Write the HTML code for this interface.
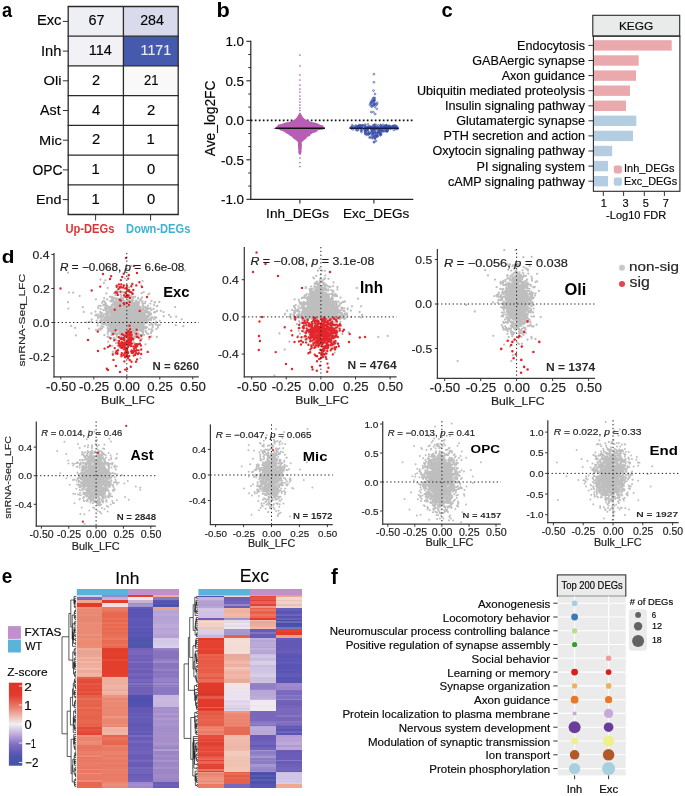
<!DOCTYPE html><html><head><meta charset="utf-8"><style>html,body{margin:0;padding:0;background:#fff;}svg{display:block;font-family:"Liberation Sans",sans-serif;will-change:transform;}text{stroke-width:0.18px;}</style></head><body><svg width="685" height="796" viewBox="0 0 685 796"><text x="2.0" y="17.2" font-size="20.55" font-weight="bold" textLength="10.1" lengthAdjust="spacingAndGlyphs">a</text>
<rect x="68.2" y="6.5" width="55.2" height="29.7" fill="#eeeef5"/>
<rect x="123.4" y="6.5" width="54.8" height="29.7" fill="#d9daec"/>
<rect x="68.2" y="36.2" width="55.2" height="29.7" fill="#f1f1f6"/>
<rect x="123.4" y="36.2" width="54.8" height="29.7" fill="#4559ad"/>
<rect x="68.2" y="65.9" width="55.2" height="29.7" fill="#ffffff"/>
<rect x="123.4" y="65.9" width="54.8" height="29.7" fill="#f9f9f9"/>
<rect x="68.2" y="95.6" width="55.2" height="29.7" fill="#ffffff"/>
<rect x="123.4" y="95.6" width="54.8" height="29.7" fill="#ffffff"/>
<rect x="68.2" y="125.3" width="55.2" height="29.7" fill="#ffffff"/>
<rect x="123.4" y="125.3" width="54.8" height="29.7" fill="#ffffff"/>
<rect x="68.2" y="155.1" width="55.2" height="29.7" fill="#ffffff"/>
<rect x="123.4" y="155.1" width="54.8" height="29.7" fill="#ffffff"/>
<rect x="68.2" y="184.8" width="55.2" height="29.7" fill="#ffffff"/>
<rect x="123.4" y="184.8" width="54.8" height="29.7" fill="#ffffff"/>
<text x="36.9" y="25.4" font-size="14.57" stroke="#1a1a1a" textLength="24.6" lengthAdjust="spacingAndGlyphs">Exc</text>
<line x1="62.8" y1="21.4" x2="68.2" y2="21.4" stroke="#333" stroke-width="1"/>
<text x="40.9" y="55.5" font-size="15.03" stroke="#1a1a1a" textLength="20.5" lengthAdjust="spacingAndGlyphs">Inh</text>
<line x1="62.8" y1="51.1" x2="68.2" y2="51.1" stroke="#333" stroke-width="1"/>
<text x="43.5" y="85.0" font-size="13.2" stroke="#1a1a1a" textLength="17.9" lengthAdjust="spacingAndGlyphs">Oli</text>
<line x1="62.8" y1="80.8" x2="68.2" y2="80.8" stroke="#333" stroke-width="1"/>
<text x="40.1" y="115.3" font-size="14.71" stroke="#1a1a1a" textLength="20.5" lengthAdjust="spacingAndGlyphs">Ast</text>
<line x1="62.8" y1="110.5" x2="68.2" y2="110.5" stroke="#333" stroke-width="1"/>
<text x="39.0" y="144.7" font-size="13.33" stroke="#1a1a1a" textLength="22.7" lengthAdjust="spacingAndGlyphs">Mic</text>
<line x1="62.8" y1="140.2" x2="68.2" y2="140.2" stroke="#333" stroke-width="1"/>
<text x="32.4" y="174.9" font-size="15.07" stroke="#1a1a1a" textLength="30.1" lengthAdjust="spacingAndGlyphs">OPC</text>
<line x1="62.8" y1="169.9" x2="68.2" y2="169.9" stroke="#333" stroke-width="1"/>
<text x="36.0" y="204.3" font-size="13.47" stroke="#1a1a1a" textLength="25.5" lengthAdjust="spacingAndGlyphs">End</text>
<line x1="62.8" y1="199.6" x2="68.2" y2="199.6" stroke="#333" stroke-width="1"/>
<text x="88.4" y="24.9" font-size="14.37" stroke="#1a1a1a" textLength="16.1" lengthAdjust="spacingAndGlyphs">67</text>
<text x="140.2" y="24.9" font-size="14.37" stroke="#1a1a1a" textLength="23.8" lengthAdjust="spacingAndGlyphs">284</text>
<text x="88.8" y="55.0" font-size="15.36" stroke="#1a1a1a" textLength="23.1" lengthAdjust="spacingAndGlyphs">114</text>
<text x="140.6" y="55.0" font-size="15.36" fill="#e9e9f3" stroke="#e9e9f3" textLength="30.5" lengthAdjust="spacingAndGlyphs">1171</text>
<text x="92.0" y="84.7" font-size="14.29" stroke="#1a1a1a" textLength="8.1" lengthAdjust="spacingAndGlyphs">2</text>
<text x="143.9" y="84.7" font-size="14.29" stroke="#1a1a1a" textLength="14.5" lengthAdjust="spacingAndGlyphs">21</text>
<text x="96.0" y="114.7" font-size="14.8" text-anchor="middle" stroke="#1a1a1a">4</text>
<text x="151.0" y="114.7" font-size="14.8" text-anchor="middle" stroke="#1a1a1a">2</text>
<text x="96.0" y="144.4" font-size="14.8" text-anchor="middle" stroke="#1a1a1a">2</text>
<text x="150.6" y="144.4" font-size="14.8" text-anchor="middle" stroke="#1a1a1a">1</text>
<text x="95.6" y="174.2" font-size="14.8" text-anchor="middle" stroke="#1a1a1a">1</text>
<text x="151.0" y="174.2" font-size="14.8" text-anchor="middle" stroke="#1a1a1a">0</text>
<text x="95.6" y="203.9" font-size="14.8" text-anchor="middle" stroke="#1a1a1a">1</text>
<text x="151.0" y="203.9" font-size="14.8" text-anchor="middle" stroke="#1a1a1a">0</text>
<line x1="67.6" y1="6.5" x2="178.8" y2="6.5" stroke="#2a2a2a" stroke-width="1.3"/>
<line x1="67.6" y1="36.2" x2="178.8" y2="36.2" stroke="#2a2a2a" stroke-width="1.3"/>
<line x1="67.6" y1="65.9" x2="178.8" y2="65.9" stroke="#2a2a2a" stroke-width="1.3"/>
<line x1="67.6" y1="95.6" x2="178.8" y2="95.6" stroke="#2a2a2a" stroke-width="1.3"/>
<line x1="67.6" y1="125.3" x2="178.8" y2="125.3" stroke="#2a2a2a" stroke-width="1.3"/>
<line x1="67.6" y1="155.1" x2="178.8" y2="155.1" stroke="#2a2a2a" stroke-width="1.3"/>
<line x1="67.6" y1="184.8" x2="178.8" y2="184.8" stroke="#2a2a2a" stroke-width="1.3"/>
<line x1="67.6" y1="214.5" x2="178.8" y2="214.5" stroke="#2a2a2a" stroke-width="1.3"/>
<line x1="68.2" y1="6.5" x2="68.2" y2="214.5" stroke="#2a2a2a" stroke-width="1.3"/>
<line x1="123.4" y1="6.5" x2="123.4" y2="214.5" stroke="#2a2a2a" stroke-width="1.3"/>
<line x1="178.2" y1="6.5" x2="178.2" y2="214.5" stroke="#2a2a2a" stroke-width="1.3"/>
<line x1="95.6" y1="214.5" x2="95.6" y2="220.5" stroke="#333" stroke-width="1"/>
<line x1="150.6" y1="214.5" x2="150.6" y2="220.5" stroke="#333" stroke-width="1"/>
<text x="65.4" y="233.3" font-size="12.79" font-weight="bold" fill="#dd3434" textLength="49.0" lengthAdjust="spacingAndGlyphs">Up-DEGs</text>
<text x="126.1" y="233.3" font-size="12.79" font-weight="bold" fill="#3fb1d2" textLength="64.3" lengthAdjust="spacingAndGlyphs">Down-DEGs</text>
<text x="216.4" y="17.2" font-size="20.27" font-weight="bold" textLength="13.3" lengthAdjust="spacingAndGlyphs">b</text>
<line x1="250.8" y1="40.7" x2="250.8" y2="199.9" stroke="#222" stroke-width="1.2"/>
<line x1="250.2" y1="199.3" x2="413.3" y2="199.3" stroke="#222" stroke-width="1.2"/>
<line x1="246.4" y1="41.3" x2="250.8" y2="41.3" stroke="#222" stroke-width="1.1"/>
<text x="244.0" y="46.1" font-size="13.4" text-anchor="end" stroke="#1a1a1a">1.0</text>
<line x1="246.4" y1="80.8" x2="250.8" y2="80.8" stroke="#222" stroke-width="1.1"/>
<text x="244.0" y="85.6" font-size="13.4" text-anchor="end" stroke="#1a1a1a">0.5</text>
<line x1="246.4" y1="120.3" x2="250.8" y2="120.3" stroke="#222" stroke-width="1.1"/>
<text x="244.0" y="125.1" font-size="13.4" text-anchor="end" stroke="#1a1a1a">0.0</text>
<line x1="246.4" y1="159.8" x2="250.8" y2="159.8" stroke="#222" stroke-width="1.1"/>
<text x="244.0" y="164.6" font-size="13.4" text-anchor="end" stroke="#1a1a1a">-0.5</text>
<line x1="246.4" y1="199.3" x2="250.8" y2="199.3" stroke="#222" stroke-width="1.1"/>
<text x="244.0" y="204.1" font-size="13.4" text-anchor="end" stroke="#1a1a1a">-1.0</text>
<line x1="248.3" y1="54.5" x2="250.8" y2="54.5" stroke="#222" stroke-width="1"/>
<line x1="248.3" y1="67.6" x2="250.8" y2="67.6" stroke="#222" stroke-width="1"/>
<line x1="248.3" y1="94.0" x2="250.8" y2="94.0" stroke="#222" stroke-width="1"/>
<line x1="248.3" y1="107.1" x2="250.8" y2="107.1" stroke="#222" stroke-width="1"/>
<line x1="248.3" y1="133.5" x2="250.8" y2="133.5" stroke="#222" stroke-width="1"/>
<line x1="248.3" y1="146.6" x2="250.8" y2="146.6" stroke="#222" stroke-width="1"/>
<line x1="248.3" y1="173.0" x2="250.8" y2="173.0" stroke="#222" stroke-width="1"/>
<line x1="248.3" y1="186.1" x2="250.8" y2="186.1" stroke="#222" stroke-width="1"/>
<line x1="299.9" y1="199.3" x2="299.9" y2="203.6" stroke="#222" stroke-width="1.1"/>
<line x1="373.9" y1="199.3" x2="373.9" y2="203.6" stroke="#222" stroke-width="1.1"/>
<text x="266.1" y="218.2" font-size="12.79" stroke="#1a1a1a" textLength="62.9" lengthAdjust="spacingAndGlyphs">Inh_DEGs</text>
<text x="343.0" y="218.2" font-size="12.79" stroke="#1a1a1a" textLength="66.4" lengthAdjust="spacingAndGlyphs">Exc_DEGs</text>
<text x="214.9" y="156.3" font-size="14.01" stroke="#1a1a1a" textLength="75.8" lengthAdjust="spacingAndGlyphs" transform="rotate(-90 214.9 156.3)">Ave_log2FC</text>
<line x1="250.8" y1="120.3" x2="413.3" y2="120.3" stroke="#111" stroke-width="1.7" stroke-dasharray="1.7 2.3"/>
<polygon points="300.5,112.8 300.8,113.5 301.1,114.2 301.6,114.9 301.8,115.6 302.4,116.3 302.6,117.0 303.5,117.7 304.2,118.4 304.9,119.1 306.2,119.8 307.9,120.5 309.6,121.2 311.2,121.9 314.6,122.6 317.1,123.3 318.9,124.0 319.9,124.7 323.2,125.4 323.0,126.1 324.0,126.8 324.5,127.5 322.5,128.2 323.3,128.9 323.6,129.6 317.6,130.3 317.7,131.0 316.5,131.7 315.1,132.4 312.7,133.1 312.0,133.8 310.5,134.5 310.3,135.2 310.1,135.9 308.2,136.6 306.7,137.3 306.7,138.0 306.1,138.7 304.8,139.4 304.5,140.1 303.3,140.8 302.5,141.5 301.6,142.2 301.7,142.9 301.8,143.6 301.9,144.3 301.9,145.0 301.9,145.7 301.9,146.4 301.6,147.1 301.7,147.8 301.9,148.5 301.5,149.2 301.5,149.9 301.4,150.6 301.6,151.3 301.6,152.0 301.3,152.7 301.1,153.4 301.0,154.1 300.6,154.8 299.2,154.8 298.7,154.1 298.6,153.4 298.4,152.7 298.3,152.0 298.2,151.3 298.4,150.6 298.4,149.9 298.3,149.2 298.1,148.5 298.1,147.8 298.1,147.1 298.1,146.4 298.0,145.7 298.0,145.0 298.0,144.3 297.9,143.6 298.1,142.9 298.1,142.2 297.2,141.5 296.6,140.8 295.7,140.1 294.9,139.4 293.5,138.7 293.2,138.0 291.8,137.3 291.9,136.6 289.8,135.9 289.8,135.2 288.4,134.5 287.3,133.8 285.4,133.1 285.3,132.4 284.2,131.7 282.6,131.0 279.9,130.3 279.6,129.6 275.5,128.9 272.9,128.2 277.2,127.5 275.8,126.8 277.5,126.1 277.8,125.4 277.5,124.7 281.1,124.0 283.8,123.3 285.3,122.6 289.9,121.9 290.0,121.2 292.7,120.5 294.2,119.8 295.1,119.1 295.8,118.4 296.5,117.7 297.0,117.0 297.4,116.3 298.0,115.6 298.3,114.9 298.7,114.2 299.0,113.5 299.3,112.8" fill="#b95db4"/>
<path d="M299.9 55.0h0M299.9 66.0h0M299.9 75.0h0M299.9 80.0h0M299.9 85.0h0M299.9 89.0h0M299.9 92.0h0M299.9 96.0h0M299.9 99.0h0M299.9 102.0h0M299.9 105.0h0M299.9 108.0h0M299.9 110.5h0M299.9 158.0h0M299.9 162.5h0M299.9 166.5h0" stroke="#b95db4" stroke-width="1.70" stroke-linecap="round" fill="none"/>
<line x1="275.3" y1="128.3" x2="325.0" y2="128.3" stroke="#111" stroke-width="1.5"/>
<path d="M375.4 124.7a0.9 0.9 0 1 0 -1.8 0a0.9 0.9 0 1 0 1.8 0M361.7 127.8a0.9 0.9 0 1 0 -1.8 0a0.9 0.9 0 1 0 1.8 0M368.2 128.4a0.9 0.9 0 1 0 -1.8 0a0.9 0.9 0 1 0 1.8 0M367.4 128.3a0.9 0.9 0 1 0 -1.8 0a0.9 0.9 0 1 0 1.8 0M378.3 128.3a0.9 0.9 0 1 0 -1.8 0a0.9 0.9 0 1 0 1.8 0M363.8 125.3a0.9 0.9 0 1 0 -1.8 0a0.9 0.9 0 1 0 1.8 0M372.1 129.2a0.9 0.9 0 1 0 -1.8 0a0.9 0.9 0 1 0 1.8 0M375.5 126.9a0.9 0.9 0 1 0 -1.8 0a0.9 0.9 0 1 0 1.8 0M393.8 126.0a0.9 0.9 0 1 0 -1.8 0a0.9 0.9 0 1 0 1.8 0M378.7 126.6a0.9 0.9 0 1 0 -1.8 0a0.9 0.9 0 1 0 1.8 0M393.0 126.3a0.9 0.9 0 1 0 -1.8 0a0.9 0.9 0 1 0 1.8 0M395.1 125.6a0.9 0.9 0 1 0 -1.8 0a0.9 0.9 0 1 0 1.8 0M371.4 127.1a0.9 0.9 0 1 0 -1.8 0a0.9 0.9 0 1 0 1.8 0M396.4 127.3a0.9 0.9 0 1 0 -1.8 0a0.9 0.9 0 1 0 1.8 0M389.5 126.9a0.9 0.9 0 1 0 -1.8 0a0.9 0.9 0 1 0 1.8 0M385.2 127.3a0.9 0.9 0 1 0 -1.8 0a0.9 0.9 0 1 0 1.8 0M366.8 126.9a0.9 0.9 0 1 0 -1.8 0a0.9 0.9 0 1 0 1.8 0M360.5 126.3a0.9 0.9 0 1 0 -1.8 0a0.9 0.9 0 1 0 1.8 0M361.0 126.4a0.9 0.9 0 1 0 -1.8 0a0.9 0.9 0 1 0 1.8 0M391.1 127.7a0.9 0.9 0 1 0 -1.8 0a0.9 0.9 0 1 0 1.8 0M373.8 125.4a0.9 0.9 0 1 0 -1.8 0a0.9 0.9 0 1 0 1.8 0M382.4 126.5a0.9 0.9 0 1 0 -1.8 0a0.9 0.9 0 1 0 1.8 0M396.9 128.3a0.9 0.9 0 1 0 -1.8 0a0.9 0.9 0 1 0 1.8 0M380.9 127.4a0.9 0.9 0 1 0 -1.8 0a0.9 0.9 0 1 0 1.8 0M359.6 127.9a0.9 0.9 0 1 0 -1.8 0a0.9 0.9 0 1 0 1.8 0M370.6 127.1a0.9 0.9 0 1 0 -1.8 0a0.9 0.9 0 1 0 1.8 0M389.9 125.7a0.9 0.9 0 1 0 -1.8 0a0.9 0.9 0 1 0 1.8 0M356.2 126.6a0.9 0.9 0 1 0 -1.8 0a0.9 0.9 0 1 0 1.8 0M389.3 127.3a0.9 0.9 0 1 0 -1.8 0a0.9 0.9 0 1 0 1.8 0M375.9 126.6a0.9 0.9 0 1 0 -1.8 0a0.9 0.9 0 1 0 1.8 0M353.0 126.9a0.9 0.9 0 1 0 -1.8 0a0.9 0.9 0 1 0 1.8 0M351.8 127.3a0.9 0.9 0 1 0 -1.8 0a0.9 0.9 0 1 0 1.8 0M362.7 128.2a0.9 0.9 0 1 0 -1.8 0a0.9 0.9 0 1 0 1.8 0M378.0 126.6a0.9 0.9 0 1 0 -1.8 0a0.9 0.9 0 1 0 1.8 0M379.1 128.5a0.9 0.9 0 1 0 -1.8 0a0.9 0.9 0 1 0 1.8 0M383.3 127.1a0.9 0.9 0 1 0 -1.8 0a0.9 0.9 0 1 0 1.8 0M365.7 128.3a0.9 0.9 0 1 0 -1.8 0a0.9 0.9 0 1 0 1.8 0M376.6 128.5a0.9 0.9 0 1 0 -1.8 0a0.9 0.9 0 1 0 1.8 0M382.4 129.3a0.9 0.9 0 1 0 -1.8 0a0.9 0.9 0 1 0 1.8 0M360.0 128.4a0.9 0.9 0 1 0 -1.8 0a0.9 0.9 0 1 0 1.8 0M352.7 128.4a0.9 0.9 0 1 0 -1.8 0a0.9 0.9 0 1 0 1.8 0M396.9 129.2a0.9 0.9 0 1 0 -1.8 0a0.9 0.9 0 1 0 1.8 0M353.2 125.1a0.9 0.9 0 1 0 -1.8 0a0.9 0.9 0 1 0 1.8 0M366.1 126.0a0.9 0.9 0 1 0 -1.8 0a0.9 0.9 0 1 0 1.8 0M380.9 128.4a0.9 0.9 0 1 0 -1.8 0a0.9 0.9 0 1 0 1.8 0M365.9 124.6a0.9 0.9 0 1 0 -1.8 0a0.9 0.9 0 1 0 1.8 0M389.1 127.4a0.9 0.9 0 1 0 -1.8 0a0.9 0.9 0 1 0 1.8 0M387.6 127.4a0.9 0.9 0 1 0 -1.8 0a0.9 0.9 0 1 0 1.8 0M360.3 125.3a0.9 0.9 0 1 0 -1.8 0a0.9 0.9 0 1 0 1.8 0M381.5 126.0a0.9 0.9 0 1 0 -1.8 0a0.9 0.9 0 1 0 1.8 0M355.4 128.0a0.9 0.9 0 1 0 -1.8 0a0.9 0.9 0 1 0 1.8 0M381.1 127.8a0.9 0.9 0 1 0 -1.8 0a0.9 0.9 0 1 0 1.8 0M389.4 126.4a0.9 0.9 0 1 0 -1.8 0a0.9 0.9 0 1 0 1.8 0M385.5 126.1a0.9 0.9 0 1 0 -1.8 0a0.9 0.9 0 1 0 1.8 0M393.7 126.3a0.9 0.9 0 1 0 -1.8 0a0.9 0.9 0 1 0 1.8 0M352.1 127.7a0.9 0.9 0 1 0 -1.8 0a0.9 0.9 0 1 0 1.8 0M361.1 125.5a0.9 0.9 0 1 0 -1.8 0a0.9 0.9 0 1 0 1.8 0M396.2 127.2a0.9 0.9 0 1 0 -1.8 0a0.9 0.9 0 1 0 1.8 0M362.9 125.4a0.9 0.9 0 1 0 -1.8 0a0.9 0.9 0 1 0 1.8 0M382.3 128.3a0.9 0.9 0 1 0 -1.8 0a0.9 0.9 0 1 0 1.8 0M369.1 127.4a0.9 0.9 0 1 0 -1.8 0a0.9 0.9 0 1 0 1.8 0M382.6 128.8a0.9 0.9 0 1 0 -1.8 0a0.9 0.9 0 1 0 1.8 0M368.9 124.4a0.9 0.9 0 1 0 -1.8 0a0.9 0.9 0 1 0 1.8 0M376.7 124.7a0.9 0.9 0 1 0 -1.8 0a0.9 0.9 0 1 0 1.8 0M362.7 126.4a0.9 0.9 0 1 0 -1.8 0a0.9 0.9 0 1 0 1.8 0M372.8 129.0a0.9 0.9 0 1 0 -1.8 0a0.9 0.9 0 1 0 1.8 0M386.9 125.8a0.9 0.9 0 1 0 -1.8 0a0.9 0.9 0 1 0 1.8 0M365.2 128.8a0.9 0.9 0 1 0 -1.8 0a0.9 0.9 0 1 0 1.8 0M387.4 127.4a0.9 0.9 0 1 0 -1.8 0a0.9 0.9 0 1 0 1.8 0M357.2 127.3a0.9 0.9 0 1 0 -1.8 0a0.9 0.9 0 1 0 1.8 0M354.7 128.0a0.9 0.9 0 1 0 -1.8 0a0.9 0.9 0 1 0 1.8 0M363.7 125.9a0.9 0.9 0 1 0 -1.8 0a0.9 0.9 0 1 0 1.8 0M390.8 126.4a0.9 0.9 0 1 0 -1.8 0a0.9 0.9 0 1 0 1.8 0M359.8 125.6a0.9 0.9 0 1 0 -1.8 0a0.9 0.9 0 1 0 1.8 0M393.2 127.3a0.9 0.9 0 1 0 -1.8 0a0.9 0.9 0 1 0 1.8 0M384.9 129.5a0.9 0.9 0 1 0 -1.8 0a0.9 0.9 0 1 0 1.8 0M385.7 126.7a0.9 0.9 0 1 0 -1.8 0a0.9 0.9 0 1 0 1.8 0M390.4 127.8a0.9 0.9 0 1 0 -1.8 0a0.9 0.9 0 1 0 1.8 0M368.6 127.6a0.9 0.9 0 1 0 -1.8 0a0.9 0.9 0 1 0 1.8 0M375.7 127.4a0.9 0.9 0 1 0 -1.8 0a0.9 0.9 0 1 0 1.8 0M360.0 126.9a0.9 0.9 0 1 0 -1.8 0a0.9 0.9 0 1 0 1.8 0M376.5 128.8a0.9 0.9 0 1 0 -1.8 0a0.9 0.9 0 1 0 1.8 0M393.8 127.3a0.9 0.9 0 1 0 -1.8 0a0.9 0.9 0 1 0 1.8 0M359.6 126.6a0.9 0.9 0 1 0 -1.8 0a0.9 0.9 0 1 0 1.8 0M381.7 124.9a0.9 0.9 0 1 0 -1.8 0a0.9 0.9 0 1 0 1.8 0M398.6 128.6a0.9 0.9 0 1 0 -1.8 0a0.9 0.9 0 1 0 1.8 0M391.3 128.2a0.9 0.9 0 1 0 -1.8 0a0.9 0.9 0 1 0 1.8 0M369.8 127.6a0.9 0.9 0 1 0 -1.8 0a0.9 0.9 0 1 0 1.8 0M359.7 127.0a0.9 0.9 0 1 0 -1.8 0a0.9 0.9 0 1 0 1.8 0M387.2 129.3a0.9 0.9 0 1 0 -1.8 0a0.9 0.9 0 1 0 1.8 0M372.2 127.2a0.9 0.9 0 1 0 -1.8 0a0.9 0.9 0 1 0 1.8 0M370.9 126.5a0.9 0.9 0 1 0 -1.8 0a0.9 0.9 0 1 0 1.8 0M391.3 128.0a0.9 0.9 0 1 0 -1.8 0a0.9 0.9 0 1 0 1.8 0M369.4 126.8a0.9 0.9 0 1 0 -1.8 0a0.9 0.9 0 1 0 1.8 0M385.4 127.2a0.9 0.9 0 1 0 -1.8 0a0.9 0.9 0 1 0 1.8 0M390.7 126.8a0.9 0.9 0 1 0 -1.8 0a0.9 0.9 0 1 0 1.8 0M369.4 127.0a0.9 0.9 0 1 0 -1.8 0a0.9 0.9 0 1 0 1.8 0M387.3 125.2a0.9 0.9 0 1 0 -1.8 0a0.9 0.9 0 1 0 1.8 0M357.9 126.2a0.9 0.9 0 1 0 -1.8 0a0.9 0.9 0 1 0 1.8 0M390.4 126.3a0.9 0.9 0 1 0 -1.8 0a0.9 0.9 0 1 0 1.8 0M356.7 125.5a0.9 0.9 0 1 0 -1.8 0a0.9 0.9 0 1 0 1.8 0M398.2 126.9a0.9 0.9 0 1 0 -1.8 0a0.9 0.9 0 1 0 1.8 0M378.4 127.5a0.9 0.9 0 1 0 -1.8 0a0.9 0.9 0 1 0 1.8 0M386.8 126.0a0.9 0.9 0 1 0 -1.8 0a0.9 0.9 0 1 0 1.8 0M394.7 129.9a0.9 0.9 0 1 0 -1.8 0a0.9 0.9 0 1 0 1.8 0M387.7 127.0a0.9 0.9 0 1 0 -1.8 0a0.9 0.9 0 1 0 1.8 0M373.5 127.7a0.9 0.9 0 1 0 -1.8 0a0.9 0.9 0 1 0 1.8 0M365.9 125.9a0.9 0.9 0 1 0 -1.8 0a0.9 0.9 0 1 0 1.8 0M385.3 126.1a0.9 0.9 0 1 0 -1.8 0a0.9 0.9 0 1 0 1.8 0M353.5 129.3a0.9 0.9 0 1 0 -1.8 0a0.9 0.9 0 1 0 1.8 0M393.5 128.0a0.9 0.9 0 1 0 -1.8 0a0.9 0.9 0 1 0 1.8 0M362.6 127.0a0.9 0.9 0 1 0 -1.8 0a0.9 0.9 0 1 0 1.8 0M361.7 125.5a0.9 0.9 0 1 0 -1.8 0a0.9 0.9 0 1 0 1.8 0M375.0 129.2a0.9 0.9 0 1 0 -1.8 0a0.9 0.9 0 1 0 1.8 0M359.3 126.1a0.9 0.9 0 1 0 -1.8 0a0.9 0.9 0 1 0 1.8 0M374.0 126.6a0.9 0.9 0 1 0 -1.8 0a0.9 0.9 0 1 0 1.8 0M383.0 127.0a0.9 0.9 0 1 0 -1.8 0a0.9 0.9 0 1 0 1.8 0M376.1 127.7a0.9 0.9 0 1 0 -1.8 0a0.9 0.9 0 1 0 1.8 0M375.6 127.2a0.9 0.9 0 1 0 -1.8 0a0.9 0.9 0 1 0 1.8 0M376.5 127.2a0.9 0.9 0 1 0 -1.8 0a0.9 0.9 0 1 0 1.8 0M388.8 129.7a0.9 0.9 0 1 0 -1.8 0a0.9 0.9 0 1 0 1.8 0M359.4 127.4a0.9 0.9 0 1 0 -1.8 0a0.9 0.9 0 1 0 1.8 0M356.2 127.8a0.9 0.9 0 1 0 -1.8 0a0.9 0.9 0 1 0 1.8 0M396.0 125.5a0.9 0.9 0 1 0 -1.8 0a0.9 0.9 0 1 0 1.8 0M397.4 128.2a0.9 0.9 0 1 0 -1.8 0a0.9 0.9 0 1 0 1.8 0M375.1 125.1a0.9 0.9 0 1 0 -1.8 0a0.9 0.9 0 1 0 1.8 0M394.7 126.4a0.9 0.9 0 1 0 -1.8 0a0.9 0.9 0 1 0 1.8 0M365.9 130.2a0.9 0.9 0 1 0 -1.8 0a0.9 0.9 0 1 0 1.8 0M354.0 126.3a0.9 0.9 0 1 0 -1.8 0a0.9 0.9 0 1 0 1.8 0M373.1 127.2a0.9 0.9 0 1 0 -1.8 0a0.9 0.9 0 1 0 1.8 0M387.3 125.8a0.9 0.9 0 1 0 -1.8 0a0.9 0.9 0 1 0 1.8 0M387.3 125.8a0.9 0.9 0 1 0 -1.8 0a0.9 0.9 0 1 0 1.8 0M391.6 128.7a0.9 0.9 0 1 0 -1.8 0a0.9 0.9 0 1 0 1.8 0M386.1 126.7a0.9 0.9 0 1 0 -1.8 0a0.9 0.9 0 1 0 1.8 0M358.8 127.1a0.9 0.9 0 1 0 -1.8 0a0.9 0.9 0 1 0 1.8 0M358.8 126.9a0.9 0.9 0 1 0 -1.8 0a0.9 0.9 0 1 0 1.8 0M379.4 125.4a0.9 0.9 0 1 0 -1.8 0a0.9 0.9 0 1 0 1.8 0M395.8 127.1a0.9 0.9 0 1 0 -1.8 0a0.9 0.9 0 1 0 1.8 0M375.5 128.6a0.9 0.9 0 1 0 -1.8 0a0.9 0.9 0 1 0 1.8 0M397.1 126.3a0.9 0.9 0 1 0 -1.8 0a0.9 0.9 0 1 0 1.8 0M389.4 127.8a0.9 0.9 0 1 0 -1.8 0a0.9 0.9 0 1 0 1.8 0M389.3 128.6a0.9 0.9 0 1 0 -1.8 0a0.9 0.9 0 1 0 1.8 0M381.7 125.7a0.9 0.9 0 1 0 -1.8 0a0.9 0.9 0 1 0 1.8 0M371.6 128.3a0.9 0.9 0 1 0 -1.8 0a0.9 0.9 0 1 0 1.8 0M384.0 124.8a0.9 0.9 0 1 0 -1.8 0a0.9 0.9 0 1 0 1.8 0M366.9 128.1a0.9 0.9 0 1 0 -1.8 0a0.9 0.9 0 1 0 1.8 0M360.8 126.8a0.9 0.9 0 1 0 -1.8 0a0.9 0.9 0 1 0 1.8 0M387.7 125.8a0.9 0.9 0 1 0 -1.8 0a0.9 0.9 0 1 0 1.8 0M385.7 127.1a0.9 0.9 0 1 0 -1.8 0a0.9 0.9 0 1 0 1.8 0M396.8 126.5a0.9 0.9 0 1 0 -1.8 0a0.9 0.9 0 1 0 1.8 0M382.5 130.2a0.9 0.9 0 1 0 -1.8 0a0.9 0.9 0 1 0 1.8 0M381.6 131.2a0.9 0.9 0 1 0 -1.8 0a0.9 0.9 0 1 0 1.8 0M375.7 135.1a0.9 0.9 0 1 0 -1.8 0a0.9 0.9 0 1 0 1.8 0M387.9 131.0a0.9 0.9 0 1 0 -1.8 0a0.9 0.9 0 1 0 1.8 0M373.5 131.8a0.9 0.9 0 1 0 -1.8 0a0.9 0.9 0 1 0 1.8 0M376.7 129.7a0.9 0.9 0 1 0 -1.8 0a0.9 0.9 0 1 0 1.8 0M376.7 133.2a0.9 0.9 0 1 0 -1.8 0a0.9 0.9 0 1 0 1.8 0M369.5 134.1a0.9 0.9 0 1 0 -1.8 0a0.9 0.9 0 1 0 1.8 0M363.2 129.7a0.9 0.9 0 1 0 -1.8 0a0.9 0.9 0 1 0 1.8 0M377.7 136.4a0.9 0.9 0 1 0 -1.8 0a0.9 0.9 0 1 0 1.8 0M376.1 132.4a0.9 0.9 0 1 0 -1.8 0a0.9 0.9 0 1 0 1.8 0M374.1 133.3a0.9 0.9 0 1 0 -1.8 0a0.9 0.9 0 1 0 1.8 0M378.5 136.2a0.9 0.9 0 1 0 -1.8 0a0.9 0.9 0 1 0 1.8 0M378.9 131.2a0.9 0.9 0 1 0 -1.8 0a0.9 0.9 0 1 0 1.8 0M376.1 132.9a0.9 0.9 0 1 0 -1.8 0a0.9 0.9 0 1 0 1.8 0M383.4 130.2a0.9 0.9 0 1 0 -1.8 0a0.9 0.9 0 1 0 1.8 0M373.5 129.7a0.9 0.9 0 1 0 -1.8 0a0.9 0.9 0 1 0 1.8 0M374.9 130.0a0.9 0.9 0 1 0 -1.8 0a0.9 0.9 0 1 0 1.8 0M380.8 133.8a0.9 0.9 0 1 0 -1.8 0a0.9 0.9 0 1 0 1.8 0M388.2 129.7a0.9 0.9 0 1 0 -1.8 0a0.9 0.9 0 1 0 1.8 0M373.6 132.4a0.9 0.9 0 1 0 -1.8 0a0.9 0.9 0 1 0 1.8 0M370.6 137.6a0.9 0.9 0 1 0 -1.8 0a0.9 0.9 0 1 0 1.8 0M388.3 129.9a0.9 0.9 0 1 0 -1.8 0a0.9 0.9 0 1 0 1.8 0M375.5 136.4a0.9 0.9 0 1 0 -1.8 0a0.9 0.9 0 1 0 1.8 0M378.7 132.8a0.9 0.9 0 1 0 -1.8 0a0.9 0.9 0 1 0 1.8 0M372.5 131.2a0.9 0.9 0 1 0 -1.8 0a0.9 0.9 0 1 0 1.8 0M370.2 132.7a0.9 0.9 0 1 0 -1.8 0a0.9 0.9 0 1 0 1.8 0M373.3 132.9a0.9 0.9 0 1 0 -1.8 0a0.9 0.9 0 1 0 1.8 0M373.8 133.9a0.9 0.9 0 1 0 -1.8 0a0.9 0.9 0 1 0 1.8 0M375.5 137.8a0.9 0.9 0 1 0 -1.8 0a0.9 0.9 0 1 0 1.8 0M386.8 130.9a0.9 0.9 0 1 0 -1.8 0a0.9 0.9 0 1 0 1.8 0M365.7 129.6a0.9 0.9 0 1 0 -1.8 0a0.9 0.9 0 1 0 1.8 0M374.6 129.7a0.9 0.9 0 1 0 -1.8 0a0.9 0.9 0 1 0 1.8 0M367.5 134.2a0.9 0.9 0 1 0 -1.8 0a0.9 0.9 0 1 0 1.8 0M369.5 134.1a0.9 0.9 0 1 0 -1.8 0a0.9 0.9 0 1 0 1.8 0M381.9 132.9a0.9 0.9 0 1 0 -1.8 0a0.9 0.9 0 1 0 1.8 0M374.3 133.8a0.9 0.9 0 1 0 -1.8 0a0.9 0.9 0 1 0 1.8 0M373.5 131.1a0.9 0.9 0 1 0 -1.8 0a0.9 0.9 0 1 0 1.8 0M375.0 142.2a0.9 0.9 0 1 0 -1.8 0a0.9 0.9 0 1 0 1.8 0M371.8 134.3a0.9 0.9 0 1 0 -1.8 0a0.9 0.9 0 1 0 1.8 0M379.3 134.4a0.9 0.9 0 1 0 -1.8 0a0.9 0.9 0 1 0 1.8 0M377.5 136.3a0.9 0.9 0 1 0 -1.8 0a0.9 0.9 0 1 0 1.8 0M374.1 135.7a0.9 0.9 0 1 0 -1.8 0a0.9 0.9 0 1 0 1.8 0M380.1 131.3a0.9 0.9 0 1 0 -1.8 0a0.9 0.9 0 1 0 1.8 0M376.0 138.0a0.9 0.9 0 1 0 -1.8 0a0.9 0.9 0 1 0 1.8 0M380.1 129.6a0.9 0.9 0 1 0 -1.8 0a0.9 0.9 0 1 0 1.8 0M373.9 129.9a0.9 0.9 0 1 0 -1.8 0a0.9 0.9 0 1 0 1.8 0M379.8 129.8a0.9 0.9 0 1 0 -1.8 0a0.9 0.9 0 1 0 1.8 0M381.2 135.3a0.9 0.9 0 1 0 -1.8 0a0.9 0.9 0 1 0 1.8 0M367.9 130.1a0.9 0.9 0 1 0 -1.8 0a0.9 0.9 0 1 0 1.8 0M358.4 129.8a0.9 0.9 0 1 0 -1.8 0a0.9 0.9 0 1 0 1.8 0M380.7 132.8a0.9 0.9 0 1 0 -1.8 0a0.9 0.9 0 1 0 1.8 0M369.6 134.2a0.9 0.9 0 1 0 -1.8 0a0.9 0.9 0 1 0 1.8 0M368.2 130.0a0.9 0.9 0 1 0 -1.8 0a0.9 0.9 0 1 0 1.8 0M374.4 130.3a0.9 0.9 0 1 0 -1.8 0a0.9 0.9 0 1 0 1.8 0M377.7 133.8a0.9 0.9 0 1 0 -1.8 0a0.9 0.9 0 1 0 1.8 0M381.6 132.0a0.9 0.9 0 1 0 -1.8 0a0.9 0.9 0 1 0 1.8 0M368.6 129.5a0.9 0.9 0 1 0 -1.8 0a0.9 0.9 0 1 0 1.8 0M372.4 129.8a0.9 0.9 0 1 0 -1.8 0a0.9 0.9 0 1 0 1.8 0M366.1 132.3a0.9 0.9 0 1 0 -1.8 0a0.9 0.9 0 1 0 1.8 0M375.8 138.8a0.9 0.9 0 1 0 -1.8 0a0.9 0.9 0 1 0 1.8 0M362.0 130.2a0.9 0.9 0 1 0 -1.8 0a0.9 0.9 0 1 0 1.8 0M368.7 131.4a0.9 0.9 0 1 0 -1.8 0a0.9 0.9 0 1 0 1.8 0M366.3 133.9a0.9 0.9 0 1 0 -1.8 0a0.9 0.9 0 1 0 1.8 0M366.3 132.0a0.9 0.9 0 1 0 -1.8 0a0.9 0.9 0 1 0 1.8 0M367.6 134.9a0.9 0.9 0 1 0 -1.8 0a0.9 0.9 0 1 0 1.8 0M366.6 130.1a0.9 0.9 0 1 0 -1.8 0a0.9 0.9 0 1 0 1.8 0M366.0 131.5a0.9 0.9 0 1 0 -1.8 0a0.9 0.9 0 1 0 1.8 0M373.8 137.0a0.9 0.9 0 1 0 -1.8 0a0.9 0.9 0 1 0 1.8 0M385.2 130.6a0.9 0.9 0 1 0 -1.8 0a0.9 0.9 0 1 0 1.8 0M387.2 131.2a0.9 0.9 0 1 0 -1.8 0a0.9 0.9 0 1 0 1.8 0M380.2 130.7a0.9 0.9 0 1 0 -1.8 0a0.9 0.9 0 1 0 1.8 0M379.4 131.4a0.9 0.9 0 1 0 -1.8 0a0.9 0.9 0 1 0 1.8 0M378.0 136.3a0.9 0.9 0 1 0 -1.8 0a0.9 0.9 0 1 0 1.8 0M381.8 134.8a0.9 0.9 0 1 0 -1.8 0a0.9 0.9 0 1 0 1.8 0M362.1 130.6a0.9 0.9 0 1 0 -1.8 0a0.9 0.9 0 1 0 1.8 0M366.2 133.7a0.9 0.9 0 1 0 -1.8 0a0.9 0.9 0 1 0 1.8 0M376.9 140.9a0.9 0.9 0 1 0 -1.8 0a0.9 0.9 0 1 0 1.8 0M376.1 136.2a0.9 0.9 0 1 0 -1.8 0a0.9 0.9 0 1 0 1.8 0M379.0 132.4a0.9 0.9 0 1 0 -1.8 0a0.9 0.9 0 1 0 1.8 0M388.2 131.2a0.9 0.9 0 1 0 -1.8 0a0.9 0.9 0 1 0 1.8 0M373.2 137.4a0.9 0.9 0 1 0 -1.8 0a0.9 0.9 0 1 0 1.8 0M357.1 130.0a0.9 0.9 0 1 0 -1.8 0a0.9 0.9 0 1 0 1.8 0M377.6 135.2a0.9 0.9 0 1 0 -1.8 0a0.9 0.9 0 1 0 1.8 0M384.7 131.4a0.9 0.9 0 1 0 -1.8 0a0.9 0.9 0 1 0 1.8 0M368.8 130.0a0.9 0.9 0 1 0 -1.8 0a0.9 0.9 0 1 0 1.8 0M367.0 133.0a0.9 0.9 0 1 0 -1.8 0a0.9 0.9 0 1 0 1.8 0M370.5 132.8a0.9 0.9 0 1 0 -1.8 0a0.9 0.9 0 1 0 1.8 0M381.9 134.3a0.9 0.9 0 1 0 -1.8 0a0.9 0.9 0 1 0 1.8 0M387.2 130.9a0.9 0.9 0 1 0 -1.8 0a0.9 0.9 0 1 0 1.8 0M381.0 134.0a0.9 0.9 0 1 0 -1.8 0a0.9 0.9 0 1 0 1.8 0M362.4 132.1a0.9 0.9 0 1 0 -1.8 0a0.9 0.9 0 1 0 1.8 0M366.9 130.9a0.9 0.9 0 1 0 -1.8 0a0.9 0.9 0 1 0 1.8 0M383.7 131.1a0.9 0.9 0 1 0 -1.8 0a0.9 0.9 0 1 0 1.8 0M369.1 133.4a0.9 0.9 0 1 0 -1.8 0a0.9 0.9 0 1 0 1.8 0M388.2 131.0a0.9 0.9 0 1 0 -1.8 0a0.9 0.9 0 1 0 1.8 0M380.7 131.2a0.9 0.9 0 1 0 -1.8 0a0.9 0.9 0 1 0 1.8 0M387.2 129.6a0.9 0.9 0 1 0 -1.8 0a0.9 0.9 0 1 0 1.8 0M374.9 141.9a0.9 0.9 0 1 0 -1.8 0a0.9 0.9 0 1 0 1.8 0M376.1 131.9a0.9 0.9 0 1 0 -1.8 0a0.9 0.9 0 1 0 1.8 0M370.7 137.2a0.9 0.9 0 1 0 -1.8 0a0.9 0.9 0 1 0 1.8 0M383.0 130.9a0.9 0.9 0 1 0 -1.8 0a0.9 0.9 0 1 0 1.8 0M370.9 133.0a0.9 0.9 0 1 0 -1.8 0a0.9 0.9 0 1 0 1.8 0M373.0 129.7a0.9 0.9 0 1 0 -1.8 0a0.9 0.9 0 1 0 1.8 0M373.1 138.3a0.9 0.9 0 1 0 -1.8 0a0.9 0.9 0 1 0 1.8 0M380.0 129.7a0.9 0.9 0 1 0 -1.8 0a0.9 0.9 0 1 0 1.8 0M373.2 135.5a0.9 0.9 0 1 0 -1.8 0a0.9 0.9 0 1 0 1.8 0M377.2 136.1a0.9 0.9 0 1 0 -1.8 0a0.9 0.9 0 1 0 1.8 0M358.5 130.3a0.9 0.9 0 1 0 -1.8 0a0.9 0.9 0 1 0 1.8 0M379.3 133.0a0.9 0.9 0 1 0 -1.8 0a0.9 0.9 0 1 0 1.8 0M375.7 98.0a0.9 0.9 0 1 0 -1.8 0a0.9 0.9 0 1 0 1.8 0M374.5 105.3a0.9 0.9 0 1 0 -1.8 0a0.9 0.9 0 1 0 1.8 0M374.6 97.9a0.9 0.9 0 1 0 -1.8 0a0.9 0.9 0 1 0 1.8 0M372.7 106.0a0.9 0.9 0 1 0 -1.8 0a0.9 0.9 0 1 0 1.8 0M372.9 102.1a0.9 0.9 0 1 0 -1.8 0a0.9 0.9 0 1 0 1.8 0M372.3 103.0a0.9 0.9 0 1 0 -1.8 0a0.9 0.9 0 1 0 1.8 0M374.6 100.4a0.9 0.9 0 1 0 -1.8 0a0.9 0.9 0 1 0 1.8 0M377.1 104.8a0.9 0.9 0 1 0 -1.8 0a0.9 0.9 0 1 0 1.8 0M372.5 106.7a0.9 0.9 0 1 0 -1.8 0a0.9 0.9 0 1 0 1.8 0M374.8 100.3a0.9 0.9 0 1 0 -1.8 0a0.9 0.9 0 1 0 1.8 0M372.1 102.6a0.9 0.9 0 1 0 -1.8 0a0.9 0.9 0 1 0 1.8 0M374.6 104.9a0.9 0.9 0 1 0 -1.8 0a0.9 0.9 0 1 0 1.8 0M372.1 101.5a0.9 0.9 0 1 0 -1.8 0a0.9 0.9 0 1 0 1.8 0M377.6 108.8a0.9 0.9 0 1 0 -1.8 0a0.9 0.9 0 1 0 1.8 0M372.2 112.0a0.9 0.9 0 1 0 -1.8 0a0.9 0.9 0 1 0 1.8 0M373.5 104.9a0.9 0.9 0 1 0 -1.8 0a0.9 0.9 0 1 0 1.8 0M371.4 103.5a0.9 0.9 0 1 0 -1.8 0a0.9 0.9 0 1 0 1.8 0M377.6 104.5a0.9 0.9 0 1 0 -1.8 0a0.9 0.9 0 1 0 1.8 0M374.5 100.7a0.9 0.9 0 1 0 -1.8 0a0.9 0.9 0 1 0 1.8 0M374.0 98.3a0.9 0.9 0 1 0 -1.8 0a0.9 0.9 0 1 0 1.8 0M374.2 101.0a0.9 0.9 0 1 0 -1.8 0a0.9 0.9 0 1 0 1.8 0M370.8 104.9a0.9 0.9 0 1 0 -1.8 0a0.9 0.9 0 1 0 1.8 0M378.1 102.7a0.9 0.9 0 1 0 -1.8 0a0.9 0.9 0 1 0 1.8 0M375.6 100.4a0.9 0.9 0 1 0 -1.8 0a0.9 0.9 0 1 0 1.8 0M375.2 99.9a0.9 0.9 0 1 0 -1.8 0a0.9 0.9 0 1 0 1.8 0M375.6 103.9a0.9 0.9 0 1 0 -1.8 0a0.9 0.9 0 1 0 1.8 0M375.2 102.6a0.9 0.9 0 1 0 -1.8 0a0.9 0.9 0 1 0 1.8 0M375.6 106.8a0.9 0.9 0 1 0 -1.8 0a0.9 0.9 0 1 0 1.8 0M373.1 99.9a0.9 0.9 0 1 0 -1.8 0a0.9 0.9 0 1 0 1.8 0M376.1 114.1a0.9 0.9 0 1 0 -1.8 0a0.9 0.9 0 1 0 1.8 0M375.2 103.6a0.9 0.9 0 1 0 -1.8 0a0.9 0.9 0 1 0 1.8 0M374.3 112.2a0.9 0.9 0 1 0 -1.8 0a0.9 0.9 0 1 0 1.8 0M374.8 74.2a0.9 0.9 0 1 0 -1.8 0a0.9 0.9 0 1 0 1.8 0M374.8 82.3a0.9 0.9 0 1 0 -1.8 0a0.9 0.9 0 1 0 1.8 0M374.4 90.6a0.9 0.9 0 1 0 -1.8 0a0.9 0.9 0 1 0 1.8 0M375.9 94.0a0.9 0.9 0 1 0 -1.8 0a0.9 0.9 0 1 0 1.8 0" stroke="#3b50a8" stroke-width="0.7" fill="none"/>
<line x1="349.5" y1="128.2" x2="398.8" y2="128.2" stroke="#141a4a" stroke-width="1.5"/>
<text x="441.5" y="17.2" font-size="20.55" font-weight="bold" textLength="11.2" lengthAdjust="spacingAndGlyphs">c</text>
<rect x="592.8" y="15.3" width="86.9" height="20.8" fill="#e9eaea" stroke="#2a2a2a" stroke-width="1.1"/>
<text x="618.9" y="29.5" font-size="11.19" stroke="#1a1a1a" textLength="34.4" lengthAdjust="spacingAndGlyphs">KEGG</text>
<rect x="594.0" y="40.2" width="77.7" height="10.4" fill="#eaa9ad"/>
<line x1="588.4" y1="45.4" x2="593.4" y2="45.4" stroke="#333" stroke-width="1"/>
<text x="585.0" y="49.8" font-size="12.6" text-anchor="end" stroke="#1a1a1a">Endocytosis</text>
<rect x="594.0" y="55.3" width="44.7" height="10.4" fill="#eaa9ad"/>
<line x1="588.4" y1="60.5" x2="593.4" y2="60.5" stroke="#333" stroke-width="1"/>
<text x="585.0" y="64.9" font-size="12.6" text-anchor="end" stroke="#1a1a1a">GABAergic synapse</text>
<rect x="594.0" y="70.4" width="42.0" height="10.4" fill="#eaa9ad"/>
<line x1="588.4" y1="75.6" x2="593.4" y2="75.6" stroke="#333" stroke-width="1"/>
<text x="585.0" y="80.0" font-size="12.6" text-anchor="end" stroke="#1a1a1a">Axon guidance</text>
<rect x="594.0" y="85.5" width="36.0" height="10.4" fill="#eaa9ad"/>
<line x1="588.4" y1="90.7" x2="593.4" y2="90.7" stroke="#333" stroke-width="1"/>
<text x="585.0" y="95.1" font-size="12.6" text-anchor="end" stroke="#1a1a1a">Ubiquitin mediated proteolysis</text>
<rect x="594.0" y="100.6" width="32.0" height="10.4" fill="#eaa9ad"/>
<line x1="588.4" y1="105.8" x2="593.4" y2="105.8" stroke="#333" stroke-width="1"/>
<text x="585.0" y="110.2" font-size="12.6" text-anchor="end" stroke="#1a1a1a">Insulin signaling pathway</text>
<rect x="594.0" y="115.6" width="42.3" height="10.4" fill="#b4cde1"/>
<line x1="588.4" y1="120.8" x2="593.4" y2="120.8" stroke="#333" stroke-width="1"/>
<text x="585.0" y="125.2" font-size="12.6" text-anchor="end" stroke="#1a1a1a">Glutamatergic synapse</text>
<rect x="594.0" y="130.7" width="39.0" height="10.4" fill="#b4cde1"/>
<line x1="588.4" y1="135.9" x2="593.4" y2="135.9" stroke="#333" stroke-width="1"/>
<text x="585.0" y="140.3" font-size="12.6" text-anchor="end" stroke="#1a1a1a">PTH secretion and action</text>
<rect x="594.0" y="145.8" width="18.2" height="10.4" fill="#b4cde1"/>
<line x1="588.4" y1="151.0" x2="593.4" y2="151.0" stroke="#333" stroke-width="1"/>
<text x="585.0" y="155.4" font-size="12.6" text-anchor="end" stroke="#1a1a1a">Oxytocin signaling pathway</text>
<rect x="594.0" y="160.9" width="14.0" height="10.4" fill="#b4cde1"/>
<line x1="588.4" y1="166.1" x2="593.4" y2="166.1" stroke="#333" stroke-width="1"/>
<text x="585.0" y="170.5" font-size="12.6" text-anchor="end" stroke="#1a1a1a">PI signaling system</text>
<rect x="594.0" y="176.0" width="14.0" height="10.4" fill="#b4cde1"/>
<line x1="588.4" y1="181.2" x2="593.4" y2="181.2" stroke="#333" stroke-width="1"/>
<text x="585.0" y="185.6" font-size="12.6" text-anchor="end" stroke="#1a1a1a">cAMP signaling pathway</text>
<rect x="593.4" y="36.1" width="86.5" height="155.2" fill="none" stroke="#2a2a2a" stroke-width="1.1"/>
<line x1="603.3" y1="191.3" x2="603.3" y2="196.0" stroke="#333" stroke-width="1"/>
<text x="603.8" y="207.4" font-size="11.0" text-anchor="middle" stroke="#1a1a1a">1</text>
<line x1="623.6" y1="191.3" x2="623.6" y2="196.0" stroke="#333" stroke-width="1"/>
<text x="625.6" y="207.4" font-size="11.0" text-anchor="middle" stroke="#1a1a1a">3</text>
<line x1="644.3" y1="191.3" x2="644.3" y2="196.0" stroke="#333" stroke-width="1"/>
<text x="645.9" y="207.4" font-size="11.0" text-anchor="middle" stroke="#1a1a1a">5</text>
<line x1="664.4" y1="191.3" x2="664.4" y2="196.0" stroke="#333" stroke-width="1"/>
<text x="665.9" y="207.4" font-size="11.0" text-anchor="middle" stroke="#1a1a1a">7</text>
<text x="606.1" y="219.2" font-size="10.76" stroke="#1a1a1a" textLength="60.1" lengthAdjust="spacingAndGlyphs">-Log10 FDR</text>
<rect x="613.8" y="165.5" width="8.1" height="7.9" rx="1.8" fill="#eaa9ad"/>
<rect x="613.8" y="177.6" width="8.1" height="8.2" rx="1.8" fill="#b4cde1"/>
<text x="624.0" y="172.3" font-size="10.32" stroke="#1a1a1a" textLength="50.6" lengthAdjust="spacingAndGlyphs">Inh_DEGs</text>
<text x="624.1" y="184.7" font-size="10.17" stroke="#1a1a1a" textLength="53.1" lengthAdjust="spacingAndGlyphs">Exc_DEGs</text>
<text x="1.7" y="263.1" font-size="18.23" font-weight="bold" textLength="12.7" lengthAdjust="spacingAndGlyphs">d</text>
<path d="M73.2 292.7h0M83.7 311.9h0M133.2 297.2h0M136.4 319.4h0M149.3 293.6h0M101.8 312.8h0M126.1 328.4h0M147.0 309.6h0M123.8 331.5h0M127.6 316.5h0M126.2 303.4h0M145.4 344.4h0M131.7 318.7h0M122.0 298.7h0M144.9 316.4h0M118.5 303.3h0M118.3 310.0h0M129.3 319.6h0M149.1 313.1h0M120.7 326.8h0M89.1 321.9h0M102.0 328.5h0M112.0 316.6h0M125.4 318.2h0M113.3 318.1h0M112.6 313.5h0M143.2 317.9h0M126.8 297.0h0M147.7 308.5h0M91.4 313.4h0M156.1 324.7h0M123.0 323.3h0M129.5 321.5h0M96.7 315.2h0M146.7 320.8h0M136.2 325.5h0M117.3 321.1h0M117.8 316.5h0M140.9 316.3h0M159.8 324.8h0M102.5 324.0h0M112.7 311.6h0M185.0 270.6h0M130.6 322.1h0M125.5 316.4h0M136.9 309.8h0M89.0 328.6h0M175.1 307.1h0M120.4 315.7h0M181.7 319.3h0M133.9 342.3h0M126.9 324.4h0M183.3 326.2h0M101.7 317.9h0M104.4 335.2h0M99.8 322.4h0M112.8 333.2h0M157.1 310.8h0M75.9 335.4h0M127.4 314.6h0M157.9 327.5h0M132.9 304.0h0M129.4 323.5h0M121.1 321.7h0M121.2 319.4h0M103.3 305.2h0M116.6 327.4h0M175.7 325.1h0M121.7 312.0h0M117.7 322.6h0M139.2 322.0h0M125.0 326.1h0M125.5 334.0h0M115.6 318.9h0M101.2 319.5h0M137.0 320.9h0M136.4 319.4h0M131.1 323.0h0M140.5 358.2h0M121.2 297.1h0M127.2 305.6h0M116.5 329.5h0M133.4 321.7h0M79.6 296.0h0M121.6 315.1h0M130.3 323.6h0M125.0 307.5h0M105.4 280.3h0M130.5 315.6h0M110.4 317.2h0M134.8 316.4h0M142.3 319.6h0M123.7 306.1h0M123.2 333.5h0M68.4 308.6h0M156.3 329.1h0M103.9 282.9h0M134.2 313.5h0M145.9 320.2h0M102.7 320.6h0M113.3 351.6h0M148.4 294.4h0M142.5 281.1h0M133.6 307.0h0M153.9 319.3h0M136.8 310.8h0M112.0 345.8h0M151.4 336.5h0M124.6 310.5h0M176.2 316.6h0M126.4 322.8h0M169.4 291.1h0M115.7 339.4h0M110.7 324.8h0M154.6 302.5h0M129.1 328.1h0M125.4 315.4h0M129.6 321.1h0M124.5 314.8h0M102.2 321.2h0M127.2 304.2h0M141.1 339.5h0M122.0 320.9h0M131.4 265.8h0M103.3 323.2h0M125.8 314.6h0M128.4 334.9h0M69.1 292.6h0M143.9 318.7h0M117.0 321.0h0M118.9 329.9h0M140.4 314.5h0M124.8 278.4h0M108.2 315.9h0M144.5 315.2h0M149.2 339.1h0M156.8 336.9h0M116.7 330.0h0M109.4 328.7h0M113.6 303.0h0M126.7 308.8h0M140.7 321.3h0M125.9 320.4h0M137.9 344.0h0M122.0 330.7h0M111.8 326.0h0M107.2 314.0h0M122.8 322.4h0M102.3 316.1h0M125.7 308.4h0M138.1 324.9h0M123.2 319.5h0M143.1 330.2h0M82.8 307.2h0M115.9 310.0h0M123.3 328.0h0M111.6 333.7h0M138.4 302.1h0M124.6 306.7h0M126.0 327.9h0M129.4 270.4h0M132.6 336.6h0M151.4 323.6h0M123.4 329.6h0M119.8 311.9h0M127.3 301.5h0M142.1 301.4h0M163.5 312.1h0M121.8 312.9h0M129.9 324.5h0M129.1 287.4h0M128.7 274.7h0M128.9 311.7h0M153.6 309.0h0M155.4 311.9h0M138.6 318.1h0M141.2 285.4h0M97.6 322.9h0M111.2 319.6h0M154.9 302.2h0M100.5 279.5h0M135.5 324.1h0M91.6 322.0h0M125.6 328.9h0M142.7 314.8h0M97.7 325.3h0M95.4 311.7h0M108.2 336.5h0M122.6 317.0h0M121.1 324.0h0M128.4 332.3h0M141.0 320.0h0M128.4 318.5h0M124.9 319.7h0M124.6 318.4h0M131.6 293.2h0M131.1 324.2h0M142.5 315.7h0M127.8 315.6h0M132.8 330.7h0M133.5 314.5h0M128.7 356.8h0M120.3 324.4h0M136.1 327.2h0M146.1 316.0h0M131.5 327.6h0M100.5 329.8h0M143.5 325.2h0M98.6 305.8h0M145.7 310.9h0M114.9 314.0h0M101.2 314.7h0M142.9 334.4h0M126.8 310.6h0M68.0 272.6h0M112.8 351.9h0M115.9 328.9h0M144.2 326.8h0M142.1 297.3h0M137.7 302.8h0M86.4 322.3h0M109.0 337.0h0M113.4 299.3h0M136.7 334.0h0M135.9 322.3h0M121.9 311.9h0M115.3 319.4h0M109.4 307.8h0M145.2 317.4h0M118.4 317.2h0M108.2 317.9h0M119.2 323.7h0M133.7 303.6h0M135.9 329.7h0M128.8 316.9h0M134.4 303.6h0M127.4 327.0h0M114.1 326.4h0M122.3 298.8h0M125.4 308.8h0M129.7 307.0h0M137.0 310.9h0M130.1 312.2h0M123.3 328.2h0M128.7 313.9h0M114.0 327.9h0M133.8 314.6h0M128.9 308.2h0M116.4 310.1h0M130.0 320.2h0M119.0 324.1h0M134.3 319.1h0M136.9 314.9h0M125.4 321.8h0M126.2 324.6h0M114.0 330.3h0M118.7 316.0h0M112.7 322.9h0M139.2 327.1h0M134.8 303.5h0M118.7 313.3h0M117.2 327.6h0M128.3 317.3h0M131.4 308.9h0M117.4 309.6h0M131.5 320.6h0M132.3 327.2h0M112.9 312.5h0M128.0 305.4h0M121.2 326.6h0M137.5 327.2h0M126.9 315.6h0M137.3 314.1h0M129.9 329.4h0M122.8 312.0h0M126.4 322.9h0M131.3 318.9h0M132.1 303.1h0M117.9 319.0h0M117.2 305.4h0M114.4 309.2h0M124.7 308.3h0M128.8 332.8h0M125.0 329.0h0M129.4 307.4h0M123.9 308.7h0M134.2 307.1h0M139.7 322.7h0M106.3 324.6h0M142.0 310.4h0M136.4 301.3h0M129.0 302.5h0M131.3 301.4h0M100.2 321.1h0M149.4 312.1h0M134.8 318.5h0M123.3 323.0h0M142.9 306.4h0M132.1 320.6h0M112.3 332.0h0M146.0 308.9h0M143.9 318.0h0M124.9 331.0h0M128.8 320.4h0M141.7 329.1h0M135.4 304.9h0M110.8 327.6h0M117.2 318.8h0M115.8 315.8h0M113.7 332.2h0M116.3 316.4h0M124.6 328.4h0M112.3 317.2h0M124.4 322.3h0M131.2 313.3h0M128.9 314.1h0M131.2 316.6h0M119.9 317.3h0M130.1 337.9h0M121.6 320.3h0M141.1 298.8h0M109.1 306.8h0M125.4 339.5h0M130.4 328.4h0M124.3 295.3h0M103.4 326.7h0M128.3 305.8h0M137.7 303.6h0M137.8 330.6h0M118.9 307.5h0M134.9 307.6h0M135.1 306.7h0M134.6 318.3h0M122.2 309.4h0M128.9 300.5h0M123.7 313.9h0M133.3 306.2h0M143.6 314.7h0M115.1 330.0h0M143.1 315.8h0M117.6 317.6h0M119.6 314.7h0M142.1 321.0h0M128.0 320.6h0M125.9 325.1h0M135.3 314.2h0M127.6 339.2h0M130.7 315.8h0M147.0 317.6h0M115.5 323.6h0M117.5 313.0h0M129.8 316.4h0M118.9 312.5h0M120.6 328.0h0M119.3 312.4h0M146.9 312.5h0M141.4 329.3h0M125.0 304.7h0M131.0 323.6h0M136.2 318.1h0M138.5 330.0h0M116.0 330.4h0M128.2 312.4h0M123.3 334.4h0M136.3 301.4h0M127.3 316.2h0M124.7 312.9h0M111.9 325.3h0M117.1 314.2h0M120.5 310.9h0M133.9 321.0h0M119.8 309.0h0M121.8 326.2h0M127.8 319.6h0M123.2 315.2h0M128.7 300.9h0M142.6 310.4h0M120.8 329.5h0M128.7 317.9h0M120.7 303.4h0M128.3 328.3h0M117.5 329.8h0M115.2 310.9h0M131.6 317.5h0M133.4 310.8h0M116.2 300.7h0M114.5 307.8h0M112.2 320.3h0M119.9 299.6h0M151.3 310.0h0M113.9 328.7h0M138.2 307.1h0M111.8 308.5h0M137.8 314.7h0M118.4 317.2h0M138.5 305.0h0M122.7 305.0h0M148.2 333.9h0M136.0 316.3h0M133.1 298.6h0M129.3 305.5h0M113.3 311.2h0M123.0 322.7h0M133.5 319.9h0M117.1 323.6h0M125.3 328.1h0M117.3 292.6h0M121.7 336.9h0M131.2 315.8h0M135.3 322.0h0M131.1 312.9h0M127.3 319.3h0M120.1 307.4h0M127.9 326.2h0M133.0 321.9h0M131.5 340.8h0M129.1 326.9h0M146.1 318.0h0M129.1 326.9h0M143.4 320.3h0M130.1 318.3h0M114.4 327.6h0M124.0 302.0h0M125.1 302.0h0M116.5 317.7h0M117.3 327.2h0M111.9 319.9h0M132.1 330.7h0M135.8 319.7h0M127.4 317.0h0M138.0 311.7h0M131.8 316.7h0M129.0 315.2h0M148.0 311.7h0M129.1 320.1h0M132.7 321.7h0M130.9 326.4h0M111.6 317.7h0M114.3 319.7h0M114.8 309.0h0M126.0 330.2h0M132.4 320.3h0M140.7 309.1h0M105.7 313.8h0M123.9 328.7h0M148.0 305.7h0M151.4 331.7h0M135.0 320.9h0M150.9 318.3h0M121.9 318.9h0M112.9 321.9h0M125.5 320.6h0M130.2 308.1h0M139.8 308.5h0M135.5 303.3h0M130.4 310.2h0M127.1 311.8h0M104.8 307.6h0M127.3 323.3h0M112.0 298.5h0M117.9 315.7h0M120.3 310.4h0M135.2 326.3h0M134.1 309.2h0M127.4 315.9h0M112.4 325.6h0M127.5 313.3h0M140.8 324.5h0M135.2 328.4h0M133.8 306.2h0M122.8 326.7h0M119.0 318.0h0M130.6 330.6h0M139.6 325.7h0M124.8 325.9h0M131.9 316.2h0M140.2 322.1h0M119.1 329.0h0M124.1 323.0h0M111.4 317.4h0M117.2 308.9h0M107.5 336.9h0M125.1 319.7h0M137.7 316.5h0M131.7 305.4h0M128.6 313.9h0M131.6 319.2h0M112.7 300.9h0M116.4 324.2h0M130.8 321.2h0M106.4 293.4h0M120.3 314.6h0M120.5 320.7h0M124.8 306.9h0M117.8 318.8h0M127.3 316.9h0M149.2 315.2h0M127.7 308.6h0M122.9 322.2h0M132.2 316.1h0M130.5 318.0h0M107.7 288.0h0M149.6 325.0h0M125.9 301.9h0M113.7 329.7h0M98.6 314.6h0M135.2 318.8h0M134.0 316.3h0M150.4 308.2h0M112.9 320.0h0M140.8 317.0h0M137.0 312.7h0M114.6 330.1h0M142.2 331.3h0M122.1 307.1h0M114.8 315.5h0M132.3 322.1h0M112.2 319.3h0M126.7 318.3h0M126.3 315.7h0M132.4 318.6h0M128.8 311.3h0M130.5 316.4h0M105.3 321.9h0M123.9 325.8h0M124.9 316.6h0M128.6 317.4h0M122.0 301.4h0M144.9 303.3h0M123.1 323.4h0M130.3 322.6h0M134.2 328.9h0M129.5 343.7h0M116.4 319.5h0M122.9 312.6h0M129.4 330.6h0M119.4 311.1h0M133.7 322.4h0M146.1 326.8h0M128.8 314.5h0M128.7 315.9h0M112.8 317.6h0M124.7 315.4h0M122.2 332.7h0M133.5 325.9h0M120.4 308.3h0M123.7 319.7h0M123.0 315.8h0M136.1 320.2h0M116.7 313.6h0M119.9 319.1h0M114.8 315.9h0M133.4 317.8h0M117.4 312.0h0M127.7 321.8h0M134.9 316.2h0M113.3 330.3h0M129.5 321.2h0M129.6 308.2h0M123.3 319.8h0M136.8 318.0h0M95.3 315.3h0M130.0 329.1h0M133.6 339.9h0M140.7 329.6h0M135.9 305.1h0M135.0 322.9h0M121.2 322.8h0M130.7 313.3h0M125.3 315.1h0M128.8 313.7h0M131.9 300.2h0M123.7 302.3h0M121.7 322.2h0M126.7 316.5h0M127.2 331.6h0M115.4 325.5h0M111.4 313.3h0M128.1 309.8h0M128.6 324.1h0M114.6 316.8h0M122.7 300.0h0M124.6 310.3h0M139.9 309.6h0M143.5 312.7h0M145.9 322.4h0M131.0 324.8h0M135.5 330.1h0M143.8 314.4h0M114.0 293.5h0M122.6 324.3h0M130.3 318.5h0M123.0 311.7h0M123.7 321.0h0M108.9 324.1h0M111.9 316.1h0M120.2 314.2h0M116.0 307.1h0M124.2 307.7h0M151.1 313.7h0M119.9 312.5h0M115.7 295.3h0M123.9 320.2h0M111.4 317.5h0M114.3 317.1h0M130.0 321.8h0M130.8 311.1h0M135.2 313.4h0M129.9 323.8h0M123.4 305.9h0M132.6 307.4h0M117.5 307.5h0M134.8 316.0h0M103.9 324.0h0M147.1 333.6h0M120.7 318.1h0M131.5 325.5h0M126.8 307.6h0M133.9 322.9h0M113.1 314.1h0M129.1 317.4h0M131.6 324.6h0M131.8 316.4h0M112.9 322.9h0M140.4 335.2h0M126.0 317.1h0M140.8 330.3h0M129.8 323.8h0M118.8 322.6h0M118.1 316.1h0M125.1 313.2h0M105.2 309.9h0M129.7 316.8h0M122.4 321.2h0M133.2 325.0h0M118.3 317.6h0M123.0 309.5h0M111.4 316.5h0M117.6 336.7h0M125.3 315.3h0M122.4 334.2h0M116.9 315.9h0M118.6 316.2h0M126.0 327.2h0M112.2 317.2h0M142.5 312.8h0M124.6 309.4h0M100.1 316.4h0M138.1 313.1h0M107.9 319.7h0M127.1 326.4h0M135.4 314.9h0M130.3 301.2h0M137.5 319.0h0M137.2 326.9h0M123.5 316.0h0M117.6 298.7h0M125.0 318.7h0M115.5 323.8h0M127.3 321.4h0M118.6 301.5h0M134.1 322.8h0M125.2 313.6h0M123.6 316.1h0M121.2 299.2h0M134.2 303.9h0M123.0 314.6h0M128.9 302.8h0M138.4 323.3h0M134.0 328.8h0M118.4 289.2h0M129.7 329.2h0M138.0 312.6h0M125.5 320.0h0M108.3 311.4h0M120.1 331.7h0M119.9 331.6h0M126.6 302.4h0M148.6 308.7h0M132.7 332.9h0M121.1 306.4h0M136.9 318.1h0M114.2 307.8h0M122.6 326.2h0M123.6 323.4h0M143.0 328.9h0M140.9 328.6h0M110.4 328.5h0M129.8 316.4h0M115.7 303.2h0M115.4 317.3h0M114.7 310.2h0M120.3 323.5h0M123.5 316.2h0M139.8 314.6h0M132.5 308.0h0M129.8 318.6h0M128.3 313.3h0M116.2 314.8h0M121.8 326.8h0M135.6 306.7h0M132.8 313.2h0M131.1 313.2h0M111.8 326.6h0M131.0 306.5h0M107.6 312.7h0M114.7 314.2h0M132.7 330.7h0M122.9 329.9h0M138.1 313.6h0M109.8 325.2h0M132.6 338.7h0M140.8 324.6h0M143.4 308.1h0M128.5 315.1h0M144.0 322.6h0M96.0 329.9h0M117.5 324.6h0M121.8 319.8h0M133.0 319.3h0M117.1 330.2h0M130.6 317.5h0M133.7 312.8h0M145.5 319.7h0M130.3 320.8h0M117.5 307.1h0M128.9 320.8h0M140.1 321.7h0M115.8 322.4h0M135.0 326.7h0M130.0 306.7h0M138.3 311.1h0M132.4 303.5h0M134.3 310.6h0M137.5 333.5h0M138.4 307.2h0M117.2 309.8h0M133.3 320.8h0M128.3 320.4h0M132.5 323.5h0M143.6 317.1h0M128.7 300.9h0M113.4 311.4h0M114.8 319.6h0M137.0 313.7h0M121.7 313.0h0M127.9 312.7h0M130.8 320.3h0M130.0 324.4h0M126.9 318.8h0M144.1 317.1h0M134.5 318.0h0M121.9 313.4h0M118.3 317.6h0M120.5 313.7h0M138.7 316.3h0M137.9 319.9h0M135.1 312.0h0M128.0 341.2h0M134.7 326.5h0M128.8 325.2h0M114.8 309.8h0M130.7 324.8h0M122.3 315.8h0M122.8 315.7h0M114.4 304.5h0M125.6 301.8h0M116.6 311.5h0M115.8 319.5h0M121.9 316.6h0M116.2 310.7h0M131.4 320.6h0M121.6 320.6h0M128.1 318.7h0M142.2 313.7h0M130.4 321.0h0M123.9 306.8h0M133.1 319.6h0M126.7 317.4h0M126.4 309.1h0M129.1 300.9h0M125.8 303.7h0M122.6 323.5h0M123.5 312.8h0M131.2 314.6h0M121.9 313.5h0M141.1 323.0h0M130.8 306.3h0M132.2 305.4h0M130.7 307.0h0M145.5 301.8h0M138.1 324.2h0M108.2 314.8h0M140.3 327.2h0M109.3 312.3h0M114.2 307.7h0M119.5 333.5h0M127.2 314.9h0M122.5 322.9h0M132.8 308.7h0M140.5 307.2h0M123.1 321.0h0M143.0 313.8h0M128.7 328.6h0M132.1 327.1h0M136.2 319.3h0M132.2 325.2h0M125.6 331.3h0M106.0 308.6h0M140.3 320.8h0M119.4 320.3h0M136.7 311.9h0M133.5 315.8h0M124.7 316.3h0M137.0 306.8h0M122.2 322.9h0M113.7 302.7h0M131.6 316.9h0M124.4 318.2h0M116.1 343.1h0M116.0 313.0h0M111.7 313.2h0M141.1 317.1h0M131.8 312.6h0M144.0 318.4h0M113.4 323.9h0M122.2 322.4h0M127.3 319.3h0M127.2 308.8h0M110.8 325.7h0M124.5 319.5h0M121.2 298.7h0M113.1 329.5h0M118.0 313.5h0M111.2 312.2h0M122.1 314.9h0M125.1 311.2h0M120.1 316.8h0M129.1 315.6h0M143.3 318.7h0M127.4 311.0h0M136.1 307.7h0M109.6 308.1h0M132.0 306.6h0M138.7 316.7h0M110.6 314.8h0M143.6 309.1h0M112.7 321.5h0M138.9 326.0h0M122.5 318.5h0M129.0 327.4h0M147.3 315.9h0M138.8 313.8h0M131.7 308.5h0M118.1 320.6h0M116.8 324.8h0M120.3 317.6h0M124.9 313.9h0M127.1 326.6h0M156.8 306.2h0M128.8 315.3h0M116.7 319.4h0M117.0 316.2h0M138.2 298.7h0M128.3 320.9h0M116.2 321.6h0M129.3 313.7h0M137.9 305.1h0M132.2 314.8h0M115.2 315.3h0M122.3 324.2h0M110.8 315.1h0M121.2 331.0h0M114.6 326.4h0M108.2 319.9h0M124.4 320.2h0M118.7 299.3h0M110.3 328.6h0M127.8 309.0h0M134.7 310.1h0M118.3 305.8h0M137.4 334.4h0M116.0 319.3h0M135.4 335.8h0M101.6 318.0h0M132.1 303.4h0M129.7 318.4h0M132.8 311.4h0M129.7 311.2h0M131.6 318.1h0M121.8 303.9h0M142.0 326.6h0M134.3 310.7h0M122.0 331.7h0M133.0 309.0h0M126.0 317.9h0M123.6 308.2h0M138.1 322.0h0M123.6 302.5h0M119.8 316.7h0M134.3 313.4h0M136.7 318.0h0M118.2 291.6h0M113.9 303.3h0M124.2 319.8h0M139.6 316.7h0M114.1 338.0h0M128.8 314.4h0M123.1 304.7h0M132.1 320.2h0M141.7 326.8h0M134.5 328.2h0M123.0 312.9h0M125.3 305.7h0M124.4 314.0h0M132.5 316.8h0M106.8 317.2h0M140.1 300.4h0M118.3 317.1h0M112.7 312.1h0M126.5 305.1h0M128.9 320.7h0M113.3 317.3h0M136.8 315.5h0M130.4 322.9h0M123.7 325.9h0M129.9 308.2h0M131.3 324.9h0M134.1 311.4h0M130.7 329.5h0M128.4 327.8h0M139.2 316.9h0M132.8 314.6h0M136.9 316.4h0M120.7 317.0h0M125.5 320.7h0M130.9 306.8h0M119.7 320.5h0M131.1 318.1h0M152.6 327.4h0M125.6 323.9h0M139.7 320.7h0M108.9 318.3h0M126.9 336.6h0M108.1 331.4h0M124.9 325.9h0M123.6 319.1h0M137.8 318.3h0M137.1 316.8h0M122.5 315.6h0M121.5 316.5h0M140.2 307.1h0M110.0 317.4h0M143.5 327.0h0M139.9 328.9h0M119.4 318.7h0M100.1 312.2h0M132.8 303.7h0M106.1 306.0h0M128.9 328.2h0M152.6 330.6h0M111.6 296.9h0M128.3 327.3h0M110.7 313.1h0M122.4 318.2h0M125.1 322.6h0M137.6 318.6h0M134.5 335.9h0M116.8 308.6h0M132.2 334.7h0M128.8 327.9h0M124.1 326.4h0M120.9 324.2h0M131.2 321.7h0M141.0 327.8h0M121.3 326.2h0M110.4 327.2h0M154.9 323.1h0M132.5 319.0h0M135.8 314.4h0M134.3 316.0h0M123.4 319.7h0M127.1 302.9h0M148.5 319.9h0M110.8 328.3h0M127.5 320.5h0M134.8 310.6h0M98.3 317.7h0M130.2 327.7h0M120.2 316.2h0M131.7 315.8h0M125.3 320.9h0M117.8 332.9h0M118.5 318.9h0M124.5 312.2h0M133.1 327.7h0M142.3 323.8h0M123.2 326.4h0M113.3 319.0h0M132.9 323.7h0M116.2 305.1h0M144.3 313.9h0M111.1 307.3h0M127.7 329.1h0M127.5 329.2h0M129.8 322.6h0M137.3 315.0h0M130.4 314.9h0M121.1 324.2h0M119.2 319.0h0M119.5 317.5h0M122.1 328.1h0M128.1 318.9h0M143.7 292.1h0M116.0 293.4h0M127.0 322.0h0M133.5 320.4h0M118.3 333.7h0M130.0 315.6h0M115.7 321.7h0M122.0 313.8h0M128.9 319.8h0M118.6 329.1h0M116.8 307.7h0M129.9 318.9h0M127.5 314.0h0M127.2 312.7h0M110.2 324.3h0M116.6 315.6h0M134.0 317.9h0M154.1 305.1h0M119.2 318.5h0M140.2 315.4h0M112.4 327.9h0M117.4 315.8h0M135.5 311.6h0M122.1 322.0h0M124.6 320.2h0M117.1 316.5h0M115.7 303.6h0M144.1 321.7h0M135.7 308.8h0M126.3 315.7h0M112.3 322.5h0M119.3 315.7h0M111.4 326.5h0M134.1 321.1h0M117.4 312.7h0M138.8 315.0h0M129.2 318.8h0M115.4 331.3h0M106.7 319.6h0M125.7 303.0h0M129.9 322.2h0M127.1 310.1h0M131.0 327.6h0M128.8 333.1h0M135.1 324.5h0M140.4 311.6h0M121.3 322.2h0M131.7 331.1h0M138.0 319.1h0M128.8 315.1h0M122.9 313.5h0M135.6 313.4h0M123.1 319.1h0M121.5 315.6h0M104.9 321.0h0M123.7 319.4h0M130.5 301.1h0M150.9 319.3h0M128.8 302.0h0M133.4 321.9h0M123.8 320.6h0M140.4 315.5h0M118.7 330.6h0M130.5 317.2h0M150.9 320.2h0M126.2 321.2h0M124.0 320.7h0M129.5 312.9h0M125.3 321.6h0M131.7 324.0h0M135.7 321.0h0M133.0 315.3h0M125.2 328.0h0M108.0 321.9h0M159.3 301.9h0M142.6 302.7h0M131.2 333.0h0M142.3 310.1h0M114.3 305.2h0M134.4 314.6h0M127.2 320.4h0M131.2 322.8h0M128.3 303.5h0M141.6 293.2h0M139.3 312.5h0M125.0 313.2h0M123.2 317.7h0M124.1 308.0h0M135.4 312.6h0M140.3 316.5h0M119.8 321.8h0M135.8 309.5h0M124.0 330.7h0M116.9 310.2h0M128.5 306.9h0M102.2 302.8h0M130.6 323.7h0M132.8 321.3h0M114.5 323.9h0M138.4 311.6h0M136.3 314.5h0M128.8 321.2h0M112.0 331.0h0M118.3 316.9h0M122.0 322.0h0M131.2 318.0h0M141.0 320.4h0M122.9 291.9h0M124.1 315.3h0M118.2 310.1h0M132.8 327.3h0M145.9 328.2h0M119.8 320.2h0M113.3 324.4h0M130.5 312.4h0M125.9 315.6h0M120.5 329.8h0M158.0 325.3h0M137.5 319.3h0M123.4 337.6h0M123.3 321.4h0M125.7 323.2h0M126.4 323.2h0M114.3 317.0h0M140.6 308.6h0M120.3 330.2h0M131.0 327.5h0M104.5 319.2h0M114.2 305.3h0M131.0 328.5h0M111.9 307.9h0M121.1 316.7h0M113.6 338.2h0M132.8 314.6h0M121.7 338.8h0M149.3 313.4h0M130.3 329.2h0M115.0 312.5h0M140.4 311.5h0M122.5 305.6h0M119.2 323.9h0M118.5 305.9h0M120.4 333.7h0M128.5 312.6h0M128.2 321.7h0M127.9 301.3h0M129.7 315.7h0M135.1 305.4h0M137.2 313.1h0M109.4 329.6h0M121.4 321.0h0M124.9 327.5h0M137.7 327.6h0M133.7 302.9h0M109.6 319.3h0M116.9 321.7h0M128.2 304.7h0M116.1 307.2h0M117.5 315.6h0M133.4 329.6h0M116.7 312.4h0M142.2 325.6h0M128.8 296.2h0M116.3 318.9h0M120.5 335.6h0M127.4 320.0h0M115.4 308.0h0M119.7 311.8h0M124.1 320.9h0M128.9 326.6h0M112.8 319.4h0M128.9 331.9h0M124.3 320.4h0M118.2 321.3h0M130.5 311.8h0M122.0 317.2h0M132.3 307.0h0M135.4 314.4h0M145.7 330.8h0M122.4 311.8h0M151.3 323.2h0M132.2 313.6h0M125.2 324.8h0M132.7 309.9h0M139.0 320.3h0M116.9 326.5h0M124.7 324.6h0M120.9 320.8h0M110.1 320.9h0M111.1 319.0h0M100.9 316.9h0M133.8 321.9h0M138.6 307.7h0M142.3 332.1h0M114.4 310.3h0M120.7 317.3h0M128.4 295.1h0M132.5 315.2h0M116.2 326.1h0M123.0 327.8h0M131.8 314.6h0M138.3 324.8h0M121.4 302.8h0M120.9 323.1h0M124.1 333.5h0M129.1 319.2h0M130.5 309.4h0M125.2 311.5h0M102.8 301.3h0M133.9 313.4h0M125.2 304.0h0M120.5 324.6h0M127.4 312.7h0M141.9 316.9h0M122.9 327.8h0M109.0 322.5h0M115.2 310.3h0M119.5 318.6h0M127.5 320.2h0M128.5 330.2h0M143.5 323.9h0M134.1 314.0h0M115.4 322.8h0M126.8 325.2h0M108.1 341.8h0M113.6 317.8h0M136.4 304.9h0M120.9 299.1h0M112.1 299.9h0M127.5 320.1h0M123.3 328.9h0M140.5 317.4h0M124.3 315.0h0M121.9 329.3h0M128.9 314.5h0M124.2 322.4h0M122.5 320.3h0M126.1 329.8h0M138.2 304.7h0M124.9 324.0h0M122.0 324.9h0M129.9 322.9h0M125.9 320.3h0M131.8 304.2h0M117.3 308.3h0M143.5 320.3h0M130.3 319.1h0M121.3 310.8h0M135.1 314.1h0M142.4 319.3h0M127.5 315.6h0M125.8 317.8h0M141.9 338.7h0M114.9 319.9h0M133.7 309.4h0M120.2 313.4h0M102.4 323.4h0M126.1 316.7h0M127.4 319.8h0M149.8 319.2h0M135.0 312.9h0M130.1 314.7h0M125.1 309.4h0M118.4 321.7h0M134.1 321.8h0M119.9 320.5h0M101.2 326.1h0M126.3 320.1h0M138.3 313.8h0M136.3 313.7h0M132.1 314.0h0M129.7 330.8h0M120.2 312.2h0M123.4 320.4h0M154.3 312.5h0M106.3 311.8h0M110.9 312.7h0M126.9 309.1h0M119.9 300.9h0M128.6 311.0h0M137.7 327.3h0M118.1 314.4h0M127.4 324.6h0M110.1 317.2h0M145.5 317.0h0M129.1 317.8h0M114.9 326.4h0M129.6 319.3h0M134.2 325.0h0M107.9 322.2h0M121.1 319.3h0M119.8 310.1h0M136.5 317.8h0M124.1 315.3h0M127.8 317.8h0M103.3 310.1h0M124.7 324.7h0M140.7 309.6h0M146.5 318.9h0M132.0 313.3h0M121.1 331.1h0M125.0 317.2h0M138.8 333.7h0M112.2 316.5h0M127.2 334.6h0M152.0 317.8h0M131.1 326.1h0M138.9 315.4h0M136.0 312.0h0M100.6 305.9h0M129.6 325.4h0M104.9 302.1h0M127.2 288.0h0M133.2 327.8h0M97.7 325.4h0M125.7 331.3h0M130.5 316.4h0M128.9 327.1h0M129.7 319.0h0M113.3 323.0h0M128.1 335.3h0M127.7 317.9h0M121.6 325.3h0M125.9 312.4h0M144.0 334.9h0M123.4 309.6h0M139.3 311.3h0M156.3 317.6h0M137.6 307.1h0M127.6 328.7h0M132.4 314.0h0M152.6 325.5h0M125.7 313.4h0M125.3 331.1h0M120.3 319.2h0M119.8 330.2h0M126.4 326.7h0M133.7 313.6h0M135.1 327.4h0M116.5 325.3h0M163.8 316.2h0M134.5 306.8h0M132.7 313.6h0M135.8 318.4h0M116.2 328.9h0M125.9 309.7h0M128.7 310.1h0M132.0 318.3h0M124.3 325.0h0M115.2 327.7h0M107.8 333.5h0M129.9 316.5h0M120.6 323.9h0M126.4 317.3h0M138.5 315.0h0M125.7 322.8h0M138.9 317.5h0M129.7 319.3h0M135.6 332.5h0M118.6 317.7h0M127.6 324.3h0M143.2 318.8h0M130.2 329.2h0M115.5 311.9h0M123.5 318.8h0M130.4 314.2h0M145.8 312.5h0M126.0 328.8h0M135.9 318.7h0M131.8 326.3h0M127.9 324.8h0M118.7 319.5h0M111.3 310.7h0M116.4 330.2h0M123.2 321.5h0M118.5 316.9h0M125.1 310.9h0M136.6 303.5h0M134.2 343.0h0M119.5 318.9h0M111.9 318.4h0M110.1 324.3h0M122.7 301.6h0M114.4 303.9h0M124.6 326.2h0M123.4 307.6h0M118.9 319.3h0M102.5 323.6h0M131.4 295.6h0M139.2 303.1h0M124.9 328.8h0M110.4 301.0h0M115.6 308.0h0M125.6 313.1h0M121.9 313.5h0M125.0 310.0h0M130.2 317.8h0M116.5 334.6h0M113.9 324.6h0M119.3 321.2h0M132.3 325.8h0M141.5 310.2h0M156.2 321.7h0M118.8 305.5h0M151.0 333.2h0M127.0 325.1h0M140.6 319.0h0M122.9 317.8h0M135.8 318.4h0M114.7 325.1h0M109.6 311.3h0M139.9 320.4h0M129.7 319.2h0M137.8 317.7h0M107.3 320.4h0M95.9 299.3h0M143.4 327.7h0M122.5 317.5h0M128.1 327.4h0M119.3 310.0h0M120.8 319.4h0M129.9 314.5h0M135.0 308.7h0M126.4 311.8h0M116.9 329.4h0M123.9 308.9h0M127.6 308.9h0M133.3 326.0h0M137.7 308.4h0M125.7 335.1h0M125.0 329.8h0M142.8 305.5h0M139.6 325.1h0M136.2 333.7h0M132.0 318.9h0M133.5 315.0h0M132.3 299.7h0M144.9 313.3h0M132.8 321.0h0M128.3 319.2h0M127.9 303.1h0M121.7 329.2h0M116.8 308.5h0M148.9 329.3h0M143.2 318.0h0M130.0 325.2h0M133.0 317.3h0M112.3 311.4h0M111.8 332.6h0M123.1 316.4h0M130.0 318.2h0M132.5 312.3h0M111.5 334.1h0M119.8 313.6h0M118.9 312.9h0M127.2 324.8h0M116.2 320.5h0M120.1 328.9h0M114.4 318.8h0M134.1 305.4h0M128.0 319.1h0M118.7 315.8h0M136.9 320.0h0M122.6 315.9h0M131.3 329.3h0M134.8 324.4h0M142.6 303.6h0M112.2 297.0h0M135.1 296.8h0M126.2 324.5h0M112.6 311.6h0M124.0 324.3h0M111.3 320.5h0M133.6 318.9h0M128.2 328.9h0M128.8 317.4h0M123.2 323.5h0M123.7 323.5h0M127.6 327.8h0M118.6 318.2h0M130.1 321.3h0M137.9 321.1h0M135.6 335.3h0M135.0 308.0h0M112.2 323.6h0M122.8 320.2h0M124.8 329.3h0M138.6 307.4h0M129.3 314.8h0M113.4 323.4h0M125.1 321.5h0M151.4 329.5h0M137.6 313.8h0M114.7 328.8h0M123.5 317.9h0M122.8 318.4h0M150.6 314.7h0M123.7 319.3h0M129.4 306.7h0M108.7 312.2h0M124.3 310.4h0M116.4 308.9h0M122.4 316.3h0M110.0 312.4h0M129.9 316.2h0M112.7 314.1h0M126.1 324.2h0M110.0 323.4h0M121.6 319.1h0M133.0 309.4h0M118.1 316.2h0M133.4 312.3h0M112.1 310.9h0M130.0 327.6h0M121.1 314.2h0M124.3 315.9h0M116.6 313.2h0M128.2 318.0h0M126.3 308.1h0M120.6 310.7h0M136.5 330.1h0M129.5 331.4h0M123.1 314.5h0M113.2 319.2h0M121.6 318.0h0M130.9 315.0h0M114.9 316.8h0M125.4 317.4h0M132.8 315.3h0M123.5 332.7h0M136.8 316.4h0M116.9 313.3h0M130.0 324.8h0M150.1 315.1h0M127.8 314.1h0M127.1 313.9h0M115.8 326.5h0M127.6 328.9h0M121.4 319.8h0M132.9 300.7h0M113.4 324.2h0M127.5 301.2h0M119.2 308.2h0M121.8 331.3h0M120.9 335.6h0M124.1 311.1h0M142.1 326.0h0M140.3 334.9h0M137.2 328.5h0M109.7 310.4h0M131.1 319.6h0M133.9 313.5h0M137.8 335.8h0M132.6 325.3h0M131.9 326.1h0M129.1 313.4h0M128.9 318.9h0M111.9 320.0h0M127.2 319.8h0M121.6 322.2h0M133.2 311.6h0M130.2 324.9h0M134.3 309.7h0M116.8 318.1h0M116.5 340.1h0M118.8 310.7h0M133.1 313.5h0M103.5 316.3h0M116.8 312.9h0M110.5 309.4h0M124.8 316.7h0M115.3 310.9h0M117.8 318.4h0M124.7 306.0h0M132.4 310.9h0M129.9 308.9h0M128.9 316.0h0M126.5 321.5h0M130.3 318.5h0M127.5 305.7h0M125.2 297.5h0M103.8 314.2h0M123.7 330.3h0M132.5 326.8h0M122.9 320.9h0M137.5 321.7h0M129.5 318.0h0M117.0 309.2h0M112.0 320.8h0M123.4 311.2h0M129.7 312.1h0M136.5 334.2h0M130.7 311.1h0M111.5 335.1h0M130.7 306.8h0M136.9 302.5h0M121.9 315.2h0M122.7 307.2h0M150.0 313.8h0M130.1 317.6h0M110.5 312.4h0M128.4 325.6h0M122.9 320.6h0M123.0 322.6h0M101.8 322.7h0M120.2 312.2h0M98.2 307.9h0M132.4 338.0h0M119.4 311.5h0M131.2 320.0h0M120.6 315.9h0M122.6 322.9h0M134.3 333.1h0M135.5 323.4h0M128.0 325.8h0M116.7 336.7h0M129.2 330.1h0M118.6 326.7h0M130.5 315.8h0M119.8 309.6h0M144.4 328.4h0M127.6 319.2h0M119.3 301.0h0M108.7 312.0h0M125.0 307.0h0M134.4 322.1h0M128.1 301.7h0M124.4 317.2h0M113.9 297.9h0M145.6 323.1h0M122.7 331.8h0M137.6 321.5h0M128.7 324.5h0M141.1 318.1h0M124.2 322.7h0M98.3 318.3h0M122.4 317.3h0M124.7 320.5h0M127.5 318.1h0M125.2 321.6h0M121.4 326.3h0M109.7 319.3h0M131.0 306.1h0M122.2 329.4h0M125.2 309.6h0M96.7 320.6h0M127.5 323.0h0M147.0 317.5h0M127.8 311.3h0M125.9 317.2h0M134.0 322.5h0M118.9 313.2h0M140.3 308.9h0M134.0 332.1h0M133.0 319.8h0M140.1 320.7h0M126.4 315.7h0M138.0 323.8h0M141.9 314.5h0M123.4 313.6h0M129.3 311.3h0M135.8 320.5h0M116.7 290.8h0M108.2 330.4h0M125.9 318.8h0M122.2 321.0h0M107.3 299.5h0M110.1 318.1h0M133.5 321.7h0M125.2 305.9h0M134.4 314.9h0M126.3 316.8h0M121.8 311.0h0M120.5 305.8h0M128.9 315.9h0M136.6 301.2h0M138.2 316.8h0M124.8 310.2h0M118.3 304.0h0M135.4 315.5h0M133.6 324.9h0M121.5 315.3h0M123.0 326.7h0M127.8 319.0h0M133.7 316.8h0M146.9 309.1h0M139.0 330.1h0M115.1 325.2h0M129.3 325.3h0M114.5 319.7h0M116.7 314.5h0M140.7 316.3h0M104.0 304.9h0M115.1 326.6h0M119.5 303.5h0M137.7 319.8h0M129.9 310.3h0M140.8 316.4h0M106.8 307.3h0M118.1 316.1h0M134.1 311.0h0M120.5 337.3h0M127.3 312.7h0M126.8 306.2h0M131.9 326.2h0M120.7 326.5h0M123.6 320.1h0M119.1 310.3h0M111.5 319.5h0M123.7 315.2h0M115.2 307.0h0M120.2 321.7h0M129.5 311.4h0M129.4 333.3h0M127.6 335.7h0M130.8 329.5h0M121.2 328.1h0M114.7 319.7h0M123.2 299.5h0M112.8 327.7h0M131.4 329.1h0M128.4 291.4h0M129.0 312.4h0M121.4 313.4h0M118.8 308.8h0M138.9 321.5h0M119.9 313.7h0M136.2 320.9h0M128.4 306.4h0M122.1 307.2h0M107.3 325.5h0M123.2 313.7h0M116.8 324.2h0M147.4 322.7h0M135.7 306.2h0M128.2 319.4h0M141.3 317.5h0M117.0 316.8h0M122.1 330.4h0M133.1 320.5h0M128.2 325.0h0M121.5 309.1h0M107.6 328.1h0M131.5 323.2h0M126.8 332.4h0M116.6 328.2h0M117.9 313.3h0M114.2 318.2h0M123.4 321.2h0M120.5 304.8h0M132.0 328.9h0M133.7 316.8h0M130.3 302.0h0M122.9 327.8h0M130.9 309.6h0M134.8 316.1h0M133.6 304.6h0M121.0 320.2h0M129.3 322.3h0M126.2 315.5h0M131.0 325.1h0M111.1 314.4h0M124.2 318.7h0M136.4 305.4h0M131.6 301.7h0M118.7 312.6h0M123.6 311.8h0M121.1 314.2h0M123.6 300.7h0M112.3 313.4h0M131.5 326.3h0M154.7 318.3h0M118.4 318.9h0M133.1 318.6h0M115.7 316.4h0M125.9 304.7h0M114.3 328.1h0M104.1 318.8h0M123.7 329.7h0M132.4 309.6h0M138.8 312.3h0M146.1 332.1h0M125.5 324.3h0M128.1 309.3h0M136.9 321.2h0M134.8 326.9h0M140.4 326.6h0M125.5 318.2h0M130.5 316.3h0M124.1 334.1h0M131.3 334.4h0M118.8 317.1h0M122.1 314.0h0M123.6 316.4h0M122.1 333.5h0M133.2 310.8h0M121.1 324.1h0M131.9 312.0h0M135.6 304.7h0M121.8 332.9h0M100.7 315.7h0M136.3 316.2h0M118.7 309.6h0M105.9 305.7h0M127.1 312.4h0M126.4 316.2h0M129.3 302.7h0M123.4 314.5h0M123.4 309.6h0M104.8 323.1h0M134.5 338.6h0M133.7 332.1h0M132.4 314.1h0M131.4 307.1h0M128.9 316.5h0M116.0 328.4h0M137.6 321.6h0M134.6 332.2h0M125.2 305.5h0M117.1 323.7h0M128.8 304.3h0M139.6 319.4h0M142.5 327.6h0M122.2 318.4h0M119.3 310.1h0M123.6 322.0h0M140.2 309.6h0M133.6 318.0h0M124.4 327.7h0M123.1 330.0h0M123.4 309.4h0M134.3 304.7h0M115.0 316.0h0M126.8 315.3h0M107.2 305.8h0M131.9 322.6h0M116.8 320.1h0M128.8 326.9h0M119.5 330.8h0M123.8 330.7h0M136.0 308.8h0M123.7 320.4h0M136.9 305.4h0M121.9 323.4h0M131.6 308.4h0M117.9 321.7h0M116.7 319.9h0M136.0 317.9h0M100.2 328.3h0M138.3 330.5h0M135.4 302.7h0M140.9 320.9h0M136.2 316.4h0M124.4 315.7h0M142.7 320.3h0M124.8 306.3h0M131.5 317.9h0M128.4 326.7h0M134.1 317.8h0M129.0 318.6h0M134.0 324.0h0M128.3 310.1h0M135.3 325.9h0M116.2 321.3h0M123.0 298.2h0M126.4 326.3h0M119.5 311.4h0M137.0 307.9h0M117.4 314.9h0M133.0 323.4h0M121.5 314.9h0M127.6 314.2h0M118.1 307.9h0M133.8 315.7h0M155.3 323.3h0M119.2 317.7h0M130.1 321.3h0M131.2 321.8h0M125.3 323.5h0M148.5 313.7h0M122.9 324.1h0M139.1 325.0h0M138.8 317.3h0M124.4 323.6h0M133.4 332.7h0M142.2 301.3h0M134.5 311.7h0M105.7 321.2h0M125.0 314.5h0M113.9 308.5h0M124.5 304.2h0M125.6 318.6h0M125.1 320.3h0M125.9 307.2h0M116.3 318.8h0M136.2 318.9h0M121.6 319.1h0M108.5 308.6h0M122.8 317.0h0M123.3 315.1h0M114.7 312.4h0M129.0 301.0h0M114.5 314.4h0M141.3 323.6h0M142.1 329.5h0M122.0 316.9h0M114.8 328.0h0M133.8 322.8h0M133.1 321.6h0M128.6 320.0h0M138.6 310.4h0M116.1 317.5h0M138.1 319.7h0M124.5 325.0h0M127.6 300.5h0M116.5 298.8h0M124.3 313.5h0M130.9 336.5h0M120.6 317.6h0M122.7 292.3h0M119.0 311.1h0M129.3 310.0h0M113.7 322.8h0M125.9 309.5h0M119.0 314.9h0M134.7 330.3h0M113.5 328.0h0M127.1 320.8h0M136.2 308.9h0M135.1 305.9h0M121.9 309.9h0M143.4 332.3h0M134.1 322.2h0M121.3 333.2h0M140.5 325.7h0M125.5 314.5h0M125.8 329.5h0M117.3 318.7h0M142.9 325.6h0M144.0 321.4h0M131.0 330.1h0M133.3 320.8h0M121.7 304.5h0M141.6 314.1h0M119.5 325.6h0M118.1 305.8h0M121.2 317.3h0M129.6 322.5h0M136.5 316.9h0M130.6 316.9h0M120.6 321.5h0M130.5 334.4h0M132.9 311.7h0M132.9 315.7h0M142.6 302.8h0M120.4 312.1h0M128.2 316.8h0M111.3 301.4h0M128.8 331.0h0M141.4 314.4h0M131.6 310.3h0M112.7 328.9h0M133.7 315.0h0M123.3 326.1h0M130.2 315.0h0M129.8 317.9h0M123.0 311.6h0M136.2 313.8h0M115.4 334.0h0M139.4 322.7h0M126.4 319.7h0M112.8 317.8h0M129.8 316.2h0M131.3 311.2h0M128.8 304.1h0M126.7 312.5h0M113.9 314.4h0M127.1 312.6h0M136.0 311.7h0M136.1 324.3h0M121.0 330.5h0M113.5 322.5h0M127.5 324.6h0M111.5 307.3h0M118.7 317.9h0M127.6 317.9h0M124.2 311.5h0M113.3 313.9h0M131.9 326.6h0M121.7 327.1h0M113.4 324.5h0M116.0 319.8h0M117.3 309.1h0M121.3 330.1h0M120.1 323.1h0M128.1 320.3h0M129.7 323.1h0M114.9 318.0h0M130.0 312.5h0M130.1 308.6h0M133.7 311.4h0M123.9 324.6h0M137.2 312.6h0M120.4 326.3h0M98.5 329.4h0M139.3 308.2h0M138.3 320.8h0M131.1 297.2h0M121.8 315.9h0M122.6 314.2h0M123.8 292.4h0M124.6 311.5h0M125.7 313.2h0M126.5 320.1h0M143.9 310.3h0M143.1 315.4h0M117.8 304.8h0M135.0 304.2h0M135.5 320.6h0M121.0 311.7h0M131.3 318.9h0M133.8 317.5h0M121.5 322.3h0M114.8 325.0h0M127.1 307.7h0M116.6 314.6h0M108.7 329.8h0M136.0 307.9h0M125.4 332.5h0M130.5 308.5h0M105.3 303.0h0M138.2 320.3h0M113.6 323.8h0M122.9 311.6h0M121.4 313.4h0M143.0 309.1h0M122.5 329.3h0M141.4 308.8h0M146.9 327.3h0M111.8 333.6h0M111.9 323.6h0M115.1 301.7h0M134.9 321.3h0M125.7 319.2h0M125.5 315.2h0M115.9 322.7h0M126.7 315.3h0M120.9 315.0h0M111.5 314.8h0M116.8 329.0h0M117.1 313.5h0M126.7 324.6h0M131.1 317.7h0M147.9 317.4h0M129.7 341.9h0M117.7 326.1h0M130.9 305.8h0M120.3 325.0h0M112.1 315.9h0M135.8 315.4h0M129.2 311.5h0M120.3 312.0h0M123.0 323.1h0M127.3 335.1h0M132.0 320.0h0M148.8 316.5h0M118.5 318.9h0M115.7 322.1h0M140.0 323.2h0M122.4 316.2h0M131.3 328.0h0M122.5 313.8h0M137.3 319.5h0M129.9 321.8h0M118.8 316.2h0M137.1 316.1h0M124.6 320.2h0M130.4 340.2h0M118.5 318.8h0M146.6 317.9h0M130.3 304.6h0M136.2 325.3h0M134.7 315.9h0M130.2 317.0h0M135.0 317.4h0M134.4 305.6h0M123.3 292.1h0M125.1 324.5h0M124.0 338.6h0M116.7 314.5h0M117.4 313.1h0M121.9 304.4h0M116.8 335.7h0M124.0 325.7h0M113.9 316.5h0M131.9 316.0h0M121.5 315.9h0M126.8 325.0h0M138.5 305.7h0M106.1 315.8h0M126.6 323.9h0M137.1 311.6h0M147.0 319.8h0M109.0 326.1h0M129.3 320.1h0M110.7 314.8h0M128.1 316.1h0M133.4 328.8h0M141.7 328.7h0M125.1 332.9h0M129.1 325.2h0M124.1 305.1h0M104.0 319.2h0M119.8 317.5h0M135.4 303.9h0M109.0 319.9h0M130.2 315.1h0M121.3 303.3h0M125.7 310.9h0M130.8 326.0h0M121.0 321.2h0M128.4 323.8h0M141.8 323.4h0M133.6 324.6h0M122.3 317.5h0M130.0 328.6h0M139.4 337.9h0M115.7 317.2h0M109.4 312.7h0M110.2 328.0h0M134.0 307.9h0M129.9 324.1h0M143.8 325.0h0M127.8 316.7h0M132.8 320.3h0M121.8 306.6h0M137.0 311.1h0M123.8 324.7h0M126.0 327.7h0M115.4 324.3h0M113.3 304.1h0M116.2 318.6h0M119.8 305.2h0M138.5 308.9h0M125.4 319.8h0M121.8 320.8h0M132.7 316.6h0M136.9 312.2h0M116.0 319.3h0M116.9 320.9h0M125.5 313.3h0M132.3 322.3h0M97.1 314.7h0M127.9 321.9h0M121.1 307.2h0M127.8 323.6h0M106.0 304.1h0M120.7 294.3h0M120.6 324.9h0M115.9 318.7h0M117.7 321.3h0M133.0 329.2h0M127.2 326.9h0M130.5 313.2h0M141.2 312.1h0M128.2 339.4h0M135.1 310.1h0M129.4 312.5h0M125.0 304.0h0M128.7 303.6h0M130.2 320.8h0M134.9 337.5h0M110.0 306.8h0M116.5 312.4h0M135.3 314.5h0M120.6 307.3h0M120.2 313.5h0M125.4 304.6h0M125.7 322.6h0M129.9 306.3h0M134.7 324.7h0M129.5 306.5h0M111.8 317.8h0M116.2 305.5h0M135.4 325.7h0M132.9 329.2h0M135.5 307.1h0M137.9 318.6h0M130.9 331.6h0M130.9 331.6h0M127.0 314.1h0M119.4 316.3h0M109.7 316.9h0M125.3 312.7h0M104.2 298.2h0M133.5 308.9h0M140.2 311.1h0M130.1 304.5h0M120.1 315.5h0M132.3 332.6h0M136.1 304.4h0M126.6 316.0h0M120.1 322.8h0M142.3 313.4h0M137.7 330.1h0M115.9 333.5h0M143.4 320.2h0M143.6 319.8h0M138.0 323.4h0M117.9 319.9h0M124.8 313.1h0M115.0 310.5h0M114.2 327.7h0M106.9 318.2h0M120.4 306.3h0M133.8 310.3h0M138.6 315.9h0M129.8 316.3h0M133.0 326.0h0M122.0 317.4h0M144.1 312.3h0M144.6 314.0h0M120.9 302.3h0M118.0 301.8h0M120.8 323.7h0M125.9 312.1h0M116.2 311.3h0M111.9 306.1h0M146.0 319.7h0M117.3 323.5h0M141.5 311.8h0M125.4 306.2h0M110.5 329.9h0M160.8 310.8h0M110.2 330.3h0M137.1 321.8h0M141.2 314.5h0M129.3 324.6h0M123.4 321.8h0M124.1 321.6h0M128.1 299.7h0M127.4 304.6h0M118.0 302.5h0M134.6 314.5h0M122.6 328.7h0M133.6 315.5h0M105.7 323.4h0M123.8 314.2h0M133.8 311.8h0M125.6 325.5h0M132.2 311.9h0M141.0 327.8h0M145.4 317.0h0M128.6 327.0h0M130.9 318.7h0M125.5 314.8h0M120.0 311.7h0M130.6 314.8h0M112.4 318.0h0M143.1 329.7h0M106.4 309.9h0M134.3 318.2h0M127.2 316.4h0M127.1 308.4h0M138.3 308.2h0M125.1 331.3h0M137.4 317.5h0M126.5 312.2h0M121.6 315.4h0M139.9 313.7h0M132.2 321.4h0M130.6 315.1h0M133.9 319.0h0M127.6 313.4h0M105.2 324.2h0M134.2 313.1h0M124.9 320.2h0M117.0 324.0h0M133.8 325.3h0M135.9 300.7h0M131.9 313.8h0M137.8 327.2h0M134.9 317.0h0M154.6 317.3h0M116.4 326.4h0M112.4 335.0h0M136.9 329.7h0M137.2 321.4h0M113.8 312.5h0M132.5 316.1h0M130.6 311.8h0M119.1 320.5h0M134.3 317.9h0M117.2 303.0h0M147.0 307.7h0M118.2 311.3h0M135.7 311.1h0M132.3 320.4h0M115.5 319.2h0M114.7 316.3h0M134.1 315.6h0M117.7 314.0h0M124.9 320.7h0M104.0 301.2h0M131.5 316.6h0M126.7 319.5h0M124.9 313.5h0M127.6 323.4h0M129.9 317.7h0M116.2 319.6h0M115.0 311.5h0M127.9 318.5h0M137.3 325.3h0M131.3 314.6h0M126.3 315.3h0M143.6 321.5h0M120.0 309.9h0M138.7 309.7h0M130.1 319.1h0M137.0 309.7h0M131.1 319.3h0M134.4 329.6h0M127.5 315.5h0M135.2 305.0h0M128.4 308.8h0M114.6 303.5h0M110.2 324.9h0M135.2 318.5h0M136.8 317.8h0M121.7 308.0h0M134.2 324.8h0M139.1 310.5h0M123.8 305.6h0M137.9 323.9h0M131.7 317.5h0M125.2 314.4h0M137.4 312.0h0M135.4 320.2h0M116.7 304.8h0M119.0 317.3h0M113.9 323.2h0M137.9 322.5h0M110.0 296.8h0M135.3 330.9h0M122.7 322.3h0M124.0 312.0h0M136.5 312.8h0M135.1 333.0h0M125.5 334.4h0M113.7 325.9h0M126.8 340.6h0M127.1 310.6h0M142.8 304.0h0M131.1 310.9h0M140.4 316.8h0M135.2 317.3h0M115.7 298.4h0M144.4 319.8h0M115.2 314.9h0M136.5 304.3h0M149.2 315.4h0M123.0 329.2h0M128.7 308.7h0M135.8 321.7h0M137.8 309.4h0M115.4 323.2h0M122.3 298.3h0M120.8 323.2h0M119.4 329.0h0M121.5 316.7h0M110.4 310.4h0M124.7 322.7h0M128.4 327.1h0M104.8 317.7h0M125.1 308.1h0M126.1 310.8h0M130.8 314.4h0M131.5 309.3h0M139.2 321.1h0M144.3 316.3h0M121.5 318.7h0M121.8 308.1h0M126.7 316.9h0M120.0 314.0h0M116.8 318.8h0M113.1 332.8h0M126.8 326.0h0M114.5 320.6h0M125.2 326.4h0M135.2 302.7h0M138.0 304.0h0M139.9 317.0h0M114.5 323.9h0M126.9 308.6h0M119.1 321.8h0M112.8 309.7h0M145.1 310.6h0M130.2 321.5h0M136.1 325.4h0M101.2 313.1h0M138.4 310.4h0M144.8 319.8h0M114.3 322.6h0M146.1 311.5h0M132.1 309.5h0M120.6 318.6h0M131.7 320.7h0M128.7 339.3h0M115.6 300.7h0M132.2 319.2h0M112.1 333.2h0M119.5 304.8h0M130.8 323.4h0M150.3 303.6h0M113.7 315.1h0M122.1 316.9h0M119.4 303.4h0M122.0 324.0h0M134.5 311.6h0M132.0 321.3h0M121.6 314.4h0M127.0 342.9h0M128.2 309.5h0M125.0 312.5h0M138.1 297.9h0M115.5 325.1h0M130.8 317.8h0M133.9 305.5h0M130.3 307.2h0M113.6 322.1h0M118.5 314.3h0M132.9 308.1h0M132.8 338.0h0M124.6 326.3h0M134.4 306.1h0M112.8 317.7h0M105.1 318.0h0M129.3 321.9h0M131.2 329.8h0M123.3 329.9h0M132.0 322.5h0M125.1 326.4h0M119.1 324.3h0M138.0 311.6h0M117.1 310.8h0M126.3 321.0h0M135.6 335.0h0M143.2 320.2h0M122.8 306.7h0M135.1 322.4h0M123.9 316.2h0M125.5 294.2h0M126.2 320.7h0M125.5 308.0h0M127.2 322.1h0M145.0 327.4h0M132.7 317.2h0M113.2 313.4h0M112.9 316.8h0M137.5 327.3h0M135.9 317.9h0M136.8 315.2h0M106.9 319.0h0M127.1 301.8h0M121.4 295.4h0M121.9 328.7h0M120.2 329.7h0M129.0 311.0h0M108.7 324.6h0M133.5 304.2h0M122.5 327.8h0M119.2 321.3h0M107.0 309.3h0M134.1 306.9h0M112.1 305.0h0M122.9 303.3h0M125.6 322.8h0M142.2 314.1h0M143.1 322.8h0M124.5 322.4h0M142.1 331.3h0M134.4 316.9h0M135.2 319.7h0M128.4 320.1h0M145.1 306.8h0M125.9 307.7h0M135.5 327.8h0M140.4 314.5h0M127.3 324.7h0M128.6 320.4h0M128.8 320.2h0M125.6 321.8h0M112.0 313.9h0M113.3 317.0h0M119.4 322.6h0M139.5 306.5h0M118.9 320.8h0M141.4 324.8h0M131.3 317.2h0M122.3 321.3h0M131.9 319.2h0M120.9 303.2h0M118.2 314.3h0M115.0 320.7h0M112.4 315.0h0M130.3 325.2h0M129.2 328.7h0M120.8 310.7h0M137.8 309.7h0M125.2 302.0h0M138.1 324.3h0M119.2 301.9h0M129.3 320.2h0M138.5 334.6h0M129.1 315.7h0M124.4 315.0h0M112.9 309.6h0M125.8 302.8h0M113.5 328.8h0M119.9 325.0h0M137.8 317.8h0M135.1 316.1h0M117.9 316.7h0M127.4 318.8h0M127.5 314.1h0M137.5 315.9h0M122.6 326.2h0M116.7 317.7h0M141.6 318.4h0M141.1 315.5h0M121.7 316.3h0M121.2 314.6h0M122.4 325.1h0M130.9 315.9h0M119.4 346.9h0M124.9 330.5h0M115.1 311.2h0M139.2 307.9h0M116.2 317.3h0M119.6 315.2h0M128.4 325.7h0M128.7 320.5h0M140.2 330.7h0M123.4 301.1h0M116.8 327.5h0M122.1 311.5h0M122.4 332.3h0M127.5 314.5h0M119.9 308.0h0M155.3 317.5h0M128.5 315.0h0M137.7 308.8h0M107.7 312.7h0M130.3 338.4h0M126.2 310.1h0M124.7 310.8h0M119.1 318.7h0M129.9 312.0h0M138.0 317.2h0M128.1 313.3h0M130.7 321.6h0M133.6 310.6h0M133.3 312.8h0M128.0 324.7h0M142.2 313.9h0M115.9 319.2h0M139.3 315.0h0M151.5 300.9h0M142.2 328.6h0M138.2 310.5h0M140.7 328.6h0M139.6 316.0h0M124.6 329.8h0M130.6 314.7h0M118.7 320.4h0M113.4 323.2h0M128.7 304.0h0M131.6 328.9h0M129.6 306.0h0M121.0 325.6h0M114.0 314.6h0M138.6 315.4h0M121.2 325.3h0M143.3 321.6h0M126.2 316.5h0M122.0 314.4h0M135.6 313.7h0M75.2 327.9h0M97.9 316.8h0M100.6 309.1h0M142.2 314.5h0M146.1 308.1h0M71.1 326.0h0M110.1 331.0h0M113.6 324.7h0M152.8 324.9h0M91.7 319.5h0M159.8 320.8h0M147.9 320.8h0M132.1 315.1h0M168.9 314.9h0M67.9 302.2h0M170.7 316.9h0M138.5 307.3h0M111.3 320.8h0M157.3 306.0h0M140.0 315.6h0M126.8 325.5h0M152.1 317.1h0" stroke="#bebebe" stroke-width="2.30" stroke-linecap="round" fill="none"/>
<path d="M125.2 369.6h0M121.4 354.7h0M130.3 343.7h0M117.5 353.8h0M113.3 334.0h0M129.3 355.9h0M141.3 335.8h0M104.6 348.6h0M127.1 369.1h0M123.6 338.6h0M122.8 342.9h0M121.3 346.3h0M120.2 344.5h0M126.5 354.9h0M136.8 336.7h0M122.8 345.6h0M130.1 329.1h0M133.8 355.6h0M106.8 368.8h0M136.7 329.8h0M130.8 366.8h0M118.5 345.4h0M97.8 331.5h0M125.1 356.6h0M128.0 352.9h0M137.2 345.8h0M124.2 349.4h0M127.0 349.3h0M121.6 338.2h0M117.2 352.6h0M138.8 353.1h0M130.8 345.6h0M126.3 348.5h0M126.7 336.4h0M135.6 350.9h0M132.0 343.6h0M125.2 344.8h0M129.6 335.2h0M124.6 336.0h0M136.4 333.8h0M118.9 337.3h0M129.2 337.0h0M141.2 349.5h0M109.9 345.7h0M130.6 334.4h0M127.3 344.6h0M123.1 343.2h0M130.5 340.0h0M127.4 334.9h0M132.6 339.1h0M137.1 359.4h0M140.5 340.4h0M131.1 341.9h0M131.4 337.6h0M120.2 343.5h0M121.8 353.1h0M133.3 346.4h0M126.8 342.6h0M135.2 344.4h0M128.0 358.0h0M129.0 341.9h0M126.2 353.5h0M124.2 340.3h0M136.2 352.7h0M138.5 337.5h0M131.2 339.7h0M131.1 332.0h0M126.4 352.1h0M129.5 325.8h0M135.5 346.7h0M125.9 343.9h0M125.5 352.7h0M127.7 331.9h0M121.5 356.3h0M136.5 350.0h0M122.0 348.1h0M135.8 344.8h0M133.5 352.6h0M135.9 347.5h0M131.6 334.8h0M125.9 350.4h0M140.9 345.5h0M136.3 344.2h0M120.8 347.4h0M131.6 337.4h0M121.6 344.5h0M124.3 347.9h0M117.9 350.3h0M123.5 346.8h0M116.4 351.2h0M129.7 360.0h0M115.6 330.3h0M133.6 350.9h0M114.7 348.1h0M135.2 354.8h0M129.1 332.5h0M113.5 359.9h0M131.2 351.6h0M125.7 342.4h0M126.6 337.1h0M126.0 335.8h0M125.0 352.5h0M128.3 339.1h0M141.2 354.0h0M128.5 331.0h0M137.9 354.1h0M123.7 355.0h0M121.9 342.2h0M124.7 345.6h0M127.1 355.0h0M125.5 347.5h0M128.5 346.0h0M121.9 343.9h0M138.6 350.4h0M119.3 341.1h0M120.6 338.7h0M123.3 334.9h0M131.7 351.0h0M129.3 340.6h0M129.4 338.4h0M136.0 361.8h0M108.0 347.1h0M128.5 345.7h0M126.1 332.8h0M127.6 341.1h0M127.0 343.8h0M124.4 361.4h0M118.8 341.2h0M118.5 342.9h0M139.8 343.8h0M121.9 334.1h0M132.2 338.8h0M132.9 338.9h0M124.1 343.7h0M115.8 353.2h0M119.5 345.2h0M131.5 361.8h0M131.7 350.4h0M124.3 343.0h0M128.0 352.1h0M120.6 347.2h0M149.6 336.9h0M114.3 340.2h0M127.1 356.7h0M131.8 352.8h0M122.8 343.9h0M130.4 337.8h0M130.3 342.1h0M129.9 333.7h0M112.8 354.5h0M128.6 343.5h0M147.7 351.9h0M131.7 339.4h0M131.1 346.1h0M126.5 355.1h0M134.1 348.7h0M122.3 339.3h0M136.8 346.2h0M124.3 346.9h0M128.7 341.3h0M127.2 350.2h0M131.1 338.1h0M123.0 346.8h0M120.7 345.5h0M127.6 334.8h0M110.5 338.2h0M128.4 344.4h0M137.8 344.5h0M127.9 347.2h0M125.1 357.3h0M124.0 337.9h0M124.5 353.4h0M124.1 338.6h0M132.7 353.1h0M120.9 280.1h0M128.2 278.6h0M111.1 276.2h0M100.2 286.6h0M122.2 277.0h0M139.7 310.9h0M136.3 285.4h0M128.8 275.3h0M118.9 284.4h0M128.9 305.0h0M129.9 291.9h0M114.7 309.7h0M124.1 295.5h0M91.7 290.5h0M139.4 282.3h0M123.7 273.8h0M130.0 298.0h0M120.8 286.9h0M120.8 300.4h0M132.3 284.0h0M117.1 292.7h0M132.7 293.8h0M128.6 295.4h0M128.3 290.8h0M127.7 296.9h0M124.2 304.3h0M118.5 288.9h0M119.8 299.8h0M131.3 286.2h0M125.3 288.4h0M116.7 285.8h0M126.8 296.0h0M120.5 291.8h0M129.7 302.1h0M126.9 285.7h0M115.4 292.3h0M123.0 287.5h0M120.7 287.6h0M125.8 296.8h0M120.0 305.7h0M133.3 290.0h0M126.7 303.1h0M119.4 287.3h0M121.3 284.4h0M129.1 290.3h0M125.5 292.5h0M123.7 303.1h0M123.9 285.5h0M116.7 286.8h0M126.0 293.2h0M126.6 288.8h0M127.5 295.3h0M117.8 294.9h0M127.4 289.9h0M131.5 292.4h0M60.5 288.5h0M126.0 258.0h0M103.0 274.0h0M110.0 279.0h0M134.0 266.0h0M137.0 273.0h0M142.0 287.0h0M147.0 297.0h0M88.0 340.0h0M98.0 351.0h0M116.0 366.0h0M108.0 370.0h0M120.0 372.0h0" stroke="#e3262b" stroke-width="2.40" stroke-linecap="round" fill="none"/>
<line x1="54.0" y1="322.5" x2="198.8" y2="322.5" stroke="#1a1a1a" stroke-width="1.0" stroke-dasharray="1.3 2.5"/>
<line x1="126.8" y1="252.9" x2="126.8" y2="376.8" stroke="#1a1a1a" stroke-width="1.0" stroke-dasharray="1.3 2.5"/>
<line x1="54.0" y1="252.9" x2="54.0" y2="377.4" stroke="#3a3a3a" stroke-width="1.25"/>
<line x1="53.4" y1="376.8" x2="198.8" y2="376.8" stroke="#3a3a3a" stroke-width="1.25"/>
<line x1="51.4" y1="254.5" x2="54.0" y2="254.5" stroke="#333" stroke-width="1"/>
<text x="32.6" y="258.9" font-size="11.75" fill="#1e1e1e" stroke="#1e1e1e" textLength="16.9" lengthAdjust="spacingAndGlyphs">0.4</text>
<line x1="51.4" y1="288.5" x2="54.0" y2="288.5" stroke="#333" stroke-width="1"/>
<text x="32.9" y="292.9" font-size="11.75" fill="#1e1e1e" stroke="#1e1e1e" textLength="16.9" lengthAdjust="spacingAndGlyphs">0.2</text>
<line x1="51.4" y1="322.5" x2="54.0" y2="322.5" stroke="#333" stroke-width="1"/>
<text x="32.7" y="326.9" font-size="11.75" fill="#1e1e1e" stroke="#1e1e1e" textLength="16.9" lengthAdjust="spacingAndGlyphs">0.0</text>
<line x1="51.4" y1="356.5" x2="54.0" y2="356.5" stroke="#333" stroke-width="1"/>
<text x="29.1" y="360.9" font-size="11.75" fill="#1e1e1e" stroke="#1e1e1e" textLength="20.7" lengthAdjust="spacingAndGlyphs">-0.2</text>
<line x1="60.8" y1="376.8" x2="60.8" y2="379.4" stroke="#333" stroke-width="1"/>
<text x="46.0" y="391.1" font-size="12.89" fill="#1e1e1e" stroke="#1e1e1e" textLength="30.0" lengthAdjust="spacingAndGlyphs">-0.50</text>
<line x1="93.8" y1="376.8" x2="93.8" y2="379.4" stroke="#333" stroke-width="1"/>
<text x="79.1" y="391.1" font-size="12.89" fill="#1e1e1e" stroke="#1e1e1e" textLength="30.0" lengthAdjust="spacingAndGlyphs">-0.25</text>
<line x1="126.8" y1="376.8" x2="126.8" y2="379.4" stroke="#333" stroke-width="1"/>
<text x="114.2" y="391.1" font-size="12.89" fill="#1e1e1e" stroke="#1e1e1e" textLength="25.7" lengthAdjust="spacingAndGlyphs">0.00</text>
<line x1="159.8" y1="376.8" x2="159.8" y2="379.4" stroke="#333" stroke-width="1"/>
<text x="147.2" y="391.1" font-size="12.89" fill="#1e1e1e" stroke="#1e1e1e" textLength="25.7" lengthAdjust="spacingAndGlyphs">0.25</text>
<line x1="192.8" y1="376.8" x2="192.8" y2="379.4" stroke="#333" stroke-width="1"/>
<text x="180.2" y="391.1" font-size="12.89" fill="#1e1e1e" stroke="#1e1e1e" textLength="25.7" lengthAdjust="spacingAndGlyphs">0.50</text>
<text x="101.1" y="403.8" font-size="11.32" fill="#1e1e1e" stroke="#1e1e1e" textLength="53.7" lengthAdjust="spacingAndGlyphs">Bulk_LFC</text>
<text x="60.1" y="270.5" font-size="10.32" fill="#1e1e1e" stroke="#1e1e1e" textLength="124.1" lengthAdjust="spacingAndGlyphs"><tspan font-style="italic">R</tspan> = −0.068, <tspan font-style="italic">p</tspan> = 6.6e-08</text>
<text x="163.2" y="297.3" font-size="14.97" font-weight="bold" textLength="26.4" lengthAdjust="spacingAndGlyphs">Exc</text>
<text x="152.5" y="369.6" font-size="10.76" font-weight="bold" fill="#2a2a2a" textLength="46.5" lengthAdjust="spacingAndGlyphs">N = 6260</text>
<text x="24.9" y="366.4" font-size="9.89" fill="#262626" stroke="#262626" textLength="92.5" lengthAdjust="spacingAndGlyphs" transform="rotate(-90 24.9 366.4)">snRNA-Seq_LFC</text>
<path d="M305.4 318.5h0M320.6 315.9h0M328.0 296.6h0M324.9 304.8h0M312.0 311.7h0M317.9 270.7h0M316.6 295.5h0M329.5 303.3h0M307.7 313.0h0M318.7 293.0h0M328.5 298.5h0M310.1 309.8h0M318.8 301.2h0M325.2 308.1h0M306.9 315.5h0M318.0 301.8h0M315.0 300.1h0M313.5 310.7h0M314.0 313.2h0M310.5 313.4h0M337.9 306.8h0M308.6 305.8h0M318.6 302.1h0M309.5 299.4h0M315.0 316.5h0M309.0 307.3h0M320.1 290.5h0M302.4 313.2h0M329.6 302.9h0M304.8 315.6h0M320.0 311.1h0M335.2 296.0h0M310.4 308.7h0M327.2 305.9h0M325.1 301.6h0M316.3 311.6h0M318.8 287.9h0M324.6 315.8h0M328.8 314.6h0M304.7 295.5h0M334.3 315.7h0M317.0 297.6h0M322.4 308.7h0M313.5 316.7h0M331.0 303.6h0M322.4 294.6h0M333.3 316.7h0M319.6 268.3h0M340.9 318.0h0M299.5 302.1h0M332.9 303.6h0M328.4 298.4h0M315.0 301.8h0M312.4 302.5h0M319.1 295.7h0M312.0 299.9h0M316.7 309.6h0M309.4 316.4h0M319.2 310.2h0M326.0 316.3h0M322.8 307.0h0M327.6 311.9h0M322.8 319.0h0M322.7 305.4h0M314.9 303.8h0M316.7 298.7h0M334.8 302.4h0M316.4 315.3h0M316.6 311.9h0M330.1 305.5h0M326.1 290.1h0M329.4 307.4h0M339.3 311.5h0M297.7 311.6h0M320.7 274.3h0M320.5 317.3h0M323.8 314.3h0M341.2 307.6h0M326.8 308.5h0M318.9 298.5h0M315.7 305.6h0M313.6 304.0h0M329.4 302.4h0M329.7 305.3h0M322.2 305.3h0M300.8 308.3h0M317.6 309.5h0M325.5 296.5h0M324.3 314.6h0M313.1 314.7h0M318.6 298.8h0M316.6 302.8h0M328.7 313.1h0M323.3 312.8h0M330.5 314.6h0M316.3 301.4h0M310.2 312.1h0M315.6 314.2h0M328.4 289.5h0M326.2 298.1h0M301.3 315.1h0M312.8 315.4h0M325.9 314.6h0M334.8 308.8h0M311.4 317.2h0M335.4 293.8h0M320.9 306.5h0M329.9 315.0h0M301.8 298.1h0M303.1 317.8h0M342.3 314.3h0M326.8 309.5h0M344.9 301.5h0M324.3 312.7h0M313.3 316.3h0M318.2 303.3h0M315.4 304.4h0M321.0 313.6h0M310.5 317.7h0M340.5 310.3h0M334.3 314.0h0M323.3 311.1h0M300.7 308.2h0M328.2 309.2h0M328.5 301.1h0M316.3 309.0h0M321.8 299.9h0M321.6 308.2h0M323.1 305.9h0M324.8 318.7h0M321.5 314.5h0M311.8 306.3h0M320.9 278.7h0M308.2 318.1h0M328.8 297.0h0M319.1 294.2h0M323.2 313.8h0M333.6 306.0h0M318.4 303.3h0M318.7 287.0h0M326.2 306.1h0M323.5 283.9h0M312.1 311.6h0M338.2 315.8h0M312.6 298.9h0M315.9 318.6h0M315.7 306.2h0M319.7 318.9h0M335.3 316.5h0M306.8 298.4h0M318.0 295.3h0M326.0 318.1h0M321.3 315.1h0M316.0 290.9h0M306.8 313.3h0M315.5 310.7h0M310.7 312.4h0M317.7 292.5h0M328.8 313.7h0M317.7 308.9h0M315.1 310.2h0M305.7 288.2h0M311.8 310.9h0M301.8 318.8h0M310.6 316.9h0M333.8 311.4h0M307.5 298.9h0M336.5 302.4h0M295.9 318.2h0M326.7 294.2h0M319.3 293.1h0M328.7 297.4h0M314.9 297.3h0M313.7 308.4h0M309.9 311.6h0M332.3 317.6h0M331.6 303.2h0M302.1 312.4h0M322.4 317.0h0M315.6 315.5h0M309.1 312.9h0M336.7 307.4h0M320.6 317.7h0M325.5 310.0h0M322.1 311.0h0M336.9 314.0h0M329.1 300.0h0M324.4 305.2h0M306.6 303.8h0M311.9 302.5h0M315.3 299.4h0M310.7 307.5h0M319.6 317.7h0M312.8 311.3h0M319.5 299.7h0M326.9 306.7h0M315.7 303.0h0M313.5 314.9h0M321.5 296.7h0M322.9 312.6h0M315.3 307.0h0M313.8 300.8h0M320.9 308.1h0M316.6 308.1h0M315.3 308.6h0M319.9 308.4h0M317.2 316.3h0M331.0 318.9h0M303.3 308.0h0M339.9 313.5h0M309.7 303.8h0M331.6 312.9h0M336.7 306.2h0M294.2 306.9h0M312.2 311.0h0M305.0 304.2h0M317.3 298.8h0M329.9 303.1h0M332.2 309.7h0M311.3 312.2h0M323.1 290.7h0M327.8 312.9h0M334.8 306.9h0M316.0 298.4h0M317.8 315.5h0M326.9 299.2h0M320.6 310.2h0M315.4 310.8h0M315.0 304.9h0M318.7 302.1h0M324.0 315.4h0M336.7 309.2h0M308.1 298.2h0M334.5 315.1h0M319.4 303.7h0M317.2 315.1h0M319.1 292.2h0M307.3 314.2h0M319.3 305.0h0M317.3 315.0h0M351.1 317.1h0M327.1 309.6h0M307.3 307.7h0M317.4 286.6h0M323.2 316.2h0M325.4 297.2h0M332.0 310.7h0M321.2 315.4h0M314.2 308.2h0M327.3 318.1h0M314.0 307.8h0M324.1 300.6h0M316.9 299.2h0M316.1 312.9h0M330.8 313.5h0M324.6 305.3h0M325.1 296.9h0M307.1 307.9h0M336.3 317.9h0M334.0 306.4h0M321.6 314.1h0M326.1 307.5h0M312.3 316.8h0M327.0 313.9h0M327.9 305.0h0M324.3 283.1h0M330.8 306.1h0M311.0 307.2h0M315.7 307.1h0M315.6 317.8h0M302.0 317.3h0M331.8 304.4h0M335.2 316.6h0M331.8 304.8h0M312.5 295.5h0M320.0 305.4h0M318.9 306.2h0M329.8 286.6h0M326.6 317.7h0M324.3 314.0h0M313.1 303.5h0M329.9 299.2h0M316.9 312.3h0M306.9 310.4h0M302.6 316.3h0M324.6 315.4h0M331.4 310.3h0M323.1 306.3h0M315.0 309.0h0M303.5 305.9h0M329.4 317.9h0M323.5 297.0h0M322.2 316.0h0M329.5 307.6h0M328.0 309.3h0M294.1 313.2h0M320.8 288.0h0M335.1 314.5h0M315.0 311.8h0M324.2 315.5h0M294.5 316.2h0M310.2 316.5h0M321.0 303.4h0M314.2 286.4h0M304.8 314.2h0M318.0 294.9h0M323.1 305.0h0M333.7 314.6h0M314.6 311.5h0M317.9 304.7h0M317.1 313.6h0M314.4 315.5h0M309.5 306.9h0M337.0 307.1h0M332.2 302.7h0M319.2 317.1h0M317.1 306.6h0M321.6 301.7h0M313.4 306.9h0M321.9 291.4h0M313.4 308.8h0M327.3 308.7h0M329.0 294.4h0M330.1 310.2h0M320.1 309.3h0M331.0 317.6h0M325.6 306.2h0M328.9 314.4h0M320.6 306.5h0M317.0 308.0h0M330.6 302.7h0M319.1 305.1h0M309.8 318.0h0M309.4 313.2h0M311.1 310.5h0M305.9 297.6h0M326.5 310.3h0M304.1 309.2h0M307.0 316.3h0M321.4 302.6h0M321.7 318.7h0M320.2 307.8h0M324.1 310.9h0M331.4 311.1h0M328.1 295.1h0M328.0 317.3h0M313.5 302.8h0M315.2 305.6h0M312.8 306.7h0M305.8 309.2h0M304.6 308.4h0M318.9 306.0h0M332.4 305.4h0M323.7 312.3h0M315.5 317.3h0M321.3 286.2h0M310.9 308.2h0M320.0 310.0h0M310.8 309.0h0M328.7 299.9h0M328.2 311.1h0M305.5 314.6h0M329.9 299.6h0M324.3 309.7h0M341.2 303.0h0M324.9 301.3h0M315.5 315.6h0M313.0 318.0h0M321.9 309.6h0M309.7 315.5h0M316.8 317.3h0M310.8 313.1h0M319.5 308.8h0M316.0 290.2h0M337.4 289.4h0M344.3 319.0h0M311.1 301.4h0M331.2 311.4h0M330.3 313.4h0M335.9 311.5h0M309.8 316.6h0M321.0 310.2h0M320.9 306.7h0M317.9 317.0h0M316.9 318.5h0M322.0 303.2h0M308.2 306.4h0M316.0 317.5h0M333.4 291.0h0M327.5 300.4h0M331.7 306.7h0M294.7 313.5h0M320.2 308.5h0M319.7 308.1h0M325.0 298.6h0M347.0 315.0h0M299.5 311.4h0M326.7 316.0h0M316.2 309.2h0M312.1 317.9h0M328.4 314.1h0M328.8 312.6h0M322.4 316.7h0M333.8 315.5h0M312.9 316.0h0M334.2 315.9h0M310.3 313.8h0M311.4 308.9h0M322.4 297.6h0M328.3 304.9h0M333.0 315.1h0M324.8 318.3h0M320.2 289.7h0M313.0 313.5h0M307.2 315.4h0M293.3 315.4h0M313.1 315.9h0M321.8 293.0h0M292.1 310.0h0M308.6 312.5h0M327.9 299.4h0M322.3 317.3h0M319.8 317.6h0M326.1 309.5h0M312.4 316.6h0M317.5 295.0h0M342.2 308.0h0M318.8 317.4h0M312.7 298.8h0M318.2 298.3h0M311.9 301.5h0M322.2 306.3h0M302.6 313.5h0M322.0 298.1h0M331.4 318.3h0M333.8 305.2h0M326.3 305.6h0M315.2 308.5h0M326.7 318.1h0M335.6 313.0h0M333.7 305.0h0M332.9 298.2h0M313.7 313.3h0M337.2 316.3h0M325.5 310.5h0M330.3 301.8h0M328.8 300.1h0M327.0 312.7h0M320.1 300.3h0M320.6 287.7h0M313.4 316.0h0M332.3 312.6h0M321.7 315.1h0M322.9 289.2h0M325.1 304.0h0M332.1 309.3h0M329.6 316.9h0M317.0 312.9h0M315.3 308.8h0M319.8 280.9h0M313.2 299.0h0M317.3 309.6h0M318.4 297.0h0M326.6 285.4h0M324.6 313.5h0M303.7 318.9h0M332.7 313.2h0M317.1 306.9h0M319.8 308.2h0M322.4 299.6h0M315.4 294.6h0M320.4 306.6h0M321.8 309.1h0M323.0 314.9h0M319.6 303.1h0M323.2 293.6h0M330.8 307.0h0M320.3 304.6h0M305.6 312.3h0M318.2 293.1h0M334.6 314.1h0M311.7 309.0h0M313.8 306.3h0M304.9 316.5h0M308.3 307.9h0M319.8 285.6h0M302.1 317.7h0M300.3 314.8h0M314.7 306.6h0M325.9 315.4h0M332.2 305.3h0M326.6 302.4h0M309.5 309.9h0M323.5 308.0h0M319.9 311.3h0M328.4 305.2h0M307.8 310.1h0M317.7 290.6h0M306.6 314.3h0M336.3 303.3h0M327.3 307.6h0M326.8 317.3h0M319.6 316.4h0M326.6 305.0h0M325.5 313.0h0M320.2 310.2h0M325.0 310.0h0M324.7 296.2h0M322.3 301.4h0M306.6 308.5h0M327.4 303.3h0M298.9 314.2h0M315.3 304.7h0M322.6 301.8h0M321.0 309.8h0M346.2 315.1h0M322.8 305.2h0M324.4 317.4h0M314.4 311.7h0M313.8 311.3h0M319.7 310.7h0M327.5 303.9h0M325.3 275.4h0M321.4 318.0h0M315.3 297.4h0M303.8 303.6h0M327.1 301.6h0M311.1 307.0h0M310.1 313.3h0M313.0 307.7h0M313.3 313.3h0M318.5 311.3h0M318.8 291.6h0M312.9 292.0h0M321.3 311.5h0M331.2 314.7h0M326.4 317.8h0M313.7 311.4h0M309.1 294.9h0M314.0 302.4h0M307.7 309.8h0M323.2 312.3h0M316.8 287.2h0M329.9 310.1h0M314.0 315.2h0M305.7 317.6h0M322.0 303.7h0M327.9 318.3h0M326.4 317.0h0M326.7 316.9h0M315.8 283.4h0M315.0 317.5h0M324.9 312.1h0M321.7 306.7h0M319.1 316.2h0M334.9 314.6h0M317.9 310.2h0M341.7 315.5h0M331.2 309.9h0M305.4 309.2h0M323.7 308.8h0M313.0 315.5h0M311.7 307.4h0M315.4 303.3h0M322.3 282.2h0M321.5 314.9h0M315.2 305.7h0M291.1 318.7h0M316.0 316.4h0M328.5 310.3h0M306.7 316.2h0M329.1 314.3h0M315.7 305.8h0M318.0 305.1h0M302.3 303.4h0M324.8 314.0h0M312.0 309.8h0M306.7 318.0h0M323.6 296.7h0M318.2 291.6h0M326.2 284.9h0M325.9 309.6h0M313.8 315.5h0M319.2 289.8h0M326.6 309.8h0M334.6 317.7h0M312.5 309.3h0M336.5 312.7h0M322.7 305.5h0M324.2 317.8h0M324.8 304.5h0M322.8 311.6h0M323.9 318.7h0M330.0 312.2h0M312.6 313.7h0M317.1 312.5h0M329.2 313.3h0M320.2 311.9h0M321.0 317.9h0M322.5 289.0h0M321.5 302.3h0M344.5 311.1h0M310.0 309.8h0M315.8 308.0h0M318.2 313.6h0M316.7 309.3h0M320.1 286.9h0M338.3 309.3h0M329.9 317.7h0M334.4 308.7h0M322.3 285.6h0M321.4 314.4h0M312.2 295.7h0M313.2 299.6h0M323.3 307.4h0M329.9 308.9h0M312.6 297.4h0M329.4 317.3h0M332.7 314.4h0M317.7 317.8h0M311.0 286.6h0M310.6 306.8h0M327.6 313.9h0M332.2 317.9h0M326.6 310.1h0M304.5 317.7h0M319.6 290.0h0M328.5 294.5h0M328.7 311.5h0M318.7 305.2h0M322.8 299.1h0M359.5 312.0h0M319.7 308.6h0M309.8 307.1h0M336.2 301.5h0M310.6 309.2h0M320.0 295.5h0M331.9 303.9h0M328.0 290.8h0M309.9 304.1h0M306.4 318.2h0M315.1 310.4h0M315.1 283.0h0M298.8 314.0h0M313.5 298.6h0M328.5 305.5h0M313.5 296.9h0M322.6 307.0h0M324.4 299.5h0M312.8 318.7h0M306.9 302.6h0M324.8 311.8h0M316.3 314.5h0M327.7 309.8h0M300.8 316.3h0M325.6 318.0h0M315.7 309.8h0M326.5 309.9h0M320.0 312.7h0M337.7 318.0h0M337.0 296.2h0M318.6 300.7h0M321.6 306.7h0M343.6 310.9h0M314.9 301.3h0M321.7 315.9h0M326.1 308.9h0M315.6 315.1h0M327.2 308.6h0M333.7 317.2h0M309.5 306.1h0M320.7 287.4h0M310.5 308.8h0M334.0 308.1h0M341.0 315.6h0M304.3 307.4h0M335.7 312.4h0M312.4 292.2h0M314.3 317.3h0M314.8 293.6h0M311.2 293.4h0M323.5 306.1h0M322.0 311.2h0M333.0 294.8h0M320.0 289.3h0M318.1 305.7h0M303.5 297.3h0M318.5 309.4h0M336.8 311.8h0M314.4 298.3h0M320.3 301.1h0M329.1 305.5h0M301.8 305.3h0M325.0 287.1h0M304.1 312.9h0M306.4 318.7h0M308.5 306.7h0M325.3 309.8h0M332.6 318.1h0M305.2 312.5h0M308.4 315.3h0M332.1 297.0h0M338.7 301.7h0M334.2 306.8h0M328.4 304.6h0M323.2 305.7h0M313.7 291.7h0M315.2 295.5h0M318.7 294.9h0M312.8 306.9h0M320.0 311.9h0M318.0 300.8h0M312.9 305.2h0M350.9 310.7h0M319.2 316.2h0M312.0 304.2h0M315.0 312.3h0M305.9 315.0h0M321.6 297.3h0M318.9 316.0h0M294.1 318.7h0M313.7 299.6h0M319.2 306.4h0M326.2 316.1h0M320.0 293.4h0M325.3 310.5h0M316.8 282.0h0M317.5 304.3h0M327.0 298.6h0M322.1 314.5h0M317.0 318.6h0M333.1 309.3h0M334.2 306.3h0M323.7 316.8h0M317.2 313.4h0M302.1 318.6h0M313.1 301.3h0M324.2 302.0h0M324.9 313.3h0M331.6 315.3h0M325.7 305.0h0M337.0 314.2h0M307.3 301.3h0M330.0 299.6h0M314.0 317.4h0M319.5 284.2h0M302.4 304.2h0M320.9 302.4h0M320.5 297.9h0M313.8 310.4h0M316.7 309.4h0M322.7 309.6h0M320.8 302.7h0M313.0 316.3h0M331.1 317.5h0M321.1 300.2h0M324.4 285.1h0M319.2 291.1h0M323.4 306.4h0M330.3 315.5h0M337.8 309.9h0M311.8 304.9h0M319.6 303.1h0M324.2 308.2h0M324.3 317.8h0M313.1 313.0h0M317.7 315.8h0M322.7 312.8h0M326.4 295.0h0M330.6 318.7h0M323.3 308.4h0M306.7 310.1h0M334.2 295.3h0M315.8 309.1h0M317.6 308.1h0M317.7 294.1h0M313.9 302.0h0M327.6 308.3h0M324.1 318.8h0M334.8 314.4h0M323.4 318.3h0M322.8 294.9h0M318.4 311.7h0M323.9 301.4h0M331.9 308.0h0M304.8 297.7h0M304.2 304.9h0M321.3 316.6h0M314.7 315.5h0M328.7 303.7h0M325.0 290.1h0M320.1 314.6h0M305.1 311.8h0M325.2 303.8h0M303.8 301.8h0M319.4 314.8h0M319.0 284.9h0M311.9 317.8h0M326.6 312.9h0M317.2 312.7h0M311.7 307.1h0M334.0 311.1h0M325.1 318.9h0M330.1 318.2h0M308.3 296.8h0M315.1 306.5h0M332.5 304.1h0M332.9 309.9h0M315.2 313.2h0M328.9 296.2h0M320.3 310.7h0M312.8 299.1h0M320.6 311.4h0M322.2 302.3h0M309.4 308.7h0M339.4 318.9h0M316.3 289.1h0M313.4 311.1h0M290.3 314.9h0M303.0 309.7h0M317.7 297.1h0M320.9 311.9h0M325.3 299.1h0M322.4 302.7h0M331.6 310.6h0M319.4 310.3h0M314.8 294.7h0M327.7 307.7h0M320.8 298.7h0M300.1 303.8h0M308.2 314.5h0M331.7 304.6h0M327.3 301.7h0M335.4 301.4h0M336.9 311.9h0M306.4 315.0h0M328.4 309.1h0M314.6 313.2h0M319.0 308.8h0M322.3 281.1h0M316.1 311.7h0M337.2 308.8h0M317.8 309.5h0M320.5 291.6h0M313.0 293.8h0M313.2 314.1h0M312.7 315.7h0M309.2 314.4h0M331.4 315.2h0M303.8 306.9h0M326.3 298.6h0M313.7 301.3h0M327.6 310.7h0M314.8 292.2h0M325.6 314.2h0M324.7 314.4h0M334.0 312.1h0M323.0 295.5h0M320.3 312.0h0M293.9 306.1h0M325.9 295.7h0M320.7 312.0h0M317.8 313.6h0M336.4 316.4h0M312.6 310.5h0M318.0 290.2h0M319.4 314.7h0M327.3 309.2h0M310.6 316.2h0M321.7 305.9h0M310.1 290.8h0M326.5 318.4h0M323.4 311.4h0M330.1 318.3h0M318.8 293.4h0M325.7 313.7h0M321.2 315.8h0M321.3 287.9h0M317.2 303.8h0M326.6 311.9h0M316.1 312.9h0M309.6 315.3h0M332.8 295.5h0M338.5 316.6h0M310.9 307.0h0M326.6 304.9h0M304.9 316.3h0M298.2 310.5h0M317.4 318.9h0M310.3 302.7h0M309.1 298.9h0M321.6 307.8h0M307.9 300.3h0M334.5 317.2h0M305.2 316.8h0M316.4 290.2h0M333.6 303.7h0M330.6 317.8h0M325.8 303.8h0M327.3 306.8h0M321.7 304.3h0M330.6 306.8h0M333.4 317.6h0M327.5 295.8h0M324.5 318.8h0M321.6 318.1h0M331.0 307.5h0M329.4 318.1h0M322.7 314.5h0M324.3 305.2h0M324.3 318.0h0M327.2 303.3h0M316.3 307.6h0M318.1 295.8h0M323.2 318.6h0M323.0 298.3h0M317.9 297.2h0M328.2 303.5h0M307.8 302.9h0M324.2 311.3h0M320.9 302.1h0M320.7 305.0h0M313.2 295.4h0M319.4 294.8h0M312.7 288.6h0M328.9 307.1h0M317.0 310.7h0M318.1 315.7h0M314.0 278.3h0M309.6 289.2h0M317.9 298.0h0M318.4 305.2h0M318.8 314.9h0M310.4 316.4h0M319.8 310.0h0M326.1 315.8h0M327.9 311.0h0M324.4 305.7h0M305.8 295.6h0M324.2 312.9h0M323.6 312.6h0M304.0 307.2h0M317.8 310.2h0M322.9 306.3h0M323.0 311.2h0M345.6 318.1h0M320.2 318.6h0M334.8 301.8h0M311.6 305.0h0M328.8 299.8h0M317.9 307.1h0M306.8 309.8h0M332.7 301.7h0M319.0 300.1h0M323.2 310.3h0M315.4 302.5h0M315.9 311.0h0M319.3 295.4h0M320.1 293.0h0M323.6 301.6h0M304.9 318.6h0M320.8 311.2h0M314.4 314.5h0M311.8 304.5h0M329.7 316.6h0M308.6 313.1h0M309.8 305.8h0M317.5 294.0h0M316.4 308.2h0M325.9 292.6h0M320.2 298.9h0M311.2 316.1h0M310.3 292.2h0M324.6 312.6h0M319.7 287.2h0M317.5 295.6h0M308.2 312.6h0M324.8 311.0h0M324.7 318.2h0M319.7 318.9h0M327.0 299.7h0M325.7 315.9h0M319.5 317.6h0M322.3 313.5h0M321.5 282.0h0M342.0 313.1h0M321.5 305.4h0M322.2 300.5h0M311.3 318.5h0M312.7 318.6h0M325.3 303.6h0M332.7 315.0h0M313.3 304.3h0M323.2 307.9h0M314.5 302.5h0M313.8 315.8h0M319.4 315.8h0M319.9 311.7h0M316.2 313.7h0M324.1 313.3h0M323.8 308.7h0M319.9 313.4h0M318.5 300.0h0M337.9 318.0h0M327.0 309.6h0M312.7 306.3h0M342.6 314.8h0M309.9 292.9h0M323.0 310.8h0M328.1 304.7h0M315.4 316.3h0M314.5 317.7h0M313.1 314.7h0M314.6 302.4h0M331.8 313.9h0M310.8 309.6h0M331.9 314.9h0M335.5 313.3h0M333.2 307.6h0M304.7 309.2h0M318.2 311.5h0M312.6 316.3h0M313.1 318.9h0M331.8 317.2h0M328.7 299.3h0M324.3 306.5h0M308.6 316.0h0M316.7 304.5h0M305.9 316.4h0M334.1 312.8h0M330.2 317.5h0M322.2 316.7h0M294.3 312.0h0M325.3 313.9h0M336.7 310.8h0M324.4 305.8h0M347.6 309.4h0M317.6 299.4h0M331.0 311.8h0M326.0 314.2h0M317.1 293.6h0M316.3 304.0h0M322.1 301.0h0M320.5 310.5h0M310.6 313.8h0M335.5 318.4h0M318.3 315.4h0M323.9 311.0h0M312.1 311.3h0M338.6 316.9h0M327.4 295.4h0M307.4 305.7h0M316.8 295.3h0M315.8 298.7h0M321.9 318.4h0M342.4 317.9h0M308.4 314.8h0M327.3 314.6h0M322.1 303.4h0M308.0 310.3h0M327.6 305.8h0M302.8 316.6h0M317.6 308.4h0M316.2 275.9h0M317.5 284.4h0M328.5 278.8h0M311.5 315.1h0M314.5 301.7h0M333.8 315.5h0M334.4 318.2h0M297.7 317.1h0M331.1 314.3h0M331.2 310.3h0M318.2 305.6h0M324.6 318.4h0M330.1 310.4h0M309.8 313.2h0M318.6 312.7h0M311.3 312.6h0M329.2 305.9h0M327.2 304.3h0M316.2 310.9h0M323.6 313.3h0M322.1 292.1h0M331.3 290.2h0M314.7 309.5h0M314.9 318.8h0M328.4 296.1h0M315.2 317.3h0M323.3 309.9h0M315.0 318.8h0M311.0 296.7h0M305.5 308.7h0M336.3 305.5h0M328.5 318.2h0M333.7 310.7h0M329.5 316.7h0M324.3 302.4h0M315.2 290.2h0M326.0 314.6h0M325.9 318.1h0M319.1 286.6h0M315.4 314.5h0M303.3 307.4h0M334.6 311.6h0M334.2 318.1h0M319.3 299.9h0M328.8 317.2h0M326.7 317.9h0M312.8 296.9h0M325.1 317.6h0M324.2 309.5h0M314.1 293.4h0M301.4 315.4h0M330.4 287.0h0M327.1 300.4h0M318.3 305.4h0M298.8 315.8h0M319.0 305.2h0M315.7 290.0h0M304.5 311.5h0M299.1 311.3h0M319.7 311.8h0M316.9 283.4h0M316.6 312.7h0M326.7 297.5h0M310.3 302.3h0M323.2 304.9h0M315.1 311.6h0M310.0 315.5h0M324.2 311.6h0M324.5 298.0h0M321.0 306.1h0M330.1 311.5h0M329.0 305.6h0M330.3 310.2h0M313.7 312.5h0M320.8 312.5h0M316.9 281.7h0M315.1 309.8h0M311.2 304.1h0M313.7 314.5h0M320.2 300.1h0M329.3 317.4h0M319.9 317.3h0M328.1 302.3h0M306.3 315.6h0M325.5 309.7h0M318.2 294.6h0M303.7 317.9h0M318.3 301.8h0M313.4 296.3h0M334.1 313.1h0M322.3 315.0h0M337.5 315.9h0M308.0 300.4h0M326.8 318.8h0M325.2 316.1h0M311.9 309.5h0M321.6 300.3h0M322.8 303.5h0M335.2 317.7h0M336.5 313.5h0M341.3 310.2h0M321.2 307.6h0M310.6 307.9h0M304.8 316.2h0M334.6 317.5h0M315.3 311.2h0M327.9 315.3h0M318.7 296.3h0M325.8 317.3h0M324.2 316.2h0M334.2 315.1h0M321.2 310.3h0M313.0 314.1h0M320.2 314.1h0M316.9 297.8h0M316.3 302.5h0M315.9 309.0h0M331.9 309.0h0M313.2 307.1h0M307.4 314.5h0M327.4 311.1h0M320.8 313.8h0M326.9 307.4h0M313.4 310.7h0M318.1 294.4h0M320.2 310.1h0M306.7 311.3h0M317.2 307.6h0M319.0 295.5h0M323.6 311.4h0M326.7 309.8h0M322.7 314.8h0M331.3 316.5h0M318.8 292.0h0M321.1 307.5h0M322.0 304.5h0M312.6 317.5h0M322.6 314.9h0M325.5 304.1h0M299.6 311.8h0M325.3 315.7h0M321.4 313.1h0M327.1 317.7h0M302.5 311.4h0M320.9 307.9h0M328.8 317.3h0M321.4 305.2h0M337.1 312.9h0M319.2 306.2h0M323.9 290.4h0M320.1 310.9h0M343.4 302.1h0M317.8 314.8h0M335.6 302.6h0M311.9 314.0h0M312.3 314.3h0M318.6 305.4h0M321.1 311.7h0M302.3 307.3h0M322.3 314.4h0M305.4 315.0h0M315.5 299.6h0M315.2 312.5h0M315.6 315.9h0M316.1 295.4h0M311.7 300.3h0M301.4 317.4h0M309.1 303.5h0M319.2 302.1h0M307.7 311.3h0M326.2 317.4h0M311.9 319.0h0M331.5 312.7h0M326.8 285.6h0M329.0 294.3h0M323.0 304.1h0M330.9 308.9h0M307.7 315.3h0M327.5 315.3h0M314.3 310.9h0M324.7 300.7h0M318.8 303.6h0M332.6 308.5h0M339.9 304.2h0M311.5 309.0h0M306.3 315.0h0M327.3 312.0h0M330.0 318.0h0M316.3 308.4h0M329.7 317.2h0M330.5 302.7h0M312.8 317.2h0M320.7 313.2h0M314.0 296.8h0M322.5 293.9h0M310.9 315.6h0M321.4 304.9h0M327.9 317.4h0M309.9 313.9h0M307.2 309.4h0M319.6 309.9h0M314.5 305.6h0M329.5 301.9h0M307.7 306.7h0M314.7 303.5h0M324.1 296.8h0M318.4 310.3h0M289.1 316.8h0M317.7 309.0h0M294.9 307.9h0M320.9 308.5h0M336.6 302.8h0M312.3 306.9h0M325.9 307.5h0M323.8 292.8h0M338.7 313.0h0M333.4 310.6h0M319.5 308.9h0M315.2 310.5h0M336.1 319.0h0M311.0 318.4h0M328.4 299.2h0M334.3 317.4h0M340.1 315.9h0M312.7 317.8h0M322.0 313.0h0M314.7 316.4h0M307.9 311.8h0M336.6 311.5h0M310.2 316.5h0M313.4 309.5h0M311.4 317.5h0M313.9 301.9h0M335.9 315.3h0M334.5 318.6h0M328.9 316.2h0M315.7 287.3h0M309.8 311.3h0M313.1 318.5h0M307.5 317.2h0M323.6 288.1h0M334.6 317.5h0M321.6 316.1h0M308.3 306.4h0M307.8 317.0h0M331.1 298.8h0M332.4 311.1h0M314.6 317.8h0M319.4 283.6h0M314.3 300.3h0M329.2 313.1h0M310.5 294.4h0M317.1 308.6h0M312.0 318.2h0M310.9 308.0h0M323.5 303.7h0M309.7 311.2h0M314.0 301.5h0M321.8 295.1h0M306.7 313.3h0M316.8 310.8h0M313.6 307.4h0M309.7 313.8h0M314.7 304.5h0M324.9 270.8h0M323.2 313.9h0M313.5 296.2h0M320.6 308.0h0M320.5 302.8h0M321.6 310.9h0M324.2 311.2h0M316.2 302.8h0M313.1 315.7h0M325.7 318.8h0M298.8 317.9h0M315.4 308.7h0M313.8 314.1h0M329.9 313.5h0M334.3 310.2h0M313.4 294.9h0M328.3 300.3h0M315.0 308.6h0M323.2 311.0h0M332.4 299.6h0M329.1 309.5h0M337.8 316.2h0M322.7 280.4h0M295.7 309.9h0M303.8 310.5h0M329.0 310.2h0M336.8 295.4h0M328.3 311.0h0M327.4 311.0h0M320.0 310.4h0M325.1 284.4h0M317.2 308.7h0M309.0 314.4h0M322.7 308.0h0M328.3 314.5h0M328.6 301.8h0M324.0 312.9h0M334.0 316.0h0M313.1 308.1h0M305.6 313.9h0M304.6 314.3h0M352.0 306.3h0M327.2 294.6h0M309.3 310.1h0M324.9 296.8h0M320.6 313.3h0M311.3 294.5h0M321.2 287.1h0M321.7 298.6h0M329.0 298.1h0M312.7 313.8h0M333.2 316.7h0M320.5 311.3h0M320.6 313.0h0M318.6 306.4h0M323.4 294.3h0M301.6 315.8h0M319.7 287.4h0M340.5 312.8h0M311.7 308.3h0M302.2 306.8h0M306.2 317.5h0M313.3 277.6h0M320.3 316.7h0M310.6 314.9h0M323.4 318.5h0M338.6 318.5h0M312.1 305.0h0M311.3 308.8h0M331.6 317.4h0M321.5 296.1h0M309.9 309.4h0M331.8 294.1h0M314.9 313.4h0M316.3 292.1h0M325.0 317.3h0M312.1 291.2h0M321.9 270.7h0M317.1 289.5h0M327.1 317.4h0M307.3 317.5h0M333.2 318.9h0M309.3 310.0h0M301.3 302.7h0M323.1 300.5h0M322.4 317.6h0M317.5 300.3h0M328.9 299.2h0M318.7 284.7h0M333.0 301.5h0M319.6 317.9h0M317.6 317.2h0M336.0 317.3h0M337.7 311.6h0M317.0 310.5h0M343.9 315.1h0M330.6 310.0h0M325.4 304.8h0M316.0 313.8h0M313.8 306.2h0M335.7 316.6h0M311.4 313.1h0M295.0 312.3h0M345.8 317.8h0M319.0 283.1h0M336.8 304.2h0M317.1 300.2h0M331.2 294.1h0M321.5 314.2h0M317.9 305.7h0M311.9 298.1h0M323.5 300.8h0M314.5 313.1h0M319.4 307.3h0M303.1 316.4h0M316.3 318.3h0M321.8 305.9h0M314.7 318.0h0M313.5 310.0h0M306.7 308.4h0M322.4 296.9h0M322.9 297.5h0M343.7 316.2h0M314.3 314.4h0M331.5 316.6h0M328.7 313.0h0M321.8 313.5h0M293.9 314.7h0M324.9 300.9h0M321.9 313.0h0M334.4 314.6h0M329.7 318.2h0M332.8 292.4h0M322.9 316.8h0M312.4 302.6h0M285.0 313.9h0M313.6 301.5h0M319.8 305.4h0M321.2 292.1h0M308.6 304.2h0M327.7 308.2h0M298.8 299.9h0M315.9 306.7h0M326.7 313.7h0M314.8 311.3h0M318.0 312.5h0M308.1 318.9h0M316.0 310.9h0M307.9 302.2h0M309.5 303.7h0M307.6 314.1h0M325.7 303.7h0M325.8 292.9h0M324.0 288.7h0M324.2 294.3h0M321.4 316.1h0M331.6 317.5h0M322.3 294.5h0M316.4 298.6h0M315.6 284.1h0M317.0 301.8h0M329.3 307.4h0M321.9 294.8h0M347.0 313.5h0M305.4 314.0h0M319.0 293.4h0M322.5 311.7h0M311.3 317.4h0M320.6 318.0h0M320.0 281.3h0M316.5 302.2h0M297.2 315.1h0M322.0 317.9h0M308.6 317.5h0M323.0 314.3h0M322.9 307.2h0M325.5 298.5h0M318.5 296.2h0M323.8 279.3h0M320.6 303.5h0M332.3 312.6h0M320.5 306.5h0M322.9 316.7h0M321.8 303.1h0M315.6 301.5h0M324.9 316.3h0M328.1 310.6h0M330.2 309.7h0M326.0 293.4h0M327.0 317.5h0M328.2 286.7h0M311.2 305.5h0M309.8 311.9h0M316.0 317.2h0M331.9 316.2h0M312.6 314.9h0M310.1 314.0h0M309.1 306.0h0M335.3 310.5h0M320.5 312.1h0M301.7 313.8h0M330.0 318.3h0M325.7 318.6h0M319.7 303.3h0M319.1 312.1h0M314.9 296.8h0M312.2 314.0h0M334.8 313.1h0M320.0 317.1h0M310.1 311.8h0M308.9 309.4h0M334.1 304.4h0M319.3 305.6h0M314.9 312.0h0M317.0 312.8h0M316.0 315.7h0M317.6 314.8h0M317.3 312.9h0M311.5 295.6h0M326.7 315.1h0M309.5 312.6h0M319.2 301.3h0M325.8 303.5h0M315.6 316.4h0M317.7 314.2h0M309.9 296.9h0M339.7 316.3h0M300.3 317.2h0M319.1 301.3h0M321.5 302.8h0M312.5 306.7h0M322.8 298.1h0M323.6 315.7h0M318.3 310.6h0M311.3 302.9h0M315.7 309.5h0M313.1 310.6h0M321.7 312.0h0M312.2 304.2h0M309.5 316.9h0M333.9 312.2h0M329.3 304.4h0M332.4 303.6h0M326.1 317.3h0M333.3 302.6h0M315.2 317.1h0M313.7 305.2h0M316.4 314.7h0M330.0 307.2h0M314.1 294.8h0M328.0 296.4h0M326.9 313.6h0M316.8 290.1h0M310.9 310.8h0M326.1 288.8h0M319.2 307.5h0M318.2 309.3h0M321.1 302.0h0M323.3 300.5h0M314.6 315.5h0M329.1 313.6h0M324.8 296.8h0M327.9 299.7h0M319.2 312.2h0M313.5 304.4h0M310.3 314.8h0M316.1 316.4h0M334.2 315.8h0M328.6 314.9h0M325.0 295.7h0M336.0 308.6h0M315.6 298.9h0M339.1 305.8h0M319.6 299.4h0M336.4 309.7h0M322.7 287.8h0M316.6 303.8h0M326.2 304.8h0M329.9 314.9h0M336.1 317.3h0M322.1 318.9h0M323.1 303.1h0M317.3 297.3h0M329.8 307.7h0M316.3 309.9h0M315.8 304.8h0M318.8 318.1h0M314.0 304.8h0M331.6 310.1h0M315.8 296.2h0M325.8 304.5h0M328.9 315.4h0M317.6 305.2h0M303.9 317.7h0M325.6 297.3h0M311.3 289.1h0M317.0 298.7h0M303.6 308.8h0M335.1 318.9h0M314.6 286.6h0M330.5 309.3h0M327.9 307.1h0M308.5 305.9h0M314.2 317.2h0M322.4 314.3h0M305.2 302.8h0M310.7 298.7h0M329.6 315.5h0M313.4 311.0h0M327.3 311.2h0M320.5 316.5h0M319.7 308.8h0M331.3 312.8h0M333.2 318.8h0M322.7 313.2h0M318.9 293.7h0M328.5 305.0h0M324.1 314.7h0M334.1 316.0h0M324.2 289.6h0M310.0 312.6h0M319.5 307.8h0M331.3 315.7h0M313.2 308.5h0M329.5 305.2h0M314.2 303.4h0M316.7 315.4h0M312.7 310.2h0M347.7 308.5h0M333.3 303.9h0M313.5 313.9h0M332.5 302.4h0M317.3 315.8h0M319.3 311.3h0M325.0 296.5h0M304.1 307.8h0M312.9 293.6h0M313.1 300.2h0M318.7 317.7h0M320.7 293.1h0M312.5 313.9h0M314.8 283.8h0M326.3 307.3h0M323.8 310.5h0M320.1 278.8h0M328.9 314.7h0M330.6 302.0h0M305.5 318.3h0M314.9 289.6h0M307.3 312.5h0M317.3 295.6h0M313.6 310.4h0M325.9 294.1h0M326.3 297.9h0M310.6 315.0h0M344.2 308.4h0M309.5 315.2h0M326.8 314.4h0M316.4 318.8h0M313.7 302.8h0M319.5 296.3h0M323.7 313.8h0M333.3 315.9h0M325.4 314.9h0M316.5 301.2h0M329.9 310.5h0M317.5 315.4h0M335.4 313.9h0M312.2 309.3h0M318.7 316.9h0M328.8 299.7h0M318.2 315.4h0M335.3 318.6h0M331.3 321.0h0M315.2 308.3h0M274.4 375.7h0M361.0 317.4h0M344.9 313.3h0M322.5 308.8h0M336.6 342.7h0M329.4 333.4h0M315.4 313.1h0M314.6 313.1h0M326.8 311.3h0M306.9 317.7h0M302.3 298.1h0M342.6 308.3h0M361.1 306.3h0M324.9 278.4h0M325.9 342.4h0M330.0 305.9h0M340.1 319.0h0M362.2 315.0h0M342.4 334.0h0M314.5 302.2h0M316.2 308.6h0M327.6 319.2h0M284.8 314.5h0M340.4 321.9h0M334.3 304.5h0M317.8 298.7h0M334.6 352.7h0M305.8 287.1h0M342.1 308.4h0M305.0 310.8h0M320.2 310.1h0M378.3 337.0h0M338.6 326.4h0M325.4 285.6h0M346.5 314.4h0M289.4 341.7h0M348.7 332.3h0M298.7 306.4h0M310.4 300.7h0M387.7 335.9h0M333.5 282.5h0M313.7 299.6h0M305.4 331.8h0M335.8 317.4h0M284.7 349.5h0M298.4 308.8h0M325.6 316.7h0M343.0 301.9h0M315.2 299.7h0M321.0 331.5h0M315.8 311.8h0M333.4 319.0h0M315.7 299.4h0M321.0 310.4h0M333.1 286.1h0M337.4 287.0h0M300.0 333.7h0M305.4 332.6h0M331.4 311.4h0M327.2 349.2h0M356.8 288.0h0M279.4 333.4h0M342.2 315.9h0M308.7 324.7h0M328.8 331.2h0M321.0 357.7h0M303.8 336.9h0M287.2 310.7h0M338.4 312.2h0M331.4 299.7h0M329.2 303.3h0M290.8 314.2h0M320.7 313.1h0M358.0 298.7h0M319.6 311.3h0M321.1 309.5h0M317.4 329.5h0M328.2 327.6h0M335.4 320.7h0M316.9 329.1h0M331.6 318.8h0M297.8 309.8h0M325.0 311.0h0M331.0 342.3h0M321.0 319.5h0M330.2 333.7h0M294.3 310.9h0M336.9 315.5h0M299.2 321.2h0M304.0 325.1h0M331.7 312.1h0M305.9 321.1h0M315.6 313.0h0M312.8 311.0h0M308.2 324.3h0M333.7 307.4h0M304.5 323.5h0M335.5 321.4h0M333.8 323.9h0M320.9 313.4h0M310.8 315.1h0M298.7 330.7h0M306.5 318.6h0M324.3 315.1h0M319.5 308.0h0M314.9 323.5h0M328.3 302.6h0M319.1 298.3h0M318.8 316.6h0M303.5 330.2h0M303.4 328.0h0M299.9 323.0h0M296.7 310.7h0M303.9 318.7h0M309.7 313.5h0M322.2 305.6h0M312.2 318.0h0M307.9 319.4h0M298.0 335.8h0M332.6 300.7h0M309.7 311.8h0M326.0 322.8h0M332.1 327.0h0M305.8 317.0h0M317.3 321.4h0M317.4 297.5h0M313.4 340.3h0M319.5 327.4h0M318.5 312.6h0M319.5 313.2h0M329.6 310.9h0M296.9 324.2h0M325.7 311.3h0M317.5 323.0h0M323.8 305.6h0M335.6 341.0h0M319.5 305.5h0M332.1 329.4h0M308.7 300.4h0M303.2 310.5h0M306.1 310.7h0M313.7 298.7h0M322.7 328.8h0M294.2 312.3h0M312.9 306.9h0M319.0 303.9h0M327.8 310.9h0M305.6 318.4h0M319.0 328.4h0M319.7 310.4h0M340.6 316.3h0M322.1 328.7h0M311.1 313.1h0M308.5 333.5h0M307.3 302.9h0M303.9 332.1h0M330.5 307.0h0M308.7 337.3h0M310.2 314.5h0M309.2 339.1h0M309.2 299.9h0M320.0 317.1h0M314.1 306.9h0M295.7 305.2h0M340.5 297.7h0M333.4 337.4h0M334.2 318.2h0M334.0 327.4h0M302.4 320.6h0M306.8 294.2h0M330.6 307.0h0M322.1 302.0h0M331.1 321.1h0M314.9 305.8h0M310.0 316.5h0M310.8 304.6h0M325.6 318.4h0M330.9 323.6h0M304.2 316.0h0M307.9 301.1h0M320.2 312.0h0M323.6 310.6h0M326.8 313.2h0M321.7 325.5h0M339.8 311.3h0M294.6 299.3h0M333.7 332.7h0M329.3 330.2h0M314.8 309.8h0M334.7 323.1h0M325.9 321.7h0M319.1 298.9h0M333.1 318.2h0M310.7 310.7h0M329.9 309.0h0M305.9 319.5h0" stroke="#bebebe" stroke-width="2.30" stroke-linecap="round" fill="none"/>
<path d="M343.9 329.7h0M330.0 320.3h0M329.5 336.4h0M311.3 345.5h0M322.5 324.0h0M321.1 333.4h0M322.3 342.9h0M330.5 339.7h0M331.6 348.8h0M319.2 359.1h0M333.1 336.0h0M305.9 336.5h0M323.9 317.8h0M330.6 345.3h0M334.4 319.0h0M299.0 341.4h0M338.4 317.9h0M322.9 349.2h0M320.2 339.6h0M328.9 329.0h0M339.7 330.5h0M318.5 331.4h0M258.8 350.0h0M312.4 327.3h0M324.2 328.3h0M321.9 324.9h0M318.7 332.7h0M310.9 335.3h0M292.3 335.3h0M316.3 327.5h0M315.0 323.1h0M327.1 338.7h0M331.9 330.7h0M291.3 330.6h0M297.6 337.1h0M359.8 337.5h0M335.9 334.9h0M336.4 334.6h0M305.8 332.4h0M311.8 322.3h0M327.4 340.1h0M310.2 352.2h0M317.6 335.1h0M335.3 341.1h0M322.8 339.9h0M320.6 341.0h0M284.7 327.2h0M324.3 340.1h0M275.7 352.1h0M308.4 344.7h0M327.3 324.3h0M321.6 329.2h0M349.7 334.0h0M321.2 329.4h0M310.7 326.1h0M317.3 327.8h0M318.8 333.4h0M325.6 353.4h0M311.7 347.8h0M295.3 317.2h0M311.2 325.6h0M332.1 332.9h0M319.7 333.8h0M316.7 334.9h0M321.5 326.7h0M312.5 340.6h0M320.3 333.4h0M322.8 338.3h0M327.1 328.5h0M323.1 329.9h0M325.2 319.0h0M318.3 342.0h0M308.6 325.7h0M322.1 321.3h0M320.7 333.6h0M327.1 332.6h0M322.8 327.6h0M322.4 333.4h0M324.5 337.3h0M327.0 336.9h0M322.6 332.0h0M315.6 336.7h0M331.6 327.5h0M326.1 330.4h0M318.7 323.1h0M317.9 336.5h0M324.8 338.2h0M326.8 331.0h0M326.5 346.4h0M315.7 328.6h0M334.9 325.1h0M317.1 340.2h0M303.6 326.6h0M307.3 322.2h0M324.3 331.5h0M318.7 330.6h0M316.0 330.6h0M324.7 324.7h0M321.4 327.4h0M328.9 341.4h0M326.4 339.9h0M316.1 328.9h0M322.4 329.2h0M326.1 330.3h0M309.0 323.4h0M323.1 351.1h0M321.8 319.1h0M322.9 326.0h0M308.4 353.2h0M342.8 331.3h0M320.3 329.4h0M328.3 338.6h0M330.8 322.9h0M318.2 338.4h0M322.2 319.7h0M320.8 340.0h0M301.0 344.5h0M319.4 344.0h0M329.8 335.0h0M320.1 330.5h0M314.5 333.1h0M324.0 319.5h0M306.2 325.2h0M325.0 331.7h0M321.5 327.8h0M310.1 338.4h0M326.9 322.0h0M317.7 334.6h0M310.5 324.9h0M324.5 332.6h0M329.4 329.2h0M326.5 336.0h0M338.3 325.5h0M320.3 323.8h0M326.5 337.8h0M336.3 330.4h0M328.8 334.0h0M336.8 332.6h0M319.6 339.3h0M320.6 326.7h0M305.0 336.2h0M332.9 333.5h0M330.7 329.3h0M328.4 339.5h0M317.8 321.1h0M319.1 332.6h0M334.9 337.2h0M319.0 323.6h0M315.5 335.7h0M325.1 335.2h0M306.7 328.4h0M320.9 330.4h0M315.4 333.4h0M332.3 321.7h0M332.4 324.3h0M312.5 323.9h0M328.3 336.0h0M331.0 325.8h0M310.4 349.4h0M311.6 332.6h0M334.5 347.5h0M311.4 337.7h0M319.4 329.7h0M317.4 322.2h0M312.9 329.2h0M325.3 320.8h0M334.4 329.1h0M328.5 324.2h0M310.2 341.2h0M325.6 318.9h0M325.2 338.4h0M321.1 329.4h0M319.4 331.5h0M313.4 335.5h0M315.5 317.9h0M323.9 346.6h0M330.8 330.6h0M314.3 327.8h0M333.4 338.3h0M313.2 334.0h0M334.9 332.8h0M322.3 327.6h0M305.8 339.4h0M327.1 338.1h0M332.9 331.6h0M317.5 335.8h0M317.9 327.0h0M313.2 333.0h0M327.9 327.0h0M302.8 318.3h0M312.8 330.4h0M321.0 336.2h0M339.9 324.1h0M330.6 330.7h0M322.8 329.6h0M331.2 339.2h0M335.0 349.4h0M309.4 331.7h0M329.9 340.9h0M326.8 327.1h0M340.6 325.5h0M330.7 329.4h0M319.5 340.1h0M314.4 339.3h0M322.9 324.4h0M321.3 334.8h0M328.1 341.8h0M309.2 326.3h0M314.9 321.1h0M339.6 328.8h0M318.9 329.2h0M313.5 339.9h0M322.9 327.0h0M318.7 335.7h0M324.3 339.4h0M333.1 328.4h0M312.5 328.6h0M322.6 327.5h0M324.3 322.5h0M321.0 335.0h0M313.7 338.4h0M314.1 330.7h0M328.2 324.1h0M322.7 343.7h0M323.9 327.8h0M316.0 334.2h0M325.3 335.3h0M313.7 329.6h0M322.7 336.5h0M315.4 337.8h0M335.3 336.2h0M328.2 328.7h0M312.1 336.0h0M324.6 340.6h0M318.0 323.7h0M311.8 333.8h0M302.9 342.3h0M316.9 331.7h0M318.2 344.3h0M308.6 337.4h0M324.4 341.2h0M328.4 323.2h0M317.6 335.4h0M321.8 328.2h0M324.9 319.9h0M331.8 343.4h0M331.5 337.3h0M336.3 319.9h0M310.9 331.7h0M320.5 328.8h0M325.1 328.9h0M335.3 332.1h0M298.8 328.1h0M313.9 319.6h0M329.1 323.4h0M303.3 328.1h0M337.1 331.8h0M337.8 336.9h0M337.4 337.1h0M307.7 320.0h0M317.5 339.1h0M327.0 336.2h0M302.4 322.9h0M318.3 335.3h0M321.4 323.7h0M306.4 339.1h0M310.7 329.7h0M320.0 334.9h0M313.0 321.2h0M318.1 323.9h0M321.3 318.7h0M316.3 320.7h0M315.2 328.4h0M314.8 320.6h0M311.2 329.6h0M333.8 342.0h0M337.0 327.4h0M322.5 342.7h0M326.2 334.1h0M322.2 339.3h0M316.4 334.9h0M313.9 338.5h0M326.5 332.1h0M309.0 331.2h0M336.1 327.6h0M324.1 317.7h0M311.1 331.6h0M329.1 338.6h0M315.3 347.3h0M295.2 319.5h0M330.6 342.3h0M336.7 324.6h0M307.7 319.6h0M311.7 335.2h0M316.9 328.4h0M326.3 329.9h0M322.2 343.8h0M314.1 332.4h0M313.4 337.7h0M309.7 323.9h0M337.5 336.8h0M318.9 328.7h0M325.3 335.0h0M311.4 332.8h0M312.6 327.4h0M320.4 332.3h0M317.8 330.9h0M316.8 329.1h0M335.1 343.4h0M328.2 347.0h0M318.7 335.0h0M321.1 334.7h0M316.2 331.8h0M318.8 329.7h0M322.6 320.6h0M331.2 332.8h0M322.9 326.2h0M302.4 331.1h0M331.6 344.3h0M318.2 335.8h0M334.6 337.1h0M294.5 342.0h0M303.8 328.0h0M335.3 325.1h0M306.8 330.7h0M334.1 331.3h0M319.0 332.0h0M321.4 342.4h0M318.5 326.4h0M324.7 333.8h0M326.6 324.4h0M324.7 336.2h0M311.0 335.8h0M320.2 343.1h0M335.8 334.2h0M310.1 331.2h0M312.3 324.8h0M331.9 336.0h0M317.6 322.8h0M322.2 342.4h0M325.8 333.3h0M322.7 342.6h0M328.4 333.0h0M301.5 337.3h0M322.4 331.4h0M331.1 325.3h0M323.5 332.8h0M307.5 330.1h0M321.9 340.6h0M325.7 331.6h0M316.9 325.5h0M325.4 345.9h0M327.3 339.8h0M328.3 344.9h0M310.6 335.7h0M313.1 327.9h0M327.3 338.7h0M319.9 340.7h0M320.8 330.9h0M321.2 332.5h0M331.4 340.5h0M317.3 330.4h0M316.6 336.3h0M324.1 335.8h0M311.0 334.2h0M315.5 323.6h0M321.3 329.3h0M325.4 335.7h0M320.7 336.2h0M323.6 331.5h0M313.7 339.8h0M329.2 340.3h0M312.2 324.2h0M322.9 338.9h0M321.3 340.9h0M311.9 336.5h0M303.8 325.6h0M311.5 336.8h0M315.6 332.1h0M328.8 327.2h0M329.3 324.5h0M332.7 324.2h0M310.4 335.3h0M333.4 317.8h0M329.9 341.4h0M324.2 321.0h0M311.9 335.8h0M301.1 340.8h0M336.8 321.5h0M310.5 337.6h0M314.7 337.4h0M316.9 327.9h0M319.8 337.3h0M326.5 331.5h0M333.5 344.3h0M328.2 320.8h0M315.1 330.3h0M325.7 342.6h0M315.5 342.0h0M310.2 334.6h0M317.1 329.9h0M332.2 329.0h0M321.9 345.9h0M323.4 321.0h0M311.3 328.1h0M323.2 334.3h0M305.6 322.9h0M309.4 331.8h0M324.4 330.3h0M325.5 330.5h0M321.7 343.7h0M328.1 327.7h0M318.0 341.2h0M320.7 326.5h0M325.1 321.9h0M323.1 328.1h0M324.2 349.8h0M323.4 323.6h0M305.7 333.2h0M318.6 321.2h0M316.0 331.9h0M310.8 330.7h0M325.3 326.2h0M333.0 324.9h0M310.8 340.7h0M317.1 326.2h0M312.6 335.4h0M315.0 328.0h0M304.5 320.7h0M317.2 320.4h0M316.4 340.5h0M321.8 340.5h0M311.9 336.6h0M316.8 337.9h0M310.6 332.7h0M329.5 333.4h0M323.3 329.5h0M299.2 324.9h0M314.0 339.2h0M321.9 323.7h0M329.2 335.1h0M306.1 342.4h0M324.5 354.5h0M330.5 319.2h0M331.3 333.7h0M317.3 334.5h0M326.8 329.0h0M312.4 336.9h0M324.2 322.3h0M332.7 329.7h0M338.1 343.8h0M319.5 338.4h0M311.5 333.4h0M303.7 322.8h0M320.2 336.9h0M328.7 341.2h0M330.2 328.1h0M319.9 326.7h0M313.4 343.3h0M322.3 326.3h0M327.0 334.1h0M320.3 328.8h0M311.4 331.5h0M321.8 332.0h0M334.4 332.0h0M323.7 342.2h0M320.2 323.5h0M313.7 339.6h0M335.6 335.4h0M299.4 327.9h0M317.9 327.8h0M335.5 335.7h0M327.1 332.4h0M329.0 330.5h0M308.8 331.8h0M314.4 319.3h0M302.8 326.9h0M318.3 346.6h0M315.0 325.9h0M319.9 338.3h0M309.1 329.6h0M332.3 345.1h0M313.7 317.7h0M319.3 329.8h0M330.5 338.9h0M321.1 324.8h0M323.7 324.7h0M312.0 331.3h0M338.8 346.3h0M334.1 318.5h0M326.4 325.5h0M325.1 339.0h0M327.1 326.3h0M311.5 337.5h0M316.8 370.7h0M316.0 345.2h0M328.4 367.7h0M323.4 347.0h0M315.6 346.7h0M321.5 354.9h0M315.8 355.7h0M327.2 371.7h0M320.0 365.6h0M332.3 348.6h0M330.7 350.3h0M319.7 358.9h0M317.7 343.1h0M321.8 352.0h0M327.3 351.0h0M326.8 344.7h0M321.4 343.7h0M326.9 343.1h0M324.5 350.6h0M314.7 354.6h0M323.4 343.2h0M322.9 357.0h0M318.1 342.6h0M325.7 348.0h0M320.4 349.8h0M314.3 347.8h0M328.0 344.4h0M319.2 345.2h0M336.2 347.2h0M317.0 361.3h0M311.5 346.5h0M323.7 349.0h0M324.0 348.6h0M318.0 344.9h0M326.4 358.9h0M321.2 342.8h0M312.6 369.4h0M327.5 363.6h0M314.5 342.7h0M328.1 347.6h0M332.8 354.4h0M321.9 346.2h0M313.5 344.7h0M322.0 354.2h0M319.5 352.9h0M326.5 347.3h0M325.7 356.9h0M321.2 350.0h0M322.6 343.9h0M318.7 344.8h0M323.7 354.2h0M317.2 356.3h0M321.1 357.7h0M327.7 348.1h0M322.7 354.8h0M326.5 353.6h0M316.5 342.7h0M327.0 342.5h0M322.6 352.3h0M326.8 346.0h0M256.5 252.5h0M253.0 272.0h0M265.5 264.0h0M259.0 336.0h0M260.0 341.0h0M259.5 321.5h0M262.0 317.0h0M278.0 276.0h0M302.0 288.0h0M330.0 272.0h0M349.0 342.0h0M365.0 337.0h0M286.0 364.0h0M292.0 369.0h0M312.0 367.0h0" stroke="#e3262b" stroke-width="2.40" stroke-linecap="round" fill="none"/>
<line x1="244.3" y1="316.9" x2="396.6" y2="316.9" stroke="#1a1a1a" stroke-width="1.0" stroke-dasharray="1.3 2.5"/>
<line x1="320.9" y1="247.0" x2="320.9" y2="376.8" stroke="#1a1a1a" stroke-width="1.0" stroke-dasharray="1.3 2.5"/>
<line x1="244.3" y1="247.0" x2="244.3" y2="377.4" stroke="#3a3a3a" stroke-width="1.25"/>
<line x1="243.7" y1="376.8" x2="396.6" y2="376.8" stroke="#3a3a3a" stroke-width="1.25"/>
<line x1="241.7" y1="279.7" x2="244.3" y2="279.7" stroke="#333" stroke-width="1"/>
<text x="221.9" y="284.1" font-size="11.75" fill="#1e1e1e" stroke="#1e1e1e" textLength="16.9" lengthAdjust="spacingAndGlyphs">0.4</text>
<line x1="241.7" y1="316.9" x2="244.3" y2="316.9" stroke="#333" stroke-width="1"/>
<text x="222.0" y="321.2" font-size="11.75" fill="#1e1e1e" stroke="#1e1e1e" textLength="16.9" lengthAdjust="spacingAndGlyphs">0.0</text>
<line x1="241.7" y1="354.1" x2="244.3" y2="354.1" stroke="#333" stroke-width="1"/>
<text x="218.1" y="358.4" font-size="11.75" fill="#1e1e1e" stroke="#1e1e1e" textLength="20.7" lengthAdjust="spacingAndGlyphs">-0.4</text>
<line x1="251.7" y1="376.8" x2="251.7" y2="379.4" stroke="#333" stroke-width="1"/>
<text x="237.1" y="391.1" font-size="12.75" fill="#1e1e1e" stroke="#1e1e1e" textLength="29.6" lengthAdjust="spacingAndGlyphs">-0.50</text>
<line x1="286.3" y1="376.8" x2="286.3" y2="379.4" stroke="#333" stroke-width="1"/>
<text x="271.7" y="391.1" font-size="12.75" fill="#1e1e1e" stroke="#1e1e1e" textLength="29.6" lengthAdjust="spacingAndGlyphs">-0.25</text>
<line x1="320.9" y1="376.8" x2="320.9" y2="379.4" stroke="#333" stroke-width="1"/>
<text x="308.5" y="391.1" font-size="12.75" fill="#1e1e1e" stroke="#1e1e1e" textLength="25.4" lengthAdjust="spacingAndGlyphs">0.00</text>
<line x1="355.5" y1="376.8" x2="355.5" y2="379.4" stroke="#333" stroke-width="1"/>
<text x="343.1" y="391.1" font-size="12.75" fill="#1e1e1e" stroke="#1e1e1e" textLength="25.4" lengthAdjust="spacingAndGlyphs">0.25</text>
<line x1="390.1" y1="376.8" x2="390.1" y2="379.4" stroke="#333" stroke-width="1"/>
<text x="377.7" y="391.1" font-size="12.75" fill="#1e1e1e" stroke="#1e1e1e" textLength="25.4" lengthAdjust="spacingAndGlyphs">0.50</text>
<text x="295.2" y="404.0" font-size="11.32" fill="#1e1e1e" stroke="#1e1e1e" textLength="53.7" lengthAdjust="spacingAndGlyphs">Bulk_LFC</text>
<text x="250.5" y="265.1" font-size="10.32" fill="#1e1e1e" stroke="#1e1e1e" textLength="123.8" lengthAdjust="spacingAndGlyphs"><tspan font-style="italic">R</tspan> = −0.08, <tspan font-style="italic">p</tspan> = 3.1e-08</text>
<text x="360.1" y="292.8" font-size="16.72" font-weight="bold" textLength="22.9" lengthAdjust="spacingAndGlyphs">Inh</text>
<text x="347.4" y="369.4" font-size="10.76" font-weight="bold" fill="#2a2a2a" textLength="49.2" lengthAdjust="spacingAndGlyphs">N = 4764</text>
<path d="M509.7 307.2h0M519.0 333.4h0M522.7 301.1h0M509.9 346.6h0M518.6 288.0h0M512.6 294.4h0M524.9 316.3h0M525.4 320.2h0M535.5 293.3h0M506.4 287.6h0M514.2 280.5h0M512.5 266.2h0M523.3 295.5h0M511.8 334.2h0M521.9 314.4h0M529.8 300.0h0M519.0 344.0h0M518.6 298.3h0M507.9 306.8h0M526.8 301.2h0M524.5 300.2h0M509.2 288.1h0M520.6 285.2h0M539.6 261.4h0M515.5 250.1h0M525.9 315.7h0M523.3 257.2h0M530.5 284.8h0M511.2 315.9h0M518.6 285.5h0M505.1 304.7h0M533.9 316.5h0M518.8 274.8h0M522.1 314.7h0M539.0 290.9h0M519.9 301.2h0M480.7 262.7h0M507.8 295.5h0M513.1 280.6h0M507.7 331.2h0M503.3 280.9h0M537.1 273.8h0M510.1 280.3h0M527.5 286.0h0M521.5 309.9h0M517.9 263.9h0M518.7 292.8h0M526.6 292.1h0M507.7 323.1h0M516.5 325.8h0M511.3 360.9h0M506.0 288.4h0M506.2 284.2h0M523.2 282.0h0M504.9 303.2h0M466.3 304.9h0M516.8 307.3h0M535.5 339.0h0M485.2 270.2h0M514.3 272.9h0M494.4 296.2h0M518.2 288.4h0M457.6 361.1h0M516.8 294.3h0M519.5 285.2h0M515.1 272.8h0M493.3 335.8h0M509.2 286.5h0M529.7 308.3h0M513.4 305.3h0M508.4 305.3h0M502.1 307.5h0M504.3 250.2h0M524.5 309.7h0M523.9 298.8h0M510.5 295.5h0M509.8 278.8h0M527.1 293.9h0M508.5 291.9h0M509.9 264.4h0M576.1 290.7h0M531.1 309.6h0M509.9 315.5h0M515.0 306.9h0M511.8 303.7h0M519.8 292.4h0M487.9 275.4h0M523.4 289.5h0M497.7 302.7h0M474.8 311.5h0M523.2 299.0h0M519.9 315.9h0M518.0 282.6h0M521.9 306.2h0M521.2 318.3h0M525.9 286.0h0M497.1 296.4h0M522.8 321.4h0M519.1 331.3h0M510.4 283.7h0M525.3 305.9h0M517.7 288.9h0M512.8 355.2h0M510.6 280.0h0M524.4 301.2h0M510.3 309.8h0M518.4 285.9h0M517.9 305.1h0M514.8 291.3h0M505.8 307.0h0M506.8 290.5h0M525.2 322.7h0M515.1 314.1h0M518.0 308.7h0M507.7 305.9h0M518.7 307.5h0M519.7 303.7h0M520.8 291.2h0M519.5 289.4h0M517.8 295.8h0M512.0 293.8h0M513.0 313.2h0M512.0 307.3h0M520.7 333.0h0M523.9 289.0h0M508.7 303.3h0M520.5 293.0h0M523.8 275.3h0M502.7 291.7h0M521.4 315.0h0M517.7 322.7h0M520.5 300.2h0M527.8 307.1h0M511.5 306.8h0M509.7 317.8h0M515.5 277.3h0M526.2 308.0h0M513.6 304.7h0M522.0 302.0h0M518.9 317.5h0M514.3 302.3h0M529.9 298.3h0M512.4 303.7h0M524.1 291.4h0M515.6 293.9h0M529.6 319.9h0M519.7 318.6h0M507.6 291.7h0M519.3 321.1h0M506.8 307.1h0M515.1 298.3h0M518.0 287.0h0M527.3 294.5h0M519.7 286.7h0M512.2 277.5h0M527.5 339.7h0M517.8 307.7h0M531.5 293.5h0M519.2 292.7h0M523.2 308.8h0M525.0 317.1h0M509.9 294.1h0M518.9 311.0h0M516.7 311.5h0M523.0 296.8h0M517.6 296.9h0M509.1 317.5h0M530.4 300.4h0M529.7 325.7h0M513.4 298.3h0M513.7 316.6h0M526.9 296.0h0M506.8 304.0h0M526.5 308.6h0M517.6 279.9h0M521.9 298.5h0M517.8 304.8h0M514.3 289.7h0M518.3 310.8h0M529.6 299.1h0M510.2 329.3h0M525.0 292.4h0M515.7 304.0h0M527.7 303.0h0M527.7 306.5h0M512.4 306.0h0M505.7 294.2h0M521.8 291.6h0M515.2 285.3h0M517.6 279.0h0M515.0 313.6h0M513.7 315.7h0M520.4 311.9h0M512.4 302.0h0M510.3 292.7h0M514.0 310.5h0M528.5 284.1h0M528.0 270.5h0M502.9 327.2h0M526.1 305.7h0M519.1 303.5h0M502.1 312.7h0M514.1 272.9h0M521.0 313.2h0M526.9 317.7h0M515.6 312.6h0M517.3 305.1h0M530.6 298.6h0M500.0 296.6h0M506.7 288.6h0M527.6 309.1h0M512.0 300.6h0M524.5 305.6h0M529.5 288.8h0M519.3 304.6h0M511.2 307.7h0M522.3 319.5h0M503.4 304.9h0M521.8 319.8h0M520.2 303.6h0M512.7 323.3h0M516.8 324.3h0M518.3 307.2h0M511.8 284.3h0M519.5 300.4h0M526.8 283.6h0M508.1 317.6h0M511.0 287.1h0M502.5 289.4h0M521.2 315.1h0M503.9 306.7h0M510.2 291.9h0M521.1 299.2h0M518.8 310.4h0M521.1 306.4h0M522.9 294.6h0M510.5 289.8h0M517.0 290.5h0M518.3 299.5h0M527.5 288.4h0M525.4 311.9h0M533.1 293.3h0M521.0 294.4h0M514.4 306.3h0M523.7 322.8h0M514.7 292.6h0M518.0 318.0h0M521.5 311.9h0M523.9 303.1h0M521.6 331.3h0M521.3 293.9h0M514.7 299.6h0M519.5 311.5h0M506.7 292.3h0M514.6 288.3h0M503.2 285.1h0M524.5 283.9h0M528.3 303.0h0M518.2 328.5h0M530.8 285.8h0M524.3 310.9h0M512.2 297.7h0M510.7 325.7h0M535.6 282.0h0M511.6 300.0h0M510.5 317.4h0M518.9 298.8h0M505.4 279.8h0M517.2 275.0h0M522.9 295.7h0M524.3 306.7h0M521.3 308.0h0M512.5 293.8h0M514.5 304.2h0M522.7 299.3h0M526.6 296.4h0M509.1 291.9h0M512.7 322.4h0M523.1 308.1h0M516.7 306.4h0M508.7 337.0h0M521.3 317.2h0M525.6 301.9h0M516.3 289.3h0M516.7 300.0h0M504.2 305.9h0M508.7 299.6h0M533.2 326.5h0M506.8 305.0h0M519.7 324.5h0M531.3 302.8h0M513.5 307.9h0M520.7 277.0h0M519.3 296.7h0M528.9 311.1h0M519.0 314.1h0M516.1 304.7h0M519.6 277.0h0M523.4 316.6h0M522.4 317.9h0M509.0 305.3h0M515.9 299.1h0M508.7 289.4h0M516.3 287.1h0M514.6 285.8h0M520.3 330.6h0M519.9 300.7h0M507.3 291.9h0M521.5 304.2h0M515.3 275.6h0M509.0 307.1h0M509.8 313.1h0M517.6 287.8h0M529.6 266.0h0M513.8 280.6h0M514.3 309.2h0M526.2 307.4h0M515.3 305.0h0M508.2 299.8h0M522.4 305.8h0M521.7 295.5h0M521.1 299.8h0M510.4 279.6h0M500.4 289.0h0M513.4 303.9h0M511.2 284.8h0M519.3 308.3h0M520.5 307.4h0M512.7 308.0h0M520.4 315.3h0M515.2 287.1h0M524.3 315.4h0M515.7 270.9h0M510.9 315.9h0M512.0 293.9h0M524.4 303.3h0M517.0 291.7h0M519.1 304.3h0M521.5 276.7h0M525.4 328.0h0M520.6 296.8h0M525.5 319.9h0M512.1 301.2h0M518.5 289.5h0M516.2 315.1h0M531.5 276.7h0M521.5 281.7h0M512.9 311.2h0M509.8 307.1h0M513.9 312.1h0M507.5 330.3h0M510.4 292.9h0M508.5 320.5h0M520.0 303.3h0M527.5 285.7h0M510.8 306.2h0M511.5 297.9h0M515.8 298.3h0M519.0 286.6h0M524.5 302.5h0M512.1 294.7h0M519.0 300.5h0M520.7 322.4h0M517.0 279.9h0M519.3 304.1h0M518.1 299.7h0M505.7 298.4h0M518.3 299.8h0M528.0 326.0h0M503.5 329.6h0M508.8 295.8h0M536.6 324.7h0M523.7 287.6h0M517.9 309.5h0M510.7 307.8h0M507.8 322.0h0M516.8 290.5h0M527.0 314.3h0M527.5 283.0h0M512.8 300.8h0M505.6 303.7h0M517.5 299.0h0M516.4 281.0h0M521.2 321.6h0M507.8 285.7h0M517.1 285.7h0M510.9 296.6h0M507.4 278.6h0M523.6 287.3h0M523.0 290.5h0M521.7 295.0h0M506.3 308.6h0M515.8 291.7h0M532.1 326.4h0M508.8 300.2h0M514.0 289.8h0M520.3 312.8h0M524.5 285.2h0M520.8 319.4h0M502.5 296.7h0M511.2 311.7h0M506.6 300.6h0M515.4 290.7h0M516.6 279.3h0M508.6 288.2h0M522.2 321.0h0M515.2 295.6h0M505.5 281.5h0M517.9 316.7h0M513.8 291.4h0M512.6 310.1h0M525.6 301.3h0M514.2 305.0h0M512.8 300.8h0M524.8 308.3h0M506.0 329.5h0M537.1 281.3h0M513.7 310.6h0M525.7 276.0h0M528.6 319.1h0M521.7 300.8h0M503.6 304.3h0M511.4 307.3h0M513.9 284.7h0M531.6 338.4h0M506.4 305.7h0M509.5 312.6h0M510.6 308.8h0M513.1 311.3h0M504.2 308.4h0M518.6 308.0h0M518.3 321.6h0M526.0 293.3h0M517.2 290.6h0M513.4 326.9h0M510.0 314.3h0M528.4 312.2h0M524.9 287.3h0M514.2 290.3h0M527.1 300.6h0M511.6 301.1h0M525.0 283.8h0M522.7 304.1h0M515.8 307.2h0M512.2 287.8h0M506.9 307.0h0M506.6 293.7h0M511.3 315.0h0M498.4 296.5h0M516.9 305.0h0M516.6 314.3h0M516.0 295.5h0M518.5 306.5h0M518.7 307.4h0M524.9 321.7h0M509.4 290.6h0M531.6 296.6h0M502.3 299.8h0M519.8 318.3h0M519.8 310.3h0M518.7 317.4h0M506.0 302.9h0M519.2 304.9h0M525.3 284.8h0M525.9 313.6h0M509.0 299.7h0M516.6 271.7h0M517.1 293.8h0M512.8 274.9h0M519.1 321.0h0M526.3 319.1h0M520.0 314.9h0M507.4 294.8h0M515.7 302.6h0M513.3 300.4h0M523.0 283.7h0M521.0 301.0h0M519.8 304.7h0M519.2 297.4h0M523.9 316.8h0M521.8 290.9h0M515.4 305.1h0M530.6 312.4h0M520.7 318.2h0M508.1 310.4h0M496.7 294.9h0M518.0 281.3h0M500.6 282.0h0M519.8 306.9h0M519.2 299.1h0M523.9 309.0h0M512.8 301.3h0M530.4 294.4h0M508.6 282.7h0M503.0 283.0h0M525.8 310.4h0M520.4 312.7h0M512.1 295.9h0M517.5 321.4h0M513.5 282.6h0M510.5 322.0h0M516.1 284.0h0M518.9 312.0h0M511.3 292.5h0M509.9 278.6h0M513.9 311.4h0M520.9 300.2h0M506.9 303.1h0M523.7 316.4h0M512.8 288.7h0M523.4 303.3h0M526.8 314.3h0M524.7 302.3h0M508.5 307.9h0M515.2 310.6h0M515.7 310.6h0M512.7 303.2h0M524.0 321.8h0M508.3 306.2h0M518.9 305.0h0M517.0 304.6h0M514.1 309.2h0M527.1 279.6h0M527.0 284.1h0M514.4 289.5h0M521.6 298.7h0M520.9 275.0h0M516.8 313.8h0M516.9 287.8h0M517.5 324.5h0M523.7 319.1h0M510.8 301.8h0M513.1 299.6h0M510.4 292.4h0M526.2 285.2h0M521.8 299.8h0M513.0 312.1h0M518.3 320.6h0M531.5 311.4h0M514.5 293.6h0M505.6 303.0h0M512.8 332.3h0M513.2 293.2h0M510.4 300.6h0M513.0 277.4h0M524.7 308.6h0M528.6 311.6h0M517.2 315.4h0M516.8 317.9h0M517.1 305.9h0M504.6 296.4h0M519.5 304.0h0M516.6 318.4h0M525.4 284.7h0M517.6 308.9h0M531.7 306.4h0M514.0 300.9h0M525.6 268.4h0M523.9 318.4h0M515.9 318.0h0M512.0 286.9h0M505.8 299.5h0M519.9 304.1h0M507.5 302.7h0M520.9 308.1h0M527.0 287.3h0M519.5 299.7h0M517.6 294.1h0M517.2 282.9h0M512.8 315.3h0M512.9 297.5h0M519.5 309.4h0M525.5 290.9h0M515.3 284.2h0M520.1 302.9h0M518.3 287.1h0M521.7 285.5h0M508.2 294.4h0M510.7 309.5h0M517.7 291.3h0M523.8 310.8h0M515.1 290.6h0M509.5 305.2h0M516.5 305.5h0M519.3 305.4h0M512.0 306.2h0M516.4 271.1h0M513.2 316.9h0M519.3 295.3h0M513.1 306.7h0M514.0 280.1h0M507.4 333.8h0M514.7 301.9h0M518.0 306.2h0M521.5 302.7h0M514.0 298.6h0M516.3 324.3h0M528.6 311.7h0M528.7 294.5h0M511.3 270.6h0M522.6 307.5h0M508.3 309.0h0M514.7 304.7h0M523.7 310.3h0M516.4 295.9h0M523.7 286.2h0M519.1 314.3h0M526.4 280.7h0M520.4 298.3h0M515.3 314.1h0M518.4 265.5h0M521.7 286.9h0M520.6 293.8h0M511.9 301.8h0M520.5 288.5h0M525.3 293.7h0M519.6 326.0h0M514.2 305.3h0M521.5 313.5h0M523.7 303.7h0M517.4 304.7h0M513.8 277.3h0M519.2 302.3h0M535.1 295.6h0M508.7 293.2h0M513.2 308.8h0M513.6 309.4h0M512.9 294.7h0M518.0 303.1h0M507.3 308.0h0M515.4 328.1h0M515.5 306.1h0M510.3 309.1h0M513.1 304.2h0M522.7 283.3h0M502.5 298.0h0M517.6 309.0h0M525.5 295.6h0M514.4 287.8h0M519.9 316.8h0M516.3 314.1h0M513.2 295.2h0M525.8 318.6h0M517.5 287.7h0M518.4 285.3h0M520.4 296.1h0M510.4 300.3h0M533.7 308.6h0M520.5 285.4h0M521.2 280.0h0M512.7 304.7h0M531.5 291.6h0M520.3 297.7h0M503.8 310.1h0M533.3 312.3h0M511.3 300.2h0M520.4 287.8h0M518.0 293.1h0M516.8 295.8h0M517.2 306.7h0M511.9 323.0h0M509.6 308.7h0M530.4 322.0h0M515.8 308.9h0M510.9 307.4h0M510.3 318.2h0M519.4 293.1h0M522.3 294.2h0M518.6 290.8h0M513.0 314.2h0M530.1 325.3h0M524.5 304.7h0M523.0 300.7h0M516.5 299.0h0M523.5 306.5h0M507.7 306.3h0M525.8 309.7h0M512.8 302.6h0M517.1 314.6h0M521.1 298.4h0M523.3 276.8h0M504.2 312.4h0M503.8 323.0h0M518.9 303.9h0M525.5 329.7h0M517.6 308.3h0M510.5 284.9h0M508.3 320.6h0M514.4 323.7h0M509.2 290.0h0M518.2 316.0h0M510.8 295.1h0M511.9 327.1h0M519.7 308.1h0M512.0 299.6h0M511.5 333.1h0M515.8 273.0h0M508.2 269.8h0M507.4 276.0h0M524.4 297.1h0M507.9 329.2h0M513.3 325.3h0M514.9 301.9h0M521.0 323.7h0M516.7 323.8h0M510.9 332.4h0M519.6 303.7h0M515.6 305.6h0M521.1 305.0h0M507.2 329.0h0M512.5 289.7h0M510.0 311.7h0M511.4 297.8h0M527.8 314.1h0M516.8 287.6h0M516.3 308.7h0M510.0 291.5h0M521.0 297.6h0M526.9 283.1h0M513.1 290.5h0M519.0 292.2h0M523.5 327.7h0M516.7 307.9h0M513.1 317.5h0M511.2 300.0h0M520.1 288.0h0M521.9 299.1h0M519.2 296.9h0M508.4 311.2h0M518.2 304.1h0M514.4 309.4h0M514.0 304.4h0M528.2 296.8h0M520.0 296.2h0M519.1 298.9h0M522.4 293.6h0M514.4 324.2h0M518.2 326.5h0M515.7 287.0h0M516.6 307.5h0M515.5 282.7h0M505.2 326.4h0M511.3 308.5h0M523.5 314.0h0M495.0 279.6h0M507.5 309.5h0M513.2 283.4h0M520.8 311.8h0M516.9 282.3h0M518.9 288.9h0M515.6 304.9h0M518.0 298.1h0M516.0 310.4h0M517.5 266.6h0M511.2 301.4h0M523.9 294.2h0M512.5 307.6h0M509.2 310.2h0M512.3 304.0h0M519.1 307.0h0M524.4 298.4h0M511.5 301.8h0M531.6 316.6h0M510.1 284.5h0M515.5 281.6h0M507.8 317.1h0M524.2 314.9h0M528.3 273.7h0M518.0 292.9h0M524.1 288.0h0M519.9 313.8h0M523.8 324.1h0M527.4 303.7h0M506.3 307.8h0M527.5 318.4h0M503.1 288.9h0M521.4 309.8h0M517.7 303.9h0M511.5 309.2h0M529.4 303.2h0M505.3 292.5h0M520.7 309.8h0M511.8 290.1h0M518.3 306.0h0M518.2 301.9h0M516.9 292.3h0M503.8 284.7h0M514.3 312.7h0M510.8 330.6h0M515.9 290.9h0M522.3 318.9h0M527.4 314.1h0M521.0 297.4h0M518.4 306.5h0M512.2 308.3h0M504.3 292.7h0M513.9 302.8h0M520.2 307.3h0M519.1 281.9h0M532.2 295.2h0M525.6 305.7h0M518.1 298.5h0M516.6 279.7h0M514.5 332.7h0M521.8 293.8h0M514.1 295.2h0M515.7 320.2h0M520.4 294.4h0M501.8 325.2h0M524.8 301.4h0M519.5 296.4h0M512.3 336.2h0M500.6 297.8h0M519.9 309.4h0M517.3 298.5h0M519.3 286.7h0M509.3 310.3h0M511.6 311.8h0M524.9 321.8h0M525.1 287.7h0M517.5 301.9h0M524.4 298.0h0M526.4 304.4h0M526.4 303.9h0M517.9 287.3h0M514.4 324.1h0M527.7 269.4h0M533.6 326.3h0M512.1 312.5h0M523.6 267.1h0M515.9 304.1h0M515.7 282.7h0M516.1 309.7h0M519.9 286.8h0M533.2 287.1h0M512.6 309.3h0M513.4 294.0h0M513.3 300.2h0M533.7 297.8h0M513.1 285.8h0M518.5 310.1h0M511.1 295.5h0M519.6 293.6h0M511.2 311.9h0M525.9 297.0h0M502.8 308.0h0M506.1 327.9h0M518.9 310.8h0M518.9 315.9h0M521.9 307.9h0M518.5 280.4h0M521.6 297.9h0M518.7 315.1h0M511.0 290.9h0M522.6 291.7h0M513.5 295.6h0M521.2 297.6h0M518.2 320.7h0M520.7 308.6h0M516.5 296.1h0M506.4 298.8h0M524.5 327.6h0M512.9 302.0h0M520.4 306.0h0M514.1 268.6h0M513.6 292.2h0M514.5 299.3h0M511.8 304.7h0M512.1 281.7h0M519.3 300.4h0M519.6 315.6h0M506.2 298.0h0M507.9 304.4h0M507.4 264.4h0M525.7 286.1h0M512.8 306.7h0M522.9 303.4h0M514.0 328.4h0M514.6 289.0h0M518.4 292.5h0M518.9 288.6h0M519.6 278.4h0M517.9 311.0h0M518.0 301.0h0M532.5 302.2h0M511.4 302.1h0M526.1 294.8h0M505.0 297.0h0M508.0 297.6h0M505.5 322.4h0M516.3 310.1h0M516.8 312.3h0M514.7 295.1h0M510.2 292.7h0M522.5 315.1h0M512.8 279.4h0M522.8 288.6h0M511.5 297.3h0M523.3 306.3h0M514.7 280.4h0M516.8 317.3h0M517.8 311.0h0M517.4 298.3h0M517.9 301.7h0M533.7 304.9h0M516.5 302.0h0M518.7 305.9h0M522.9 313.3h0M518.8 274.2h0M522.8 305.9h0M527.0 269.1h0M522.5 270.3h0M517.4 297.4h0M523.1 273.1h0M522.2 278.8h0M513.6 292.7h0M520.8 295.5h0M517.6 291.5h0M513.4 290.5h0M519.6 292.5h0M509.8 310.9h0M519.7 323.8h0M516.3 312.6h0M512.5 315.5h0M527.2 322.0h0M504.5 285.1h0M503.0 316.4h0M525.5 296.6h0M510.7 292.8h0M510.4 293.1h0M511.3 312.0h0M531.1 299.7h0M522.6 323.4h0M526.8 298.9h0M520.6 320.5h0M524.9 321.7h0M512.4 302.2h0M523.2 299.3h0M531.4 337.0h0M511.1 293.4h0M516.5 306.6h0M524.9 328.4h0M511.8 300.9h0M522.7 294.3h0M520.8 282.4h0M519.5 300.3h0M520.2 286.7h0M511.4 294.2h0M507.3 275.2h0M508.9 309.5h0M515.3 305.2h0M516.4 326.1h0M513.7 299.9h0M522.7 303.2h0M518.8 309.0h0M510.2 285.1h0M512.4 314.7h0M534.8 286.8h0M519.5 272.5h0M515.8 306.5h0M517.6 283.8h0M514.3 324.5h0M517.9 292.4h0M518.2 290.5h0M513.8 297.6h0M516.5 296.8h0M520.7 282.0h0M508.8 314.5h0M513.7 299.4h0M513.4 294.7h0M508.9 302.8h0M516.5 288.6h0M517.1 316.7h0M503.3 314.9h0M512.5 296.0h0M518.7 312.6h0M517.9 309.4h0M507.6 283.6h0M509.5 296.5h0M509.7 286.0h0M521.9 299.1h0M507.5 319.1h0M525.5 317.9h0M500.6 283.8h0M508.9 303.8h0M520.6 308.5h0M512.1 316.6h0M531.4 303.1h0M524.7 303.3h0M498.8 292.7h0M514.3 309.6h0M522.7 293.4h0M509.6 288.9h0M515.7 297.2h0M517.4 315.6h0M508.9 328.3h0M514.2 319.6h0M517.1 309.9h0M511.8 314.1h0M516.5 281.7h0M514.7 289.2h0M521.2 293.7h0M522.7 311.9h0M521.0 293.9h0M524.7 300.2h0M515.6 316.5h0M513.6 318.9h0M522.7 310.7h0M516.3 293.8h0M519.9 285.6h0M518.9 289.0h0M525.1 303.3h0M524.1 287.6h0M516.8 292.7h0M515.6 285.5h0M523.5 290.1h0M520.1 309.5h0M526.6 310.5h0M505.2 290.8h0M508.3 283.9h0M509.5 311.9h0M521.5 306.0h0M509.3 294.4h0M521.2 305.6h0M508.8 303.6h0M517.4 323.6h0M514.9 264.7h0M519.4 317.6h0M505.7 314.6h0M525.2 305.0h0M513.2 302.9h0M515.0 306.2h0M525.8 305.3h0M513.8 312.5h0M515.1 280.4h0M519.2 329.0h0M514.4 305.4h0M507.3 300.8h0M514.9 305.6h0M517.4 299.9h0M522.9 293.4h0M509.9 317.9h0M521.4 289.5h0M508.7 286.3h0M533.0 312.6h0M519.2 312.6h0M521.3 336.8h0M521.6 309.7h0M515.4 315.7h0M520.0 305.4h0M498.4 299.8h0M511.0 312.5h0M503.2 293.9h0M509.4 302.7h0M518.4 308.4h0M513.1 297.8h0M508.5 305.0h0M512.6 319.1h0M532.1 280.6h0M516.7 284.8h0M508.8 304.7h0M520.5 298.3h0M523.1 302.9h0M513.2 326.4h0M521.2 302.9h0M522.8 314.8h0M516.1 317.5h0M506.1 285.2h0M518.4 284.1h0M528.1 301.7h0M524.1 303.6h0M513.9 299.2h0M523.3 298.4h0M503.3 322.0h0M514.7 298.5h0M515.8 288.5h0M498.6 294.2h0M512.4 304.5h0M518.1 295.9h0M511.5 325.4h0M520.1 301.7h0M507.1 293.5h0M517.1 286.5h0M511.4 287.4h0M515.1 306.2h0M515.6 297.8h0M519.4 313.3h0M496.6 287.2h0M514.7 306.0h0M501.0 295.5h0M525.5 300.9h0M517.7 314.4h0M521.4 291.5h0M518.1 291.0h0M520.3 311.5h0M523.7 307.1h0M498.6 300.3h0M511.0 312.0h0M524.7 306.0h0M513.4 308.2h0M522.7 318.0h0M524.2 298.5h0M518.3 302.4h0M525.4 281.2h0M506.1 317.3h0M524.6 311.5h0M516.0 315.5h0M516.5 292.9h0M521.5 286.2h0M519.3 298.4h0M517.7 327.1h0M507.3 306.5h0M525.3 314.3h0M519.8 289.5h0M526.5 296.2h0M530.8 301.9h0M524.1 314.6h0M513.5 301.0h0M525.0 296.3h0M522.8 298.5h0M521.5 304.5h0M518.8 320.4h0M511.0 288.7h0M504.1 344.6h0M514.0 318.0h0M514.7 295.2h0M511.4 331.1h0M511.4 288.0h0M519.9 310.4h0M519.6 287.9h0M517.6 313.9h0M512.0 324.5h0M513.4 308.6h0M518.4 297.6h0M524.3 282.5h0M516.5 285.2h0M520.1 276.5h0M521.6 293.3h0M523.5 296.6h0M528.1 298.9h0M514.6 293.8h0M514.0 281.6h0M518.1 277.4h0M516.1 294.6h0M514.3 289.9h0M514.7 299.8h0M518.0 321.9h0M514.5 312.0h0M523.0 313.0h0M515.5 329.8h0M506.8 293.7h0M519.1 292.5h0M517.9 310.8h0M516.5 297.4h0M520.3 296.8h0M512.9 277.6h0M521.3 325.4h0M509.8 293.0h0M525.9 284.4h0M509.9 308.5h0M517.1 310.6h0M506.9 312.2h0M512.1 317.5h0M522.5 294.4h0M524.6 298.7h0M509.8 295.8h0M507.3 298.4h0M510.1 318.0h0M509.6 319.1h0M522.1 278.9h0M515.9 298.1h0M512.7 299.1h0M531.0 299.5h0M508.5 289.0h0M513.3 333.3h0M513.4 321.9h0M506.7 295.0h0M514.1 295.5h0M518.7 307.4h0M515.7 282.9h0M518.1 301.1h0M521.4 289.0h0M525.7 306.1h0M508.2 313.0h0M509.8 291.7h0M514.8 305.6h0M532.9 298.4h0M520.5 308.1h0M515.0 280.4h0M517.1 273.2h0M519.4 281.4h0M518.9 316.2h0M511.7 310.0h0M524.9 286.6h0M502.1 292.9h0M518.8 287.3h0M516.8 304.8h0M521.8 318.0h0M519.6 290.0h0M514.8 279.2h0M521.5 330.6h0M507.4 309.1h0M521.9 343.7h0M531.2 296.4h0M524.0 312.8h0M504.7 304.1h0M515.2 325.3h0M515.4 308.8h0M527.4 316.3h0M508.3 301.7h0M519.6 309.4h0M515.3 315.7h0M511.9 296.1h0M527.3 298.2h0M507.3 322.0h0M508.0 292.4h0M518.8 313.4h0M522.5 316.1h0M522.6 310.5h0M517.6 298.1h0M513.3 334.3h0M523.4 306.2h0M525.5 309.9h0M521.4 305.8h0M521.4 305.0h0M508.2 306.1h0M521.6 303.1h0M515.6 305.6h0M516.9 286.9h0M516.8 292.0h0M508.4 308.1h0M519.1 314.4h0M515.3 308.8h0M518.1 310.4h0M511.6 315.3h0M512.3 274.4h0M516.7 281.4h0M523.9 285.0h0M517.7 279.1h0M519.8 322.2h0M514.8 318.9h0M516.0 286.5h0M515.2 290.9h0M521.3 309.8h0M528.9 291.1h0M516.3 293.9h0M511.5 297.5h0M520.9 311.3h0M524.5 297.7h0M516.0 296.2h0M493.1 302.4h0M517.4 294.6h0M518.3 317.3h0M508.4 307.5h0M512.5 299.9h0M515.7 298.5h0M527.5 300.5h0M515.3 286.9h0M528.4 308.6h0M517.3 290.3h0M514.7 325.2h0M511.0 288.3h0M526.8 288.1h0M521.9 329.2h0M508.5 288.2h0M526.0 320.8h0M531.2 305.9h0M518.5 286.2h0M515.3 301.7h0M519.2 290.0h0M515.5 316.2h0M528.3 310.8h0M522.9 323.7h0M503.4 329.2h0M517.0 279.0h0M519.4 312.5h0M513.1 319.3h0M523.5 334.9h0M516.9 302.5h0M513.8 287.6h0M519.9 332.8h0M512.8 290.8h0M518.2 292.6h0M520.7 298.8h0M513.6 294.9h0M517.5 322.4h0M503.4 328.8h0M519.8 322.5h0M523.5 310.7h0M511.2 290.3h0M522.7 310.1h0M531.7 256.8h0M512.8 265.4h0M531.0 292.2h0M506.6 311.3h0M522.2 284.1h0M512.0 299.0h0M527.7 291.0h0M516.5 315.8h0M517.8 296.5h0M517.6 320.4h0M516.9 316.1h0M509.9 297.6h0M512.4 316.3h0M509.1 278.2h0M520.0 317.5h0M531.9 278.8h0M507.9 320.0h0M521.4 295.3h0M518.9 317.8h0M521.2 276.6h0M516.8 304.6h0M524.9 319.4h0M517.9 309.7h0M514.3 289.6h0M518.6 281.8h0M502.3 282.5h0M521.1 303.1h0M516.2 323.6h0M519.5 297.3h0M525.5 301.7h0M505.4 292.9h0M513.0 305.6h0M516.0 309.0h0M516.9 297.9h0M514.5 299.2h0M514.0 281.3h0M511.1 309.4h0M508.9 320.8h0M519.5 299.3h0M505.7 299.1h0M514.5 309.2h0M525.2 316.2h0M522.0 314.7h0M529.4 311.9h0M521.4 294.1h0M517.7 310.2h0M505.1 329.3h0M516.0 311.5h0M501.4 303.7h0M509.0 300.5h0M508.9 286.6h0M505.0 319.6h0M511.7 286.1h0M506.0 299.6h0M528.0 300.4h0M510.5 299.9h0M511.9 298.3h0M511.5 321.7h0M532.3 296.5h0M510.2 304.9h0M517.7 315.8h0M513.1 299.3h0M517.0 299.6h0M519.8 308.8h0M520.1 276.6h0M520.8 304.7h0M503.5 302.9h0M512.1 300.1h0M508.7 313.0h0M521.6 316.1h0M520.5 309.3h0M521.0 319.4h0M517.2 314.3h0M508.7 313.1h0M515.8 324.8h0M520.6 289.8h0M520.1 296.1h0M525.1 302.9h0M516.2 302.1h0M509.2 303.6h0M515.4 303.2h0M524.7 285.4h0M516.4 323.2h0M515.9 296.9h0M518.5 319.0h0M517.6 318.4h0M509.9 321.2h0M514.9 311.1h0M524.4 293.0h0M531.0 305.5h0M514.2 325.6h0M522.4 333.7h0M517.5 284.3h0M519.9 277.2h0M523.0 303.4h0M500.6 300.2h0M510.5 276.0h0M510.5 290.0h0M517.7 288.4h0M525.7 332.9h0M521.0 290.0h0M516.8 302.0h0M510.8 297.9h0M526.0 290.6h0M523.3 298.6h0M509.9 297.8h0M523.1 300.6h0M512.8 298.7h0M509.8 304.6h0M523.4 316.3h0M529.7 311.1h0M501.2 307.3h0M507.2 295.9h0M511.8 308.8h0M516.5 295.1h0M517.4 279.5h0M510.0 310.3h0M529.7 293.4h0M525.8 298.4h0M525.1 284.6h0M518.5 318.0h0M508.5 301.6h0M510.1 297.1h0M519.2 296.9h0M512.1 303.9h0M511.4 296.2h0M511.4 304.4h0M511.0 288.1h0M509.8 284.7h0M519.4 314.7h0M515.6 284.3h0M505.5 294.7h0M513.7 301.4h0M516.0 308.8h0M510.9 328.4h0M509.4 296.6h0M515.4 290.2h0M501.6 316.2h0M540.7 317.1h0M504.0 301.7h0M514.9 318.1h0M517.6 298.6h0M511.2 307.3h0M514.2 305.4h0M519.5 302.0h0M516.4 296.8h0M516.3 282.4h0M501.5 298.3h0M521.4 295.2h0M511.1 302.0h0M509.3 287.0h0M513.6 302.4h0M516.4 318.9h0M514.3 280.4h0M509.3 291.9h0M515.0 283.8h0M520.2 308.1h0M510.9 317.3h0M515.6 287.8h0M512.8 291.3h0M523.6 292.5h0M525.1 306.7h0M516.3 308.3h0M515.2 295.5h0M507.8 314.7h0M534.0 287.4h0M516.9 327.0h0M530.5 324.5h0M516.5 321.1h0M517.6 287.9h0M519.3 308.4h0M527.5 294.3h0M511.0 307.1h0M521.3 325.8h0M519.7 295.3h0M517.3 342.7h0M503.7 301.8h0M529.1 304.5h0M510.8 294.1h0M522.6 288.7h0M518.8 302.8h0M521.6 313.4h0M522.8 305.8h0M522.2 301.3h0M510.8 300.7h0M521.1 315.5h0M530.1 297.4h0M510.1 288.1h0M518.6 274.2h0M507.2 305.5h0M519.1 280.7h0M521.4 303.1h0M522.2 316.8h0M516.1 302.5h0M520.4 287.3h0M520.8 280.6h0M524.8 309.8h0" stroke="#bebebe" stroke-width="2.30" stroke-linecap="round" fill="none"/>
<path d="M527.6 321.4h0M524.1 331.9h0M519.4 336.1h0M518.3 337.3h0M514.7 339.6h0M512.4 341.9h0M507.7 340.8h0M511.2 345.0h0M521.8 346.6h0M539.3 341.9h0M501.2 348.9h0M512.4 351.3h0M515.9 354.3h0M533.4 352.0h0M513.6 358.3h0M521.3 359.9h0M524.1 366.9h0M527.6 369.5h0M521.1 372.8h0" stroke="#e3262b" stroke-width="2.60" stroke-linecap="round" fill="none"/>
<line x1="437.4" y1="304.0" x2="595.0" y2="304.0" stroke="#1a1a1a" stroke-width="1.0" stroke-dasharray="1.3 2.5"/>
<line x1="516.6" y1="249.0" x2="516.6" y2="378.4" stroke="#1a1a1a" stroke-width="1.0" stroke-dasharray="1.3 2.5"/>
<line x1="437.4" y1="249.0" x2="437.4" y2="379.0" stroke="#3a3a3a" stroke-width="1.25"/>
<line x1="436.8" y1="378.4" x2="595.0" y2="378.4" stroke="#3a3a3a" stroke-width="1.25"/>
<line x1="434.8" y1="259.5" x2="437.4" y2="259.5" stroke="#333" stroke-width="1"/>
<text x="415.3" y="263.9" font-size="11.75" fill="#1e1e1e" stroke="#1e1e1e" textLength="16.9" lengthAdjust="spacingAndGlyphs">0.5</text>
<line x1="434.8" y1="304.0" x2="437.4" y2="304.0" stroke="#333" stroke-width="1"/>
<text x="415.2" y="308.4" font-size="11.75" fill="#1e1e1e" stroke="#1e1e1e" textLength="16.9" lengthAdjust="spacingAndGlyphs">0.0</text>
<line x1="434.8" y1="348.5" x2="437.4" y2="348.5" stroke="#333" stroke-width="1"/>
<text x="411.4" y="352.9" font-size="11.75" fill="#1e1e1e" stroke="#1e1e1e" textLength="20.7" lengthAdjust="spacingAndGlyphs">-0.5</text>
<line x1="444.7" y1="378.4" x2="444.7" y2="381.0" stroke="#333" stroke-width="1"/>
<text x="429.8" y="391.9" font-size="13.04" fill="#1e1e1e" stroke="#1e1e1e" textLength="30.4" lengthAdjust="spacingAndGlyphs">-0.50</text>
<line x1="480.7" y1="378.4" x2="480.7" y2="381.0" stroke="#333" stroke-width="1"/>
<text x="465.8" y="391.9" font-size="13.04" fill="#1e1e1e" stroke="#1e1e1e" textLength="30.4" lengthAdjust="spacingAndGlyphs">-0.25</text>
<line x1="516.6" y1="378.4" x2="516.6" y2="381.0" stroke="#333" stroke-width="1"/>
<text x="503.9" y="391.9" font-size="13.04" fill="#1e1e1e" stroke="#1e1e1e" textLength="26.0" lengthAdjust="spacingAndGlyphs">0.00</text>
<line x1="552.6" y1="378.4" x2="552.6" y2="381.0" stroke="#333" stroke-width="1"/>
<text x="539.9" y="391.9" font-size="13.04" fill="#1e1e1e" stroke="#1e1e1e" textLength="26.0" lengthAdjust="spacingAndGlyphs">0.25</text>
<line x1="588.6" y1="378.4" x2="588.6" y2="381.0" stroke="#333" stroke-width="1"/>
<text x="575.9" y="391.9" font-size="13.04" fill="#1e1e1e" stroke="#1e1e1e" textLength="26.0" lengthAdjust="spacingAndGlyphs">0.50</text>
<text x="490.9" y="404.7" font-size="11.32" fill="#1e1e1e" stroke="#1e1e1e" textLength="53.7" lengthAdjust="spacingAndGlyphs">Bulk_LFC</text>
<text x="443.9" y="266.8" font-size="10.76" fill="#1e1e1e" stroke="#1e1e1e" textLength="124.0" lengthAdjust="spacingAndGlyphs"><tspan font-style="italic">R</tspan> = −0.056, <tspan font-style="italic">p</tspan> = 0.038</text>
<text x="564.5" y="295.0" font-size="16.28" font-weight="bold" textLength="21.8" lengthAdjust="spacingAndGlyphs">Oli</text>
<text x="545.9" y="370.8" font-size="10.32" font-weight="bold" fill="#2a2a2a" textLength="49.2" lengthAdjust="spacingAndGlyphs">N = 1374</text>
<circle cx="622.0" cy="267.8" r="3.0" fill="#c8c8c8"/>
<circle cx="622.0" cy="284.0" r="3.0" fill="#e0484c"/>
<text x="629.0" y="270.8" font-size="12.94" fill="#262626" stroke="#262626" textLength="49.9" lengthAdjust="spacingAndGlyphs">non-sig</text>
<text x="629.5" y="287.1" font-size="14.24" fill="#262626" stroke="#262626" textLength="20.3" lengthAdjust="spacingAndGlyphs">sig</text>
<path d="M112.7 463.0h0M90.0 469.3h0M113.3 490.9h0M127.8 481.0h0M82.4 454.5h0M111.1 463.5h0M95.6 471.8h0M81.3 486.2h0M98.8 504.6h0M103.6 477.8h0M124.3 483.4h0M97.8 480.1h0M75.2 494.0h0M110.1 485.9h0M92.0 468.2h0M91.5 479.3h0M73.2 493.8h0M102.2 490.4h0M116.0 458.8h0M100.7 486.7h0M81.4 473.8h0M94.0 473.6h0M88.9 457.5h0M91.6 477.0h0M83.0 466.1h0M94.7 475.7h0M116.0 481.2h0M96.4 492.1h0M87.2 485.9h0M102.7 497.3h0M128.9 499.8h0M92.9 479.9h0M105.7 495.9h0M97.4 469.5h0M102.8 470.2h0M88.3 460.9h0M95.0 480.6h0M106.5 485.7h0M86.2 471.1h0M86.3 500.8h0M94.0 488.6h0M94.5 493.1h0M96.6 471.4h0M100.6 484.1h0M100.7 476.2h0M93.9 475.9h0M88.0 463.7h0M106.2 482.0h0M97.7 486.2h0M101.1 486.3h0M95.0 482.5h0M140.3 487.4h0M125.1 497.1h0M103.3 479.6h0M77.6 478.2h0M110.9 441.6h0M101.9 479.0h0M106.4 499.8h0M96.2 433.3h0M91.8 466.3h0M113.9 502.9h0M92.2 460.0h0M109.3 438.8h0M79.8 490.1h0M98.9 494.2h0M94.7 482.5h0M135.8 486.4h0M92.0 450.5h0M87.6 482.9h0M90.5 491.2h0M116.7 457.9h0M80.4 514.1h0M91.7 453.4h0M101.6 475.0h0M102.2 492.6h0M87.8 486.1h0M79.5 499.4h0M99.2 475.0h0M115.4 479.5h0M83.4 454.8h0M68.0 460.6h0M103.5 465.0h0M92.0 480.6h0M100.0 512.0h0M83.4 471.3h0M90.5 453.0h0M93.1 462.0h0M76.5 463.1h0M98.1 462.4h0M95.0 473.6h0M98.0 469.8h0M93.6 482.1h0M85.4 495.4h0M113.8 482.4h0M103.7 470.5h0M93.9 480.7h0M60.2 473.2h0M102.0 453.4h0M112.7 490.2h0M99.5 492.6h0M101.6 482.9h0M87.6 494.3h0M105.3 463.7h0M97.4 482.9h0M93.7 458.5h0M104.7 477.4h0M93.8 472.0h0M89.4 477.5h0M110.1 474.0h0M89.7 495.3h0M83.7 489.6h0M97.2 463.3h0M86.8 439.2h0M84.5 523.7h0M108.8 491.0h0M64.4 441.8h0M66.2 454.0h0M105.0 494.2h0M104.9 485.4h0M87.9 482.4h0M77.5 472.5h0M95.2 490.1h0M57.2 451.1h0M116.0 469.6h0M66.4 478.2h0M74.5 463.8h0M88.9 493.4h0M89.8 483.8h0M108.8 466.6h0M102.0 508.1h0M83.3 493.9h0M100.1 451.0h0M87.7 451.1h0M116.9 500.3h0M87.7 493.2h0M94.4 459.1h0M89.8 482.9h0M140.3 489.7h0M83.0 486.2h0M85.1 494.2h0M85.5 466.8h0M79.5 476.8h0M99.3 498.2h0M101.1 477.9h0M90.6 473.9h0M112.3 501.0h0M101.6 461.5h0M97.5 486.6h0M87.4 483.6h0M100.0 476.9h0M90.3 493.8h0M91.5 484.3h0M102.3 468.7h0M99.9 494.2h0M100.6 473.8h0M97.9 474.8h0M91.2 477.3h0M93.8 469.7h0M89.6 459.7h0M98.6 469.7h0M103.1 476.6h0M96.9 473.2h0M103.8 459.0h0M95.3 482.0h0M88.6 471.5h0M93.2 507.4h0M106.3 486.9h0M112.9 502.9h0M101.9 478.9h0M85.3 462.9h0M92.9 472.9h0M100.2 464.6h0M102.6 467.9h0M95.4 462.4h0M96.7 453.5h0M94.8 486.4h0M81.9 473.2h0M87.8 471.4h0M89.9 485.2h0M109.5 482.5h0M94.3 431.6h0M87.7 479.7h0M89.5 485.5h0M98.0 477.6h0M95.2 483.6h0M100.8 468.5h0M97.7 457.0h0M99.7 492.8h0M101.4 478.2h0M98.5 485.1h0M94.2 508.1h0M97.7 480.0h0M91.6 486.7h0M95.1 487.8h0M99.6 459.8h0M96.2 487.8h0M102.8 479.3h0M83.6 466.0h0M110.4 485.7h0M104.4 444.8h0M96.0 483.0h0M96.2 487.5h0M104.6 486.2h0M88.0 457.0h0M94.0 456.3h0M95.3 497.5h0M89.5 488.0h0M100.0 471.5h0M95.3 463.9h0M95.3 485.4h0M90.3 476.3h0M93.1 488.6h0M106.1 469.2h0M87.5 482.3h0M94.1 480.2h0M102.6 479.0h0M100.2 458.6h0M93.2 473.9h0M97.5 478.6h0M94.0 458.6h0M98.1 485.0h0M93.2 479.1h0M91.9 465.8h0M91.2 460.5h0M91.0 452.0h0M96.6 492.4h0M100.0 475.0h0M91.9 457.3h0M93.6 492.2h0M99.3 455.1h0M83.0 479.2h0M84.2 456.0h0M102.7 454.4h0M94.1 482.1h0M103.0 458.6h0M94.6 492.2h0M80.9 464.1h0M93.5 472.2h0M91.8 486.9h0M94.1 471.1h0M84.6 483.2h0M101.0 467.4h0M106.7 472.7h0M96.3 475.4h0M96.7 476.6h0M114.7 477.1h0M97.8 502.3h0M114.9 465.5h0M101.3 478.0h0M96.9 474.7h0M94.4 480.5h0M93.6 485.2h0M107.4 471.2h0M90.4 475.9h0M118.7 482.6h0M76.8 467.0h0M85.4 479.0h0M97.7 472.4h0M89.4 465.4h0M108.8 472.5h0M92.0 478.9h0M92.0 487.2h0M90.0 460.6h0M99.3 476.4h0M92.9 461.0h0M88.3 479.3h0M93.9 486.7h0M90.8 453.4h0M95.7 479.8h0M98.1 478.0h0M83.1 482.9h0M76.4 488.7h0M95.6 487.9h0M83.2 477.6h0M82.3 488.7h0M95.4 460.3h0M109.4 472.7h0M86.9 454.9h0M107.2 475.7h0M93.3 480.9h0M93.7 489.4h0M86.6 479.7h0M101.5 461.5h0M96.7 493.3h0M85.5 489.4h0M98.9 478.7h0M98.2 481.1h0M103.2 487.7h0M86.5 473.6h0M83.6 483.7h0M99.5 470.9h0M95.1 487.6h0M100.1 480.5h0M103.1 457.2h0M91.6 496.8h0M91.8 454.4h0M94.7 474.0h0M97.9 464.6h0M98.8 465.2h0M99.9 482.1h0M79.6 463.8h0M99.8 479.9h0M93.0 470.2h0M96.4 494.9h0M101.2 489.5h0M109.3 466.1h0M86.4 473.7h0M100.0 460.5h0M93.1 476.1h0M99.8 462.8h0M117.2 484.2h0M101.9 476.0h0M99.4 501.9h0M90.7 473.7h0M84.7 467.6h0M90.0 477.6h0M97.3 474.4h0M88.5 463.6h0M95.4 472.4h0M86.6 482.7h0M101.1 479.5h0M92.8 474.6h0M90.5 486.6h0M88.2 492.0h0M96.9 445.9h0M111.5 467.4h0M97.7 469.6h0M88.1 487.9h0M99.8 481.6h0M96.5 476.8h0M90.5 468.6h0M90.6 480.0h0M95.6 482.9h0M89.7 487.1h0M98.1 451.0h0M94.8 502.2h0M94.7 472.5h0M90.7 480.8h0M95.9 480.0h0M97.3 463.1h0M92.2 483.4h0M88.2 478.5h0M100.6 471.3h0M100.0 463.7h0M86.6 459.4h0M100.3 471.6h0M98.7 461.3h0M100.9 470.7h0M97.5 476.0h0M93.4 466.7h0M95.3 464.0h0M112.1 496.5h0M114.3 466.6h0M94.5 462.2h0M99.2 482.1h0M102.4 484.2h0M82.8 475.0h0M112.7 473.1h0M100.3 472.7h0M101.7 481.0h0M96.1 485.5h0M92.3 481.9h0M96.1 484.4h0M94.9 451.3h0M93.2 468.2h0M88.0 484.2h0M80.8 477.7h0M98.5 483.1h0M101.9 476.6h0M89.3 491.4h0M96.4 480.3h0M94.9 477.1h0M102.8 480.8h0M94.5 490.8h0M100.4 479.8h0M95.8 488.0h0M86.2 469.0h0M104.5 475.1h0M93.3 494.2h0M103.2 480.0h0M101.0 480.9h0M95.4 488.7h0M102.6 477.3h0M96.6 461.3h0M91.1 464.8h0M103.2 492.0h0M87.7 482.5h0M105.1 484.0h0M86.7 470.6h0M98.9 487.7h0M99.0 482.5h0M96.2 486.5h0M91.9 482.8h0M92.8 482.9h0M78.4 482.1h0M90.4 484.4h0M82.9 480.4h0M88.8 475.7h0M90.8 452.2h0M106.1 479.5h0M91.5 484.8h0M83.3 472.5h0M102.2 468.8h0M95.9 490.9h0M94.0 476.8h0M93.5 480.6h0M98.1 470.8h0M107.1 472.9h0M89.4 472.4h0M101.4 477.9h0M98.8 445.1h0M96.7 476.9h0M84.9 467.3h0M102.0 492.8h0M87.5 456.0h0M94.5 477.8h0M90.4 463.4h0M78.4 478.3h0M91.5 451.8h0M89.1 476.5h0M90.7 495.8h0M93.8 473.6h0M103.4 482.7h0M101.6 476.2h0M88.6 486.8h0M82.7 474.3h0M88.6 473.8h0M94.6 483.4h0M79.0 480.6h0M105.2 497.4h0M92.7 493.8h0M89.6 477.3h0M98.6 464.4h0M93.8 462.1h0M102.1 477.5h0M114.3 473.8h0M95.6 500.7h0M98.5 485.7h0M85.5 485.4h0M87.0 480.1h0M86.4 489.8h0M98.5 455.1h0M87.3 479.0h0M87.9 475.2h0M91.9 461.2h0M94.6 483.9h0M101.7 469.4h0M99.0 466.4h0M97.2 459.2h0M99.6 474.2h0M87.0 495.3h0M108.9 467.9h0M98.4 487.9h0M99.6 477.4h0M92.7 475.2h0M92.6 498.4h0M86.3 474.5h0M98.1 466.2h0M101.2 472.0h0M104.8 458.9h0M114.9 489.8h0M107.4 483.9h0M89.0 469.4h0M87.2 453.1h0M99.0 468.7h0M95.7 493.2h0M85.5 484.3h0M86.2 470.8h0M89.5 476.9h0M87.1 480.2h0M88.5 476.4h0M95.3 476.0h0M105.3 479.1h0M91.8 468.2h0M103.1 465.8h0M90.7 478.2h0M98.2 479.3h0M85.9 465.5h0M82.1 452.1h0M84.6 481.3h0M92.6 452.2h0M93.8 474.7h0M108.4 485.2h0M99.2 500.0h0M100.8 464.9h0M86.7 496.4h0M110.8 496.3h0M108.3 506.8h0M105.6 473.3h0M94.7 475.2h0M93.1 469.4h0M93.3 496.9h0M113.6 487.1h0M87.6 467.2h0M95.3 479.9h0M99.2 481.0h0M109.3 486.4h0M104.9 483.8h0M102.8 472.0h0M94.4 494.9h0M84.5 463.8h0M105.9 487.4h0M91.0 466.1h0M107.2 474.7h0M107.0 485.2h0M99.3 478.5h0M91.6 467.8h0M91.2 499.6h0M104.0 494.7h0M92.3 474.2h0M82.8 473.7h0M94.2 452.9h0M93.3 456.3h0M96.0 490.3h0M94.0 473.1h0M97.1 477.0h0M104.7 466.8h0M99.5 474.8h0M84.2 478.4h0M100.8 494.7h0M84.7 468.4h0M95.9 444.0h0M92.1 481.9h0M109.6 481.5h0M85.8 483.5h0M102.1 452.5h0M98.1 499.8h0M98.8 476.8h0M88.6 467.1h0M110.1 476.4h0M101.8 491.3h0M102.2 478.6h0M98.6 457.7h0M88.4 478.1h0M104.5 508.9h0M93.2 495.7h0M102.5 472.0h0M94.6 462.7h0M103.2 500.5h0M94.0 477.9h0M101.7 487.3h0M89.6 484.7h0M94.4 495.0h0M102.1 463.3h0M97.1 490.6h0M97.9 464.4h0M83.1 468.2h0M91.9 469.3h0M81.4 482.7h0M98.3 466.5h0M101.3 480.6h0M91.8 482.0h0M91.0 481.8h0M84.3 473.6h0M84.5 483.7h0M106.0 500.9h0M93.9 460.1h0M102.0 485.4h0M88.3 488.5h0M97.7 492.1h0M90.4 464.7h0M93.3 474.1h0M99.2 476.8h0M96.6 489.1h0M92.2 467.9h0M103.4 465.9h0M89.6 471.5h0M92.5 494.4h0M82.4 483.8h0M98.4 466.6h0M98.2 485.1h0M104.4 481.0h0M89.5 498.3h0M96.9 487.1h0M97.4 480.3h0M98.1 460.1h0M102.9 490.5h0M101.5 478.8h0M79.7 467.6h0M95.6 468.2h0M98.9 486.1h0M93.7 458.9h0M82.9 467.0h0M101.9 494.5h0M95.6 485.4h0M103.4 488.9h0M90.0 455.2h0M93.1 473.3h0M84.5 485.3h0M102.8 475.4h0M83.2 488.2h0M82.0 474.9h0M102.7 474.0h0M103.5 482.8h0M103.6 498.0h0M102.8 476.4h0M96.8 468.2h0M96.2 464.4h0M94.4 459.1h0M109.3 483.7h0M98.2 483.4h0M86.6 478.5h0M91.5 479.1h0M101.9 472.8h0M89.2 478.9h0M96.5 480.0h0M96.4 492.0h0M97.5 482.3h0M92.0 469.0h0M98.3 475.4h0M82.6 483.0h0M94.6 483.6h0M98.4 476.9h0M87.9 475.9h0M92.5 478.5h0M99.7 479.8h0M87.9 459.2h0M98.8 456.0h0M99.4 481.6h0M88.3 469.3h0M91.3 470.3h0M96.3 459.9h0M98.5 470.1h0M91.6 484.9h0M97.7 456.0h0M91.1 466.6h0M103.1 474.3h0M96.0 482.9h0M105.2 475.8h0M97.4 488.9h0M94.7 495.8h0M101.7 482.4h0M107.8 480.9h0M111.4 477.5h0M99.8 483.6h0M93.5 476.7h0M102.6 458.5h0M97.4 503.0h0M93.6 484.1h0M96.4 495.2h0M116.8 466.4h0M91.5 484.9h0M108.6 453.0h0M93.7 476.3h0M96.4 497.2h0M95.3 487.0h0M86.0 481.2h0M92.6 498.0h0M99.6 468.7h0M95.2 470.3h0M90.5 475.6h0M96.6 462.7h0M84.5 484.9h0M98.0 477.9h0M101.0 471.7h0M94.3 496.5h0M88.7 496.9h0M100.1 485.9h0M94.4 489.6h0M98.3 465.9h0M93.7 472.0h0M99.2 477.1h0M94.9 464.0h0M99.4 473.3h0M91.7 456.4h0M98.5 473.0h0M85.9 482.8h0M90.8 485.8h0M91.0 493.5h0M98.0 458.5h0M97.0 440.0h0M89.1 485.3h0M90.3 479.2h0M101.4 483.5h0M104.6 466.0h0M93.8 480.3h0M99.7 461.8h0M85.3 457.0h0M93.0 482.1h0M92.8 476.0h0M101.2 455.5h0M90.5 456.9h0M102.7 478.4h0M104.2 449.0h0M84.0 467.1h0M96.2 478.9h0M99.3 482.4h0M86.3 465.7h0M89.0 490.9h0M102.6 483.5h0M93.5 479.8h0M96.8 503.7h0M100.7 467.3h0M92.2 452.1h0M103.6 463.5h0M96.6 459.9h0M98.5 481.6h0M94.9 468.4h0M113.2 484.8h0M97.7 475.3h0M95.9 485.9h0M96.3 487.2h0M92.3 483.4h0M95.8 482.8h0M95.8 471.9h0M95.0 477.7h0M96.7 460.4h0M99.6 473.5h0M101.6 482.5h0M90.1 466.3h0M99.1 474.5h0M95.0 474.9h0M102.6 478.9h0M91.2 468.6h0M91.4 482.4h0M83.1 470.2h0M91.3 483.5h0M88.9 474.3h0M93.5 477.3h0M87.0 490.4h0M114.8 467.6h0M102.3 479.0h0M102.1 475.0h0M101.8 491.3h0M104.7 461.8h0M97.7 495.4h0M105.9 473.6h0M90.4 502.4h0M93.4 479.3h0M101.0 476.5h0M89.4 484.5h0M94.9 475.3h0M100.3 483.3h0M105.7 490.3h0M89.9 490.5h0M93.4 500.3h0M86.7 476.1h0M84.7 492.8h0M97.1 475.7h0M88.7 464.9h0M86.6 463.0h0M95.1 472.6h0M106.5 462.9h0M90.8 470.9h0M100.9 475.6h0M89.7 485.1h0M99.6 454.9h0M104.0 482.1h0M95.6 481.5h0M116.7 482.7h0M93.4 471.7h0M89.5 497.8h0M114.1 489.1h0M99.9 498.4h0M90.5 479.0h0M101.0 478.5h0M101.1 462.4h0M80.5 478.3h0M91.3 493.7h0M100.5 458.4h0M99.6 468.0h0M74.5 503.2h0M102.1 470.2h0M93.7 497.7h0M99.6 511.4h0M96.5 463.3h0M94.8 492.0h0M100.4 471.5h0M88.9 481.8h0M103.3 501.4h0M84.3 466.9h0M97.1 476.5h0M92.3 482.1h0M87.9 447.3h0M105.6 469.8h0M89.6 486.1h0M99.5 464.5h0M103.8 473.5h0M98.1 479.1h0M103.0 490.0h0M95.6 476.2h0M109.1 467.0h0M85.7 476.5h0M88.4 472.2h0M101.4 513.5h0M103.1 469.8h0M91.1 462.6h0M98.0 499.5h0M96.5 461.5h0M110.2 483.3h0M94.1 492.7h0M97.0 476.9h0M90.1 460.5h0M92.0 495.2h0M98.3 482.9h0M84.4 514.2h0M92.8 480.3h0M110.1 478.5h0M79.5 487.3h0M85.1 475.8h0M98.2 496.4h0M108.8 497.4h0M92.5 473.4h0M99.9 483.1h0M92.2 475.5h0M86.3 470.7h0M83.1 482.1h0M92.6 500.3h0M98.4 480.0h0M98.1 486.8h0M96.1 460.4h0M90.3 474.4h0M101.3 491.3h0M104.7 482.9h0M99.4 467.0h0M108.7 467.6h0M90.8 480.4h0M96.6 471.6h0M98.4 488.1h0M101.2 457.9h0M96.4 462.6h0M93.3 492.4h0M98.4 452.7h0M91.6 497.1h0M97.1 468.5h0M101.8 482.1h0M98.2 505.1h0M115.4 473.7h0M94.0 482.1h0M87.3 479.6h0M89.2 470.0h0M84.1 497.2h0M84.8 459.7h0M96.1 460.9h0M94.8 469.2h0M91.4 486.7h0M107.9 477.3h0M91.6 479.5h0M94.7 471.5h0M89.4 473.6h0M90.6 475.7h0M92.0 490.8h0M96.6 476.5h0M110.7 504.4h0M95.8 473.7h0M88.3 482.3h0M92.3 487.0h0M104.3 468.5h0M100.6 481.5h0M73.2 465.4h0M96.9 472.0h0M93.4 480.3h0M90.3 489.6h0M97.1 478.2h0M86.3 489.4h0M104.4 474.7h0M98.9 470.9h0M92.2 485.2h0M92.3 477.1h0M99.4 465.2h0M101.7 457.3h0M90.3 492.2h0M103.2 478.0h0M95.6 480.8h0M92.4 479.1h0M103.2 483.1h0M88.9 467.0h0M83.4 492.6h0M103.4 488.0h0M89.9 499.6h0M81.7 490.5h0M102.5 465.6h0M96.7 462.2h0M92.4 467.4h0M100.4 495.0h0M111.2 459.3h0M99.9 473.8h0M98.0 457.6h0M79.9 460.0h0M105.1 460.9h0M101.8 476.9h0M100.9 471.3h0M104.0 478.3h0M95.3 479.9h0M95.0 462.1h0M95.0 482.4h0M96.1 470.0h0M94.3 464.6h0M98.4 471.3h0M98.5 482.0h0M100.1 480.7h0M98.7 465.3h0M103.3 479.7h0M97.4 479.1h0M108.5 469.9h0M107.6 511.5h0M96.3 470.7h0M82.9 482.7h0M96.2 463.3h0M90.2 452.0h0M100.6 458.1h0M93.7 481.8h0M102.2 477.6h0M92.3 481.8h0M90.4 467.0h0M83.7 477.1h0M88.7 482.4h0M103.2 470.8h0M98.2 479.6h0M94.4 495.1h0M95.4 489.0h0M93.2 498.5h0M95.1 470.0h0M94.1 478.5h0M100.2 469.3h0M107.7 478.2h0M102.6 466.7h0M98.3 471.6h0M103.1 472.0h0M91.7 477.9h0M95.7 476.5h0M95.9 487.1h0M103.5 498.0h0M97.5 470.3h0M109.3 477.5h0M102.9 479.3h0M97.2 462.7h0M78.5 474.4h0M95.2 471.0h0M95.9 477.5h0M93.8 481.9h0M94.4 464.2h0M97.5 478.5h0M90.0 456.6h0M96.3 481.8h0M104.6 471.1h0M101.2 489.6h0M91.4 492.2h0M109.5 472.5h0M102.4 471.2h0M99.0 433.7h0M91.0 497.6h0M103.3 489.4h0M121.8 475.1h0M89.2 430.7h0M88.3 459.8h0M108.5 474.7h0M86.3 479.0h0M98.9 478.4h0M106.5 477.5h0M96.9 486.1h0M89.6 481.1h0M93.9 491.5h0M101.5 451.5h0M102.7 481.7h0M96.2 461.3h0M108.9 469.8h0M98.3 468.3h0M101.4 469.9h0M94.0 489.8h0M95.2 474.6h0M106.0 457.4h0M102.7 498.1h0M95.0 491.6h0M88.7 478.0h0M98.2 462.2h0M80.1 492.7h0M78.9 484.6h0M94.5 476.0h0M105.6 477.6h0M96.9 488.0h0M98.1 460.4h0M98.9 502.8h0M88.7 479.6h0M87.5 455.2h0M102.9 476.3h0M96.5 479.1h0M100.4 488.9h0M98.8 479.4h0M77.9 462.2h0M93.5 470.4h0M85.6 478.9h0M97.2 494.8h0M91.3 484.8h0M89.2 476.2h0M81.9 454.5h0M103.0 448.5h0M96.0 470.1h0M91.7 474.4h0M97.2 481.7h0M91.4 475.7h0M89.3 470.3h0M84.8 463.5h0M85.9 472.1h0M105.5 486.8h0M90.1 457.7h0M84.3 463.7h0M110.9 473.6h0M83.0 483.7h0M91.3 500.9h0M103.1 488.9h0M100.1 480.3h0M91.1 478.8h0M110.0 493.8h0M97.1 481.8h0M96.6 462.4h0M94.7 480.2h0M99.2 479.3h0M108.7 486.8h0M90.3 464.3h0M91.4 474.1h0M101.0 504.7h0M91.8 458.6h0M91.8 481.2h0M102.2 474.6h0M107.0 484.7h0M107.7 489.1h0M104.4 490.6h0M91.8 446.5h0M106.7 463.5h0M90.4 489.4h0M109.9 493.9h0M94.1 488.7h0M90.0 473.1h0M107.1 462.8h0M82.3 468.5h0M101.0 466.7h0M93.4 483.9h0M81.7 507.6h0M88.5 498.5h0M85.5 476.7h0M99.8 490.9h0M105.0 481.1h0M81.0 479.5h0M93.2 468.2h0M103.7 459.9h0M110.9 481.6h0M93.4 484.2h0M103.9 472.5h0M100.6 482.5h0M91.4 481.9h0M91.2 483.2h0M92.4 487.0h0M103.3 493.6h0M99.6 465.1h0M92.2 460.5h0M105.4 462.2h0M104.6 486.5h0M91.9 470.0h0M91.6 470.7h0M92.3 456.5h0M107.3 482.0h0M98.6 497.2h0M95.6 472.5h0M86.4 467.0h0M98.8 476.0h0M88.6 469.9h0M83.0 460.2h0M100.2 478.5h0M92.7 475.3h0M102.5 480.5h0M99.1 463.3h0M98.6 462.7h0M97.9 470.6h0M103.0 476.9h0M82.5 473.7h0M97.6 485.6h0M103.0 480.2h0M109.0 459.8h0M93.0 458.1h0M89.7 460.3h0M88.7 488.1h0M93.6 493.4h0M97.4 484.8h0M105.2 469.1h0M93.2 489.1h0M96.6 469.2h0M117.0 454.0h0M95.1 479.2h0M93.0 481.9h0M95.0 479.3h0M96.3 472.3h0M98.2 460.2h0M97.0 462.6h0M103.5 496.3h0M90.5 455.9h0M82.5 470.0h0M92.2 478.9h0M100.9 473.0h0M89.3 510.4h0M95.8 479.1h0M89.9 480.0h0M94.9 483.7h0M94.5 457.7h0M84.8 487.0h0M99.9 475.7h0M99.6 493.9h0M88.2 491.6h0M109.1 492.9h0M92.5 484.6h0M94.2 463.8h0M89.6 470.4h0M92.0 476.2h0M85.0 452.2h0M89.2 488.9h0M95.7 481.5h0M91.1 468.1h0M94.2 479.3h0M98.3 500.8h0M104.7 484.7h0M82.9 472.1h0M93.7 462.9h0M97.1 471.7h0M94.0 478.8h0M89.5 481.7h0M91.2 476.5h0M97.6 505.1h0M85.9 495.4h0M96.3 466.0h0M92.6 467.6h0M102.1 485.3h0M100.5 487.8h0M87.2 454.4h0M99.3 473.8h0M88.8 491.3h0M110.5 493.7h0M92.8 503.3h0M107.6 462.9h0M98.2 476.2h0M86.6 482.2h0M98.3 456.4h0M72.5 463.4h0M90.0 462.4h0M91.6 491.7h0M96.9 464.8h0M83.3 467.2h0M89.1 472.8h0M101.5 457.3h0M96.2 490.3h0M97.6 478.5h0M88.1 469.6h0M108.5 479.0h0M98.3 473.3h0M81.4 477.1h0M96.4 470.1h0M105.8 486.8h0M84.6 474.0h0M87.1 474.4h0M74.5 479.5h0M96.8 464.1h0M107.2 483.3h0M95.7 479.2h0M93.9 469.5h0M92.4 483.9h0M88.1 463.2h0M103.7 468.4h0M96.8 464.0h0M94.7 468.4h0M90.4 475.9h0M97.6 473.8h0M105.7 480.4h0M92.1 478.4h0M98.1 487.0h0M90.8 456.3h0M83.3 453.4h0M103.2 453.2h0M105.0 478.1h0M100.4 456.1h0M91.9 489.0h0M89.3 495.1h0M99.1 475.9h0M104.9 474.9h0M97.2 481.8h0M85.6 480.7h0M103.1 488.6h0M106.5 480.9h0M88.8 498.2h0M82.8 484.2h0M78.6 473.9h0M111.2 457.5h0M108.1 472.8h0M90.0 474.5h0M93.8 483.1h0M100.4 483.9h0M97.6 474.4h0M108.4 490.7h0M94.8 480.2h0M98.7 497.4h0M97.0 479.4h0M100.2 481.9h0M89.8 462.7h0M101.4 482.0h0M97.3 474.5h0M90.1 473.9h0M89.0 466.1h0M92.9 483.9h0M90.6 484.5h0M101.9 478.2h0M91.5 484.2h0M100.1 502.5h0M95.6 488.4h0M104.3 497.4h0M82.8 482.3h0M94.3 471.0h0M77.5 466.6h0M92.5 485.1h0M88.9 482.6h0M85.8 476.1h0M98.6 468.1h0M91.0 478.7h0M108.1 477.3h0M86.4 477.4h0M102.0 496.5h0M98.3 481.4h0M97.7 483.6h0M98.7 473.2h0M101.9 468.9h0M82.1 469.6h0M90.6 481.6h0M88.2 445.2h0M85.6 471.0h0M87.5 464.2h0M101.0 468.9h0M102.4 485.0h0M100.7 475.9h0M91.4 488.6h0M91.7 482.3h0M96.8 469.6h0M78.9 477.5h0M99.5 470.2h0M104.6 473.5h0M90.9 485.7h0M86.6 483.4h0M110.7 484.6h0M93.8 487.0h0M103.8 476.8h0M97.6 485.6h0M103.5 473.0h0M96.6 492.9h0M97.5 475.3h0M110.0 463.7h0M94.3 486.5h0M103.3 466.8h0M96.5 482.7h0M90.6 480.5h0M95.1 467.3h0M85.1 477.9h0M99.2 467.1h0M90.1 464.0h0M81.9 474.8h0M97.0 488.1h0M86.5 484.6h0M96.7 470.7h0M98.6 472.7h0M104.3 473.5h0M100.1 505.3h0M97.2 478.0h0M99.6 473.7h0M95.2 488.2h0M89.3 491.0h0M91.4 463.3h0M108.1 463.0h0M92.2 485.0h0M95.9 493.5h0M96.5 475.3h0M95.7 476.7h0M101.6 474.8h0M102.9 482.2h0M93.7 487.5h0M83.7 482.9h0M92.8 471.2h0M85.0 482.5h0M111.4 480.2h0M97.2 462.4h0M105.8 484.2h0M94.1 491.8h0M97.9 468.5h0M98.7 476.0h0M107.3 472.1h0M99.8 474.1h0M96.8 469.3h0M93.1 461.9h0M94.7 480.9h0M99.4 479.6h0M102.8 466.6h0M93.1 469.1h0M84.3 469.5h0M81.2 473.1h0M99.5 481.2h0M83.3 497.5h0M101.3 466.7h0M84.9 480.5h0M96.7 470.9h0M92.4 478.1h0M98.9 495.8h0M88.4 469.7h0M97.1 475.4h0M73.0 480.0h0M107.5 489.8h0M106.8 480.2h0M100.5 459.9h0M86.0 468.7h0M76.5 480.8h0M91.5 479.2h0M96.5 482.4h0M101.5 470.7h0M89.3 462.8h0M96.6 469.0h0M84.3 472.6h0M97.3 482.3h0M88.2 462.2h0M94.6 477.1h0M90.5 482.3h0M89.8 483.2h0M104.3 460.3h0M99.9 478.1h0M88.4 474.5h0M100.7 488.9h0M92.7 475.2h0M109.0 482.4h0M95.2 482.4h0M101.0 471.9h0M86.4 458.5h0M99.9 466.7h0M84.5 457.2h0M105.7 497.5h0M95.6 490.4h0M100.7 458.4h0M101.0 480.2h0M95.5 476.6h0M85.8 489.4h0M100.2 471.6h0M93.5 460.5h0M103.3 479.4h0M99.1 479.2h0M100.7 491.4h0M106.6 479.8h0M90.5 462.9h0M102.1 481.7h0M111.0 483.7h0M86.0 485.0h0M93.1 486.0h0M88.5 478.6h0M94.4 470.0h0M85.9 482.3h0M88.3 452.3h0M86.5 472.0h0M95.4 472.1h0M97.4 479.9h0M96.5 475.8h0M98.7 495.8h0M98.1 480.2h0M96.4 487.7h0M88.9 468.4h0M97.3 462.1h0M100.8 472.3h0M90.6 466.1h0M82.0 466.8h0M82.1 459.8h0M86.0 476.3h0M91.6 479.8h0M85.5 472.8h0M92.1 478.4h0M91.8 481.3h0M90.4 484.9h0M106.4 487.8h0M95.6 476.8h0M99.4 471.1h0M88.6 471.0h0M92.2 471.6h0M106.8 506.1h0M96.9 459.8h0M96.8 475.5h0M85.8 482.6h0M94.2 464.3h0M89.6 489.5h0M89.4 476.4h0M91.9 465.7h0M91.9 488.5h0M108.7 471.4h0M94.2 475.1h0M96.2 482.6h0M100.7 475.8h0M80.8 495.2h0M99.2 473.8h0M96.8 478.5h0M97.6 452.9h0M105.7 471.0h0M102.7 482.1h0M90.3 477.9h0M102.3 487.4h0M98.7 470.5h0M99.7 493.5h0M99.6 454.2h0M98.4 475.4h0M105.2 468.3h0M85.6 473.4h0M106.9 487.9h0M99.2 505.5h0M89.0 465.2h0M85.1 477.8h0M90.0 459.5h0M100.3 476.0h0M105.4 491.7h0M89.5 479.7h0M92.2 460.9h0M115.0 482.3h0M93.9 495.1h0M93.5 478.0h0M104.5 473.9h0M99.4 480.8h0M86.6 486.3h0M97.4 480.1h0M103.1 462.8h0M88.9 465.3h0M91.5 482.4h0M100.4 475.9h0M95.3 489.9h0M83.2 463.5h0M108.5 463.9h0M92.8 476.4h0M105.8 488.1h0M91.4 459.9h0M101.9 472.8h0M85.5 489.3h0M86.1 464.8h0M101.2 461.4h0M108.4 495.3h0M79.9 474.5h0M102.2 484.7h0M101.5 458.4h0M107.1 470.2h0M92.2 472.2h0M102.6 470.6h0M94.2 460.3h0M85.0 481.9h0M87.2 461.8h0M101.1 474.5h0M96.2 486.2h0M98.1 490.6h0M100.6 468.5h0M94.7 474.4h0M89.2 478.6h0M89.8 479.5h0M95.9 467.9h0M107.8 496.7h0M108.9 495.9h0M107.9 482.8h0M111.7 476.2h0M93.9 478.4h0M90.2 475.8h0M110.6 455.2h0M83.3 478.3h0M107.0 475.8h0M103.9 471.9h0M94.9 480.0h0M80.9 462.6h0M90.5 476.6h0M99.2 473.3h0M101.2 464.8h0M100.6 489.3h0M96.7 465.5h0M103.0 496.0h0M98.6 470.6h0M98.9 492.6h0M90.7 454.3h0M96.4 495.1h0M94.3 477.7h0M89.1 459.5h0M100.4 495.0h0M95.9 467.8h0M87.2 496.0h0M89.2 473.7h0M98.2 487.5h0M94.1 459.9h0M90.9 464.1h0M95.0 466.0h0M97.8 462.9h0M93.7 485.3h0M102.3 453.4h0M98.0 475.5h0M94.5 465.8h0M83.6 477.3h0M104.2 454.2h0M93.2 483.4h0M102.2 455.3h0M96.4 452.8h0M105.8 473.3h0M99.0 476.5h0M84.1 500.9h0M98.4 471.3h0M79.4 494.7h0M86.9 476.6h0M102.8 491.4h0M92.9 477.8h0M100.0 480.0h0M77.4 479.0h0M90.9 483.0h0M85.7 473.9h0M94.3 475.5h0M85.9 467.5h0M97.4 510.7h0M94.0 487.6h0M98.2 492.9h0M79.8 448.1h0M94.3 470.3h0M89.9 471.7h0M99.9 503.6h0M79.9 465.3h0M97.2 459.4h0M92.9 468.0h0M88.8 475.8h0M89.4 479.7h0M107.5 465.3h0M97.8 471.0h0M88.7 483.2h0M98.6 473.1h0M100.0 457.3h0M94.1 477.1h0M79.9 498.8h0M91.8 470.8h0M101.3 487.4h0M97.4 480.9h0M91.4 456.2h0M83.6 473.6h0M105.2 462.6h0M102.0 462.9h0M95.3 493.9h0M91.9 447.9h0M106.9 463.8h0M109.4 495.0h0M108.8 478.4h0M108.4 472.5h0M104.6 473.1h0M99.9 488.5h0M91.9 459.3h0M98.3 479.6h0M96.4 487.2h0M90.3 453.3h0M84.4 469.6h0M83.2 474.7h0M94.9 456.6h0M99.0 466.0h0M80.7 484.5h0M92.6 482.7h0M101.6 458.9h0M96.8 503.1h0M106.0 474.3h0M99.5 486.1h0M101.4 468.0h0M96.5 456.8h0M103.4 472.4h0M96.7 496.4h0M98.1 466.1h0M95.7 485.0h0M88.4 494.5h0M102.1 487.4h0M89.5 464.9h0M105.8 478.1h0M93.5 478.4h0M98.0 493.6h0M95.2 484.4h0M87.2 499.7h0M98.7 477.8h0M92.7 473.7h0M100.4 456.8h0M110.3 476.5h0M108.4 464.5h0M83.1 462.6h0M95.9 482.9h0M98.5 502.7h0M92.6 458.9h0M91.4 463.1h0M95.7 475.3h0M91.4 474.6h0M97.9 465.2h0M103.4 463.4h0M98.7 452.0h0M96.9 482.2h0M103.1 463.4h0M93.2 467.8h0M104.3 471.9h0M94.9 473.3h0M89.8 490.8h0M94.8 470.8h0M103.6 470.9h0M96.0 456.0h0M89.5 491.8h0M98.5 476.2h0M88.0 477.9h0M96.1 479.9h0M94.6 470.7h0M102.9 473.3h0M95.9 440.6h0M96.5 476.5h0M93.1 493.2h0M94.4 490.0h0M100.9 485.0h0M91.5 485.7h0M105.5 486.3h0M108.6 468.3h0M84.7 482.4h0M101.7 474.4h0M98.3 468.7h0M94.6 480.9h0M95.6 495.7h0M101.1 472.4h0M87.7 493.1h0M82.8 467.6h0M97.0 460.6h0M94.5 496.0h0M103.1 473.0h0M98.5 482.4h0M106.8 470.4h0M89.1 478.8h0M97.2 446.5h0M77.3 462.6h0M83.3 467.1h0M97.7 449.5h0M89.6 468.8h0M84.1 487.3h0M95.1 452.0h0M98.2 472.0h0M102.4 472.9h0M101.8 495.1h0M85.8 475.0h0M93.5 469.8h0M96.3 484.5h0M95.6 480.3h0M93.6 479.7h0M97.1 479.4h0M99.9 488.5h0M106.2 480.8h0M91.0 464.2h0M94.8 478.0h0M117.3 474.5h0M82.3 475.0h0M87.4 471.8h0M89.4 477.4h0M104.5 488.9h0M96.1 496.3h0M98.2 483.1h0M68.5 463.5h0M91.4 469.7h0M89.7 467.7h0M88.1 484.7h0M86.2 465.6h0M98.1 500.2h0M103.4 463.5h0M98.4 479.6h0M105.7 455.3h0M98.3 465.6h0M78.0 494.3h0M101.2 480.7h0M87.6 489.9h0M98.5 475.4h0M93.3 470.9h0M101.8 490.8h0M89.0 475.7h0M87.4 477.6h0M89.2 491.1h0M88.6 483.7h0M94.5 468.8h0M87.8 501.2h0M87.1 478.8h0M84.8 468.3h0M78.9 485.4h0M99.5 476.6h0M102.9 494.2h0M86.2 493.0h0M92.0 471.5h0M96.3 482.0h0M90.5 465.2h0M93.2 470.1h0M96.7 468.4h0M101.4 501.1h0M90.8 460.8h0M89.2 469.3h0M104.8 492.6h0M103.4 469.8h0M89.9 462.6h0M92.6 480.4h0M93.3 465.2h0M102.0 499.0h0M94.2 475.4h0M103.7 478.7h0M89.4 468.7h0M103.1 488.7h0M93.1 476.4h0M94.4 483.3h0M104.6 480.8h0M77.1 484.6h0M101.9 470.9h0M86.0 458.6h0M101.3 474.1h0M102.9 495.3h0M87.5 474.3h0M88.1 464.1h0M105.3 464.1h0M95.4 495.0h0M99.4 471.3h0M101.2 483.6h0M112.2 464.4h0M97.2 485.6h0M98.7 475.5h0M102.6 477.5h0M97.6 500.4h0M112.7 485.8h0M100.3 475.5h0M84.8 446.3h0M104.6 490.2h0M99.7 469.8h0M103.0 502.4h0M100.2 460.9h0M83.2 472.9h0M92.1 485.2h0M80.5 487.2h0M93.3 495.4h0M94.7 483.7h0M92.0 460.7h0M108.7 468.7h0M84.9 474.9h0M96.3 470.9h0M91.0 472.1h0M98.7 488.7h0M97.3 479.5h0M101.3 462.8h0M96.8 494.0h0M90.5 492.1h0M96.3 490.0h0M86.9 463.7h0M103.9 470.1h0M89.5 476.7h0M69.7 484.7h0M106.7 474.6h0M78.0 444.0h0M94.6 500.3h0M95.0 477.7h0M101.6 468.1h0M101.7 453.7h0M92.8 470.6h0M92.1 445.3h0M92.2 486.1h0M90.3 496.8h0M93.6 477.4h0M80.5 486.4h0M97.6 492.0h0M88.1 477.5h0M104.9 475.7h0M94.0 457.9h0M106.6 490.5h0M87.0 490.7h0M106.4 488.9h0M95.5 478.3h0M81.2 472.6h0M92.5 459.2h0M101.4 473.3h0M100.7 469.5h0M82.6 477.5h0M92.9 485.3h0M95.1 494.9h0M90.8 501.0h0M98.6 490.6h0M84.8 486.5h0M96.4 493.1h0M90.5 477.9h0M82.8 485.8h0M103.5 488.6h0M94.8 488.1h0M98.5 465.2h0M96.4 476.3h0M101.0 486.1h0M101.0 493.6h0M83.2 498.3h0M109.5 487.0h0M103.4 492.9h0M94.6 476.7h0M100.8 493.5h0M91.9 471.9h0M93.6 495.1h0M94.4 471.6h0M96.5 469.6h0M89.8 485.9h0M100.9 468.3h0M96.8 485.7h0M83.5 453.9h0M98.6 459.1h0M97.9 483.9h0M94.5 469.1h0M102.5 494.7h0M86.3 481.7h0M103.7 484.5h0M90.8 468.8h0M81.9 478.2h0M87.9 483.1h0M99.2 476.1h0M97.3 492.2h0M93.7 501.6h0M100.1 464.6h0M87.2 488.5h0M98.5 453.5h0M97.9 499.8h0M98.0 463.9h0M101.8 489.2h0M89.8 483.4h0M83.7 500.6h0M97.7 454.5h0M91.3 468.9h0M86.3 492.2h0M100.7 481.6h0M102.9 466.6h0M91.3 489.0h0M100.5 480.1h0M93.7 480.2h0M89.8 461.2h0M82.4 483.7h0M105.6 471.9h0M102.6 477.9h0M89.6 488.7h0M92.9 471.9h0M95.3 472.0h0M84.6 467.0h0M88.7 479.5h0M100.5 495.3h0M98.6 459.1h0M86.0 475.5h0M105.6 468.7h0M96.5 469.5h0M98.1 472.1h0M100.6 476.3h0M101.6 467.1h0M99.9 480.0h0M99.1 473.9h0M100.6 482.2h0M95.0 488.2h0M91.2 498.0h0M83.6 479.0h0M101.6 474.8h0M100.1 472.3h0M101.6 488.6h0M85.6 455.9h0M95.7 462.0h0M97.0 484.0h0M83.9 479.3h0M92.7 482.3h0M88.6 481.1h0M94.1 453.2h0M89.1 489.9h0M97.4 482.8h0M99.7 474.0h0M85.6 483.3h0M87.8 454.2h0M96.6 488.4h0M95.2 465.1h0M80.4 482.0h0M104.1 468.6h0M97.6 459.9h0M88.6 482.2h0M97.0 466.5h0M88.5 477.3h0M95.6 472.3h0M94.9 489.8h0M91.7 493.0h0M97.3 483.2h0M84.2 466.9h0M93.8 464.7h0M102.2 488.4h0M102.6 472.4h0M84.7 446.3h0M99.4 467.8h0M81.5 470.3h0M106.6 474.1h0M92.4 485.7h0M95.9 471.3h0M99.4 457.7h0M77.6 463.0h0M106.2 488.0h0M80.6 486.7h0M82.5 477.5h0M99.8 465.2h0M97.3 455.6h0M106.7 501.8h0M101.0 461.9h0M91.7 468.5h0M94.5 481.9h0M92.8 487.4h0" stroke="#bebebe" stroke-width="2.00" stroke-linecap="round" fill="none"/>
<path d="M126.2 425.9h0M98.1 452.8h0M82.9 521.7h0" stroke="#e3262b" stroke-width="2.20" stroke-linecap="round" fill="none"/>
<line x1="36.3" y1="475.7" x2="155.8" y2="475.7" stroke="#1a1a1a" stroke-width="1.0" stroke-dasharray="1.3 2.5"/>
<line x1="96.1" y1="421.4" x2="96.1" y2="526.1" stroke="#1a1a1a" stroke-width="1.0" stroke-dasharray="1.3 2.5"/>
<line x1="36.3" y1="421.4" x2="36.3" y2="526.7" stroke="#3a3a3a" stroke-width="1.25"/>
<line x1="35.7" y1="526.1" x2="155.8" y2="526.1" stroke="#3a3a3a" stroke-width="1.25"/>
<line x1="33.7" y1="447.1" x2="36.3" y2="447.1" stroke="#333" stroke-width="1"/>
<text x="18.2" y="450.6" font-size="9.6" fill="#1e1e1e" stroke="#1e1e1e" textLength="13.9" lengthAdjust="spacingAndGlyphs">0.4</text>
<line x1="33.7" y1="475.7" x2="36.3" y2="475.7" stroke="#333" stroke-width="1"/>
<text x="18.2" y="479.2" font-size="9.6" fill="#1e1e1e" stroke="#1e1e1e" textLength="13.9" lengthAdjust="spacingAndGlyphs">0.0</text>
<line x1="33.7" y1="504.3" x2="36.3" y2="504.3" stroke="#333" stroke-width="1"/>
<text x="15.1" y="507.9" font-size="9.6" fill="#1e1e1e" stroke="#1e1e1e" textLength="17.0" lengthAdjust="spacingAndGlyphs">-0.4</text>
<line x1="41.4" y1="526.1" x2="41.4" y2="528.7" stroke="#333" stroke-width="1"/>
<text x="29.6" y="538.0" font-size="10.32" fill="#1e1e1e" stroke="#1e1e1e" textLength="24.1" lengthAdjust="spacingAndGlyphs">-0.50</text>
<line x1="68.8" y1="526.1" x2="68.8" y2="528.7" stroke="#333" stroke-width="1"/>
<text x="57.0" y="538.0" font-size="10.32" fill="#1e1e1e" stroke="#1e1e1e" textLength="24.1" lengthAdjust="spacingAndGlyphs">-0.25</text>
<line x1="96.1" y1="526.1" x2="96.1" y2="528.7" stroke="#333" stroke-width="1"/>
<text x="86.0" y="538.0" font-size="10.32" fill="#1e1e1e" stroke="#1e1e1e" textLength="20.7" lengthAdjust="spacingAndGlyphs">0.00</text>
<line x1="123.4" y1="526.1" x2="123.4" y2="528.7" stroke="#333" stroke-width="1"/>
<text x="113.4" y="538.0" font-size="10.32" fill="#1e1e1e" stroke="#1e1e1e" textLength="20.7" lengthAdjust="spacingAndGlyphs">0.25</text>
<line x1="150.8" y1="526.1" x2="150.8" y2="528.7" stroke="#333" stroke-width="1"/>
<text x="140.7" y="538.0" font-size="10.32" fill="#1e1e1e" stroke="#1e1e1e" textLength="20.7" lengthAdjust="spacingAndGlyphs">0.50</text>
<text x="71.7" y="550.1" font-size="10.6" fill="#1e1e1e" stroke="#1e1e1e" textLength="48.0" lengthAdjust="spacingAndGlyphs">Bulk_LFC</text>
<text x="41.2" y="436.1" font-size="9.16" fill="#1e1e1e" stroke="#1e1e1e" textLength="81.1" lengthAdjust="spacingAndGlyphs"><tspan font-style="italic">R</tspan> = 0.014, <tspan font-style="italic">p</tspan> = 0.46</text>
<text x="130.4" y="459.8" font-size="14.24" font-weight="bold" textLength="23.0" lengthAdjust="spacingAndGlyphs">Ast</text>
<text x="116.7" y="520.1" font-size="8.72" font-weight="bold" fill="#2a2a2a" textLength="39.4" lengthAdjust="spacingAndGlyphs">N = 2848</text>
<text x="11.4" y="518.8" font-size="9.89" fill="#262626" stroke="#262626" textLength="82.9" lengthAdjust="spacingAndGlyphs" transform="rotate(-90 11.4 518.8)">snRNA-Seq_LFC</text>
<path d="M264.2 457.6h0M278.5 510.8h0M261.4 477.2h0M270.8 508.4h0M248.7 471.8h0M276.1 463.2h0M277.4 476.7h0M292.2 488.1h0M260.4 454.6h0M262.7 506.2h0M289.7 479.8h0M276.0 429.3h0M260.3 487.8h0M259.9 475.6h0M280.5 467.7h0M272.4 477.8h0M267.0 484.2h0M274.2 440.5h0M273.7 474.2h0M279.2 487.3h0M268.4 490.5h0M271.3 467.2h0M284.2 460.5h0M273.0 457.1h0M279.0 453.1h0M261.3 489.4h0M265.2 452.1h0M279.8 444.6h0M265.0 488.6h0M281.3 478.2h0M283.6 466.2h0M276.3 450.1h0M307.0 462.3h0M285.1 443.9h0M273.4 446.3h0M258.8 496.0h0M249.1 493.3h0M269.6 479.4h0M272.1 444.7h0M269.8 496.9h0M283.0 452.2h0M287.6 475.0h0M303.8 480.0h0M265.7 488.7h0M276.6 452.6h0M273.9 439.8h0M282.4 438.0h0M264.0 470.3h0M270.2 463.2h0M269.2 466.6h0M282.2 443.4h0M268.4 511.8h0M272.4 488.3h0M299.9 469.4h0M270.5 504.8h0M274.3 493.6h0M248.8 476.4h0M261.2 450.5h0M271.2 475.4h0M265.3 464.5h0M312.4 487.6h0M278.9 513.5h0M265.9 473.5h0M266.1 449.8h0M269.2 445.3h0M289.6 481.9h0M271.3 506.8h0M272.1 486.2h0M276.6 494.0h0M276.8 482.9h0M293.2 488.4h0M275.3 461.1h0M274.2 457.8h0M261.5 503.2h0M276.5 488.5h0M260.7 443.4h0M269.1 486.6h0M250.1 464.3h0M275.3 496.1h0M260.3 481.1h0M244.1 488.5h0M290.1 516.6h0M276.0 511.0h0M269.4 468.7h0M269.1 490.1h0M278.7 466.7h0M276.4 477.3h0M248.7 444.9h0M261.5 460.1h0M290.8 480.3h0M268.3 470.7h0M267.2 471.9h0M280.6 512.7h0M248.4 450.3h0M275.8 459.4h0M276.9 471.3h0M307.5 429.1h0M241.7 466.5h0M259.5 485.4h0M272.6 467.2h0M251.5 514.8h0M254.1 450.7h0M283.1 482.8h0M269.5 503.1h0M257.6 483.7h0M267.5 486.1h0M263.5 489.0h0M265.5 462.0h0M284.2 468.2h0M286.3 484.5h0M279.7 477.8h0M279.4 470.0h0M280.7 465.3h0M263.8 467.6h0M265.0 467.7h0M270.4 466.6h0M273.3 479.2h0M276.6 490.0h0M273.9 485.2h0M266.3 463.5h0M278.3 475.5h0M267.0 484.5h0M271.1 501.4h0M268.7 468.7h0M268.9 493.9h0M279.7 504.3h0M280.8 473.6h0M250.9 485.9h0M275.8 495.9h0M273.1 505.0h0M277.0 499.2h0M274.5 462.4h0M275.2 492.5h0M259.3 469.3h0M285.2 488.5h0M263.8 440.7h0M272.6 483.9h0M280.3 500.9h0M267.0 472.6h0M268.3 493.0h0M266.8 486.4h0M265.0 470.9h0M275.1 490.4h0M271.8 488.8h0M263.1 471.5h0M275.7 479.6h0M255.5 474.8h0M264.6 477.8h0M271.9 476.2h0M268.4 484.6h0M287.1 485.5h0M271.6 471.9h0M272.8 474.1h0M269.0 460.5h0M274.5 476.6h0M267.5 470.6h0M284.4 461.7h0M272.4 478.7h0M264.0 489.7h0M255.7 470.1h0M273.3 491.8h0M263.8 444.6h0M271.4 458.9h0M253.0 458.7h0M269.0 470.5h0M267.9 445.8h0M266.1 469.6h0M279.0 473.2h0M271.0 482.2h0M269.8 472.6h0M269.9 472.6h0M261.6 485.8h0M269.2 477.8h0M258.8 485.7h0M264.5 455.1h0M282.7 470.5h0M273.2 477.0h0M273.8 484.5h0M272.0 464.7h0M274.8 483.3h0M269.6 503.6h0M265.4 469.6h0M271.4 483.7h0M269.1 474.7h0M268.8 476.7h0M272.2 466.9h0M282.0 473.8h0M272.5 455.3h0M278.5 491.6h0M278.3 482.0h0M275.7 483.0h0M268.9 500.1h0M269.1 458.0h0M268.1 458.9h0M274.7 493.0h0M262.7 452.4h0M281.5 468.5h0M267.1 490.1h0M274.2 465.9h0M269.6 477.4h0M264.8 473.0h0M275.1 472.2h0M272.1 477.7h0M265.4 479.3h0M262.2 481.2h0M269.6 463.1h0M268.6 453.0h0M267.8 479.3h0M275.8 480.9h0M266.8 486.6h0M273.1 488.4h0M257.0 493.1h0M267.4 472.7h0M270.9 462.6h0M276.9 490.4h0M269.6 470.3h0M264.9 470.8h0M272.4 491.8h0M276.8 469.4h0M275.4 463.5h0M273.4 474.2h0M271.1 471.6h0M265.2 467.9h0M272.0 468.8h0M274.0 458.4h0M271.3 493.7h0M273.4 467.8h0M274.0 497.2h0M276.1 488.4h0M283.9 478.0h0M271.4 487.1h0M269.0 483.2h0M269.5 496.8h0M263.3 484.0h0M268.6 484.1h0M279.0 467.2h0M268.9 482.7h0M277.1 459.1h0M271.2 480.1h0M266.2 454.1h0M277.2 493.6h0M270.5 474.2h0M268.9 457.5h0M260.6 475.6h0M277.2 485.0h0M264.1 491.4h0M268.7 502.0h0M267.2 465.2h0M276.1 458.3h0M271.3 479.6h0M276.4 503.3h0M270.4 487.1h0M279.2 467.9h0M270.7 492.4h0M271.3 482.6h0M280.5 463.8h0M263.9 503.5h0M273.9 490.5h0M278.7 487.8h0M275.4 462.3h0M273.0 454.0h0M265.6 508.7h0M265.8 491.5h0M273.7 474.1h0M274.5 494.9h0M265.1 486.9h0M271.1 472.6h0M272.3 494.9h0M275.7 495.5h0M273.6 492.2h0M277.7 468.0h0M268.6 473.5h0M272.0 498.8h0M272.5 481.2h0M279.7 466.3h0M274.7 465.7h0M274.1 469.8h0M257.7 468.5h0M271.1 484.5h0M259.4 452.2h0M274.5 481.0h0M263.1 487.9h0M283.0 485.2h0M270.5 490.8h0M260.7 477.9h0M278.1 489.4h0M273.0 468.4h0M276.7 472.1h0M273.2 453.4h0M271.6 477.4h0M269.9 466.1h0M277.2 494.3h0M275.6 470.7h0M260.8 482.1h0M270.1 463.4h0M272.9 458.2h0M284.1 432.1h0M274.3 497.5h0M275.1 475.3h0M280.2 460.9h0M262.8 471.8h0M266.3 472.1h0M271.1 453.5h0M267.6 487.5h0M284.9 494.2h0M268.2 490.5h0M267.7 449.6h0M276.3 473.1h0M272.0 477.2h0M262.0 481.3h0M278.7 479.6h0M267.9 455.1h0M269.5 469.5h0M270.5 472.0h0M268.0 475.7h0M263.2 453.6h0M267.0 462.0h0M273.0 491.1h0M274.4 470.4h0M268.6 482.4h0M274.1 485.6h0M265.4 484.5h0M284.8 492.1h0M277.1 475.3h0M269.3 479.9h0M266.1 463.0h0M274.3 451.5h0M272.0 490.6h0M265.0 474.6h0M266.3 500.7h0M270.8 487.0h0M266.0 476.8h0M264.1 468.7h0M263.8 459.3h0M274.6 482.9h0M270.3 477.8h0M272.3 481.7h0M260.2 485.6h0M265.9 475.8h0M279.5 461.3h0M283.6 469.8h0M265.1 494.9h0M264.8 481.8h0M261.3 484.8h0M263.0 462.2h0M286.2 457.7h0M272.7 493.7h0M272.3 477.5h0M253.3 471.5h0M281.0 451.5h0M265.4 494.5h0M278.1 467.1h0M270.9 469.9h0M273.2 477.4h0M275.8 476.8h0M272.8 492.2h0M274.2 458.5h0M264.9 469.9h0M281.2 463.6h0M270.9 439.9h0M266.0 480.6h0M279.4 490.7h0M266.4 504.4h0M270.1 491.6h0M268.5 497.0h0M275.5 474.9h0M274.4 458.7h0M274.2 464.5h0M269.6 496.2h0M270.8 465.1h0M263.4 479.2h0M262.8 464.3h0M273.8 473.2h0M274.5 482.7h0M278.9 473.0h0M267.6 492.4h0M281.9 485.3h0M278.1 492.7h0M277.5 487.9h0M276.4 470.8h0M267.8 486.2h0M284.0 491.0h0M271.9 461.1h0M276.1 465.5h0M279.3 461.6h0M277.3 489.5h0M274.3 508.9h0M257.9 491.9h0M272.7 472.4h0M273.2 472.1h0M270.7 462.2h0M265.4 501.7h0M282.3 473.7h0M273.8 454.7h0M280.1 463.1h0M271.5 499.2h0M268.1 487.9h0M266.3 482.6h0M271.5 490.3h0M276.1 478.8h0M270.8 485.3h0M275.8 448.5h0M276.6 454.9h0M275.7 475.0h0M268.5 483.5h0M267.6 473.7h0M271.9 458.9h0M273.1 492.6h0M270.7 478.2h0M274.6 484.5h0M269.3 480.7h0M283.5 470.5h0M269.1 465.1h0M272.8 492.5h0M284.9 466.9h0M266.6 467.3h0M271.3 488.6h0M265.5 479.6h0M271.4 467.4h0M271.4 484.5h0M274.9 476.6h0M272.6 454.3h0M262.0 480.7h0M271.4 485.4h0M275.9 466.3h0M275.3 457.2h0M267.6 472.9h0M275.1 453.5h0M276.9 455.3h0M268.3 474.5h0M290.7 463.3h0M274.5 492.2h0M271.8 460.3h0M270.8 478.2h0M272.2 484.7h0M262.3 445.9h0M279.5 448.2h0M273.3 480.5h0M269.6 469.0h0M268.9 475.9h0M267.2 474.4h0M280.9 474.3h0M279.1 484.6h0M279.6 486.0h0M281.2 488.5h0M268.7 477.1h0M284.0 470.4h0M283.3 469.0h0M273.5 507.6h0M275.7 472.3h0M258.8 486.4h0M272.0 497.8h0M267.3 477.1h0M274.7 489.1h0M257.4 489.3h0M275.8 468.4h0M272.4 461.9h0M262.5 493.7h0M266.6 486.4h0M269.9 484.4h0M269.0 498.2h0M261.0 486.0h0M282.4 463.2h0M262.6 491.3h0M273.6 474.5h0M279.9 480.3h0M277.8 476.4h0M270.1 484.2h0M268.9 498.1h0M272.8 471.4h0M266.6 454.6h0M276.5 471.5h0M271.5 479.3h0M279.0 479.3h0M266.6 467.8h0M271.4 465.8h0M279.8 467.9h0M265.3 473.6h0M274.0 486.4h0M262.5 486.4h0M276.8 475.9h0M273.2 483.9h0M254.6 492.1h0M273.9 472.8h0M273.5 487.4h0M274.7 472.4h0M270.8 467.3h0M279.9 463.4h0M275.6 469.5h0M263.2 472.6h0M271.0 490.1h0M279.7 459.5h0M260.9 482.5h0M268.6 472.4h0M270.3 473.6h0M276.6 471.8h0M273.4 493.1h0M270.3 478.6h0M276.2 461.1h0M273.6 468.4h0M260.5 460.2h0M277.4 469.1h0M273.5 489.2h0M276.8 448.4h0M272.0 478.3h0M276.8 488.3h0M259.6 467.7h0M260.8 488.9h0M281.3 467.6h0M274.4 460.2h0M258.4 500.9h0M269.2 503.0h0M282.6 466.9h0M273.7 466.5h0M276.6 480.1h0M271.3 480.5h0M271.8 500.6h0M267.3 465.8h0M275.0 460.4h0M273.1 479.6h0M274.3 495.2h0M268.1 467.9h0M270.3 492.7h0M272.4 473.1h0M266.7 479.5h0M272.6 482.3h0M276.1 454.2h0M275.5 498.2h0M274.1 466.4h0M278.1 449.0h0M276.4 492.9h0M267.8 471.6h0M275.0 460.4h0M276.0 463.5h0M279.3 442.4h0M270.6 478.1h0M276.6 487.2h0M272.9 462.4h0M275.8 466.2h0M274.0 458.4h0M269.3 487.5h0M281.0 475.1h0M265.9 475.3h0M273.9 504.0h0M270.6 455.3h0M267.6 467.4h0M263.0 499.7h0M271.6 493.7h0M280.4 470.2h0M273.1 483.9h0M272.1 470.0h0M273.3 479.5h0M274.9 456.0h0M275.4 492.3h0M268.7 479.2h0M285.4 492.4h0M258.4 489.9h0M282.3 483.6h0M275.3 476.3h0M273.2 471.6h0M278.3 496.8h0M281.7 492.9h0M269.7 470.4h0M270.5 481.7h0M271.9 482.5h0M264.4 484.6h0M266.5 474.9h0M273.6 488.2h0M270.0 480.0h0M277.7 481.5h0M265.4 491.3h0M255.0 470.0h0M280.5 496.7h0M263.7 481.8h0M260.7 507.7h0M268.3 463.6h0M266.9 480.2h0M263.3 493.7h0M275.6 464.5h0M281.8 469.6h0M265.8 464.2h0M277.8 482.5h0M269.8 475.3h0M267.5 494.2h0M274.3 463.2h0M274.6 486.8h0M275.3 481.9h0M275.2 461.9h0M265.9 469.7h0M273.2 500.2h0M266.7 495.3h0M272.3 461.6h0M281.8 470.4h0M274.0 459.1h0M268.9 475.9h0M270.8 484.4h0M267.2 485.2h0M262.3 484.5h0M274.3 486.0h0M274.2 487.1h0M267.4 467.0h0M268.5 457.5h0M280.4 459.9h0M275.7 453.7h0M261.3 468.0h0M272.7 487.2h0M271.3 456.7h0M270.9 480.8h0M269.3 483.3h0M268.7 464.7h0M274.9 475.6h0M265.7 488.5h0M284.9 464.7h0M255.5 469.5h0M274.8 461.6h0M274.1 481.1h0M280.3 478.4h0M261.4 483.7h0M256.7 465.0h0M272.6 472.5h0M268.1 477.5h0M265.9 478.6h0M273.3 486.4h0M269.4 455.7h0M279.7 474.8h0M262.7 481.2h0M271.1 477.2h0M264.4 464.8h0M264.6 483.1h0M264.4 464.0h0M266.5 479.1h0M266.1 482.8h0M270.6 467.1h0M266.7 470.6h0M266.4 485.8h0M290.3 478.3h0M268.4 504.7h0M277.6 471.0h0M266.5 475.3h0M263.4 456.6h0M278.0 471.5h0M277.4 441.1h0M271.4 501.2h0M278.5 492.7h0M279.1 473.8h0M282.4 472.6h0M276.8 463.3h0M259.6 477.2h0M270.6 479.7h0M269.1 472.3h0M257.2 490.6h0M282.5 472.2h0M259.0 469.1h0M277.8 475.5h0M256.3 477.3h0M265.6 477.6h0M270.2 469.5h0M275.7 471.1h0M262.4 469.8h0M280.6 472.4h0M266.7 435.2h0M265.5 467.9h0M274.3 457.7h0M273.6 490.8h0M264.4 474.9h0M281.9 480.4h0M265.5 471.6h0M286.3 469.8h0M256.1 470.1h0M267.7 467.6h0M273.2 494.8h0M281.6 499.3h0M274.0 469.1h0M267.1 459.6h0M277.7 468.0h0M275.8 481.6h0M279.0 474.6h0M274.5 491.8h0M287.1 481.5h0M275.2 478.5h0M262.8 488.2h0M278.3 463.7h0M278.1 456.6h0M272.2 467.1h0M273.5 460.4h0M287.3 470.2h0M279.5 496.8h0M268.4 474.7h0M277.3 472.1h0M269.5 457.5h0M266.6 465.7h0M274.1 482.8h0M264.8 468.6h0M268.7 477.8h0M268.2 465.0h0M274.6 483.5h0M270.3 466.5h0M270.1 480.7h0M267.7 463.5h0M259.1 479.2h0M277.8 516.1h0M271.9 478.7h0M271.6 466.1h0M252.9 484.2h0M270.8 472.6h0M279.3 506.8h0M265.5 484.1h0M275.6 496.9h0M266.5 470.9h0M267.2 474.0h0M279.7 453.9h0M261.6 505.3h0M268.8 463.1h0M277.3 479.3h0M268.3 476.5h0M274.9 473.6h0M272.2 474.0h0M259.6 486.2h0M279.1 473.1h0M272.4 483.1h0M265.3 477.0h0M264.8 471.4h0M274.3 442.4h0M260.2 456.2h0M264.6 486.6h0M260.7 475.9h0M277.2 482.3h0M281.1 475.8h0M270.1 476.2h0M275.9 467.0h0M274.6 487.5h0M273.2 461.4h0M277.5 503.9h0M281.1 470.2h0M268.1 477.3h0M269.8 485.1h0M281.8 491.4h0M278.0 485.4h0M265.3 464.4h0M274.2 485.0h0M272.8 483.7h0M269.5 468.4h0M275.5 476.1h0M268.3 473.2h0M270.9 485.5h0M268.8 467.4h0M267.9 488.1h0M273.4 495.2h0M259.9 487.2h0M272.6 488.6h0M260.3 486.3h0M265.5 487.4h0M285.8 479.7h0M263.7 483.3h0M265.4 477.5h0M271.4 475.1h0M270.1 506.8h0M274.4 461.5h0M280.7 466.9h0M275.3 483.3h0M271.4 482.6h0M266.4 473.2h0M272.1 476.7h0M280.7 483.4h0M272.1 470.9h0M268.5 476.9h0M277.4 480.2h0M266.5 477.2h0M270.4 480.1h0M269.4 456.2h0M277.6 503.2h0M269.3 483.9h0M265.4 490.3h0M274.8 477.6h0M264.6 470.7h0M266.9 475.4h0M278.7 498.4h0M266.2 491.3h0M251.9 495.5h0M275.1 461.9h0M263.8 446.5h0M276.3 487.9h0M263.9 488.4h0M260.6 486.5h0M272.0 458.9h0M273.1 468.7h0M257.0 486.0h0M268.1 453.9h0M272.8 487.3h0M265.0 477.4h0M281.6 481.5h0M270.6 464.7h0M279.5 480.4h0M274.1 476.7h0M270.7 471.9h0M264.1 480.9h0M275.1 488.2h0M272.6 479.3h0M276.5 468.0h0M262.4 473.0h0M267.6 471.5h0M271.5 467.7h0M269.2 472.3h0M267.2 480.4h0M275.2 492.1h0M273.4 497.2h0M268.2 486.2h0M279.6 500.8h0M269.1 478.4h0M274.8 484.2h0M274.8 474.9h0M269.8 457.9h0M273.0 481.2h0M276.4 450.7h0M283.2 448.2h0M264.2 466.6h0M269.9 494.2h0M268.2 499.5h0M265.3 499.1h0M268.0 462.1h0M261.1 484.4h0M267.8 463.6h0M261.9 475.3h0M270.1 483.7h0M279.2 466.3h0M268.0 467.0h0M267.9 490.1h0M282.8 475.7h0M272.7 454.2h0M259.7 471.2h0M267.9 457.2h0M263.1 467.5h0M277.3 496.3h0M270.8 489.3h0M268.7 482.4h0M274.7 477.0h0M273.8 473.6h0M265.0 462.5h0M270.0 485.0h0M271.2 467.6h0M265.2 476.8h0M270.9 467.5h0M273.2 475.5h0M274.0 464.4h0M274.1 471.0h0M270.4 461.5h0M270.1 487.6h0M258.9 465.3h0M262.2 465.2h0M272.6 478.4h0M269.6 445.3h0M275.9 462.6h0M273.9 495.7h0M275.3 489.0h0M275.3 455.0h0M267.6 461.0h0M267.0 472.6h0M266.0 476.7h0M266.9 488.4h0M267.8 490.9h0M285.3 478.7h0M263.4 463.9h0M272.3 466.1h0M276.3 474.1h0M266.8 470.0h0M280.4 441.2h0M269.0 479.7h0M280.9 477.5h0M263.2 476.5h0M270.9 481.4h0M266.7 484.8h0M267.8 479.5h0M280.7 460.4h0M266.1 464.2h0M285.1 482.8h0M273.3 489.4h0M278.6 477.9h0M261.2 469.9h0M268.8 476.0h0M268.1 470.4h0M256.4 468.3h0M263.5 478.7h0M266.2 472.7h0M272.5 481.6h0M276.0 463.9h0M268.2 479.5h0M273.8 459.9h0M267.4 499.5h0M259.9 443.1h0M262.5 478.4h0M275.5 471.7h0M265.5 449.5h0M270.7 490.1h0M275.0 479.7h0M266.5 488.9h0M277.3 460.4h0M263.2 481.8h0M261.0 482.6h0M270.2 466.2h0M277.4 459.0h0M268.5 471.6h0M265.2 485.4h0M261.6 459.4h0M270.5 457.7h0M273.6 489.7h0M261.1 478.7h0M264.5 467.3h0M268.6 478.2h0M269.4 476.3h0M274.3 466.0h0M267.6 469.5h0M271.7 491.3h0M278.0 515.0h0M281.4 462.8h0M268.2 458.7h0M260.4 458.3h0M269.9 476.3h0M262.8 470.6h0M280.2 453.2h0M271.4 455.4h0M264.5 486.9h0M278.8 471.3h0M277.6 451.3h0M274.7 443.7h0M270.8 482.0h0M270.3 487.6h0M267.9 485.3h0M273.3 478.7h0M259.5 491.2h0M267.7 494.5h0M265.7 473.3h0M272.5 479.0h0M267.7 453.1h0M273.9 469.4h0M280.4 483.7h0M263.3 489.3h0M280.2 490.4h0M268.3 450.8h0M273.3 483.7h0M269.7 462.0h0M271.7 460.7h0M280.7 469.3h0M262.2 481.3h0M269.0 485.0h0M272.3 469.1h0M275.6 469.9h0M266.8 481.7h0M280.0 453.7h0M281.7 469.5h0M279.9 475.1h0M261.8 484.7h0M263.7 476.4h0M271.1 480.6h0M277.0 485.2h0M264.4 476.6h0M257.6 481.9h0M271.5 500.0h0M274.6 482.5h0M268.9 461.5h0M268.8 490.0h0M274.5 496.1h0M273.4 485.9h0M272.0 479.2h0M274.8 464.4h0M276.0 466.3h0M270.2 456.4h0M267.8 478.6h0M279.2 471.1h0M273.1 479.5h0M261.8 474.1h0M268.6 475.2h0M277.3 471.7h0M268.5 456.4h0M269.8 508.0h0M278.7 477.3h0M263.9 467.4h0M267.8 477.1h0M268.0 512.2h0M281.5 472.7h0M274.2 488.4h0M273.1 468.0h0M287.9 484.3h0M278.1 476.9h0M283.0 469.1h0M280.7 479.6h0M268.9 458.2h0M273.6 481.9h0M266.9 492.5h0M266.1 480.6h0M272.3 456.7h0M272.8 468.5h0M270.8 455.0h0M273.3 456.4h0M263.5 480.5h0M266.0 482.0h0M269.3 477.1h0M271.5 488.6h0M278.4 463.6h0M276.4 473.5h0M270.5 457.3h0M275.4 499.2h0M275.4 494.4h0M270.0 477.4h0M260.3 488.5h0M268.5 488.8h0M272.4 465.6h0M278.4 454.0h0M265.6 470.8h0M270.7 493.7h0M262.3 477.2h0M266.8 481.2h0M272.0 484.4h0M277.2 491.4h0M273.0 480.2h0M273.8 494.4h0M265.4 482.8h0M289.0 469.3h0M260.4 482.0h0M284.9 454.8h0M275.7 486.3h0M265.0 466.6h0M264.0 465.2h0M274.0 474.8h0M277.8 479.5h0M280.6 472.9h0M273.3 490.4h0M273.3 488.2h0M272.3 494.4h0M260.8 469.7h0M270.3 489.9h0M270.9 496.2h0M266.9 469.6h0M278.7 471.6h0M260.6 469.8h0M286.8 457.4h0M266.0 485.5h0M265.9 501.7h0M264.1 483.1h0M268.4 466.8h0M265.6 494.5h0M272.1 456.3h0M276.6 459.2h0M272.0 447.2h0M281.0 484.7h0M266.6 467.3h0M283.4 503.4h0M276.2 483.1h0M266.3 478.8h0M275.5 441.7h0M270.7 448.7h0M258.0 466.3h0M277.1 471.4h0M271.2 482.5h0M267.5 465.4h0M271.6 483.5h0M263.0 463.8h0M273.1 488.0h0M271.3 474.7h0M273.8 467.0h0M265.3 493.8h0M277.3 473.0h0M270.3 486.5h0M270.3 470.4h0M276.1 469.2h0M265.3 467.7h0M261.9 474.2h0M269.1 482.7h0M271.2 479.0h0M270.8 471.3h0M270.2 476.7h0M268.2 503.3h0M273.3 473.3h0M274.0 492.5h0M265.3 473.6h0M265.7 479.6h0M267.7 487.8h0M263.3 489.6h0M278.7 475.6h0M269.0 480.4h0M286.9 465.9h0M257.9 464.2h0M277.0 474.5h0M268.2 458.8h0M269.6 479.2h0M259.8 488.0h0M280.4 472.2h0M259.0 510.2h0M273.4 481.7h0M272.5 464.1h0M256.8 466.3h0M278.3 482.0h0M269.8 449.6h0M272.4 459.1h0M268.2 491.0h0M275.6 463.7h0M257.2 475.1h0M266.3 482.6h0M272.3 493.2h0M267.2 459.9h0M274.5 456.9h0M263.0 480.0h0M276.6 472.8h0M264.0 452.1h0M253.8 477.1h0M264.0 450.6h0M267.2 455.5h0M272.5 448.3h0M276.5 468.5h0M268.0 475.9h0M260.3 473.6h0M266.7 463.4h0M273.0 466.0h0M279.5 469.6h0M272.4 474.4h0M274.0 481.3h0M262.1 482.5h0M269.9 487.3h0M266.5 490.3h0M276.0 468.0h0M265.8 485.8h0M273.9 471.1h0M280.1 483.6h0M274.4 474.1h0M265.7 462.7h0M252.1 472.3h0M271.3 446.9h0M271.9 473.3h0M262.9 451.5h0M264.1 498.3h0M277.1 467.1h0M275.9 499.7h0M254.8 493.5h0M261.0 482.3h0M273.6 469.8h0M277.9 473.8h0M270.5 469.5h0M255.1 476.1h0" stroke="#bebebe" stroke-width="2.00" stroke-linecap="round" fill="none"/>
<path d="M273.0 450.2h0" stroke="#e3262b" stroke-width="2.20" stroke-linecap="round" fill="none"/>
<line x1="210.4" y1="475.0" x2="332.8" y2="475.0" stroke="#1a1a1a" stroke-width="1.0" stroke-dasharray="1.3 2.5"/>
<line x1="271.5" y1="424.4" x2="271.5" y2="524.5" stroke="#1a1a1a" stroke-width="1.0" stroke-dasharray="1.3 2.5"/>
<line x1="210.4" y1="424.4" x2="210.4" y2="525.1" stroke="#3a3a3a" stroke-width="1.25"/>
<line x1="209.8" y1="524.5" x2="332.8" y2="524.5" stroke="#3a3a3a" stroke-width="1.25"/>
<line x1="207.8" y1="449.4" x2="210.4" y2="449.4" stroke="#333" stroke-width="1"/>
<text x="192.2" y="452.9" font-size="9.6" fill="#1e1e1e" stroke="#1e1e1e" textLength="13.9" lengthAdjust="spacingAndGlyphs">0.4</text>
<line x1="207.8" y1="475.0" x2="210.4" y2="475.0" stroke="#333" stroke-width="1"/>
<text x="192.2" y="478.6" font-size="9.6" fill="#1e1e1e" stroke="#1e1e1e" textLength="13.9" lengthAdjust="spacingAndGlyphs">0.0</text>
<line x1="207.8" y1="500.6" x2="210.4" y2="500.6" stroke="#333" stroke-width="1"/>
<text x="189.1" y="504.2" font-size="9.6" fill="#1e1e1e" stroke="#1e1e1e" textLength="17.0" lengthAdjust="spacingAndGlyphs">-0.4</text>
<line x1="215.6" y1="524.5" x2="215.6" y2="527.1" stroke="#333" stroke-width="1"/>
<text x="204.7" y="536.9" font-size="9.6" fill="#1e1e1e" stroke="#1e1e1e" textLength="22.3" lengthAdjust="spacingAndGlyphs">-0.50</text>
<line x1="243.6" y1="524.5" x2="243.6" y2="527.1" stroke="#333" stroke-width="1"/>
<text x="232.7" y="536.9" font-size="9.6" fill="#1e1e1e" stroke="#1e1e1e" textLength="22.3" lengthAdjust="spacingAndGlyphs">-0.25</text>
<line x1="271.5" y1="524.5" x2="271.5" y2="527.1" stroke="#333" stroke-width="1"/>
<text x="262.2" y="536.9" font-size="9.6" fill="#1e1e1e" stroke="#1e1e1e" textLength="19.1" lengthAdjust="spacingAndGlyphs">0.00</text>
<line x1="299.4" y1="524.5" x2="299.4" y2="527.1" stroke="#333" stroke-width="1"/>
<text x="290.2" y="536.9" font-size="9.6" fill="#1e1e1e" stroke="#1e1e1e" textLength="19.1" lengthAdjust="spacingAndGlyphs">0.25</text>
<line x1="327.4" y1="524.5" x2="327.4" y2="527.1" stroke="#333" stroke-width="1"/>
<text x="318.1" y="536.9" font-size="9.6" fill="#1e1e1e" stroke="#1e1e1e" textLength="19.1" lengthAdjust="spacingAndGlyphs">0.50</text>
<text x="247.9" y="546.9" font-size="10.46" fill="#1e1e1e" stroke="#1e1e1e" textLength="47.3" lengthAdjust="spacingAndGlyphs">Bulk_LFC</text>
<text x="215.7" y="438.0" font-size="8.87" fill="#1e1e1e" stroke="#1e1e1e" textLength="95.8" lengthAdjust="spacingAndGlyphs"><tspan font-style="italic">R</tspan> = −0.047, <tspan font-style="italic">p</tspan> = 0.065</text>
<text x="302.7" y="460.5" font-size="13.23" font-weight="bold" textLength="24.7" lengthAdjust="spacingAndGlyphs">Mic</text>
<text x="292.9" y="519.4" font-size="8.14" font-weight="bold" fill="#2a2a2a" textLength="39.5" lengthAdjust="spacingAndGlyphs">N = 1572</text>
<path d="M448.6 502.9h0M452.3 497.1h0M414.0 480.2h0M428.8 464.7h0M438.5 470.7h0M426.6 482.0h0M439.5 451.4h0M466.5 486.5h0M440.8 458.5h0M458.6 475.7h0M440.2 485.2h0M448.5 453.7h0M454.4 473.3h0M452.0 480.7h0M450.3 481.1h0M435.9 482.9h0M441.2 489.2h0M454.8 479.2h0M451.6 484.2h0M458.3 488.9h0M451.8 469.9h0M441.4 493.7h0M460.2 484.2h0M453.3 520.5h0M435.9 462.1h0M442.7 488.9h0M440.3 443.7h0M456.2 490.5h0M425.4 484.6h0M434.6 462.7h0M448.9 506.5h0M440.7 499.6h0M449.9 494.0h0M435.7 499.7h0M442.5 477.0h0M455.4 509.1h0M424.4 493.9h0M440.0 471.0h0M441.5 492.0h0M448.0 482.4h0M458.5 474.8h0M445.2 483.0h0M442.0 485.2h0M464.5 490.0h0M417.1 482.6h0M456.3 490.0h0M440.9 504.8h0M445.3 464.0h0M437.1 444.0h0M437.4 461.7h0M444.0 481.7h0M447.3 470.7h0M427.4 493.4h0M458.3 506.5h0M446.6 468.6h0M445.1 445.3h0M436.6 481.9h0M449.1 448.0h0M459.0 443.3h0M440.7 458.6h0M446.8 435.8h0M447.7 502.4h0M451.8 504.0h0M438.8 458.4h0M422.7 486.2h0M430.9 461.0h0M414.0 446.0h0M436.6 486.0h0M438.9 477.3h0M428.4 483.9h0M441.0 472.1h0M461.9 478.1h0M461.0 479.0h0M436.7 512.5h0M480.9 462.2h0M460.5 455.9h0M434.1 438.6h0M435.9 463.8h0M437.2 486.5h0M435.0 492.0h0M422.5 495.5h0M422.1 475.6h0M456.3 462.6h0M435.2 473.6h0M443.4 469.4h0M422.0 477.6h0M429.7 471.4h0M433.5 501.0h0M433.9 482.1h0M428.1 477.5h0M411.0 492.5h0M434.6 496.7h0M429.2 519.8h0M444.5 472.1h0M409.5 509.4h0M445.1 468.6h0M434.7 492.8h0M429.0 481.6h0M448.4 477.0h0M445.7 472.0h0M437.8 460.2h0M448.9 468.1h0M429.6 465.9h0M451.6 423.6h0M449.2 453.2h0M427.0 501.7h0M439.7 447.0h0M470.8 469.9h0M428.0 463.0h0M436.6 481.3h0M438.9 454.8h0M443.4 518.4h0M431.1 463.8h0M404.6 498.9h0M439.9 482.5h0M433.6 474.3h0M437.5 481.9h0M445.3 506.9h0M424.3 482.1h0M427.9 473.3h0M437.7 498.8h0M452.2 464.5h0M448.4 459.8h0M402.6 462.3h0M440.7 473.8h0M432.6 476.8h0M454.3 469.2h0M451.6 465.6h0M438.4 458.6h0M435.1 426.4h0M435.1 497.4h0M472.9 482.9h0M456.1 469.8h0M430.9 489.8h0M421.0 501.0h0M461.8 451.4h0M436.2 499.8h0M444.6 440.0h0M472.7 476.6h0M442.9 481.4h0M451.3 432.3h0M433.2 494.8h0M432.8 500.4h0M424.1 487.4h0M438.6 469.0h0M462.4 512.2h0M434.6 472.5h0M430.0 474.6h0M430.8 449.5h0M461.0 522.3h0M457.9 494.9h0M436.6 475.3h0M444.0 461.1h0M449.3 482.5h0M450.8 518.5h0M446.0 499.1h0M442.4 487.3h0M451.6 507.9h0M438.3 461.1h0M439.5 453.2h0M459.7 475.8h0M466.0 504.5h0M460.8 486.7h0M435.8 470.1h0M423.1 477.9h0M429.9 467.5h0M427.5 468.9h0M438.2 493.6h0M421.4 489.4h0M453.4 464.0h0M430.4 474.8h0M448.6 482.4h0M442.7 483.5h0M443.0 479.4h0M438.5 465.3h0M444.1 496.2h0M434.2 476.6h0M440.1 456.7h0M434.1 455.3h0M417.3 468.7h0M444.2 465.6h0M438.7 446.1h0M437.8 480.3h0M424.9 494.0h0M435.9 461.4h0M439.9 462.1h0M422.7 485.8h0M439.8 466.8h0M439.0 462.1h0M447.3 506.8h0M434.6 504.9h0M439.1 497.5h0M444.4 489.7h0M436.8 484.5h0M437.2 478.1h0M437.7 479.8h0M434.8 493.0h0M434.2 459.5h0M440.4 473.8h0M424.8 501.1h0M426.4 488.7h0M453.0 481.3h0M441.3 466.5h0M438.2 455.8h0M464.3 495.7h0M440.6 493.1h0M437.9 466.5h0M438.1 475.5h0M446.4 474.5h0M425.7 494.1h0M440.2 473.8h0M442.6 458.1h0M444.2 481.3h0M431.5 454.8h0M450.5 477.8h0M433.8 467.9h0M442.6 465.6h0M446.6 463.4h0M450.0 436.1h0M438.4 489.3h0M436.2 483.0h0M437.8 488.4h0M448.5 467.8h0M445.4 477.8h0M447.5 497.4h0M420.8 492.7h0M443.1 482.1h0M437.5 493.8h0M426.9 494.7h0M449.4 478.6h0M446.9 484.6h0M438.8 462.6h0M434.9 501.1h0M451.3 489.9h0M443.8 492.8h0M449.2 464.8h0M428.6 491.4h0M447.1 467.6h0M438.9 493.1h0M458.6 502.8h0M435.9 490.8h0M439.3 497.0h0M450.4 482.1h0M444.4 469.1h0M444.0 459.1h0M435.1 504.7h0M444.1 464.5h0M427.5 509.3h0M444.1 479.4h0M450.9 470.8h0M430.4 479.3h0M428.4 473.8h0M447.1 471.1h0M444.5 478.9h0M444.5 464.1h0M442.4 457.0h0M442.2 471.9h0M438.2 481.1h0M432.6 455.4h0M441.9 496.5h0M441.2 466.6h0M444.7 487.4h0M448.6 474.7h0M441.7 462.5h0M439.2 493.6h0M439.9 494.5h0M433.6 485.5h0M445.1 493.9h0M434.1 460.7h0M444.8 475.7h0M448.7 463.1h0M431.4 481.0h0M446.4 478.0h0M440.6 477.3h0M450.2 467.8h0M443.0 478.6h0M438.1 465.6h0M430.9 486.5h0M445.8 449.7h0M445.7 477.1h0M441.8 504.3h0M436.3 484.4h0M432.4 483.1h0M440.7 486.1h0M443.7 502.8h0M444.3 473.8h0M438.4 469.5h0M438.5 457.5h0M431.4 456.8h0M442.7 452.8h0M443.4 464.6h0M439.5 493.0h0M430.7 499.4h0M440.6 477.8h0M453.1 489.9h0M440.5 477.4h0M435.7 486.5h0M441.3 476.4h0M445.2 483.2h0M446.2 478.4h0M449.4 500.4h0M446.4 484.8h0M440.5 484.0h0M426.2 486.8h0M429.3 485.2h0M452.5 489.4h0M428.9 456.8h0M437.5 481.2h0M434.5 482.7h0M440.7 472.9h0M456.2 478.3h0M440.1 473.2h0M446.2 480.0h0M444.4 476.8h0M432.6 476.2h0M436.4 458.6h0M433.8 473.3h0M446.6 496.0h0M439.6 457.4h0M438.4 492.8h0M439.3 475.9h0M442.4 488.7h0M433.2 454.1h0M435.1 458.7h0M424.3 476.4h0M437.7 475.5h0M439.8 484.9h0M433.6 480.1h0M435.8 493.9h0M449.4 499.0h0M439.9 472.4h0M441.3 495.6h0M438.4 486.6h0M454.2 474.7h0M428.9 473.4h0M445.1 466.9h0M439.9 505.2h0M439.8 481.3h0M439.6 467.3h0M442.2 499.8h0M446.7 495.6h0M439.4 479.6h0M444.8 464.1h0M438.3 465.2h0M445.5 483.4h0M438.2 476.9h0M431.7 465.1h0M439.1 467.1h0M434.1 478.4h0M446.6 480.2h0M446.8 476.8h0M443.4 512.9h0M444.2 484.1h0M442.5 485.1h0M457.9 501.6h0M437.9 484.5h0M433.9 471.7h0M442.3 503.5h0M442.4 484.0h0M433.8 471.6h0M438.3 478.1h0M437.7 478.5h0M450.0 467.3h0M439.1 496.6h0M444.5 493.3h0M440.8 469.3h0M432.2 503.0h0M439.5 484.8h0M431.3 483.9h0M441.0 472.9h0M439.2 511.4h0M452.1 467.4h0M436.1 451.4h0M440.6 476.6h0M429.9 492.4h0M449.7 472.9h0M433.2 479.1h0M445.9 473.7h0M451.4 475.2h0M455.1 473.2h0M437.8 481.9h0M446.8 494.2h0M440.3 499.3h0M439.3 477.6h0M432.5 499.4h0M439.3 482.8h0M436.1 481.1h0M451.0 503.2h0M447.9 475.4h0M447.5 483.1h0M435.2 480.1h0M434.2 475.4h0M433.9 470.1h0M447.0 501.3h0M436.4 472.0h0M432.4 502.7h0M434.5 486.6h0M441.0 473.1h0M447.0 498.9h0M437.7 483.3h0M446.1 468.6h0M426.3 477.8h0M439.6 478.7h0M436.9 485.3h0M436.6 493.1h0M445.6 489.8h0M445.7 477.9h0M455.0 499.7h0M424.6 490.2h0M443.8 473.0h0M445.6 502.3h0M440.0 481.5h0M446.4 511.1h0M435.2 467.1h0M438.6 469.5h0M444.4 493.6h0M434.7 494.8h0M439.3 448.1h0M454.3 494.0h0M443.4 473.7h0M434.2 492.1h0M440.2 477.5h0M435.8 471.4h0M439.9 475.1h0M439.3 484.1h0M452.5 502.6h0M429.0 489.2h0M448.8 472.0h0M429.0 472.3h0M431.8 471.6h0M423.3 467.4h0M435.6 451.5h0M445.0 478.3h0M445.0 471.3h0M442.1 485.7h0M426.5 472.2h0M431.4 465.3h0M442.0 479.2h0M435.5 468.8h0M444.5 503.3h0M443.3 497.7h0M431.3 471.4h0M446.1 476.3h0M439.6 499.1h0M432.8 477.5h0M438.9 470.8h0M451.9 468.7h0M431.4 469.0h0M451.2 475.8h0M447.8 490.6h0M437.6 471.7h0M445.1 460.3h0M434.0 457.0h0M434.8 486.7h0M438.7 487.3h0M434.3 476.1h0M442.9 474.6h0M430.7 479.1h0M432.3 492.3h0M445.6 474.2h0M446.4 492.2h0M437.3 467.3h0M431.7 477.8h0M435.1 494.1h0M435.2 463.0h0M434.2 487.3h0M437.4 446.0h0M425.1 488.0h0M444.7 501.2h0M427.4 507.1h0M443.9 489.7h0M431.0 479.8h0M450.2 486.0h0M441.9 501.8h0M434.7 486.3h0M441.7 496.0h0M446.8 488.5h0M426.0 479.3h0M443.5 484.3h0M415.6 464.3h0M444.1 491.5h0M443.6 467.4h0M445.5 492.4h0M441.8 475.1h0M441.0 493.5h0M428.6 473.2h0M454.0 488.9h0M450.0 506.9h0M451.3 478.1h0M431.7 479.3h0M437.4 456.3h0M443.2 467.3h0M449.5 487.3h0M445.1 474.5h0M430.8 459.9h0M432.3 473.7h0M447.7 449.6h0M439.6 490.5h0M419.8 469.4h0M441.0 464.8h0M439.9 478.2h0M447.6 464.1h0M448.1 473.1h0M432.4 474.1h0M449.1 487.3h0M436.2 453.2h0M438.9 475.4h0M438.9 471.1h0M441.4 487.7h0M437.6 476.2h0M442.4 482.3h0M441.0 490.9h0M438.1 489.4h0M457.8 473.8h0M437.8 485.8h0M446.8 501.3h0M435.2 469.0h0M439.8 499.8h0M432.1 482.3h0M450.3 491.3h0M430.5 473.3h0M451.9 479.5h0M456.2 464.1h0M434.2 435.1h0M443.8 465.9h0M428.3 474.2h0M441.7 462.9h0M448.4 480.5h0M452.5 487.4h0M427.8 474.6h0M446.4 468.3h0M446.2 486.3h0M441.2 491.5h0M430.1 473.4h0M440.9 466.8h0M436.9 475.6h0M440.0 473.6h0M452.0 458.1h0M440.0 472.8h0M448.0 475.5h0M451.4 489.9h0M451.8 495.4h0M440.5 495.1h0M443.4 485.4h0M456.7 471.4h0M446.5 472.9h0M429.5 489.0h0M441.9 488.4h0M440.8 476.8h0M441.8 470.2h0M447.4 478.6h0M450.8 494.4h0M438.0 461.0h0M458.0 486.1h0M450.6 458.6h0M426.3 499.8h0M444.4 477.9h0M439.5 495.6h0M434.8 495.7h0M426.7 474.6h0M434.2 463.2h0M435.8 468.0h0M443.1 486.0h0M443.2 489.3h0M429.9 482.6h0M447.2 471.7h0M441.3 480.1h0M444.5 475.2h0M431.2 465.1h0M431.9 490.3h0M440.0 476.6h0M451.0 480.2h0M423.0 475.1h0M437.2 461.8h0M436.8 479.6h0M454.3 484.8h0M435.0 462.0h0M453.8 480.9h0M443.8 463.9h0M450.8 495.2h0M450.1 476.8h0M448.4 474.5h0M440.4 462.4h0M449.6 448.0h0M436.9 470.2h0M456.9 498.1h0M438.7 460.8h0M444.3 470.5h0M436.2 473.6h0M452.4 480.7h0M434.6 493.6h0M447.9 496.9h0M447.8 507.8h0M433.4 476.2h0M449.9 491.4h0M441.4 489.2h0M445.6 461.8h0M442.6 474.3h0M438.5 500.8h0M437.6 489.6h0M439.7 474.6h0M434.9 458.9h0M438.3 475.6h0M439.6 465.9h0M436.8 465.6h0M439.8 481.9h0M451.6 485.9h0M442.5 473.0h0M456.5 474.5h0M430.3 495.1h0M451.1 474.6h0M455.0 457.6h0M440.5 481.8h0M447.6 462.8h0M444.0 495.9h0M437.4 494.4h0M439.3 498.7h0M431.7 483.8h0M415.2 476.7h0M437.7 491.9h0M425.0 482.0h0M443.6 506.4h0M437.9 474.0h0M445.5 489.2h0M453.6 468.5h0M454.1 461.9h0M442.0 460.5h0M443.5 488.2h0M439.3 471.7h0M435.5 489.5h0M437.2 479.1h0M439.6 494.9h0M436.6 477.4h0M445.6 486.8h0M450.4 499.4h0M443.3 491.6h0M445.0 472.2h0M446.4 493.0h0M439.4 505.7h0M412.4 476.2h0M436.0 466.7h0M435.5 484.2h0M447.8 490.1h0M433.9 478.0h0M442.3 499.1h0M435.2 493.6h0M427.2 476.6h0M420.5 472.3h0M454.9 471.6h0M432.1 490.5h0M452.1 461.8h0M435.2 489.5h0M444.0 489.3h0M450.5 464.9h0M437.1 471.2h0M439.5 500.8h0M437.6 455.7h0M445.8 509.2h0M446.5 473.8h0M437.6 497.3h0M434.7 480.0h0M440.3 481.2h0M430.2 479.7h0M433.7 465.2h0M453.3 488.4h0M438.1 466.2h0M430.7 467.8h0M431.2 495.9h0M437.8 493.5h0M429.7 486.8h0M432.7 483.9h0M452.3 470.8h0M448.0 512.1h0M440.9 472.9h0M437.0 473.9h0M440.6 475.1h0M448.4 493.8h0M417.8 499.3h0M441.8 452.7h0M440.9 499.0h0M437.0 486.7h0M432.0 490.6h0M427.6 465.9h0M433.5 487.1h0M440.9 491.2h0M436.3 467.6h0M457.2 479.2h0M441.9 464.1h0M431.7 484.1h0M444.0 465.9h0M434.3 477.8h0M448.9 475.4h0M453.3 490.5h0M451.8 478.8h0M441.9 470.2h0M440.0 485.9h0M430.4 474.3h0M440.8 476.6h0M426.6 484.8h0M438.7 464.3h0M442.0 471.4h0M435.8 497.2h0M432.0 490.9h0M441.5 486.2h0M441.6 492.8h0M440.5 471.2h0M441.6 479.5h0M439.5 486.1h0M450.4 484.6h0M449.0 467.5h0M440.2 500.0h0M436.2 481.4h0M427.7 492.5h0M443.9 468.5h0M433.9 493.8h0M434.0 490.4h0M450.2 482.8h0M450.1 492.7h0M436.9 478.5h0M443.4 500.3h0M425.1 465.5h0M432.8 472.2h0M451.7 496.4h0M438.5 458.2h0M437.1 489.9h0M441.1 515.4h0M436.0 476.9h0M445.1 491.3h0M443.6 456.7h0M433.4 488.0h0M437.1 519.0h0M449.2 480.2h0M442.3 481.0h0M433.2 473.1h0M424.9 476.4h0M423.1 458.3h0M441.5 481.2h0M430.3 502.6h0M448.7 487.0h0M457.3 474.6h0M430.9 475.1h0M446.3 499.3h0M451.5 451.7h0M432.8 490.8h0M420.3 485.2h0M443.3 493.8h0M441.4 482.3h0M434.5 507.1h0M436.5 480.0h0M441.4 466.6h0M424.4 475.6h0M440.6 482.5h0M427.5 469.1h0M435.7 488.0h0M437.5 493.1h0M436.2 463.7h0M439.4 471.4h0M444.2 473.5h0M438.8 502.5h0M445.1 461.8h0M450.3 490.3h0M439.5 489.3h0M434.2 492.9h0M442.4 474.9h0M440.4 478.8h0M445.1 471.3h0M437.4 478.6h0M452.9 459.3h0M443.7 467.5h0M438.5 480.5h0M440.4 490.5h0M446.7 455.1h0M442.8 458.2h0M430.6 481.2h0M448.5 475.0h0M440.6 488.3h0M435.4 460.0h0M450.3 497.7h0M437.4 488.0h0M435.2 485.8h0M434.4 508.0h0M431.2 483.7h0M444.1 462.4h0M448.7 470.3h0M447.0 483.3h0M431.0 467.6h0M439.0 483.4h0M442.2 484.3h0M455.9 478.4h0M419.4 471.1h0M430.6 479.8h0M427.8 476.1h0M434.6 469.5h0M444.8 484.1h0M442.5 483.0h0M422.6 482.4h0M448.0 493.1h0M433.1 462.4h0M446.6 477.6h0M442.5 479.1h0M449.4 472.0h0M430.8 488.4h0M443.9 473.7h0M447.2 479.4h0M449.5 478.4h0M438.9 464.2h0M446.3 470.7h0M451.1 489.0h0M434.1 494.8h0M444.6 458.4h0M438.9 470.2h0M441.8 494.9h0M450.2 477.5h0M421.6 498.8h0M433.9 493.0h0M436.7 477.9h0M438.2 488.7h0M442.9 465.4h0M439.5 504.6h0M453.7 475.5h0M433.9 480.1h0M457.4 477.9h0M445.9 473.4h0M441.0 469.1h0M444.0 506.8h0M446.8 482.7h0M446.5 481.1h0M434.0 510.1h0M440.5 500.0h0M429.1 492.7h0M438.9 483.3h0M437.3 478.3h0M451.6 477.5h0M439.8 479.5h0M440.1 466.4h0M429.5 476.5h0M450.3 478.1h0M438.4 488.0h0M436.5 491.8h0M442.1 481.8h0M442.1 474.6h0M446.6 449.9h0M429.8 487.4h0M425.3 482.0h0M441.0 454.5h0M435.7 501.2h0M446.3 490.4h0M437.6 487.7h0M436.9 477.6h0M452.8 502.9h0M446.6 472.9h0M434.8 473.9h0M440.2 493.0h0M449.6 492.3h0M440.1 497.1h0M458.9 458.1h0M448.7 482.7h0M445.3 481.7h0M443.9 473.6h0M438.6 481.5h0M452.2 478.3h0M443.6 475.4h0M432.9 483.8h0M439.7 451.5h0M439.0 479.6h0M435.8 478.2h0M435.3 498.6h0M441.6 474.4h0M437.9 486.4h0M416.9 515.6h0M453.3 478.3h0M441.3 477.7h0M441.9 472.5h0M455.1 477.1h0M449.4 492.8h0M439.4 477.7h0M435.1 480.6h0M437.2 478.2h0M442.5 496.9h0M439.8 486.7h0M428.1 489.8h0M452.1 452.4h0M441.5 479.8h0M420.6 514.7h0M437.1 512.5h0M441.0 499.1h0M438.7 489.5h0M442.2 467.6h0M432.7 457.0h0M427.8 484.8h0M429.8 495.8h0M429.1 488.1h0M426.2 473.8h0M438.7 471.7h0M435.1 495.6h0M438.2 501.5h0M431.2 496.7h0M443.4 495.9h0M427.8 465.6h0M449.4 479.8h0M431.6 482.4h0M449.8 488.1h0M440.9 477.4h0M451.2 460.2h0M442.2 485.0h0M453.2 483.8h0M444.3 496.3h0M442.8 496.8h0M448.8 479.2h0M432.7 484.7h0M429.9 461.2h0M449.7 457.4h0M438.3 499.1h0M434.5 468.6h0M447.3 472.2h0M440.7 475.1h0M427.9 501.1h0M437.4 489.1h0M438.2 490.6h0M441.1 477.0h0M438.3 474.6h0M418.7 495.0h0M447.1 466.8h0M444.1 479.3h0M444.9 474.6h0M440.7 459.3h0M436.4 487.3h0M443.6 490.8h0M444.6 498.1h0M449.4 496.2h0M448.2 483.2h0M445.4 480.6h0M436.7 463.0h0M459.9 472.1h0M434.2 477.7h0M438.8 482.0h0M437.8 464.2h0M444.3 510.3h0M434.9 479.3h0M443.9 440.8h0M432.9 477.5h0M440.3 460.6h0M432.5 466.4h0M435.5 465.0h0M445.1 454.4h0M431.4 467.1h0M447.3 485.1h0M435.7 473.2h0M436.7 480.6h0M435.2 505.3h0M457.6 486.4h0M451.9 461.3h0M442.9 470.9h0M458.2 481.3h0M447.6 500.5h0M428.8 492.2h0M445.9 489.3h0M449.7 484.7h0M433.4 476.5h0M426.2 461.4h0M415.3 474.2h0M431.6 442.6h0M430.8 475.1h0M445.0 491.7h0M439.5 473.8h0M451.0 484.4h0M442.8 483.1h0M439.6 467.1h0M444.5 458.6h0M449.9 502.0h0M445.4 499.1h0M432.9 469.3h0M444.3 481.4h0M449.0 462.6h0M445.2 473.8h0M438.7 472.9h0M437.8 485.5h0M448.7 470.5h0M441.7 468.9h0M440.9 472.1h0M451.7 468.1h0M434.6 495.7h0M443.0 474.9h0M431.2 496.9h0M430.8 498.2h0M456.5 495.4h0M435.6 482.2h0M429.5 472.1h0M435.9 472.6h0M443.7 490.7h0M446.2 460.2h0M464.0 471.6h0M445.8 483.7h0M444.7 490.4h0M427.5 470.3h0M444.6 467.4h0M437.5 474.1h0M433.4 485.3h0M432.7 476.0h0M450.3 478.7h0M456.8 460.3h0M450.8 471.1h0M437.8 482.4h0M432.5 489.8h0M433.8 489.1h0M438.1 444.0h0M439.0 475.9h0M443.5 474.7h0M443.4 457.0h0M442.2 477.2h0M447.7 478.5h0M423.9 505.3h0M447.7 469.5h0M443.3 460.7h0M433.8 475.9h0M440.6 444.0h0M437.3 485.4h0M445.3 479.1h0M437.2 477.6h0M436.1 465.7h0M439.3 493.2h0M433.2 495.8h0M452.4 470.1h0M432.9 488.7h0M443.8 496.4h0M437.8 499.1h0M434.4 483.9h0M442.7 478.9h0M427.3 481.8h0M445.7 482.6h0M442.9 504.2h0M438.8 492.1h0M432.8 475.5h0M428.5 497.1h0M435.7 466.0h0M444.6 463.9h0M433.5 477.8h0M440.9 491.7h0M433.7 477.0h0M441.6 471.9h0M436.1 503.8h0M443.3 484.7h0M453.5 486.9h0M449.5 475.1h0M448.8 489.6h0M429.0 492.7h0M453.8 473.8h0M439.8 497.7h0M427.8 481.4h0M432.0 474.9h0M442.0 493.8h0M432.1 478.3h0M429.2 480.9h0M450.5 473.2h0M439.4 489.5h0M451.9 496.2h0M443.7 443.4h0M436.0 489.3h0M436.9 474.3h0M441.6 501.4h0M449.7 481.3h0M430.8 464.7h0M447.1 496.1h0M434.0 475.6h0M425.4 463.4h0M441.2 479.7h0M450.9 478.2h0M428.3 474.3h0M432.6 475.4h0M443.8 472.9h0M443.1 460.9h0M447.1 466.5h0M446.1 483.8h0M429.2 462.9h0M435.9 470.6h0M432.0 471.2h0M429.3 462.4h0M435.2 489.5h0M436.9 495.8h0M440.8 467.9h0M441.8 459.2h0M429.3 456.5h0M449.7 492.5h0M438.0 489.6h0M431.8 478.8h0M448.4 500.4h0M447.3 473.7h0M430.1 461.7h0M425.9 488.7h0M443.6 493.9h0M437.6 507.8h0M450.2 463.4h0M443.4 489.7h0M435.9 471.9h0M427.8 476.9h0M437.7 469.0h0M441.1 459.4h0M453.7 462.4h0M439.5 474.6h0M455.9 492.5h0M449.8 470.4h0M451.8 460.0h0M425.9 487.6h0M447.4 467.4h0M448.5 502.4h0M435.6 470.4h0M443.7 477.6h0M435.8 502.8h0M435.8 482.9h0M442.3 484.7h0M438.7 464.0h0M438.4 471.6h0M439.2 488.3h0M443.1 503.5h0M444.9 497.6h0M444.9 469.3h0M438.5 473.8h0M447.3 463.7h0M441.3 486.9h0M448.0 475.0h0M448.7 496.6h0M433.9 500.9h0M445.7 478.6h0M439.8 498.1h0M445.7 481.5h0M451.5 464.5h0M439.7 482.0h0M442.2 473.5h0M448.0 474.0h0M446.6 491.4h0M429.1 479.5h0M428.3 508.3h0M423.8 484.2h0M430.0 445.6h0M435.3 511.8h0M442.2 492.0h0M436.5 497.9h0M435.4 493.0h0M436.3 468.5h0M437.5 506.1h0M439.1 478.0h0M448.9 482.5h0M425.8 500.5h0M455.3 482.3h0M446.3 463.6h0M440.1 451.5h0M448.5 471.8h0M442.4 473.7h0M430.8 502.7h0M446.5 483.4h0M441.9 472.1h0M432.5 486.0h0M433.4 496.2h0M433.2 467.1h0M431.8 491.3h0M448.4 487.2h0M446.9 483.5h0M433.1 467.2h0M437.4 469.1h0M450.9 470.1h0M444.4 477.5h0M432.3 485.8h0M433.8 492.5h0M436.3 470.5h0M452.3 485.7h0M447.5 479.6h0M441.5 473.9h0M433.2 501.5h0M432.6 470.7h0M447.1 489.5h0M430.1 459.7h0M434.0 477.0h0M446.3 484.0h0M425.0 486.4h0M436.1 483.1h0M435.2 489.2h0M436.7 488.6h0M434.4 493.3h0M424.1 486.7h0M430.1 502.4h0M424.4 476.2h0M443.8 466.0h0M440.3 498.7h0M442.2 475.8h0M441.5 503.4h0M432.9 512.2h0M435.5 477.8h0M442.6 479.4h0M433.6 499.5h0M430.7 478.0h0M438.1 477.7h0M437.8 499.0h0M435.4 476.1h0M439.2 478.5h0M430.2 472.1h0M438.8 488.4h0M456.8 467.8h0M443.0 488.1h0M448.8 488.1h0M443.1 477.2h0M448.4 467.4h0M435.0 456.2h0M433.5 486.4h0M435.5 475.3h0M435.3 481.6h0M439.6 470.7h0M425.2 482.1h0M444.5 478.2h0M424.8 506.0h0M450.9 478.7h0M441.2 477.8h0M440.5 478.1h0M447.5 474.5h0M443.6 463.2h0M440.7 484.2h0M432.3 482.5h0M435.3 481.1h0M443.4 475.4h0M442.7 455.2h0M437.6 468.7h0M424.5 473.4h0M437.6 480.9h0M451.9 476.8h0M431.6 461.3h0M438.8 470.0h0M440.7 489.6h0M435.0 498.3h0M436.1 483.7h0M443.6 489.3h0M456.1 476.2h0M450.0 470.0h0M447.3 495.9h0M443.6 472.6h0M433.8 505.2h0M445.9 472.1h0M441.6 481.1h0M441.5 485.1h0M434.6 499.2h0M441.3 481.1h0M431.4 476.0h0M436.0 479.9h0M436.6 484.9h0M440.0 475.8h0M444.8 488.5h0M461.6 470.3h0M446.9 484.6h0M444.3 453.3h0M423.4 477.8h0M454.4 488.8h0M437.3 480.9h0M444.2 462.9h0M446.5 466.1h0M436.2 481.7h0M435.7 508.2h0M442.1 473.0h0M444.4 490.5h0M433.3 490.6h0M441.4 461.0h0M435.9 489.0h0M430.7 480.9h0M445.6 483.4h0M420.7 496.8h0M436.9 490.5h0M439.8 464.3h0M437.6 456.5h0M436.8 499.6h0M435.3 495.9h0M432.8 477.8h0M445.8 483.4h0M450.9 469.8h0M454.9 464.2h0M436.9 474.8h0M435.9 468.5h0M438.7 486.4h0M425.7 455.2h0M447.4 481.4h0M435.4 497.8h0M449.4 499.8h0M431.8 476.1h0M459.2 488.0h0M442.2 488.9h0M434.8 445.0h0M437.5 477.1h0M448.3 496.9h0M449.4 469.4h0M418.9 484.0h0M444.7 466.0h0M444.7 483.5h0M435.3 479.9h0M440.9 462.7h0M432.4 459.3h0M435.6 490.2h0M437.9 460.1h0M439.4 481.8h0M447.1 491.4h0M438.9 439.1h0M436.2 502.9h0M428.6 481.1h0M434.6 476.3h0M451.2 480.4h0M446.2 488.9h0M433.9 488.2h0M433.6 485.6h0M444.5 481.9h0M435.7 466.4h0M444.4 479.9h0M447.5 501.5h0M433.9 506.4h0M436.6 495.4h0M439.9 490.8h0M433.1 486.3h0M457.9 463.1h0M441.2 476.6h0M438.7 490.2h0M442.1 487.6h0M437.0 478.7h0M461.4 460.1h0M429.8 485.0h0M440.3 463.5h0M438.6 476.1h0M445.6 486.1h0M447.9 476.5h0M435.7 475.7h0M448.1 481.4h0M432.3 480.9h0M439.1 480.5h0M445.0 470.2h0M435.8 478.9h0M439.8 484.9h0M435.7 477.0h0M429.3 486.5h0M436.5 485.0h0M441.4 455.0h0M448.2 475.8h0M440.4 464.5h0M446.0 476.4h0M443.0 486.2h0M439.0 465.0h0M434.3 487.5h0M437.7 468.5h0M440.3 476.1h0M441.1 506.2h0M437.3 502.4h0M448.4 474.5h0M453.6 485.0h0M443.4 469.9h0M446.4 478.5h0M436.9 464.8h0M438.9 490.3h0M449.0 520.3h0M441.2 461.5h0M430.6 495.7h0M444.4 481.9h0M437.6 462.8h0M420.3 471.7h0M434.8 486.8h0M428.3 486.2h0M431.1 460.4h0M428.4 463.6h0M440.0 491.4h0M442.4 483.5h0M446.4 477.2h0M445.1 480.5h0M425.0 477.6h0M431.5 462.4h0M437.2 456.4h0M440.1 477.3h0M422.7 483.8h0M437.8 476.6h0M425.8 472.8h0M434.9 483.6h0M440.0 483.0h0M430.4 503.0h0M448.7 475.8h0M442.2 432.0h0M426.9 480.3h0M427.9 474.7h0M448.6 465.0h0M441.5 476.9h0M434.0 482.7h0M433.8 472.1h0M453.1 474.9h0M449.5 458.5h0M448.5 476.2h0M436.9 477.0h0M438.9 474.9h0M436.0 498.6h0M441.2 447.8h0M434.3 478.6h0M448.2 492.9h0M442.3 474.9h0M448.8 495.4h0M456.6 487.2h0M442.3 461.3h0M443.7 477.9h0M443.6 478.7h0M432.1 472.9h0M431.3 461.8h0M440.0 474.7h0M438.2 493.4h0M442.3 477.2h0M445.7 485.2h0M439.6 479.7h0M441.5 447.9h0M437.9 502.0h0M441.6 497.1h0M440.9 463.3h0M446.0 486.1h0M427.1 474.3h0M436.2 479.6h0M448.1 455.0h0M453.1 487.5h0M438.9 497.2h0M427.3 471.0h0M439.3 473.6h0M438.2 515.3h0M443.5 479.4h0M441.7 477.5h0M441.0 471.6h0M435.2 487.5h0M447.4 464.6h0M441.2 469.9h0M435.6 448.3h0M441.5 489.3h0M445.0 507.6h0M451.3 506.8h0M456.2 476.9h0M448.6 468.8h0M448.8 466.9h0M420.3 497.3h0M434.5 483.1h0M445.7 489.8h0M440.2 500.7h0M429.0 454.8h0M448.5 470.3h0M441.7 489.2h0M439.1 480.5h0M435.7 481.0h0M435.3 466.8h0M451.1 504.9h0M450.9 472.4h0M446.8 485.1h0M435.7 480.1h0M437.2 498.6h0M447.8 477.9h0M432.4 495.8h0M444.0 476.8h0M451.3 489.5h0M441.9 478.3h0M454.4 467.6h0M430.5 472.9h0M447.0 470.7h0M439.2 476.2h0M432.2 487.2h0M431.0 473.5h0M441.2 457.2h0M442.1 487.7h0M440.3 456.8h0M447.1 467.0h0M447.8 474.6h0M440.7 499.6h0M435.1 495.8h0M445.3 483.2h0M446.2 483.7h0M436.0 465.0h0M443.9 468.7h0M445.0 470.3h0M450.3 493.3h0M448.0 469.2h0M438.1 472.7h0M431.9 484.9h0M441.7 452.9h0M455.0 472.7h0M443.4 479.0h0M446.0 474.1h0M437.9 457.6h0M449.5 472.1h0M447.5 472.9h0M436.5 467.7h0M442.0 495.6h0M450.2 483.0h0M436.5 515.1h0M453.9 483.9h0M442.7 459.2h0M438.3 490.0h0M450.7 465.5h0M427.3 477.8h0M437.1 468.5h0M439.3 479.3h0M432.1 495.7h0M439.5 461.4h0M434.8 457.9h0M444.8 482.5h0M435.9 489.5h0M434.9 475.4h0M446.5 469.6h0M427.2 496.8h0M429.3 472.6h0M450.4 500.9h0M436.5 477.4h0M446.0 498.6h0M434.2 503.1h0M447.5 499.9h0M449.2 506.1h0M452.8 478.4h0M452.7 482.9h0M420.5 484.4h0M438.1 483.4h0M443.2 468.7h0M438.4 467.3h0M444.0 476.5h0M443.5 479.5h0M435.8 489.5h0M448.6 481.1h0M443.5 491.2h0M438.5 501.2h0M446.4 495.5h0M437.5 492.4h0M438.0 480.2h0M441.3 481.8h0M445.8 463.2h0M445.6 488.2h0M433.7 497.3h0M436.2 477.0h0M440.6 474.0h0M446.1 473.9h0M435.3 501.1h0M445.3 482.5h0M442.6 472.4h0M439.5 471.8h0M441.2 464.8h0M437.2 494.2h0M429.1 462.4h0M438.0 477.7h0M438.8 495.7h0M442.1 479.4h0M420.4 496.1h0M436.7 492.8h0M446.7 497.5h0M442.5 477.8h0M441.0 500.5h0M438.6 465.6h0M445.8 467.6h0M431.5 472.0h0M442.0 477.5h0M433.7 505.9h0M444.5 468.6h0M431.2 477.1h0M437.0 466.3h0M433.5 477.8h0M452.2 482.0h0M450.3 499.9h0M446.1 493.3h0M448.4 493.9h0M440.1 447.2h0M428.3 494.8h0M420.5 487.6h0M431.3 465.5h0M443.5 497.9h0M445.5 484.2h0M429.8 475.3h0M449.0 472.6h0M445.3 463.6h0M435.5 496.7h0M439.2 454.0h0M433.3 454.0h0M445.0 469.8h0M426.5 494.1h0M435.7 453.3h0M434.9 496.0h0M451.7 450.9h0M439.1 495.8h0M446.8 479.4h0M438.8 491.1h0M451.4 465.8h0M442.0 481.4h0M439.6 485.1h0M450.6 474.2h0M440.2 482.1h0M449.8 473.0h0M422.6 484.5h0M448.9 470.7h0M444.4 497.2h0M453.7 455.1h0M433.8 491.7h0M436.4 495.3h0M435.6 470.9h0M443.5 478.5h0M431.1 489.0h0M453.4 459.6h0M430.9 463.6h0M438.6 483.5h0M442.4 475.0h0M436.4 468.4h0M450.0 450.8h0M441.1 477.4h0M441.3 476.5h0M439.8 484.0h0M441.0 487.9h0M442.2 483.4h0M450.0 485.2h0M431.8 464.9h0M447.5 465.2h0M432.6 504.9h0M438.8 494.8h0M439.4 493.0h0M439.9 469.3h0M437.0 477.5h0M433.6 446.7h0M441.8 491.9h0M450.9 470.6h0M442.1 476.3h0M445.8 477.4h0M436.8 445.2h0M437.9 474.7h0M441.0 487.9h0M440.7 456.1h0M455.0 490.4h0M438.5 509.3h0M442.4 470.9h0M442.2 471.8h0M425.8 488.1h0M440.9 483.5h0M436.1 490.5h0M433.8 483.6h0M438.3 457.5h0M434.2 459.0h0M443.0 491.6h0M442.9 490.4h0M442.7 446.0h0M436.0 469.5h0M419.8 470.3h0M438.9 470.8h0M438.7 472.9h0M457.6 472.5h0M438.5 483.4h0M438.1 494.3h0M447.1 466.4h0M446.7 492.7h0M447.8 464.3h0M442.3 493.5h0M438.7 468.4h0M444.6 455.8h0M430.6 479.7h0M434.9 495.1h0M445.4 480.4h0M448.6 463.7h0M445.9 471.5h0M446.8 472.3h0M440.7 490.5h0M433.5 486.5h0M450.8 470.3h0M440.1 503.5h0M441.5 470.0h0M446.4 486.4h0M442.6 481.7h0M441.9 460.8h0M439.3 485.4h0M440.7 474.0h0M445.1 485.2h0M437.7 501.3h0M443.2 472.8h0M446.5 493.7h0M447.0 481.1h0M419.7 491.1h0M443.0 486.9h0M435.8 468.6h0M447.0 483.1h0M454.8 465.0h0M440.7 482.2h0M432.6 494.9h0M442.6 480.1h0M447.6 490.5h0M433.4 475.9h0M452.4 491.7h0M429.0 436.3h0M451.2 504.3h0M437.5 480.7h0M426.3 491.9h0M422.8 465.7h0M440.1 472.1h0M439.7 513.0h0M438.3 482.1h0M444.7 478.1h0M426.4 482.7h0M442.4 463.2h0M431.2 481.2h0M439.7 490.3h0M453.3 491.2h0M427.3 498.7h0M440.3 483.0h0M456.5 464.7h0M444.9 492.0h0M431.9 472.3h0M436.3 476.5h0M439.0 502.6h0M437.5 468.2h0M439.9 491.1h0M432.1 484.4h0M439.6 507.1h0M441.0 489.9h0M449.9 462.4h0M429.8 468.1h0M446.9 479.2h0M448.1 483.5h0M440.0 494.8h0M449.1 474.0h0M439.4 481.7h0M445.8 464.8h0M440.2 481.6h0M429.2 478.4h0M441.0 513.0h0M437.2 488.1h0M441.5 486.2h0M445.0 463.2h0M436.3 472.7h0M450.4 459.4h0M444.4 476.1h0M439.4 485.1h0M443.1 462.0h0M447.5 479.6h0M438.3 461.5h0M436.3 495.6h0M440.7 479.1h0M436.3 480.7h0M431.7 483.6h0M448.4 461.5h0M452.0 487.0h0M439.9 458.8h0M438.0 481.0h0M440.1 455.0h0M453.7 500.9h0M446.5 491.7h0M444.9 489.2h0M434.6 490.5h0M428.3 491.0h0M446.9 464.0h0M450.2 489.2h0M419.5 477.3h0M429.0 460.7h0M427.6 468.7h0M435.6 494.2h0M434.7 463.2h0M425.2 463.9h0M443.7 484.6h0M445.7 499.6h0M438.6 474.5h0M437.0 482.1h0M434.7 470.1h0M442.0 487.8h0M441.9 484.8h0M439.3 484.3h0M433.1 453.7h0M447.3 479.9h0M447.6 506.6h0M440.8 483.5h0M429.1 474.0h0M442.3 456.1h0M425.9 495.9h0M437.5 483.1h0M423.6 475.8h0M444.0 471.2h0M439.1 466.8h0M437.9 497.2h0M422.0 449.0h0M442.2 502.2h0M444.3 480.2h0M428.3 477.4h0M433.2 453.7h0M432.2 464.3h0M428.7 474.2h0M435.9 474.9h0M442.0 491.0h0M451.2 489.2h0M429.7 498.5h0M441.3 481.5h0M445.3 471.7h0M442.4 464.4h0M443.0 499.9h0M438.6 467.2h0M445.9 490.5h0M439.0 472.2h0M442.9 485.6h0M438.4 497.9h0M445.1 494.0h0M432.3 464.8h0M442.1 475.9h0M445.7 465.3h0M439.5 475.4h0M435.0 495.6h0M434.1 476.3h0M437.4 474.6h0M441.6 486.2h0M423.8 488.1h0M441.7 461.9h0M442.0 458.3h0M446.2 481.7h0M440.7 472.2h0M446.6 480.9h0M446.0 464.2h0M432.1 486.6h0M428.8 458.9h0M444.4 470.6h0M441.4 465.3h0M431.3 472.0h0M447.2 494.1h0M432.7 463.5h0M445.5 475.2h0M433.5 463.9h0M436.3 498.2h0M446.3 472.6h0M431.0 478.8h0M443.3 477.4h0M448.1 497.7h0M434.8 478.2h0M439.2 460.5h0M434.8 462.8h0M433.6 460.1h0M429.3 490.9h0M447.7 493.7h0M446.1 482.3h0M455.6 472.9h0M436.2 482.6h0M440.7 480.1h0M441.2 493.7h0M435.0 470.9h0M444.4 479.8h0M431.8 490.8h0M441.4 474.9h0M442.3 482.1h0M431.4 478.5h0M424.2 462.7h0M452.7 459.2h0M436.3 500.9h0M458.1 482.4h0M436.0 475.8h0M445.7 466.4h0M428.5 446.2h0M436.6 458.7h0M451.8 473.0h0M447.4 477.9h0M437.4 480.4h0M431.2 448.7h0M441.5 485.3h0M449.4 481.4h0M433.1 509.3h0M428.0 467.5h0M448.5 466.4h0M424.6 467.3h0M436.8 458.2h0M442.1 492.6h0M447.9 475.5h0M455.8 481.4h0M435.7 468.1h0M436.0 476.0h0M428.2 462.3h0M440.5 488.5h0M443.6 479.0h0M439.1 495.5h0M448.6 480.1h0M439.7 485.4h0M457.6 472.2h0M442.2 476.5h0M433.6 480.6h0M436.7 484.3h0M433.0 484.2h0M439.1 497.1h0M439.2 472.1h0M435.3 472.8h0M436.8 470.1h0M444.7 468.7h0M443.4 479.0h0M446.7 481.8h0M441.9 466.0h0M444.5 458.2h0M442.3 471.5h0M450.0 464.9h0M445.1 502.4h0M462.0 488.3h0M446.7 492.2h0M432.1 485.0h0M441.9 480.8h0M436.7 469.2h0M438.6 479.9h0M450.9 469.3h0M446.9 482.1h0M449.2 470.4h0M440.1 499.0h0M441.0 499.3h0M445.0 494.8h0M446.5 495.4h0M466.2 457.8h0M423.1 479.0h0M446.2 487.1h0M437.0 480.7h0M438.6 500.0h0M444.6 511.8h0M450.2 485.0h0M442.8 486.5h0M439.0 476.6h0M436.5 492.8h0M428.6 480.4h0M442.4 484.0h0M433.4 467.5h0M451.7 498.0h0M445.7 460.6h0M421.5 473.4h0M454.4 486.7h0M447.1 488.1h0M421.2 448.0h0M447.3 509.9h0M434.6 463.5h0M439.9 451.8h0M430.9 501.9h0M447.0 484.0h0M428.2 489.8h0M434.1 469.8h0M447.4 503.1h0M429.2 493.9h0M450.5 469.2h0M441.9 468.8h0M436.6 483.0h0M429.8 477.9h0M449.7 488.5h0M446.5 496.9h0M434.0 478.9h0M458.9 489.0h0M433.4 484.8h0M441.6 489.4h0M428.6 459.7h0M442.7 489.9h0M440.6 464.8h0M445.3 491.9h0M444.7 475.8h0M447.2 480.2h0M438.4 488.3h0M435.2 489.0h0M430.2 472.6h0M434.3 491.0h0M425.4 470.2h0M438.4 482.1h0M436.1 491.3h0M446.4 496.3h0M439.5 487.2h0M443.7 475.0h0M433.8 487.3h0M425.1 471.9h0M445.8 494.7h0M450.4 478.1h0M436.1 497.0h0M436.7 482.5h0M449.0 490.2h0M436.8 480.1h0M447.9 502.8h0M442.3 476.5h0M435.5 469.3h0M434.6 460.6h0M435.2 482.4h0M451.1 467.9h0M449.0 481.2h0M440.8 480.4h0M445.7 490.3h0M439.7 486.3h0M432.4 467.6h0M437.9 484.6h0M449.5 452.1h0M429.5 493.7h0M447.3 503.0h0M443.5 490.2h0M456.9 505.7h0M443.4 459.7h0M438.3 483.7h0M459.6 471.7h0M435.7 469.9h0M435.9 487.1h0M443.2 488.6h0M444.8 476.2h0M432.1 460.4h0M417.2 473.3h0M426.5 450.0h0M444.3 468.8h0M427.1 481.4h0M447.8 497.7h0M443.1 484.6h0M432.8 485.7h0M444.6 490.4h0M449.8 473.8h0M437.8 470.3h0M439.2 503.7h0M426.0 467.1h0M448.3 481.6h0M445.1 487.7h0M443.4 478.1h0M441.7 472.9h0M448.3 484.4h0M419.9 455.9h0M442.9 494.9h0M431.1 494.1h0M432.3 477.7h0M440.2 477.2h0M440.1 490.9h0M431.8 488.5h0M436.8 475.8h0M433.6 468.7h0M437.3 484.6h0M454.3 460.5h0M439.1 471.3h0M450.1 515.6h0M451.5 483.8h0M424.4 485.7h0M442.7 477.8h0M439.4 477.2h0M454.5 454.3h0M437.6 481.8h0M442.2 481.0h0M437.5 496.5h0M448.9 462.2h0M435.1 481.7h0M457.9 468.5h0M422.0 475.4h0M449.7 484.5h0M447.7 490.8h0M449.6 460.8h0M440.1 485.1h0M443.8 480.5h0M442.0 490.4h0M430.6 484.8h0M449.4 476.5h0M444.8 485.4h0M434.9 490.6h0M436.0 472.7h0M441.5 509.5h0M444.3 484.2h0M436.8 477.9h0M434.4 476.8h0M431.9 482.1h0M442.8 482.8h0M445.8 475.3h0M445.8 492.7h0M438.1 492.2h0M439.9 518.4h0M442.2 486.5h0M445.0 455.4h0M447.9 467.7h0M437.3 491.0h0M424.6 477.4h0M437.0 471.2h0M432.7 463.8h0M448.9 478.4h0M435.2 487.6h0M429.7 479.4h0M444.6 487.2h0M438.8 497.8h0M453.8 475.2h0M431.5 478.4h0M441.6 464.8h0M429.5 492.1h0M424.0 483.0h0M445.4 485.3h0M435.9 504.2h0M435.1 472.7h0M443.8 470.7h0M428.4 491.4h0M428.8 482.3h0M457.5 445.7h0M445.4 492.9h0M431.6 476.7h0M434.9 470.1h0M443.1 467.3h0M447.0 473.7h0M449.4 473.7h0M435.5 483.6h0M437.4 488.8h0M437.5 474.7h0M433.6 463.0h0M437.6 490.8h0M446.1 479.6h0M446.6 485.3h0M447.4 474.8h0M449.3 477.9h0M431.9 480.0h0M437.5 465.7h0M431.7 475.0h0M442.6 494.3h0M428.2 471.9h0M434.8 482.6h0M446.4 497.4h0M452.0 485.8h0M440.6 476.7h0M448.6 478.5h0M433.8 492.1h0M437.4 465.5h0M449.5 498.7h0M451.5 487.3h0M436.4 472.5h0M448.2 491.3h0M454.9 474.1h0M446.9 472.4h0M445.4 491.5h0M450.5 503.9h0M443.1 455.7h0M450.2 486.5h0M439.5 480.4h0M450.8 477.2h0M429.0 484.8h0M445.2 462.7h0M440.9 492.7h0M449.2 499.1h0M437.0 490.6h0M441.7 512.7h0M440.0 478.9h0M449.1 491.7h0M433.6 468.1h0M432.2 502.2h0M445.9 481.0h0M438.3 458.5h0M440.5 512.8h0M432.4 481.0h0M437.4 482.4h0M426.0 482.2h0M439.2 486.3h0M429.8 472.0h0M440.5 483.3h0M444.0 482.8h0M436.8 458.9h0M433.9 479.9h0M449.8 465.7h0M446.7 473.4h0M429.8 480.0h0M442.3 497.7h0M435.0 468.5h0M439.3 484.5h0M434.6 491.6h0M446.8 472.0h0M464.0 494.3h0M443.4 496.9h0M434.5 475.3h0M435.8 478.3h0M429.5 465.3h0M437.0 483.4h0M440.0 492.8h0M443.0 496.4h0M437.5 488.1h0M451.7 474.4h0M445.1 492.2h0M448.4 478.2h0M437.7 470.2h0M454.3 494.2h0M442.5 478.3h0M448.5 478.1h0M425.4 460.0h0M456.6 482.6h0M440.8 494.0h0M431.0 481.0h0M441.2 468.0h0M439.7 468.5h0M441.2 484.9h0M437.1 478.4h0M427.2 480.6h0M451.4 474.5h0M441.7 500.3h0M437.9 463.0h0M438.3 504.7h0M444.6 467.6h0M447.9 478.9h0M442.7 502.4h0M434.9 462.9h0M444.1 501.2h0M438.9 475.5h0M441.4 485.9h0M448.2 483.1h0M447.5 467.1h0M456.0 487.1h0M460.8 488.2h0M425.7 496.9h0M441.3 472.1h0M432.4 475.8h0M440.9 480.7h0M439.2 446.7h0M450.6 487.1h0M436.7 486.1h0M431.4 476.4h0M446.1 481.5h0M443.5 482.3h0M447.2 501.8h0M422.7 468.5h0M448.8 459.2h0M445.6 483.0h0M435.3 479.7h0M439.9 500.4h0M435.6 468.8h0M435.3 484.1h0M438.6 464.2h0M438.6 464.5h0M441.3 471.7h0M432.8 487.5h0M436.7 480.4h0M424.1 463.5h0M424.9 476.4h0M443.4 491.4h0M444.7 491.2h0M438.7 460.8h0M432.2 497.4h0M450.7 471.3h0M444.4 505.7h0M435.8 472.4h0M437.6 479.6h0M443.7 471.3h0M446.2 489.1h0M455.6 456.2h0M452.8 485.0h0M440.8 475.6h0M444.4 467.2h0M431.1 474.5h0M457.9 504.1h0M460.0 483.2h0M446.3 465.2h0M430.1 484.4h0M446.5 471.6h0M440.5 462.3h0M427.6 458.6h0M454.8 467.3h0M444.2 466.9h0M436.0 474.6h0M448.5 489.7h0M439.1 465.3h0M445.5 480.6h0M449.2 488.9h0M424.2 481.7h0M435.0 476.8h0M437.5 469.5h0M451.5 469.0h0M429.9 510.2h0M435.5 465.4h0M424.9 486.2h0M433.7 493.4h0M441.4 468.4h0M445.4 466.4h0M430.2 479.4h0M438.0 495.8h0M448.0 490.2h0M433.9 474.5h0M456.7 476.9h0M428.8 454.3h0M430.1 482.2h0M443.1 481.2h0M455.6 490.0h0M432.8 440.8h0M437.8 477.9h0M439.6 490.1h0M437.5 477.9h0M452.1 473.8h0M439.5 477.4h0M437.9 495.7h0M458.0 489.0h0M426.1 477.8h0M450.7 475.5h0M446.9 454.2h0M436.9 458.6h0M443.1 473.4h0M436.7 445.5h0M446.3 469.1h0M445.3 484.8h0M420.6 473.8h0M449.3 516.9h0M439.7 480.9h0M438.0 510.1h0M434.9 483.0h0M442.2 477.2h0M446.8 478.5h0M440.7 501.9h0M443.9 482.3h0M434.3 471.5h0M436.6 481.4h0M436.8 482.9h0M446.9 479.9h0M441.4 471.8h0M436.8 471.8h0M455.2 471.5h0M426.5 467.1h0" stroke="#bebebe" stroke-width="2.00" stroke-linecap="round" fill="none"/>
<line x1="382.7" y1="482.0" x2="500.8" y2="482.0" stroke="#1a1a1a" stroke-width="1.0" stroke-dasharray="1.3 2.5"/>
<line x1="441.9" y1="421.2" x2="441.9" y2="524.1" stroke="#1a1a1a" stroke-width="1.0" stroke-dasharray="1.3 2.5"/>
<line x1="382.7" y1="421.2" x2="382.7" y2="524.7" stroke="#3a3a3a" stroke-width="1.25"/>
<line x1="382.1" y1="524.1" x2="500.8" y2="524.1" stroke="#3a3a3a" stroke-width="1.25"/>
<line x1="380.1" y1="424.0" x2="382.7" y2="424.0" stroke="#333" stroke-width="1"/>
<text x="364.5" y="427.6" font-size="9.6" fill="#1e1e1e" stroke="#1e1e1e" textLength="13.9" lengthAdjust="spacingAndGlyphs">1.0</text>
<line x1="380.1" y1="453.0" x2="382.7" y2="453.0" stroke="#333" stroke-width="1"/>
<text x="364.6" y="456.6" font-size="9.6" fill="#1e1e1e" stroke="#1e1e1e" textLength="13.9" lengthAdjust="spacingAndGlyphs">0.5</text>
<line x1="380.1" y1="482.0" x2="382.7" y2="482.0" stroke="#333" stroke-width="1"/>
<text x="364.5" y="485.6" font-size="9.6" fill="#1e1e1e" stroke="#1e1e1e" textLength="13.9" lengthAdjust="spacingAndGlyphs">0.0</text>
<line x1="380.1" y1="511.0" x2="382.7" y2="511.0" stroke="#333" stroke-width="1"/>
<text x="361.4" y="514.6" font-size="9.6" fill="#1e1e1e" stroke="#1e1e1e" textLength="17.0" lengthAdjust="spacingAndGlyphs">-0.5</text>
<line x1="387.8" y1="524.1" x2="387.8" y2="526.7" stroke="#333" stroke-width="1"/>
<text x="376.0" y="535.6" font-size="10.32" fill="#1e1e1e" stroke="#1e1e1e" textLength="24.1" lengthAdjust="spacingAndGlyphs">-0.50</text>
<line x1="414.8" y1="524.1" x2="414.8" y2="526.7" stroke="#333" stroke-width="1"/>
<text x="403.1" y="535.6" font-size="10.32" fill="#1e1e1e" stroke="#1e1e1e" textLength="24.1" lengthAdjust="spacingAndGlyphs">-0.25</text>
<line x1="441.9" y1="524.1" x2="441.9" y2="526.7" stroke="#333" stroke-width="1"/>
<text x="431.8" y="535.6" font-size="10.32" fill="#1e1e1e" stroke="#1e1e1e" textLength="20.7" lengthAdjust="spacingAndGlyphs">0.00</text>
<line x1="469.0" y1="524.1" x2="469.0" y2="526.7" stroke="#333" stroke-width="1"/>
<text x="458.9" y="535.6" font-size="10.32" fill="#1e1e1e" stroke="#1e1e1e" textLength="20.7" lengthAdjust="spacingAndGlyphs">0.25</text>
<line x1="496.0" y1="524.1" x2="496.0" y2="526.7" stroke="#333" stroke-width="1"/>
<text x="486.0" y="535.6" font-size="10.32" fill="#1e1e1e" stroke="#1e1e1e" textLength="20.7" lengthAdjust="spacingAndGlyphs">0.50</text>
<text x="425.5" y="545.5" font-size="10.46" fill="#1e1e1e" stroke="#1e1e1e" textLength="48.0" lengthAdjust="spacingAndGlyphs">Bulk_LFC</text>
<text x="387.7" y="435.9" font-size="9.01" fill="#1e1e1e" stroke="#1e1e1e" textLength="87.3" lengthAdjust="spacingAndGlyphs"><tspan font-style="italic">R</tspan> = −0.013, <tspan font-style="italic">p</tspan> = 0.41</text>
<text x="470.6" y="452.9" font-size="11.63" font-weight="bold" textLength="29.4" lengthAdjust="spacingAndGlyphs">OPC</text>
<text x="462.6" y="517.8" font-size="7.41" font-weight="bold" fill="#2a2a2a" textLength="38.6" lengthAdjust="spacingAndGlyphs">N = 4157</text>
<path d="M610.7 464.7h0M578.3 480.0h0M609.1 462.7h0M605.6 422.1h0M613.4 457.5h0M605.1 499.3h0M621.0 460.2h0M604.9 483.2h0M636.8 457.1h0M598.5 463.9h0M613.4 491.7h0M602.4 473.9h0M610.3 472.8h0M625.7 459.2h0M595.2 456.0h0M601.0 490.3h0M628.1 474.8h0M593.2 486.9h0M613.5 465.5h0M624.6 444.2h0M607.9 464.9h0M636.3 459.7h0M632.4 479.4h0M617.8 433.7h0M616.7 442.9h0M602.0 485.4h0M629.2 466.9h0M623.2 486.1h0M623.9 483.4h0M584.6 480.6h0M650.7 486.6h0M638.2 465.7h0M619.7 469.1h0M612.8 478.9h0M615.7 453.0h0M582.7 466.9h0M608.9 453.3h0M612.7 519.8h0M629.5 463.7h0M583.5 480.2h0M608.3 478.0h0M603.1 472.5h0M652.2 466.3h0M610.1 479.2h0M647.7 474.2h0M629.0 509.4h0M594.0 476.0h0M590.7 485.0h0M613.1 513.4h0M605.0 480.7h0M566.5 476.2h0M602.6 490.6h0M610.8 499.4h0M557.9 499.9h0M614.4 479.8h0M597.0 471.4h0M605.4 509.9h0M607.0 457.2h0M608.8 441.9h0M604.0 452.1h0M556.9 462.5h0M613.2 515.8h0M637.8 462.5h0M611.1 443.4h0M604.7 474.9h0M614.4 452.9h0M607.3 483.1h0M610.7 458.9h0M610.5 493.6h0M625.2 444.4h0M602.2 485.5h0M624.9 514.9h0M617.9 492.0h0M584.6 483.5h0M618.9 472.0h0M607.6 477.7h0M623.0 451.3h0M619.5 483.3h0M609.7 484.8h0M612.0 487.5h0M612.7 483.2h0M628.4 473.2h0M609.8 472.8h0M595.6 458.7h0M638.3 500.3h0M600.2 471.8h0M602.0 482.7h0M609.0 442.0h0M625.5 468.7h0M609.7 455.4h0M607.2 494.3h0M616.5 449.9h0M602.9 474.2h0M600.9 489.8h0M581.4 459.0h0M619.9 429.5h0M619.8 465.4h0M606.6 493.8h0M620.5 462.1h0M620.1 469.4h0M586.1 478.5h0M619.3 476.5h0M632.0 474.7h0M608.9 483.4h0M627.4 494.2h0M616.9 466.6h0M620.0 468.4h0M590.4 499.5h0M610.1 485.3h0M621.2 464.7h0M600.3 471.9h0M605.0 470.6h0M599.4 440.2h0M604.3 480.6h0M610.5 508.9h0M596.3 479.5h0M623.5 478.9h0M613.0 477.1h0M576.6 450.0h0M618.7 491.0h0M585.8 481.8h0M610.9 462.6h0M613.9 493.6h0M593.0 477.5h0M599.4 486.4h0M605.1 479.4h0M614.5 492.5h0M617.0 451.7h0M614.4 458.5h0M596.1 486.0h0M618.2 465.8h0M605.7 469.9h0M624.5 461.1h0M609.8 451.1h0M608.0 462.0h0M623.1 483.4h0M618.6 484.1h0M620.7 465.9h0M621.6 461.6h0M598.9 484.7h0M610.8 476.1h0M607.9 492.5h0M612.6 474.8h0M614.0 473.1h0M607.4 474.8h0M603.8 466.6h0M597.5 485.4h0M607.5 460.3h0M610.9 477.9h0M625.3 508.2h0M620.3 489.2h0M596.8 496.3h0M618.1 485.6h0M610.2 475.7h0M626.0 471.9h0M622.8 479.9h0M595.8 482.9h0M617.4 463.9h0M619.0 480.4h0M617.5 459.8h0M616.9 489.5h0M603.5 472.3h0M616.1 465.8h0M618.0 453.8h0M619.8 467.3h0M605.4 485.0h0M608.1 477.4h0M612.3 459.7h0M613.5 479.3h0M615.7 498.3h0M602.6 493.7h0M614.3 472.8h0M606.1 478.0h0M598.1 497.5h0M614.1 485.5h0M623.5 474.4h0M609.9 483.1h0M628.8 452.0h0M609.1 464.2h0M620.3 453.6h0M594.1 494.3h0M617.6 481.0h0M608.0 508.1h0M601.0 489.2h0M622.8 474.5h0M603.3 483.1h0M606.7 474.2h0M615.5 489.5h0M605.8 483.8h0M610.6 479.6h0M607.5 465.8h0M618.6 484.3h0M608.3 472.1h0M616.2 478.8h0M618.5 435.7h0M612.2 479.7h0M618.4 473.4h0M616.3 487.8h0M607.6 470.7h0M616.1 466.7h0M605.8 460.6h0M594.1 488.2h0M599.8 487.0h0M617.0 446.4h0M614.9 460.4h0M624.8 456.5h0M609.0 466.6h0M617.5 471.3h0M619.2 469.2h0M616.6 472.1h0M609.9 477.6h0M613.8 490.2h0M618.7 484.9h0M612.1 461.0h0M621.0 468.1h0M588.7 490.5h0M606.4 494.3h0M609.3 472.9h0M620.2 475.2h0M597.9 483.2h0M598.0 458.8h0M618.2 456.1h0M609.1 483.9h0M601.2 464.4h0M614.7 469.2h0M615.0 482.8h0M605.4 474.6h0M607.8 485.0h0M621.8 458.3h0M612.9 476.2h0M618.4 488.0h0M601.9 478.3h0M613.2 476.9h0M617.3 495.1h0M608.4 475.4h0M611.4 471.9h0M620.7 485.0h0M608.0 468.7h0M612.4 441.9h0M617.3 468.9h0M619.3 471.4h0M612.1 454.5h0M614.6 483.9h0M604.7 477.8h0M604.4 475.9h0M609.1 479.3h0M615.0 488.2h0M614.4 430.6h0M612.5 491.9h0M619.0 479.7h0M620.9 468.4h0M607.3 487.8h0M616.9 457.9h0M604.2 474.6h0M613.8 454.7h0M610.8 477.3h0M606.7 489.9h0M625.3 459.1h0M604.7 477.9h0M608.0 493.1h0M618.3 468.6h0M621.4 494.1h0M607.0 474.5h0M609.8 490.5h0M604.9 475.6h0M616.6 478.0h0M601.8 459.1h0M617.5 481.9h0M614.3 506.1h0M611.8 479.7h0M609.1 490.5h0M606.3 472.8h0M623.5 478.6h0M606.7 491.7h0M610.8 457.0h0M607.6 490.0h0M615.0 474.0h0M614.7 470.9h0M606.2 465.4h0M619.0 482.6h0M606.8 477.1h0M603.9 507.2h0M610.8 491.8h0M608.1 488.7h0M601.3 485.6h0M609.5 473.5h0M606.6 485.6h0M612.6 456.0h0M619.4 455.0h0M600.8 497.2h0M614.3 483.9h0M632.8 479.8h0M609.4 454.6h0M616.3 486.7h0M617.6 476.3h0M597.1 479.5h0M601.9 496.9h0M610.6 482.9h0M616.2 459.6h0M608.3 466.3h0M613.5 499.0h0M604.8 469.9h0M593.9 468.1h0M609.0 495.2h0M610.3 478.8h0M620.2 482.7h0M611.8 473.4h0M608.8 491.2h0M607.4 471.9h0M618.9 490.1h0M611.5 455.6h0M599.4 483.8h0M600.2 507.9h0M608.2 471.3h0M597.6 484.0h0M611.4 478.2h0M607.5 487.0h0M613.3 471.7h0M620.8 463.7h0M607.2 479.7h0M599.1 479.9h0M606.7 460.4h0M614.2 472.2h0M615.2 470.9h0M609.3 473.9h0M620.8 489.4h0M618.4 472.3h0M609.6 452.5h0M616.4 475.6h0M600.8 480.5h0M606.8 476.8h0M608.2 483.4h0M609.0 472.3h0M596.6 469.9h0M611.3 492.3h0M597.0 477.2h0M594.6 495.3h0M617.1 458.0h0M622.9 488.6h0M598.4 490.5h0M605.9 487.4h0M615.5 456.4h0M609.3 480.4h0M599.1 491.2h0M614.6 469.6h0M614.5 485.2h0M622.0 467.0h0M610.8 462.9h0M611.7 472.0h0M605.6 476.2h0M607.5 483.5h0M607.5 469.7h0M611.5 454.1h0M618.5 488.8h0M617.4 478.1h0M614.5 468.9h0M602.9 468.8h0M603.3 468.3h0M605.3 443.2h0M603.1 488.4h0M618.1 478.3h0M613.2 479.6h0M609.6 510.2h0M609.4 482.8h0M612.0 486.8h0M601.0 465.3h0M603.0 477.4h0M608.2 470.3h0M606.8 475.2h0M612.8 465.8h0M617.0 474.2h0M610.6 471.0h0M603.6 450.9h0M614.9 475.8h0M624.7 498.0h0M605.4 485.4h0M596.0 459.1h0M602.7 479.3h0M608.5 461.2h0M607.3 511.8h0M623.8 477.3h0M607.3 464.4h0M608.8 476.8h0M618.0 501.2h0M610.2 464.7h0M618.3 477.7h0M616.3 477.4h0M616.7 479.8h0M620.6 470.1h0M612.4 490.7h0M606.7 482.5h0M613.6 472.1h0M594.3 471.8h0M607.9 495.0h0M601.0 484.7h0M612.2 484.5h0M612.2 469.6h0M606.0 486.6h0M605.3 471.5h0M610.5 450.8h0M620.4 477.1h0M612.2 473.0h0M607.1 491.7h0M614.0 455.3h0M611.5 475.4h0M606.3 475.7h0M597.7 483.6h0M628.6 485.4h0M611.3 479.0h0M596.8 444.6h0M628.7 488.3h0M617.2 497.8h0M604.5 474.7h0M617.9 507.6h0M607.2 477.8h0M608.4 505.5h0M599.7 490.2h0M612.5 456.7h0M603.0 485.0h0M601.4 476.8h0M603.0 469.4h0M607.4 484.5h0M605.7 474.2h0M612.3 490.0h0M595.8 465.2h0M611.4 483.8h0M628.3 461.9h0M618.5 489.4h0M615.9 480.1h0M612.5 495.6h0M601.0 484.3h0M631.2 455.4h0M612.5 482.4h0M603.2 468.7h0M605.9 477.5h0M618.1 475.3h0M598.4 455.6h0M617.5 489.7h0M622.8 481.6h0M622.0 476.4h0M616.7 475.9h0M608.9 492.1h0M605.8 472.5h0M612.9 454.8h0M604.1 489.9h0M623.4 474.4h0M605.2 490.7h0M623.3 460.1h0M625.8 468.5h0M601.6 486.4h0M586.1 476.5h0M612.4 481.0h0M605.6 478.2h0M619.0 491.5h0M613.1 476.8h0M600.0 468.1h0M611.1 463.2h0M619.1 468.7h0M598.2 467.1h0M616.9 492.3h0M620.4 481.0h0M611.0 461.3h0M607.2 462.5h0M614.9 480.7h0M612.6 467.6h0M616.9 490.0h0M614.1 467.6h0M599.0 475.9h0M622.0 468.7h0M601.7 456.8h0M612.4 479.8h0M607.4 460.5h0M624.8 469.1h0M612.4 479.4h0M615.0 471.3h0M609.4 472.8h0M621.1 507.8h0M610.6 493.0h0M604.0 487.7h0M594.5 467.6h0M604.2 462.8h0M613.9 494.2h0M610.9 474.8h0M621.7 484.8h0M610.5 461.6h0M619.7 476.9h0M622.6 471.7h0M614.3 477.2h0M610.0 489.2h0M606.7 498.5h0M621.5 468.4h0M612.1 496.2h0M605.9 499.9h0M607.7 481.5h0M608.7 477.0h0M607.4 487.5h0M614.8 481.4h0M608.2 479.8h0M622.2 478.2h0M613.2 468.7h0M605.2 499.4h0M614.5 475.1h0M612.9 470.7h0M606.6 471.1h0M617.3 489.3h0M598.1 444.1h0M591.0 485.6h0M617.6 485.3h0M605.6 472.9h0M615.3 477.7h0M612.5 492.6h0M615.0 487.7h0M616.0 468.6h0M612.3 467.5h0M607.4 467.4h0M605.6 473.4h0M606.8 470.6h0M617.0 461.7h0M613.4 479.2h0M623.2 476.2h0M611.5 471.7h0M617.6 458.4h0M616.7 459.5h0M621.7 487.0h0M597.9 472.9h0M614.4 472.1h0M611.6 472.7h0M616.3 474.7h0M604.6 480.0h0M617.5 465.2h0M608.4 486.6h0M599.1 486.2h0M608.5 462.7h0M621.7 489.3h0M604.8 482.0h0M616.4 462.8h0M613.6 478.9h0M621.3 459.0h0M619.3 460.1h0M611.0 487.6h0M611.2 495.3h0M608.2 471.4h0M615.1 490.6h0M607.3 452.9h0M611.7 482.0h0M599.4 455.8h0M597.3 462.5h0M604.1 473.1h0M600.1 465.5h0M608.1 481.9h0M623.4 472.2h0M614.5 474.6h0M606.3 457.0h0M607.8 456.7h0M607.4 487.8h0M601.9 473.0h0M626.7 481.2h0M610.8 474.2h0M614.0 483.0h0M623.1 489.6h0M610.5 486.4h0M617.6 464.0h0M610.3 481.6h0M622.1 486.4h0M614.8 480.8h0M629.9 489.1h0M603.7 492.8h0M619.7 467.2h0M603.5 479.7h0M611.3 484.2h0M608.5 467.6h0M604.7 435.4h0M602.5 479.2h0M620.2 483.6h0M615.7 486.3h0M626.8 493.5h0M609.5 460.4h0M614.9 482.2h0M601.0 466.7h0M618.0 490.9h0M613.6 470.2h0M606.6 465.4h0M616.4 486.2h0M600.1 461.6h0M601.8 474.6h0M620.5 469.0h0M613.4 470.9h0M616.1 471.7h0M611.4 467.7h0M618.0 475.4h0M603.1 461.7h0M615.8 467.6h0M613.1 487.9h0M614.1 482.0h0M610.4 470.4h0M628.0 479.6h0M604.5 457.8h0M620.5 479.4h0M601.9 492.2h0M607.1 488.0h0M600.5 472.9h0M606.1 492.0h0M608.8 465.2h0M621.7 467.5h0M616.3 474.2h0M604.5 473.9h0M614.0 515.5h0M612.9 490.6h0M610.7 476.3h0M613.0 478.3h0M624.7 465.4h0M616.3 475.3h0M618.9 466.3h0M599.7 479.5h0M613.4 468.9h0M620.1 481.1h0M622.3 481.3h0M612.3 461.1h0M614.9 451.7h0M607.7 480.3h0M613.3 482.6h0M615.3 482.3h0M605.2 461.1h0M621.9 444.4h0M609.4 470.1h0M617.4 488.4h0M622.4 450.1h0M607.4 503.9h0M608.9 476.4h0M615.0 476.6h0M596.3 477.8h0M602.0 481.2h0M614.6 478.0h0M610.6 484.0h0M600.4 475.6h0M616.9 463.0h0M609.8 470.7h0M607.7 464.6h0M613.9 456.4h0M605.3 458.5h0M619.3 476.6h0M610.8 472.2h0M606.1 474.5h0M614.2 466.8h0M606.7 461.2h0M621.6 470.3h0M594.4 476.0h0M614.9 483.1h0M609.0 489.0h0M592.5 463.4h0M618.1 480.6h0M603.5 458.4h0M626.0 474.7h0M613.9 468.8h0M599.0 465.0h0M602.3 481.6h0M610.6 475.7h0M606.5 494.9h0M603.1 470.1h0M613.5 440.1h0M608.7 472.7h0M619.9 495.2h0M587.4 460.9h0M609.2 474.3h0M604.9 460.1h0M607.3 485.6h0M613.5 467.8h0M600.9 464.6h0M604.4 493.9h0M616.6 459.4h0M608.7 487.5h0M604.6 480.0h0M597.0 492.6h0M611.8 472.8h0M616.4 484.4h0M614.2 477.0h0M617.5 477.5h0M617.9 488.0h0M603.7 463.7h0M619.1 464.2h0M608.2 480.1h0M616.3 469.3h0M605.5 498.0h0M618.5 470.5h0M604.3 480.5h0M610.8 494.3h0M619.8 481.4h0M625.7 463.7h0M607.7 479.2h0M620.2 480.7h0M629.1 459.4h0M609.5 472.2h0M607.6 456.8h0M615.6 462.6h0M615.3 492.3h0M627.6 492.4h0M615.7 478.5h0M607.0 469.7h0M617.0 480.7h0M627.2 468.6h0M613.7 475.3h0M605.5 470.6h0M608.5 483.2h0M620.1 465.4h0M603.5 484.0h0M617.2 463.7h0M613.6 485.5h0M617.3 478.6h0M611.9 468.2h0M608.1 463.3h0M618.2 472.4h0M613.7 471.6h0M615.3 476.9h0M609.0 490.0h0M614.7 472.1h0M605.0 476.1h0M620.3 484.5h0M617.1 453.5h0M609.8 458.6h0M603.4 486.6h0M617.6 489.2h0M607.8 467.5h0M611.7 491.1h0M607.4 479.3h0M628.3 478.7h0M611.5 467.7h0M619.0 460.2h0M606.2 464.2h0M608.0 474.1h0M592.9 482.1h0M616.5 483.6h0M607.5 449.6h0M630.1 463.4h0M619.0 456.3h0M587.6 479.6h0M619.5 475.0h0M618.7 480.7h0M602.7 473.9h0M614.7 468.8h0M616.3 465.2h0M604.4 478.8h0M624.9 479.5h0M616.5 474.9h0M618.9 456.1h0M608.6 450.3h0M606.4 475.6h0M617.6 479.2h0M618.1 481.7h0M611.1 447.3h0M604.1 481.5h0M614.4 479.9h0M611.4 478.4h0M614.7 467.0h0M619.4 474.4h0M606.6 480.1h0M625.8 461.8h0M601.1 478.3h0M608.3 471.2h0M594.2 483.2h0M605.7 477.6h0M605.9 471.8h0M596.2 484.9h0M605.7 470.9h0M614.3 482.5h0M619.1 476.8h0M606.5 494.3h0M617.2 470.5h0M616.1 467.4h0M603.3 476.8h0M625.6 470.9h0M613.2 463.2h0M618.4 501.8h0M619.9 468.7h0M597.2 480.3h0M600.4 481.9h0M621.1 479.1h0M613.8 462.3h0M615.2 476.9h0M608.0 474.5h0M624.1 490.4h0M603.4 490.1h0M593.4 455.1h0M598.4 466.7h0M622.3 467.3h0M597.8 487.6h0M606.5 476.3h0M607.4 468.3h0M611.4 471.7h0M603.2 483.4h0M606.9 471.7h0M593.2 504.3h0M613.4 482.9h0M621.0 463.5h0M605.9 463.2h0M608.0 498.3h0M613.1 510.0h0M612.7 486.5h0M620.9 453.7h0M604.2 491.1h0M595.1 471.9h0M607.5 480.0h0M598.1 484.9h0M611.6 474.6h0M615.0 473.1h0M617.0 471.6h0M612.8 486.3h0M610.0 474.6h0M620.5 475.9h0M614.8 496.6h0M611.5 450.3h0M608.5 475.5h0M618.2 465.9h0M600.3 465.4h0M610.4 473.6h0M623.5 464.5h0M620.4 477.3h0M606.2 463.4h0M616.6 468.0h0M604.3 474.1h0M599.2 466.6h0M601.4 465.3h0M610.8 478.3h0M601.0 471.6h0M612.4 479.5h0M611.1 470.2h0M625.3 454.6h0M610.6 466.8h0M608.2 466.8h0M611.7 469.1h0M614.6 457.8h0M608.8 501.2h0M610.3 493.2h0M610.0 475.1h0M610.9 473.8h0M598.3 471.5h0M619.1 499.0h0M613.3 483.9h0M612.2 499.0h0M608.6 486.5h0M612.1 477.5h0M612.6 495.6h0M608.0 449.0h0M605.0 477.5h0M612.5 479.9h0M604.0 495.3h0M613.8 478.5h0M611.3 475.6h0M607.3 486.3h0M609.4 479.5h0M600.1 476.2h0M622.8 465.5h0M620.1 473.6h0M609.0 503.0h0M605.2 472.8h0M612.6 490.2h0M593.7 479.7h0M612.8 472.4h0M611.3 480.9h0M611.5 450.0h0M611.9 475.7h0M607.8 486.6h0M605.9 464.4h0M604.7 477.0h0M607.9 493.1h0M608.8 454.4h0M616.6 487.9h0M610.3 484.9h0M616.0 471.5h0M622.3 495.5h0M614.4 481.1h0M611.3 499.8h0M615.5 474.8h0M601.4 468.8h0M615.5 483.0h0M608.4 466.7h0M610.9 478.4h0M616.6 480.1h0M593.0 474.1h0M622.2 468.7h0M609.4 460.0h0M605.4 484.0h0M610.2 486.1h0M619.9 466.0h0M593.3 486.2h0M607.4 456.5h0M603.8 470.5h0M609.8 471.7h0M602.3 467.9h0M619.0 474.5h0M605.6 497.2h0M616.7 479.6h0M617.0 493.8h0M627.4 466.0h0M618.7 493.7h0M619.3 475.5h0M607.4 459.8h0M624.3 489.9h0M604.9 465.9h0M608.6 463.7h0M611.6 462.4h0M601.5 476.3h0M605.3 487.8h0M614.5 477.9h0M624.9 448.9h0M599.5 482.0h0M614.9 457.5h0M612.0 456.7h0M595.4 452.5h0M628.2 457.8h0M612.6 489.0h0M622.3 469.7h0M614.7 491.9h0M614.6 466.7h0M602.8 463.6h0M605.5 470.7h0M614.2 455.8h0M610.7 479.9h0M616.1 504.4h0M596.0 477.0h0M613.9 498.2h0M616.4 478.7h0M597.2 486.8h0M610.3 473.7h0M607.6 467.8h0M614.7 473.3h0M601.5 473.5h0M604.6 470.9h0M603.3 489.5h0M632.0 483.9h0M599.1 465.9h0M609.0 466.1h0M618.7 460.1h0M622.8 489.0h0M612.1 507.7h0M603.2 475.9h0M597.2 469.9h0M622.5 480.7h0M614.4 457.8h0M622.0 458.9h0M592.1 469.8h0M614.4 488.6h0M616.0 459.5h0M599.5 461.0h0M602.4 471.6h0M610.0 477.4h0M613.4 458.7h0M610.0 466.3h0M617.9 468.7h0M613.6 474.3h0M616.1 475.6h0M611.5 482.9h0M612.0 470.3h0M619.0 483.6h0M618.6 465.6h0M610.3 483.6h0M610.4 478.7h0M601.1 451.5h0M604.9 472.7h0M616.3 460.9h0M609.3 483.7h0M608.2 480.4h0M606.1 491.7h0M630.8 486.6h0M602.3 458.0h0M616.0 466.7h0M595.7 465.9h0M608.6 460.4h0M594.6 496.7h0M619.2 450.2h0M593.9 470.2h0M605.2 475.3h0M618.9 481.8h0M611.8 442.1h0M615.6 474.5h0M621.6 477.2h0M614.8 460.0h0M602.6 473.3h0M628.7 457.7h0M616.4 471.4h0M605.6 477.6h0M598.6 476.1h0M611.8 475.1h0M612.3 464.5h0M616.3 490.9h0M611.8 466.2h0M605.9 477.5h0M619.4 469.5h0M610.2 467.3h0M621.8 461.4h0M610.1 468.4h0M607.2 487.4h0M603.4 485.9h0M599.6 478.6h0M604.6 472.3h0M623.1 472.1h0M608.8 470.4h0M619.1 487.4h0M616.8 469.9h0M597.6 486.2h0M603.0 474.1h0M620.2 479.8h0M596.9 494.0h0M603.1 477.7h0M603.7 459.2h0M608.8 472.0h0M613.7 477.9h0M628.3 475.4h0M607.7 493.8h0M609.8 484.9h0M621.7 467.0h0M604.4 475.0h0M612.9 463.5h0M606.9 460.6h0M601.4 485.3h0M610.6 485.9h0M603.6 480.2h0M624.1 465.9h0M607.9 469.2h0M595.1 464.6h0M608.9 477.4h0M625.0 455.2h0M624.6 482.9h0M604.8 489.0h0M600.8 492.4h0M594.8 470.8h0M620.9 452.1h0M605.4 495.3h0M608.5 474.3h0M619.8 465.0h0M591.2 495.0h0M608.5 476.3h0M625.0 466.1h0M618.6 472.5h0M614.3 454.9h0M603.0 477.0h0M627.7 495.5h0M599.7 465.9h0M615.4 472.7h0M607.8 488.5h0M605.8 452.2h0M615.1 498.7h0M605.2 490.8h0M617.9 491.9h0M617.2 479.6h0M610.1 456.3h0M606.3 469.8h0M604.2 469.2h0M607.2 463.9h0M617.8 490.7h0M611.7 494.8h0M608.7 468.2h0M607.5 464.9h0M609.3 458.2h0M619.9 472.4h0M607.9 478.4h0M609.4 486.9h0M605.7 480.7h0M617.0 453.4h0M608.5 471.5h0M606.0 502.3h0M618.6 482.1h0M608.8 466.9h0M606.5 471.3h0M603.9 455.8h0M620.0 484.5h0M611.6 475.5h0M623.2 461.6h0M612.1 478.6h0M611.2 476.9h0M619.4 458.3h0M605.7 475.3h0M608.5 466.4h0M609.8 481.2h0M617.1 465.9h0M609.4 472.6h0M612.4 480.2h0M610.0 449.3h0M603.9 461.7h0M605.9 467.1h0M612.5 485.4h0M601.4 468.5h0M599.7 477.4h0M614.1 483.3h0M611.2 476.9h0M601.0 470.6h0M594.4 492.3h0M605.6 492.0h0M608.8 469.5h0M610.1 467.7h0M622.3 483.1h0M609.9 477.9h0M609.9 458.4h0M600.6 462.1h0M613.3 473.6h0M609.3 479.8h0M611.6 477.7h0M618.1 484.9h0M614.4 462.7h0M616.4 485.0h0M599.5 488.2h0M609.0 463.8h0M614.8 491.1h0M607.3 494.0h0M606.6 482.2h0M621.3 481.5h0M618.9 443.0h0M601.0 465.6h0M611.7 466.2h0M611.7 480.2h0M607.9 459.0h0M624.3 489.3h0M606.5 472.2h0M610.5 472.1h0M610.2 481.3h0M615.0 466.6h0M610.2 483.2h0M614.3 468.4h0M597.0 468.0h0M614.4 473.0h0M617.0 462.0h0M608.4 491.2h0M603.9 484.2h0M603.5 454.6h0M615.6 474.7h0M602.5 490.0h0M597.4 468.0h0M623.4 466.0h0M616.9 484.9h0M617.2 461.2h0M638.2 480.8h0M615.4 465.9h0M612.4 460.8h0M614.0 497.6h0M624.5 480.3h0M607.6 484.5h0M611.1 457.7h0M606.3 463.6h0M616.7 466.8h0M610.9 482.7h0M602.4 475.6h0M614.4 444.2h0M612.4 471.4h0M598.6 476.0h0M616.7 461.4h0M601.3 472.2h0M622.0 490.0h0M614.7 473.5h0M622.3 468.1h0M604.1 485.2h0M612.7 468.9h0M613.1 472.7h0M606.0 470.7h0M618.8 464.4h0M611.4 472.5h0M615.2 461.7h0M613.1 484.6h0M614.6 485.6h0M632.1 474.7h0M615.7 455.6h0M622.6 460.5h0M619.0 477.4h0M623.0 498.7h0M599.4 492.7h0M615.5 475.1h0M606.9 478.7h0M617.1 466.2h0M613.4 473.3h0M610.0 477.9h0M611.9 467.6h0M609.6 453.6h0M619.9 473.6h0M606.4 465.7h0M588.6 475.6h0M608.0 466.5h0M606.4 493.1h0M603.3 476.9h0M595.7 469.5h0M619.2 468.4h0M602.8 470.8h0M612.7 469.1h0M601.2 446.3h0M608.9 468.2h0M610.3 481.5h0M611.3 495.2h0M613.1 488.0h0M605.3 459.8h0M609.0 459.4h0M604.4 475.8h0M610.0 467.2h0M616.2 455.7h0M614.4 490.8h0M607.0 487.6h0M621.8 507.7h0M619.6 449.4h0M599.9 472.9h0M615.7 465.6h0M613.9 482.4h0M607.6 484.1h0M619.7 509.2h0M612.6 473.4h0M614.6 467.5h0M603.9 487.1h0M607.9 467.0h0M606.1 459.5h0M609.6 484.8h0M611.2 475.8h0M612.6 490.6h0M608.1 483.5h0M606.1 465.1h0M607.1 492.4h0M612.2 478.6h0M603.6 458.6h0M598.6 488.7h0M601.9 455.4h0M596.8 459.4h0M597.1 479.4h0M608.9 472.8h0M626.5 494.5h0M611.9 463.9h0M600.3 465.8h0M602.8 463.6h0M611.2 458.1h0M616.3 480.1h0M619.8 467.2h0M619.2 468.0h0M590.6 467.6h0M620.7 472.0h0M623.2 467.5h0M620.7 480.8h0M606.7 447.4h0M614.1 476.5h0M598.1 478.3h0M607.4 458.3h0M595.2 480.7h0M621.5 482.7h0M601.3 484.5h0M625.9 451.7h0M606.9 494.9h0M614.7 467.8h0M617.7 472.7h0M616.3 476.6h0M603.7 450.4h0M609.2 485.0h0M605.9 479.6h0M615.0 475.3h0M605.5 469.0h0M606.7 491.9h0M603.0 482.5h0M607.3 461.6h0M606.5 482.6h0M611.9 462.8h0M601.0 467.9h0M597.0 482.1h0M610.8 493.0h0M601.9 495.2h0M610.7 470.8h0M603.9 491.3h0M597.0 488.0h0M607.3 468.0h0M600.9 469.9h0M606.0 492.8h0M618.0 455.2h0M596.6 491.0h0M615.6 470.8h0M600.1 460.0h0M605.1 466.8h0M610.3 472.5h0M600.1 506.2h0M610.9 466.7h0M613.9 479.1h0M596.9 476.4h0M608.4 458.4h0M614.0 465.1h0M612.7 483.4h0M605.8 462.9h0M622.8 470.5h0M619.2 491.4h0M611.6 473.9h0M611.1 449.5h0M617.4 461.9h0M620.3 500.2h0M614.8 449.0h0M611.6 470.4h0M606.5 458.7h0M626.5 471.4h0M617.3 462.9h0M612.0 481.7h0M610.5 493.8h0M614.0 476.4h0M620.2 446.5h0M624.6 461.5h0M613.4 457.8h0M616.1 479.0h0M603.1 484.6h0M613.2 466.3h0M602.2 481.7h0M610.4 460.3h0M614.6 479.9h0M617.5 480.8h0M601.8 453.4h0M607.9 490.0h0M610.4 463.1h0M593.7 473.6h0M604.4 470.6h0M621.6 460.3h0M607.9 483.2h0M609.5 467.1h0M623.9 500.4h0M610.1 472.4h0M596.3 489.9h0M620.9 483.2h0M622.1 486.7h0M610.8 480.5h0M622.5 462.1h0M614.0 452.6h0M613.5 472.8h0M612.7 475.0h0M593.1 470.4h0M602.0 487.4h0M614.0 461.1h0M598.2 477.7h0M613.3 487.1h0M639.5 462.7h0M616.5 469.4h0M599.2 480.6h0M614.6 461.7h0M599.1 485.9h0M620.5 470.3h0M625.2 476.4h0M609.8 486.2h0M591.3 489.3h0M607.5 484.2h0M607.1 471.4h0M614.6 477.5h0M613.1 459.8h0M613.0 457.9h0M618.6 484.9h0M596.2 465.7h0M602.9 470.8h0M618.9 486.1h0M616.9 480.1h0M610.7 482.6h0M596.5 464.9h0M607.3 458.4h0M596.4 456.4h0M600.1 444.4h0M604.3 493.4h0M613.0 477.1h0M614.2 472.4h0M605.0 481.9h0M609.4 464.3h0M604.9 480.8h0M608.0 490.7h0M627.7 467.1h0M611.6 471.2h0M614.7 468.7h0M608.4 500.9h0M597.2 482.9h0M597.8 482.0h0M615.8 460.4h0M601.1 494.5h0M620.9 489.5h0M624.0 469.7h0M612.4 467.8h0M594.5 469.8h0M612.9 470.9h0M612.9 486.5h0M623.0 466.3h0M616.9 482.6h0M618.9 482.2h0M605.7 472.9h0M613.1 501.9h0M607.7 467.9h0M611.7 475.9h0M612.5 462.3h0M611.2 487.5h0M593.5 489.2h0M598.6 463.8h0M611.9 484.0h0M612.7 471.9h0M611.0 485.3h0M600.6 459.5h0M614.2 472.4h0M618.4 473.8h0M615.8 475.3h0M611.7 497.9h0M613.7 474.3h0M611.1 500.5h0M605.2 482.9h0M616.3 482.8h0M631.4 472.9h0M610.4 477.8h0M603.2 448.8h0M593.6 454.7h0M618.4 460.7h0M609.9 449.7h0M613.0 476.7h0M599.3 480.1h0M599.8 490.9h0M619.3 469.2h0M623.0 471.3h0M613.4 478.1h0M610.3 457.4h0M608.6 476.0h0M600.0 475.3h0M615.4 462.9h0M597.9 484.7h0M606.3 464.9h0M608.0 475.2h0M608.8 473.9h0M625.2 460.0h0M618.6 475.1h0M596.3 457.9h0M616.5 464.0h0M605.3 485.4h0M616.0 475.6h0M601.0 475.5h0M607.8 467.3h0M608.6 477.3h0M609.8 467.8h0M613.9 497.1h0M616.7 462.1h0M613.0 486.8h0M613.6 489.9h0M609.2 498.7h0M625.0 481.4h0M606.4 491.8h0M614.2 468.7h0M624.1 485.8h0M596.7 469.6h0M628.8 478.1h0M607.2 498.2h0M612.5 492.9h0M610.6 474.3h0M613.9 432.2h0M607.8 477.8h0M609.8 459.7h0M605.7 480.5h0M614.6 475.4h0M615.4 474.2h0M612.3 483.3h0M601.4 476.9h0M618.2 450.7h0M609.1 492.0h0M605.8 456.6h0M613.9 480.3h0M612.5 479.0h0M621.5 461.6h0M595.4 466.2h0M592.7 478.6h0M613.5 471.1h0M603.4 464.2h0M611.1 480.8h0M612.6 455.3h0M601.6 454.3h0M605.8 494.5h0M610.0 473.4h0M619.9 482.9h0M606.0 467.2h0M611.0 477.8h0M603.7 459.3h0M609.6 457.8h0M620.9 487.0h0M615.6 462.0h0M609.1 488.3h0M623.3 473.2h0M615.4 459.5h0M600.3 480.9h0M602.8 463.9h0M605.4 478.8h0M605.3 466.8h0M616.7 481.0h0M608.0 474.9h0M611.7 494.6h0M610.2 472.5h0M602.4 465.9h0M612.5 484.5h0M601.3 479.6h0M613.2 464.6h0M618.6 476.3h0M618.4 470.3h0M617.2 480.7h0M606.9 485.6h0M610.1 501.1h0M611.6 482.9h0M609.7 476.5h0M611.0 490.5h0M619.3 476.5h0M618.6 476.6h0M600.5 478.8h0M612.7 466.5h0M611.1 460.8h0M630.8 475.0h0M619.1 465.3h0M605.6 471.3h0M604.5 491.6h0M620.0 459.2h0M604.5 494.1h0M604.3 469.6h0M616.3 488.2h0M606.8 465.9h0M608.5 479.1h0M600.2 470.2h0M597.5 470.0h0M586.1 486.5h0M611.6 466.2h0M610.5 461.8h0M607.1 454.4h0M617.8 482.5h0M615.0 465.7h0M609.1 485.3h0M609.6 476.0h0M605.2 468.8h0M613.2 463.4h0M612.6 474.5h0M606.9 467.8h0M602.1 486.5h0M621.0 492.1h0M616.0 471.3h0M605.4 472.0h0M613.1 472.5h0M600.8 480.2h0M605.1 456.9h0M598.7 455.4h0M604.8 475.8h0M611.8 483.4h0M600.2 488.9h0M599.0 481.2h0M601.9 457.3h0M618.1 480.2h0M601.5 476.2h0M617.1 475.6h0M607.6 470.8h0M619.9 468.0h0M614.4 484.3h0M608.0 464.4h0M616.7 476.0h0M604.8 461.2h0M615.6 489.4h0M619.3 453.6h0M613.2 463.1h0M612.5 501.7h0M617.8 490.0h0M619.2 487.5h0M611.4 461.2h0M604.0 518.6h0M612.7 469.8h0M620.8 456.3h0M614.3 482.5h0M603.9 483.3h0M604.3 477.8h0M605.4 490.8h0M618.0 495.5h0M602.8 480.5h0M611.4 470.4h0M612.5 472.8h0M601.7 473.4h0M613.5 470.0h0M611.3 491.1h0M614.7 481.0h0M604.8 492.7h0M608.5 458.4h0M599.6 471.9h0M613.5 483.1h0M604.2 470.6h0M617.9 466.2h0M632.1 471.5h0M618.8 503.1h0M606.7 485.6h0M624.4 468.3h0M616.4 477.8h0M601.8 456.9h0M613.7 505.3h0M617.6 453.6h0M609.9 466.0h0M615.5 477.7h0M617.3 464.5h0M622.4 472.1h0M609.6 477.5h0M605.6 476.7h0M600.1 487.5h0M608.2 481.3h0M614.9 465.7h0M623.4 485.1h0M592.7 469.3h0M609.7 464.9h0M614.1 469.3h0M611.7 472.1h0M611.1 483.1h0M616.8 489.3h0M608.8 466.4h0M613.3 490.8h0M621.3 478.8h0M600.6 453.7h0M604.0 465.7h0M601.2 464.0h0M607.9 483.9h0M603.7 476.6h0M603.0 457.7h0M608.2 472.2h0M601.8 481.2h0M607.5 468.2h0M606.1 445.4h0M604.0 478.0h0M616.2 460.2h0M625.8 478.6h0M620.2 471.7h0M605.8 493.4h0M608.3 485.9h0M605.1 488.7h0M621.1 460.9h0M615.6 458.1h0M621.2 450.6h0M614.2 488.2h0M599.3 483.4h0M610.6 451.6h0M615.8 469.3h0M621.6 468.3h0M606.9 470.9h0M612.2 455.1h0M607.7 470.1h0M615.0 482.2h0M598.5 478.2h0M598.7 461.6h0M633.6 492.9h0M602.0 477.8h0M614.4 491.6h0M607.0 484.4h0M603.3 481.4h0M600.5 462.2h0M621.0 465.9h0M618.9 463.9h0M604.6 471.2h0M605.8 452.9h0M610.4 474.6h0M608.7 485.5h0M598.8 483.1h0M613.4 486.2h0M603.4 482.1h0M613.6 465.9h0M609.7 453.6h0M609.0 496.5h0M617.3 467.6h0M606.9 463.7h0M613.7 475.0h0M612.7 454.6h0M615.3 477.7h0M603.0 459.5h0M607.4 480.6h0M628.8 474.8h0M615.1 472.4h0M626.2 470.6h0M616.2 476.0h0M606.5 453.7h0M605.8 481.0h0M603.1 470.0h0M616.2 477.4h0M611.9 478.2h0M603.6 471.1h0M605.0 477.9h0M620.0 451.7h0M602.9 474.4h0M631.9 459.0h0M607.9 481.0h0M615.2 456.2h0M604.9 474.4h0M608.6 467.8h0M614.0 451.5h0M611.0 498.9h0M608.8 482.1h0M608.4 476.4h0M616.1 479.2h0M624.5 461.9h0M620.4 458.0h0M629.9 476.8h0M595.2 481.1h0M604.4 468.9h0M619.6 459.5h0M613.1 465.4h0M612.1 495.8h0M615.2 470.1h0M616.7 475.5h0M605.8 467.8h0M606.1 466.6h0M598.0 484.8h0M615.0 480.3h0M606.1 473.8h0M605.2 485.8h0M605.0 458.7h0M622.2 475.6h0M599.3 465.7h0M603.8 491.2h0M619.1 480.2h0M610.4 459.5h0M603.9 485.7h0M613.7 476.8h0M610.7 487.8h0M613.4 488.3h0M600.4 455.0h0M605.5 488.1h0M623.9 453.6h0M603.2 472.8h0M617.9 467.5h0M612.3 493.8h0M603.7 475.6h0M614.6 492.4h0M605.9 474.6h0M626.3 477.8h0M607.7 474.7h0M614.3 490.6h0M614.4 511.8h0M612.1 492.9h0M602.8 464.0h0M616.4 478.1h0M605.2 509.2h0M608.1 465.1h0M629.6 486.2h0M615.0 484.0h0M619.6 450.7h0M603.7 469.0h0M618.6 497.3h0M610.4 468.0h0M611.0 479.1h0M619.7 496.9h0M598.0 486.2h0M616.2 488.9h0M610.0 501.3h0M603.5 474.9h0M617.6 488.4h0M617.1 452.3h0M606.7 458.0h0M616.5 481.4h0M613.2 471.6h0M598.5 482.5h0M624.8 455.1h0M609.3 472.8h0M605.5 492.8h0M621.5 466.7h0M604.3 476.9h0M611.2 480.8h0M608.6 461.7h0M604.5 475.9h0M621.9 469.6h0M617.7 479.1h0M605.1 470.3h0M608.7 489.3h0M624.5 468.5h0M615.5 483.4h0M608.6 468.1h0M612.5 489.5h0M622.3 491.5h0M620.2 466.1h0M601.1 470.8h0M606.4 466.4h0M633.6 466.5h0M607.4 473.3h0M613.3 488.2h0M609.3 485.6h0M620.8 461.1h0M606.2 472.0h0M601.2 484.7h0M620.7 464.9h0M612.4 484.8h0M607.8 470.3h0M601.1 463.1h0M617.3 481.8h0M623.6 469.9h0M613.9 470.0h0M608.1 499.2h0M606.9 492.3h0M602.8 465.7h0M612.1 472.4h0M617.5 465.8h0M615.1 469.2h0M606.5 461.3h0M614.3 449.4h0M612.3 505.7h0M605.1 459.6h0M603.6 477.3h0M621.9 451.4h0M607.6 479.2h0M630.0 462.4h0" stroke="#bebebe" stroke-width="2.00" stroke-linecap="round" fill="none"/>
<line x1="547.8" y1="473.4" x2="678.7" y2="473.4" stroke="#1a1a1a" stroke-width="1.0" stroke-dasharray="1.3 2.5"/>
<line x1="613.0" y1="420.2" x2="613.0" y2="522.7" stroke="#1a1a1a" stroke-width="1.0" stroke-dasharray="1.3 2.5"/>
<line x1="547.8" y1="420.2" x2="547.8" y2="523.3" stroke="#3a3a3a" stroke-width="1.25"/>
<line x1="547.2" y1="522.7" x2="678.7" y2="522.7" stroke="#3a3a3a" stroke-width="1.25"/>
<line x1="545.2" y1="432.1" x2="547.8" y2="432.1" stroke="#333" stroke-width="1"/>
<text x="529.6" y="435.6" font-size="9.6" fill="#1e1e1e" stroke="#1e1e1e" textLength="13.9" lengthAdjust="spacingAndGlyphs">1.0</text>
<line x1="545.2" y1="452.8" x2="547.8" y2="452.8" stroke="#333" stroke-width="1"/>
<text x="529.7" y="456.3" font-size="9.6" fill="#1e1e1e" stroke="#1e1e1e" textLength="13.9" lengthAdjust="spacingAndGlyphs">0.5</text>
<line x1="545.2" y1="473.4" x2="547.8" y2="473.4" stroke="#333" stroke-width="1"/>
<text x="529.6" y="476.9" font-size="9.6" fill="#1e1e1e" stroke="#1e1e1e" textLength="13.9" lengthAdjust="spacingAndGlyphs">0.0</text>
<line x1="545.2" y1="494.0" x2="547.8" y2="494.0" stroke="#333" stroke-width="1"/>
<text x="526.5" y="497.6" font-size="9.6" fill="#1e1e1e" stroke="#1e1e1e" textLength="17.0" lengthAdjust="spacingAndGlyphs">-0.5</text>
<line x1="545.2" y1="514.7" x2="547.8" y2="514.7" stroke="#333" stroke-width="1"/>
<text x="526.5" y="518.2" font-size="9.6" fill="#1e1e1e" stroke="#1e1e1e" textLength="17.0" lengthAdjust="spacingAndGlyphs">-1.0</text>
<line x1="553.4" y1="522.7" x2="553.4" y2="525.3" stroke="#333" stroke-width="1"/>
<text x="541.8" y="535.1" font-size="10.17" fill="#1e1e1e" stroke="#1e1e1e" textLength="23.7" lengthAdjust="spacingAndGlyphs">-0.50</text>
<line x1="583.2" y1="522.7" x2="583.2" y2="525.3" stroke="#333" stroke-width="1"/>
<text x="571.6" y="535.1" font-size="10.17" fill="#1e1e1e" stroke="#1e1e1e" textLength="23.7" lengthAdjust="spacingAndGlyphs">-0.25</text>
<line x1="613.0" y1="522.7" x2="613.0" y2="525.3" stroke="#333" stroke-width="1"/>
<text x="603.1" y="535.1" font-size="10.17" fill="#1e1e1e" stroke="#1e1e1e" textLength="20.4" lengthAdjust="spacingAndGlyphs">0.00</text>
<line x1="642.8" y1="522.7" x2="642.8" y2="525.3" stroke="#333" stroke-width="1"/>
<text x="632.9" y="535.1" font-size="10.17" fill="#1e1e1e" stroke="#1e1e1e" textLength="20.4" lengthAdjust="spacingAndGlyphs">0.25</text>
<line x1="672.6" y1="522.7" x2="672.6" y2="525.3" stroke="#333" stroke-width="1"/>
<text x="662.7" y="535.1" font-size="10.17" fill="#1e1e1e" stroke="#1e1e1e" textLength="20.4" lengthAdjust="spacingAndGlyphs">0.50</text>
<text x="593.9" y="545.8" font-size="10.74" fill="#1e1e1e" stroke="#1e1e1e" textLength="47.6" lengthAdjust="spacingAndGlyphs">Bulk_LFC</text>
<text x="553.7" y="434.7" font-size="9.45" fill="#1e1e1e" stroke="#1e1e1e" textLength="87.8" lengthAdjust="spacingAndGlyphs"><tspan font-style="italic">R</tspan> = 0.022, <tspan font-style="italic">p</tspan> = 0.33</text>
<text x="649.5" y="454.8" font-size="12.06" font-weight="bold" textLength="28.4" lengthAdjust="spacingAndGlyphs">End</text>
<text x="636.3" y="517.2" font-size="7.99" font-weight="bold" fill="#2a2a2a" textLength="41.9" lengthAdjust="spacingAndGlyphs">N = 1927</text>
<text x="1.7" y="583.4" font-size="19.82" font-weight="bold" textLength="10.5" lengthAdjust="spacingAndGlyphs">e</text>
<rect x="76.8" y="589.0" width="102.1" height="6.6" fill="#5ab3d9"/>
<rect x="128.1" y="589.0" width="50.8" height="6.6" fill="#c18fcb"/>
<rect x="198.4" y="589.0" width="103.6" height="6.6" fill="#5ab3d9"/>
<rect x="250.1" y="589.0" width="51.9" height="6.6" fill="#c18fcb"/>
<g shape-rendering="crispEdges">
<rect x="76.8" y="595.4" width="25.5" height="2.4" fill="#d9c9e8"/>
<rect x="102.3" y="595.4" width="25.8" height="2.4" fill="#9787cb"/>
<rect x="128.1" y="595.4" width="25.3" height="2.4" fill="#e14031"/>
<rect x="153.4" y="595.4" width="25.5" height="2.4" fill="#f0b090"/>
<rect x="76.8" y="597.4" width="25.5" height="1.8" fill="#7b6cbd"/>
<rect x="102.3" y="597.4" width="25.8" height="1.8" fill="#bfafdb"/>
<rect x="128.1" y="597.4" width="25.3" height="1.8" fill="#f0e8ee"/>
<rect x="153.4" y="597.4" width="25.5" height="1.8" fill="#8778c3"/>
<rect x="76.8" y="598.8" width="25.5" height="1.3" fill="#7868bc"/>
<rect x="102.3" y="598.8" width="25.8" height="1.3" fill="#c1b1dc"/>
<rect x="128.1" y="598.8" width="25.3" height="1.3" fill="#efe7ed"/>
<rect x="153.4" y="598.8" width="25.5" height="1.3" fill="#8777c2"/>
<rect x="76.8" y="599.7" width="25.5" height="2.8" fill="#f0a890"/>
<rect x="102.3" y="599.7" width="25.8" height="2.8" fill="#e53d2c"/>
<rect x="128.1" y="599.7" width="25.3" height="2.8" fill="#cab3d1"/>
<rect x="153.4" y="599.7" width="25.5" height="2.8" fill="#5756b3"/>
<rect x="76.8" y="602.1" width="25.5" height="1.0" fill="#efa78f"/>
<rect x="102.3" y="602.1" width="25.8" height="1.0" fill="#e53b2a"/>
<rect x="128.1" y="602.1" width="25.3" height="1.0" fill="#c8b0d0"/>
<rect x="153.4" y="602.1" width="25.5" height="1.0" fill="#5050b0"/>
<rect x="76.8" y="602.7" width="25.5" height="1.8" fill="#e43b2a"/>
<rect x="102.3" y="602.7" width="25.8" height="1.8" fill="#f3dfdf"/>
<rect x="128.1" y="602.7" width="25.3" height="1.8" fill="#9e8ec9"/>
<rect x="153.4" y="602.7" width="25.5" height="1.8" fill="#585cb1"/>
<rect x="76.8" y="604.1" width="25.5" height="2.3" fill="#e33b2a"/>
<rect x="102.3" y="604.1" width="25.8" height="2.3" fill="#f3dfdf"/>
<rect x="128.1" y="604.1" width="25.3" height="2.3" fill="#a495ce"/>
<rect x="153.4" y="604.1" width="25.5" height="2.3" fill="#4c51ab"/>
<rect x="76.8" y="606.0" width="25.5" height="1.7" fill="#e53e2d"/>
<rect x="102.3" y="606.0" width="25.8" height="1.7" fill="#f4e0e0"/>
<rect x="128.1" y="606.0" width="25.3" height="1.7" fill="#a191cc"/>
<rect x="153.4" y="606.0" width="25.5" height="1.7" fill="#4d52ad"/>
<rect x="76.8" y="607.3" width="25.5" height="2.3" fill="#ec8f7a"/>
<rect x="102.3" y="607.3" width="25.8" height="2.3" fill="#ea7b63"/>
<rect x="128.1" y="607.3" width="25.3" height="2.3" fill="#5f5ab7"/>
<rect x="153.4" y="607.3" width="25.5" height="2.3" fill="#f0a182"/>
<rect x="76.8" y="609.2" width="25.5" height="1.8" fill="#ea8a74"/>
<rect x="102.3" y="609.2" width="25.8" height="1.8" fill="#ea7a63"/>
<rect x="128.1" y="609.2" width="25.3" height="1.8" fill="#5a55b5"/>
<rect x="153.4" y="609.2" width="25.5" height="1.8" fill="#bba8d7"/>
<rect x="76.8" y="610.6" width="25.5" height="2.3" fill="#e98973"/>
<rect x="102.3" y="610.6" width="25.8" height="2.3" fill="#e96f57"/>
<rect x="128.1" y="610.6" width="25.3" height="2.3" fill="#5a55b5"/>
<rect x="153.4" y="610.6" width="25.5" height="2.3" fill="#b6a2d4"/>
<rect x="76.8" y="612.5" width="25.5" height="1.8" fill="#e78872"/>
<rect x="102.3" y="612.5" width="25.8" height="1.8" fill="#e6684e"/>
<rect x="128.1" y="612.5" width="25.3" height="1.8" fill="#5a55b4"/>
<rect x="153.4" y="612.5" width="25.5" height="1.8" fill="#b8a4d6"/>
<rect x="76.8" y="613.9" width="25.5" height="2.3" fill="#eb8b76"/>
<rect x="102.3" y="613.9" width="25.8" height="2.3" fill="#e7684f"/>
<rect x="128.1" y="613.9" width="25.3" height="2.3" fill="#5a55b5"/>
<rect x="153.4" y="613.9" width="25.5" height="2.3" fill="#baa6d7"/>
<rect x="76.8" y="615.8" width="25.5" height="2.8" fill="#e68771"/>
<rect x="102.3" y="615.8" width="25.8" height="2.8" fill="#e7694f"/>
<rect x="128.1" y="615.8" width="25.3" height="2.8" fill="#5a55b5"/>
<rect x="153.4" y="615.8" width="25.5" height="2.8" fill="#b5a1d2"/>
<rect x="76.8" y="618.2" width="25.5" height="2.3" fill="#e68772"/>
<rect x="102.3" y="618.2" width="25.8" height="2.3" fill="#e97058"/>
<rect x="128.1" y="618.2" width="25.3" height="2.3" fill="#5f5ab7"/>
<rect x="153.4" y="618.2" width="25.5" height="2.3" fill="#b6a2d4"/>
<rect x="76.8" y="620.1" width="25.5" height="2.3" fill="#e68771"/>
<rect x="102.3" y="620.1" width="25.8" height="2.3" fill="#e5674e"/>
<rect x="128.1" y="620.1" width="25.3" height="2.3" fill="#5e59b7"/>
<rect x="153.4" y="620.1" width="25.5" height="2.3" fill="#b7a3d4"/>
<rect x="76.8" y="622.0" width="25.5" height="2.3" fill="#eb8e79"/>
<rect x="102.3" y="622.0" width="25.8" height="2.3" fill="#e9735b"/>
<rect x="128.1" y="622.0" width="25.3" height="2.3" fill="#5d58b6"/>
<rect x="153.4" y="622.0" width="25.5" height="2.3" fill="#b8a4d6"/>
<rect x="76.8" y="623.9" width="25.5" height="2.8" fill="#ea8974"/>
<rect x="102.3" y="623.9" width="25.8" height="2.8" fill="#e8694f"/>
<rect x="128.1" y="623.9" width="25.3" height="2.8" fill="#5d58b6"/>
<rect x="153.4" y="623.9" width="25.5" height="2.8" fill="#bdaad8"/>
<rect x="76.8" y="626.3" width="25.5" height="1.8" fill="#ea8a74"/>
<rect x="102.3" y="626.3" width="25.8" height="1.8" fill="#e97159"/>
<rect x="128.1" y="626.3" width="25.3" height="1.8" fill="#615cb8"/>
<rect x="153.4" y="626.3" width="25.5" height="1.8" fill="#bcaad8"/>
<rect x="76.8" y="627.7" width="25.5" height="2.8" fill="#eb8b75"/>
<rect x="102.3" y="627.7" width="25.8" height="2.8" fill="#e7684f"/>
<rect x="128.1" y="627.7" width="25.3" height="2.8" fill="#5a55b5"/>
<rect x="153.4" y="627.7" width="25.5" height="2.8" fill="#b6a2d3"/>
<rect x="76.8" y="630.1" width="25.5" height="2.3" fill="#ea8974"/>
<rect x="102.3" y="630.1" width="25.8" height="2.3" fill="#e97058"/>
<rect x="128.1" y="630.1" width="25.3" height="2.3" fill="#5d58b6"/>
<rect x="153.4" y="630.1" width="25.5" height="2.3" fill="#baa6d7"/>
<rect x="76.8" y="632.0" width="25.5" height="2.8" fill="#eb8b76"/>
<rect x="102.3" y="632.0" width="25.8" height="2.8" fill="#e86b51"/>
<rect x="128.1" y="632.0" width="25.3" height="2.8" fill="#5954b4"/>
<rect x="153.4" y="632.0" width="25.5" height="2.8" fill="#bca8d8"/>
<rect x="76.8" y="634.4" width="25.5" height="2.3" fill="#ec937f"/>
<rect x="102.3" y="634.4" width="25.8" height="2.3" fill="#e86e55"/>
<rect x="128.1" y="634.4" width="25.3" height="2.3" fill="#5c57b6"/>
<rect x="153.4" y="634.4" width="25.5" height="2.3" fill="#b5a1d3"/>
<rect x="76.8" y="636.3" width="25.5" height="2.1" fill="#e88872"/>
<rect x="102.3" y="636.3" width="25.8" height="2.1" fill="#e97159"/>
<rect x="128.1" y="636.3" width="25.3" height="2.1" fill="#5a55b4"/>
<rect x="153.4" y="636.3" width="25.5" height="2.1" fill="#b4a0d1"/>
<rect x="76.8" y="638.0" width="25.5" height="2.3" fill="#ec8f78"/>
<rect x="102.3" y="638.0" width="25.8" height="2.3" fill="#ea7a63"/>
<rect x="128.1" y="638.0" width="25.3" height="2.3" fill="#4e56ae"/>
<rect x="153.4" y="638.0" width="25.5" height="2.3" fill="#d5cbe8"/>
<rect x="76.8" y="639.9" width="25.5" height="2.3" fill="#ec8c73"/>
<rect x="102.3" y="639.9" width="25.8" height="2.3" fill="#e86a50"/>
<rect x="128.1" y="639.9" width="25.3" height="2.3" fill="#4c54ac"/>
<rect x="153.4" y="639.9" width="25.5" height="2.3" fill="#d2c8e6"/>
<rect x="76.8" y="641.8" width="25.5" height="2.3" fill="#eb8a71"/>
<rect x="102.3" y="641.8" width="25.8" height="2.3" fill="#e86d54"/>
<rect x="128.1" y="641.8" width="25.3" height="2.3" fill="#5158ae"/>
<rect x="153.4" y="641.8" width="25.5" height="2.3" fill="#d4cae8"/>
<rect x="76.8" y="643.7" width="25.5" height="2.8" fill="#ec8b72"/>
<rect x="102.3" y="643.7" width="25.8" height="2.8" fill="#e9735b"/>
<rect x="128.1" y="643.7" width="25.3" height="2.8" fill="#4e56ad"/>
<rect x="153.4" y="643.7" width="25.5" height="2.8" fill="#d5cce8"/>
<rect x="76.8" y="646.1" width="25.5" height="1.8" fill="#ec8e75"/>
<rect x="102.3" y="646.1" width="25.8" height="1.8" fill="#e6694f"/>
<rect x="128.1" y="646.1" width="25.3" height="1.8" fill="#4d55ad"/>
<rect x="153.4" y="646.1" width="25.5" height="1.8" fill="#dad1ea"/>
<rect x="76.8" y="647.5" width="25.5" height="0.9" fill="#ec9079"/>
<rect x="102.3" y="647.5" width="25.8" height="0.9" fill="#e3684e"/>
<rect x="128.1" y="647.5" width="25.3" height="0.9" fill="#4d55ac"/>
<rect x="153.4" y="647.5" width="25.5" height="0.9" fill="#cdc4e1"/>
<rect x="76.8" y="648.0" width="25.5" height="2.8" fill="#f0ab9a"/>
<rect x="102.3" y="648.0" width="25.8" height="2.8" fill="#e33e2c"/>
<rect x="128.1" y="648.0" width="25.3" height="2.8" fill="#7462ba"/>
<rect x="153.4" y="648.0" width="25.5" height="2.8" fill="#9783c7"/>
<rect x="76.8" y="650.4" width="25.5" height="2.3" fill="#e9a594"/>
<rect x="102.3" y="650.4" width="25.8" height="2.3" fill="#e13d2b"/>
<rect x="128.1" y="650.4" width="25.3" height="2.3" fill="#7866bc"/>
<rect x="153.4" y="650.4" width="25.5" height="2.3" fill="#8b75c1"/>
<rect x="76.8" y="652.3" width="25.5" height="3.3" fill="#e8a493"/>
<rect x="102.3" y="652.3" width="25.8" height="3.3" fill="#e43e2c"/>
<rect x="128.1" y="652.3" width="25.3" height="3.3" fill="#7967bc"/>
<rect x="153.4" y="652.3" width="25.5" height="3.3" fill="#8973be"/>
<rect x="76.8" y="655.2" width="25.5" height="2.3" fill="#eca795"/>
<rect x="102.3" y="655.2" width="25.8" height="2.3" fill="#e23e2c"/>
<rect x="128.1" y="655.2" width="25.3" height="2.3" fill="#715eb9"/>
<rect x="153.4" y="655.2" width="25.5" height="2.3" fill="#8872bc"/>
<rect x="76.8" y="657.1" width="25.5" height="2.3" fill="#f1b2a2"/>
<rect x="102.3" y="657.1" width="25.8" height="2.3" fill="#e13d2b"/>
<rect x="128.1" y="657.1" width="25.3" height="2.3" fill="#7664bb"/>
<rect x="153.4" y="657.1" width="25.5" height="2.3" fill="#8772bb"/>
<rect x="76.8" y="659.0" width="25.5" height="2.3" fill="#eea897"/>
<rect x="102.3" y="659.0" width="25.8" height="2.3" fill="#e54938"/>
<rect x="128.1" y="659.0" width="25.3" height="2.3" fill="#715eb9"/>
<rect x="153.4" y="659.0" width="25.5" height="2.3" fill="#937fc5"/>
<rect x="76.8" y="660.9" width="25.5" height="2.3" fill="#f1b6a7"/>
<rect x="102.3" y="660.9" width="25.8" height="2.3" fill="#e43e2c"/>
<rect x="128.1" y="660.9" width="25.3" height="2.3" fill="#7c6abe"/>
<rect x="153.4" y="660.9" width="25.5" height="2.3" fill="#9c89ca"/>
<rect x="76.8" y="662.8" width="25.5" height="2.8" fill="#f0ab99"/>
<rect x="102.3" y="662.8" width="25.8" height="2.8" fill="#e43e2d"/>
<rect x="128.1" y="662.8" width="25.3" height="2.8" fill="#715eb9"/>
<rect x="153.4" y="662.8" width="25.5" height="2.8" fill="#8974be"/>
<rect x="76.8" y="665.2" width="25.5" height="2.8" fill="#f0af9f"/>
<rect x="102.3" y="665.2" width="25.8" height="2.8" fill="#e43f2d"/>
<rect x="128.1" y="665.2" width="25.3" height="2.8" fill="#705db8"/>
<rect x="153.4" y="665.2" width="25.5" height="2.8" fill="#8a74bf"/>
<rect x="76.8" y="667.6" width="25.5" height="2.3" fill="#f1bbae"/>
<rect x="102.3" y="667.6" width="25.8" height="2.3" fill="#e23e2c"/>
<rect x="128.1" y="667.6" width="25.3" height="2.3" fill="#7764bb"/>
<rect x="153.4" y="667.6" width="25.5" height="2.3" fill="#907bc4"/>
<rect x="76.8" y="669.5" width="25.5" height="2.3" fill="#eda896"/>
<rect x="102.3" y="669.5" width="25.8" height="2.3" fill="#e23e2c"/>
<rect x="128.1" y="669.5" width="25.3" height="2.3" fill="#6f5cb8"/>
<rect x="153.4" y="669.5" width="25.5" height="2.3" fill="#9783c7"/>
<rect x="76.8" y="671.4" width="25.5" height="2.3" fill="#f0aa98"/>
<rect x="102.3" y="671.4" width="25.8" height="2.3" fill="#e43e2c"/>
<rect x="128.1" y="671.4" width="25.3" height="2.3" fill="#6e5bb7"/>
<rect x="153.4" y="671.4" width="25.5" height="2.3" fill="#8872bc"/>
<rect x="76.8" y="673.3" width="25.5" height="3.3" fill="#f1b5a6"/>
<rect x="102.3" y="673.3" width="25.8" height="3.3" fill="#e4402f"/>
<rect x="128.1" y="673.3" width="25.3" height="3.3" fill="#7765bb"/>
<rect x="153.4" y="673.3" width="25.5" height="3.3" fill="#8d77c2"/>
<rect x="76.8" y="676.2" width="25.5" height="1.2" fill="#f0aa98"/>
<rect x="102.3" y="676.2" width="25.8" height="1.2" fill="#e54735"/>
<rect x="128.1" y="676.2" width="25.3" height="1.2" fill="#6f5cb8"/>
<rect x="153.4" y="676.2" width="25.5" height="1.2" fill="#8772bb"/>
<rect x="76.8" y="677.0" width="25.5" height="2.8" fill="#e75f4d"/>
<rect x="102.3" y="677.0" width="25.8" height="2.8" fill="#eeaf9f"/>
<rect x="128.1" y="677.0" width="25.3" height="2.8" fill="#6f5fb6"/>
<rect x="153.4" y="677.0" width="25.5" height="2.8" fill="#917ec6"/>
<rect x="76.8" y="679.4" width="25.5" height="2.8" fill="#e54c37"/>
<rect x="102.3" y="679.4" width="25.8" height="2.8" fill="#eeaf9f"/>
<rect x="128.1" y="679.4" width="25.3" height="2.8" fill="#7768bb"/>
<rect x="153.4" y="679.4" width="25.5" height="2.8" fill="#9583c8"/>
<rect x="76.8" y="681.8" width="25.5" height="1.8" fill="#e44a35"/>
<rect x="102.3" y="681.8" width="25.8" height="1.8" fill="#efaf9f"/>
<rect x="128.1" y="681.8" width="25.3" height="1.8" fill="#6f5fb6"/>
<rect x="153.4" y="681.8" width="25.5" height="1.8" fill="#8b77c3"/>
<rect x="76.8" y="683.2" width="25.5" height="1.8" fill="#e65744"/>
<rect x="102.3" y="683.2" width="25.8" height="1.8" fill="#f0b0a1"/>
<rect x="128.1" y="683.2" width="25.3" height="1.8" fill="#8071bf"/>
<rect x="153.4" y="683.2" width="25.5" height="1.8" fill="#9e8ccc"/>
<rect x="76.8" y="684.6" width="25.5" height="1.8" fill="#e65440"/>
<rect x="102.3" y="684.6" width="25.8" height="1.8" fill="#f0b5a7"/>
<rect x="128.1" y="684.6" width="25.3" height="1.8" fill="#6d5eb4"/>
<rect x="153.4" y="684.6" width="25.5" height="1.8" fill="#8b77c3"/>
<rect x="76.8" y="686.0" width="25.5" height="1.8" fill="#e54c38"/>
<rect x="102.3" y="686.0" width="25.8" height="1.8" fill="#f0b2a3"/>
<rect x="128.1" y="686.0" width="25.3" height="1.8" fill="#7c6dbd"/>
<rect x="153.4" y="686.0" width="25.5" height="1.8" fill="#9986c9"/>
<rect x="76.8" y="687.4" width="25.5" height="2.3" fill="#e6523e"/>
<rect x="102.3" y="687.4" width="25.8" height="2.3" fill="#f0b4a5"/>
<rect x="128.1" y="687.4" width="25.3" height="2.3" fill="#6e5fb5"/>
<rect x="153.4" y="687.4" width="25.5" height="2.3" fill="#8b77c2"/>
<rect x="76.8" y="689.3" width="25.5" height="2.3" fill="#e44a35"/>
<rect x="102.3" y="689.3" width="25.8" height="2.3" fill="#ebac9d"/>
<rect x="128.1" y="689.3" width="25.3" height="2.3" fill="#7161b9"/>
<rect x="153.4" y="689.3" width="25.5" height="2.3" fill="#8b77c3"/>
<rect x="76.8" y="691.2" width="25.5" height="1.8" fill="#e65744"/>
<rect x="102.3" y="691.2" width="25.8" height="1.8" fill="#f0b6a8"/>
<rect x="128.1" y="691.2" width="25.3" height="1.8" fill="#6f5fb6"/>
<rect x="153.4" y="691.2" width="25.5" height="1.8" fill="#8976c0"/>
<rect x="76.8" y="692.6" width="25.5" height="2.4" fill="#e44a35"/>
<rect x="102.3" y="692.6" width="25.8" height="2.4" fill="#efb0a0"/>
<rect x="128.1" y="692.6" width="25.3" height="2.4" fill="#7262b9"/>
<rect x="153.4" y="692.6" width="25.5" height="2.4" fill="#8d79c4"/>
<rect x="76.8" y="694.6" width="25.5" height="3.3" fill="#e4624b"/>
<rect x="102.3" y="694.6" width="25.8" height="3.3" fill="#ed937f"/>
<rect x="128.1" y="694.6" width="25.3" height="3.3" fill="#5151b0"/>
<rect x="153.4" y="694.6" width="25.5" height="3.3" fill="#c7b7df"/>
<rect x="76.8" y="697.5" width="25.5" height="2.8" fill="#e96e58"/>
<rect x="102.3" y="697.5" width="25.8" height="2.8" fill="#e78772"/>
<rect x="128.1" y="697.5" width="25.3" height="2.8" fill="#5050af"/>
<rect x="153.4" y="697.5" width="25.5" height="2.8" fill="#c9b9e0"/>
<rect x="76.8" y="699.9" width="25.5" height="2.3" fill="#e7644c"/>
<rect x="102.3" y="699.9" width="25.8" height="2.3" fill="#ec8e79"/>
<rect x="128.1" y="699.9" width="25.3" height="2.3" fill="#5050af"/>
<rect x="153.4" y="699.9" width="25.5" height="2.3" fill="#c9b9e0"/>
<rect x="76.8" y="701.8" width="25.5" height="2.3" fill="#e8654d"/>
<rect x="102.3" y="701.8" width="25.8" height="2.3" fill="#e98873"/>
<rect x="128.1" y="701.8" width="25.3" height="2.3" fill="#5252b1"/>
<rect x="153.4" y="701.8" width="25.5" height="2.3" fill="#c7b7df"/>
<rect x="76.8" y="703.7" width="25.5" height="2.8" fill="#e6634b"/>
<rect x="102.3" y="703.7" width="25.8" height="2.8" fill="#ec8a74"/>
<rect x="128.1" y="703.7" width="25.3" height="2.8" fill="#5352b1"/>
<rect x="153.4" y="703.7" width="25.5" height="2.8" fill="#c7b7df"/>
<rect x="76.8" y="706.1" width="25.5" height="1.2" fill="#e5634b"/>
<rect x="102.3" y="706.1" width="25.8" height="1.2" fill="#eb8a74"/>
<rect x="128.1" y="706.1" width="25.3" height="1.2" fill="#5050b0"/>
<rect x="153.4" y="706.1" width="25.5" height="1.2" fill="#c7b7df"/>
<rect x="76.8" y="706.9" width="25.5" height="2.8" fill="#e96f59"/>
<rect x="102.3" y="706.9" width="25.8" height="2.8" fill="#e98670"/>
<rect x="128.1" y="706.9" width="25.3" height="2.8" fill="#6258b5"/>
<rect x="153.4" y="706.9" width="25.5" height="2.8" fill="#a68ec9"/>
<rect x="76.8" y="709.3" width="25.5" height="1.8" fill="#e6634b"/>
<rect x="102.3" y="709.3" width="25.8" height="1.8" fill="#ec8872"/>
<rect x="128.1" y="709.3" width="25.3" height="1.8" fill="#6258b4"/>
<rect x="153.4" y="709.3" width="25.5" height="1.8" fill="#aa92cd"/>
<rect x="76.8" y="710.7" width="25.5" height="2.3" fill="#e8664e"/>
<rect x="102.3" y="710.7" width="25.8" height="2.3" fill="#ec8872"/>
<rect x="128.1" y="710.7" width="25.3" height="2.3" fill="#6258b5"/>
<rect x="153.4" y="710.7" width="25.5" height="2.3" fill="#a58dc8"/>
<rect x="76.8" y="712.6" width="25.5" height="2.3" fill="#e8654e"/>
<rect x="102.3" y="712.6" width="25.8" height="2.3" fill="#eb8771"/>
<rect x="128.1" y="712.6" width="25.3" height="2.3" fill="#675eb7"/>
<rect x="153.4" y="712.6" width="25.5" height="2.3" fill="#af98cf"/>
<rect x="76.8" y="714.5" width="25.5" height="2.3" fill="#e7644c"/>
<rect x="102.3" y="714.5" width="25.8" height="2.3" fill="#ea8771"/>
<rect x="128.1" y="714.5" width="25.3" height="2.3" fill="#645ab6"/>
<rect x="153.4" y="714.5" width="25.5" height="2.3" fill="#a78fcb"/>
<rect x="76.8" y="716.4" width="25.5" height="2.3" fill="#e5634b"/>
<rect x="102.3" y="716.4" width="25.8" height="2.3" fill="#ed9684"/>
<rect x="128.1" y="716.4" width="25.3" height="2.3" fill="#695fb8"/>
<rect x="153.4" y="716.4" width="25.5" height="2.3" fill="#a78fcb"/>
<rect x="76.8" y="718.3" width="25.5" height="2.3" fill="#e7644c"/>
<rect x="102.3" y="718.3" width="25.8" height="2.3" fill="#ec8872"/>
<rect x="128.1" y="718.3" width="25.3" height="2.3" fill="#655bb6"/>
<rect x="153.4" y="718.3" width="25.5" height="2.3" fill="#b09ad0"/>
<rect x="76.8" y="720.2" width="25.5" height="2.8" fill="#e86750"/>
<rect x="102.3" y="720.2" width="25.8" height="2.8" fill="#e88670"/>
<rect x="128.1" y="720.2" width="25.3" height="2.8" fill="#665cb7"/>
<rect x="153.4" y="720.2" width="25.5" height="2.8" fill="#a890cc"/>
<rect x="76.8" y="722.6" width="25.5" height="1.8" fill="#e8644c"/>
<rect x="102.3" y="722.6" width="25.8" height="1.8" fill="#e98671"/>
<rect x="128.1" y="722.6" width="25.3" height="1.8" fill="#6258b4"/>
<rect x="153.4" y="722.6" width="25.5" height="1.8" fill="#ac95ce"/>
<rect x="76.8" y="724.0" width="25.5" height="2.3" fill="#e4624b"/>
<rect x="102.3" y="724.0" width="25.8" height="2.3" fill="#ed8e7a"/>
<rect x="128.1" y="724.0" width="25.3" height="2.3" fill="#6157b4"/>
<rect x="153.4" y="724.0" width="25.5" height="2.3" fill="#a992cd"/>
<rect x="76.8" y="725.9" width="25.5" height="1.3" fill="#e8664e"/>
<rect x="102.3" y="725.9" width="25.8" height="1.3" fill="#e78570"/>
<rect x="128.1" y="725.9" width="25.3" height="1.3" fill="#6158b4"/>
<rect x="153.4" y="725.9" width="25.5" height="1.3" fill="#a78fcb"/>
<rect x="76.8" y="726.8" width="25.5" height="2.3" fill="#e54839"/>
<rect x="102.3" y="726.8" width="25.8" height="2.3" fill="#efb4a4"/>
<rect x="128.1" y="726.8" width="25.3" height="2.3" fill="#645bb6"/>
<rect x="153.4" y="726.8" width="25.5" height="2.3" fill="#a38dcb"/>
<rect x="76.8" y="728.7" width="25.5" height="2.3" fill="#e65243"/>
<rect x="102.3" y="728.7" width="25.8" height="2.3" fill="#edb1a2"/>
<rect x="128.1" y="728.7" width="25.3" height="2.3" fill="#6258b5"/>
<rect x="153.4" y="728.7" width="25.5" height="2.3" fill="#a38dcb"/>
<rect x="76.8" y="730.6" width="25.5" height="1.8" fill="#e54a3b"/>
<rect x="102.3" y="730.6" width="25.8" height="1.8" fill="#efb4a4"/>
<rect x="128.1" y="730.6" width="25.3" height="1.8" fill="#6c63b9"/>
<rect x="153.4" y="730.6" width="25.5" height="1.8" fill="#a28cc9"/>
<rect x="76.8" y="732.0" width="25.5" height="1.8" fill="#e64b3c"/>
<rect x="102.3" y="732.0" width="25.8" height="1.8" fill="#efb4a4"/>
<rect x="128.1" y="732.0" width="25.3" height="1.8" fill="#675db7"/>
<rect x="153.4" y="732.0" width="25.5" height="1.8" fill="#a48ecc"/>
<rect x="76.8" y="733.4" width="25.5" height="2.2" fill="#e34535"/>
<rect x="102.3" y="733.4" width="25.8" height="2.2" fill="#f0b4a4"/>
<rect x="128.1" y="733.4" width="25.3" height="2.2" fill="#6258b5"/>
<rect x="153.4" y="733.4" width="25.5" height="2.2" fill="#a58fcc"/>
<rect x="76.8" y="735.2" width="25.5" height="1.8" fill="#ed8f7e"/>
<rect x="102.3" y="735.2" width="25.8" height="1.8" fill="#e5654e"/>
<rect x="128.1" y="735.2" width="25.3" height="1.8" fill="#7769bd"/>
<rect x="153.4" y="735.2" width="25.5" height="1.8" fill="#a890cc"/>
<rect x="76.8" y="736.6" width="25.5" height="3.3" fill="#eb836f"/>
<rect x="102.3" y="736.6" width="25.8" height="3.3" fill="#e9715b"/>
<rect x="128.1" y="736.6" width="25.3" height="3.3" fill="#695bb6"/>
<rect x="153.4" y="736.6" width="25.5" height="3.3" fill="#a78fcb"/>
<rect x="76.8" y="739.5" width="25.5" height="2.3" fill="#eb8470"/>
<rect x="102.3" y="739.5" width="25.8" height="2.3" fill="#e96f59"/>
<rect x="128.1" y="739.5" width="25.3" height="2.3" fill="#7062ba"/>
<rect x="153.4" y="739.5" width="25.5" height="2.3" fill="#a58dc8"/>
<rect x="76.8" y="741.4" width="25.5" height="2.3" fill="#ed8c79"/>
<rect x="102.3" y="741.4" width="25.8" height="2.3" fill="#e8674f"/>
<rect x="128.1" y="741.4" width="25.3" height="2.3" fill="#7366bc"/>
<rect x="153.4" y="741.4" width="25.5" height="2.3" fill="#a890cc"/>
<rect x="76.8" y="743.3" width="25.5" height="2.3" fill="#ec8875"/>
<rect x="102.3" y="743.3" width="25.8" height="2.3" fill="#e7664e"/>
<rect x="128.1" y="743.3" width="25.3" height="2.3" fill="#6a5cb8"/>
<rect x="153.4" y="743.3" width="25.5" height="2.3" fill="#ad96cf"/>
<rect x="76.8" y="745.2" width="25.5" height="2.3" fill="#e87661"/>
<rect x="102.3" y="745.2" width="25.8" height="2.3" fill="#eb806b"/>
<rect x="128.1" y="745.2" width="25.3" height="2.3" fill="#6b5db8"/>
<rect x="153.4" y="745.2" width="25.5" height="2.3" fill="#a18bc9"/>
<rect x="76.8" y="747.1" width="25.5" height="2.3" fill="#e77660"/>
<rect x="102.3" y="747.1" width="25.8" height="2.3" fill="#e97b65"/>
<rect x="128.1" y="747.1" width="25.3" height="2.3" fill="#6e60ba"/>
<rect x="153.4" y="747.1" width="25.5" height="2.3" fill="#9b85c3"/>
<rect x="76.8" y="749.0" width="25.5" height="2.3" fill="#e97761"/>
<rect x="102.3" y="749.0" width="25.8" height="2.3" fill="#e87a65"/>
<rect x="128.1" y="749.0" width="25.3" height="2.3" fill="#6d60b9"/>
<rect x="153.4" y="749.0" width="25.5" height="2.3" fill="#b19ed1"/>
<rect x="76.8" y="750.9" width="25.5" height="3.3" fill="#ec7f6a"/>
<rect x="102.3" y="750.9" width="25.8" height="3.3" fill="#ec826d"/>
<rect x="128.1" y="750.9" width="25.3" height="3.3" fill="#7264bb"/>
<rect x="153.4" y="750.9" width="25.5" height="3.3" fill="#9c85c4"/>
<rect x="76.8" y="753.8" width="25.5" height="1.8" fill="#e97761"/>
<rect x="102.3" y="753.8" width="25.8" height="1.8" fill="#eb826d"/>
<rect x="128.1" y="753.8" width="25.3" height="1.8" fill="#6a5cb7"/>
<rect x="153.4" y="753.8" width="25.5" height="1.8" fill="#9e87c7"/>
<rect x="76.8" y="755.2" width="25.5" height="2.3" fill="#ec8875"/>
<rect x="102.3" y="755.2" width="25.8" height="2.3" fill="#e97b65"/>
<rect x="128.1" y="755.2" width="25.3" height="2.3" fill="#695bb6"/>
<rect x="153.4" y="755.2" width="25.5" height="2.3" fill="#a28cc9"/>
<rect x="76.8" y="757.1" width="25.5" height="1.8" fill="#e97761"/>
<rect x="102.3" y="757.1" width="25.8" height="1.8" fill="#eb7f6a"/>
<rect x="128.1" y="757.1" width="25.3" height="1.8" fill="#695bb6"/>
<rect x="153.4" y="757.1" width="25.5" height="1.8" fill="#9d86c6"/>
<rect x="76.8" y="758.5" width="25.5" height="2.3" fill="#eb7c66"/>
<rect x="102.3" y="758.5" width="25.8" height="2.3" fill="#eb7f69"/>
<rect x="128.1" y="758.5" width="25.3" height="2.3" fill="#6f61ba"/>
<rect x="153.4" y="758.5" width="25.5" height="2.3" fill="#9e87c7"/>
<rect x="76.8" y="760.4" width="25.5" height="1.8" fill="#e97761"/>
<rect x="102.3" y="760.4" width="25.8" height="1.8" fill="#e77a64"/>
<rect x="128.1" y="760.4" width="25.3" height="1.8" fill="#7568bd"/>
<rect x="153.4" y="760.4" width="25.5" height="1.8" fill="#a893cc"/>
<rect x="76.8" y="761.8" width="25.5" height="2.8" fill="#eb7e69"/>
<rect x="102.3" y="761.8" width="25.8" height="2.8" fill="#eb7e69"/>
<rect x="128.1" y="761.8" width="25.3" height="2.8" fill="#695bb6"/>
<rect x="153.4" y="761.8" width="25.5" height="2.8" fill="#9b84c3"/>
<rect x="76.8" y="764.2" width="25.5" height="3.3" fill="#eb7b66"/>
<rect x="102.3" y="764.2" width="25.8" height="3.3" fill="#e87a65"/>
<rect x="128.1" y="764.2" width="25.3" height="3.3" fill="#695bb6"/>
<rect x="153.4" y="764.2" width="25.5" height="3.3" fill="#9f88c8"/>
<rect x="76.8" y="767.1" width="25.5" height="1.8" fill="#e97761"/>
<rect x="102.3" y="767.1" width="25.8" height="1.8" fill="#eb7d67"/>
<rect x="128.1" y="767.1" width="25.3" height="1.8" fill="#7669bd"/>
<rect x="153.4" y="767.1" width="25.5" height="1.8" fill="#a690cb"/>
<rect x="76.8" y="768.5" width="25.5" height="2.3" fill="#ed8a78"/>
<rect x="102.3" y="768.5" width="25.8" height="2.3" fill="#ec836e"/>
<rect x="128.1" y="768.5" width="25.3" height="2.3" fill="#7264bb"/>
<rect x="153.4" y="768.5" width="25.5" height="2.3" fill="#9b85c3"/>
<rect x="76.8" y="770.4" width="25.5" height="2.8" fill="#eb7862"/>
<rect x="102.3" y="770.4" width="25.8" height="2.8" fill="#eb7e69"/>
<rect x="128.1" y="770.4" width="25.3" height="2.8" fill="#7164bb"/>
<rect x="153.4" y="770.4" width="25.5" height="2.8" fill="#9c86c4"/>
<rect x="76.8" y="772.8" width="25.5" height="1.8" fill="#ed8d7b"/>
<rect x="102.3" y="772.8" width="25.8" height="1.8" fill="#eb7d67"/>
<rect x="128.1" y="772.8" width="25.3" height="1.8" fill="#7365bc"/>
<rect x="153.4" y="772.8" width="25.5" height="1.8" fill="#9b85c3"/>
<rect x="76.8" y="774.2" width="25.5" height="1.8" fill="#eb7b65"/>
<rect x="102.3" y="774.2" width="25.8" height="1.8" fill="#e87b65"/>
<rect x="128.1" y="774.2" width="25.3" height="1.8" fill="#695bb7"/>
<rect x="153.4" y="774.2" width="25.5" height="1.8" fill="#a18ac9"/>
<rect x="76.8" y="775.6" width="25.5" height="2.8" fill="#eb7964"/>
<rect x="102.3" y="775.6" width="25.8" height="2.8" fill="#ea7b66"/>
<rect x="128.1" y="775.6" width="25.3" height="2.8" fill="#6d5fb9"/>
<rect x="153.4" y="775.6" width="25.5" height="2.8" fill="#a08ac9"/>
<rect x="76.8" y="778.0" width="25.5" height="2.3" fill="#ea7862"/>
<rect x="102.3" y="778.0" width="25.8" height="2.3" fill="#ea7b65"/>
<rect x="128.1" y="778.0" width="25.3" height="2.3" fill="#6f61ba"/>
<rect x="153.4" y="778.0" width="25.5" height="2.3" fill="#9d86c6"/>
<rect x="76.8" y="779.9" width="25.5" height="2.5" fill="#ed8a78"/>
<rect x="102.3" y="779.9" width="25.8" height="2.5" fill="#eb7d68"/>
<rect x="128.1" y="779.9" width="25.3" height="2.5" fill="#7063bb"/>
<rect x="153.4" y="779.9" width="25.5" height="2.5" fill="#9a84c2"/>
<rect x="76.8" y="782.0" width="25.5" height="2.3" fill="#e86750"/>
<rect x="102.3" y="782.0" width="25.8" height="2.3" fill="#eb8a74"/>
<rect x="128.1" y="782.0" width="25.3" height="2.3" fill="#9e87cb"/>
<rect x="153.4" y="782.0" width="25.5" height="2.3" fill="#695cb7"/>
<rect x="76.8" y="783.9" width="25.5" height="2.3" fill="#e8664e"/>
<rect x="102.3" y="783.9" width="25.8" height="2.3" fill="#ec8f7a"/>
<rect x="128.1" y="783.9" width="25.3" height="2.3" fill="#a48ece"/>
<rect x="153.4" y="783.9" width="25.5" height="2.3" fill="#6e60ba"/>
<rect x="76.8" y="785.8" width="25.5" height="2.4" fill="#e86951"/>
<rect x="102.3" y="785.8" width="25.8" height="2.4" fill="#ea8973"/>
<rect x="128.1" y="785.8" width="25.3" height="2.4" fill="#9f88cc"/>
<rect x="153.4" y="785.8" width="25.5" height="2.4" fill="#695bb7"/>
</g>
<g shape-rendering="crispEdges">
<rect x="198.4" y="595.5" width="25.6" height="1.8" fill="#5050b0"/>
<rect x="224.0" y="595.5" width="26.1" height="1.8" fill="#f2d8d0"/>
<rect x="250.1" y="595.5" width="25.9" height="1.8" fill="#e54738"/>
<rect x="276.0" y="595.5" width="26.0" height="1.8" fill="#f0a890"/>
<rect x="198.4" y="596.9" width="25.6" height="0.9" fill="#5050af"/>
<rect x="224.0" y="596.9" width="26.1" height="0.9" fill="#f2d8d0"/>
<rect x="250.1" y="596.9" width="25.9" height="0.9" fill="#e54737"/>
<rect x="276.0" y="596.9" width="26.0" height="0.9" fill="#f0a890"/>
<rect x="198.4" y="597.4" width="25.6" height="2.8" fill="#c5b4dd"/>
<rect x="224.0" y="597.4" width="26.1" height="2.8" fill="#6e5eb4"/>
<rect x="250.1" y="597.4" width="25.9" height="2.8" fill="#e65349"/>
<rect x="276.0" y="597.4" width="26.0" height="2.8" fill="#f2d5cb"/>
<rect x="198.4" y="599.8" width="25.6" height="1.8" fill="#baa6d9"/>
<rect x="224.0" y="599.8" width="26.1" height="1.8" fill="#6f5fb6"/>
<rect x="250.1" y="599.8" width="25.9" height="1.8" fill="#de4338"/>
<rect x="276.0" y="599.8" width="26.0" height="1.8" fill="#e6c6ba"/>
<rect x="198.4" y="601.2" width="25.6" height="2.8" fill="#b39fd2"/>
<rect x="224.0" y="601.2" width="26.1" height="2.8" fill="#7363b9"/>
<rect x="250.1" y="601.2" width="25.9" height="2.8" fill="#e75f56"/>
<rect x="276.0" y="601.2" width="26.0" height="2.8" fill="#f2d2c6"/>
<rect x="198.4" y="603.6" width="25.6" height="2.8" fill="#b19ed0"/>
<rect x="224.0" y="603.6" width="26.1" height="2.8" fill="#9588c8"/>
<rect x="250.1" y="603.6" width="25.9" height="2.8" fill="#de4338"/>
<rect x="276.0" y="603.6" width="26.0" height="2.8" fill="#e3c4b8"/>
<rect x="198.4" y="606.0" width="25.6" height="1.9" fill="#b9a5d8"/>
<rect x="224.0" y="606.0" width="26.1" height="1.9" fill="#6e5eb4"/>
<rect x="250.1" y="606.0" width="25.9" height="1.9" fill="#ec928d"/>
<rect x="276.0" y="606.0" width="26.0" height="1.9" fill="#f2d3c9"/>
<rect x="198.4" y="607.5" width="25.6" height="1.8" fill="#d3c4e5"/>
<rect x="224.0" y="607.5" width="26.1" height="1.8" fill="#f1baa8"/>
<rect x="250.1" y="607.5" width="25.9" height="1.8" fill="#e8604a"/>
<rect x="276.0" y="607.5" width="26.0" height="1.8" fill="#645fb9"/>
<rect x="198.4" y="608.9" width="25.6" height="2.3" fill="#d4c5e5"/>
<rect x="224.0" y="608.9" width="26.1" height="2.3" fill="#efb39f"/>
<rect x="250.1" y="608.9" width="25.9" height="2.3" fill="#ea7461"/>
<rect x="276.0" y="608.9" width="26.0" height="2.3" fill="#635eb9"/>
<rect x="198.4" y="610.8" width="25.6" height="1.8" fill="#d2c3e5"/>
<rect x="224.0" y="610.8" width="26.1" height="1.8" fill="#eab09c"/>
<rect x="250.1" y="610.8" width="25.9" height="1.8" fill="#e8654f"/>
<rect x="276.0" y="610.8" width="26.0" height="1.8" fill="#5a55b5"/>
<rect x="198.4" y="612.2" width="25.6" height="2.3" fill="#d1c1e4"/>
<rect x="224.0" y="612.2" width="26.1" height="2.3" fill="#f0b5a1"/>
<rect x="250.1" y="612.2" width="25.9" height="2.3" fill="#e7604a"/>
<rect x="276.0" y="612.2" width="26.0" height="2.3" fill="#5b56b5"/>
<rect x="198.4" y="614.1" width="25.6" height="2.3" fill="#d1c2e5"/>
<rect x="224.0" y="614.1" width="26.1" height="2.3" fill="#f1bbaa"/>
<rect x="250.1" y="614.1" width="25.9" height="2.3" fill="#ea7562"/>
<rect x="276.0" y="614.1" width="26.0" height="2.3" fill="#6b66bc"/>
<rect x="198.4" y="616.0" width="25.6" height="1.9" fill="#d0c0e4"/>
<rect x="224.0" y="616.0" width="26.1" height="1.9" fill="#f0b5a1"/>
<rect x="250.1" y="616.0" width="25.9" height="1.9" fill="#e96753"/>
<rect x="276.0" y="616.0" width="26.0" height="1.9" fill="#5853b1"/>
<rect x="198.4" y="617.5" width="25.6" height="1.8" fill="#6a5cb8"/>
<rect x="224.0" y="617.5" width="26.1" height="1.8" fill="#a68eca"/>
<rect x="250.1" y="617.5" width="25.9" height="1.8" fill="#e43b2a"/>
<rect x="276.0" y="617.5" width="26.0" height="1.8" fill="#6f60b7"/>
<rect x="198.4" y="618.9" width="25.6" height="1.5" fill="#6b5db8"/>
<rect x="224.0" y="618.9" width="26.1" height="1.5" fill="#a890cc"/>
<rect x="250.1" y="618.9" width="25.9" height="1.5" fill="#e53c2c"/>
<rect x="276.0" y="618.9" width="26.0" height="1.5" fill="#7060b7"/>
<rect x="198.4" y="620.0" width="25.6" height="1.8" fill="#eec4b9"/>
<rect x="224.0" y="620.0" width="26.1" height="1.8" fill="#e0d9e6"/>
<rect x="250.1" y="620.0" width="25.9" height="1.8" fill="#f1baad"/>
<rect x="276.0" y="620.0" width="26.0" height="1.8" fill="#494ea4"/>
<rect x="198.4" y="621.4" width="25.6" height="2.3" fill="#f3d6ce"/>
<rect x="224.0" y="621.4" width="26.1" height="2.3" fill="#e2dae7"/>
<rect x="250.1" y="621.4" width="25.9" height="2.3" fill="#e5a899"/>
<rect x="276.0" y="621.4" width="26.0" height="2.3" fill="#696cb8"/>
<rect x="198.4" y="623.3" width="25.6" height="2.3" fill="#f2cec4"/>
<rect x="224.0" y="623.3" width="26.1" height="2.3" fill="#ebe3ef"/>
<rect x="250.1" y="623.3" width="25.9" height="2.3" fill="#e9ab9c"/>
<rect x="276.0" y="623.3" width="26.0" height="2.3" fill="#4b4fa8"/>
<rect x="198.4" y="625.2" width="25.6" height="2.3" fill="#f3d2c9"/>
<rect x="224.0" y="625.2" width="26.1" height="2.3" fill="#e3dce9"/>
<rect x="250.1" y="625.2" width="25.9" height="2.3" fill="#edae9e"/>
<rect x="276.0" y="625.2" width="26.0" height="2.3" fill="#4c51ab"/>
<rect x="198.4" y="627.1" width="25.6" height="2.3" fill="#efc6ba"/>
<rect x="224.0" y="627.1" width="26.1" height="2.3" fill="#ece5ef"/>
<rect x="250.1" y="627.1" width="25.9" height="2.3" fill="#f1baac"/>
<rect x="276.0" y="627.1" width="26.0" height="2.3" fill="#7275bc"/>
<rect x="198.4" y="629.0" width="25.6" height="3.3" fill="#dcd0e9"/>
<rect x="224.0" y="629.0" width="26.1" height="3.3" fill="#a898d0"/>
<rect x="250.1" y="629.0" width="25.9" height="3.3" fill="#695bb6"/>
<rect x="276.0" y="629.0" width="26.0" height="3.3" fill="#e64232"/>
<rect x="198.4" y="631.9" width="25.6" height="2.8" fill="#d9cde8"/>
<rect x="224.0" y="631.9" width="26.1" height="2.8" fill="#a495cb"/>
<rect x="250.1" y="631.9" width="25.9" height="2.8" fill="#8073c1"/>
<rect x="276.0" y="631.9" width="26.0" height="2.8" fill="#e33b2a"/>
<rect x="198.4" y="634.3" width="25.6" height="0.7" fill="#d4c9e4"/>
<rect x="224.0" y="634.3" width="26.1" height="0.7" fill="#a999d1"/>
<rect x="250.1" y="634.3" width="25.9" height="0.7" fill="#695bb6"/>
<rect x="276.0" y="634.3" width="26.0" height="0.7" fill="#e43b2a"/>
<rect x="198.4" y="634.6" width="25.6" height="3.3" fill="#c8b8df"/>
<rect x="224.0" y="634.6" width="26.1" height="3.3" fill="#e7604a"/>
<rect x="250.1" y="634.6" width="25.9" height="3.3" fill="#635eb9"/>
<rect x="276.0" y="634.6" width="26.0" height="3.3" fill="#f0a088"/>
<rect x="198.4" y="637.5" width="25.6" height="1.3" fill="#c7b7df"/>
<rect x="224.0" y="637.5" width="26.1" height="1.3" fill="#e7604a"/>
<rect x="250.1" y="637.5" width="25.9" height="1.3" fill="#5d58b6"/>
<rect x="276.0" y="637.5" width="26.0" height="1.3" fill="#f0a088"/>
<rect x="198.4" y="638.4" width="25.6" height="2.3" fill="#e13a29"/>
<rect x="224.0" y="638.4" width="26.1" height="2.3" fill="#f4ddd6"/>
<rect x="250.1" y="638.4" width="25.9" height="2.3" fill="#beafdb"/>
<rect x="276.0" y="638.4" width="26.0" height="2.3" fill="#685cb8"/>
<rect x="198.4" y="640.3" width="25.6" height="1.8" fill="#e64231"/>
<rect x="224.0" y="640.3" width="26.1" height="1.8" fill="#f4ded7"/>
<rect x="250.1" y="640.3" width="25.9" height="1.8" fill="#b5a5d4"/>
<rect x="276.0" y="640.3" width="26.0" height="1.8" fill="#6458b6"/>
<rect x="198.4" y="641.7" width="25.6" height="2.3" fill="#e64131"/>
<rect x="224.0" y="641.7" width="26.1" height="2.3" fill="#f4ded7"/>
<rect x="250.1" y="641.7" width="25.9" height="2.3" fill="#b9aad9"/>
<rect x="276.0" y="641.7" width="26.0" height="2.3" fill="#6458b5"/>
<rect x="198.4" y="643.6" width="25.6" height="3.3" fill="#e53f2e"/>
<rect x="224.0" y="643.6" width="26.1" height="3.3" fill="#f4dcd4"/>
<rect x="250.1" y="643.6" width="25.9" height="3.3" fill="#b9a9d8"/>
<rect x="276.0" y="643.6" width="26.0" height="3.3" fill="#6458b6"/>
<rect x="198.4" y="646.5" width="25.6" height="2.3" fill="#e5402f"/>
<rect x="224.0" y="646.5" width="26.1" height="2.3" fill="#f4dcd4"/>
<rect x="250.1" y="646.5" width="25.9" height="2.3" fill="#b3a4d2"/>
<rect x="276.0" y="646.5" width="26.0" height="2.3" fill="#6559b6"/>
<rect x="198.4" y="648.4" width="25.6" height="2.3" fill="#e64838"/>
<rect x="224.0" y="648.4" width="26.1" height="2.3" fill="#f4dcd4"/>
<rect x="250.1" y="648.4" width="25.9" height="2.3" fill="#c1b2dc"/>
<rect x="276.0" y="648.4" width="26.0" height="2.3" fill="#6559b6"/>
<rect x="198.4" y="650.3" width="25.6" height="2.8" fill="#e53f2e"/>
<rect x="224.0" y="650.3" width="26.1" height="2.8" fill="#f4ddd5"/>
<rect x="250.1" y="650.3" width="25.9" height="2.8" fill="#b7a7d7"/>
<rect x="276.0" y="650.3" width="26.0" height="2.8" fill="#685db8"/>
<rect x="198.4" y="652.7" width="25.6" height="1.7" fill="#e53f2e"/>
<rect x="224.0" y="652.7" width="26.1" height="1.7" fill="#f3dbd3"/>
<rect x="250.1" y="652.7" width="25.9" height="1.7" fill="#b3a4d2"/>
<rect x="276.0" y="652.7" width="26.0" height="1.7" fill="#6458b6"/>
<rect x="198.4" y="654.0" width="25.6" height="2.3" fill="#e9644f"/>
<rect x="224.0" y="654.0" width="26.1" height="2.3" fill="#e7a99a"/>
<rect x="250.1" y="654.0" width="25.9" height="2.3" fill="#cdc2e1"/>
<rect x="276.0" y="654.0" width="26.0" height="2.3" fill="#5b56b6"/>
<rect x="198.4" y="655.9" width="25.6" height="2.3" fill="#e85a44"/>
<rect x="224.0" y="655.9" width="26.1" height="2.3" fill="#e9ab9b"/>
<rect x="250.1" y="655.9" width="25.9" height="2.3" fill="#d1c6e5"/>
<rect x="276.0" y="655.9" width="26.0" height="2.3" fill="#5a55b4"/>
<rect x="198.4" y="657.8" width="25.6" height="2.3" fill="#e85f4a"/>
<rect x="224.0" y="657.8" width="26.1" height="2.3" fill="#eaac9c"/>
<rect x="250.1" y="657.8" width="25.9" height="2.3" fill="#c7bcda"/>
<rect x="276.0" y="657.8" width="26.0" height="2.3" fill="#5e59b7"/>
<rect x="198.4" y="659.7" width="25.6" height="1.8" fill="#e65943"/>
<rect x="224.0" y="659.7" width="26.1" height="1.8" fill="#eeae9f"/>
<rect x="250.1" y="659.7" width="25.9" height="1.8" fill="#cbc0df"/>
<rect x="276.0" y="659.7" width="26.0" height="1.8" fill="#5a55b5"/>
<rect x="198.4" y="661.1" width="25.6" height="3.3" fill="#e85a44"/>
<rect x="224.0" y="661.1" width="26.1" height="3.3" fill="#f1b9ab"/>
<rect x="250.1" y="661.1" width="25.9" height="3.3" fill="#d8cee7"/>
<rect x="276.0" y="661.1" width="26.0" height="3.3" fill="#605bb7"/>
<rect x="198.4" y="664.0" width="25.6" height="1.8" fill="#e8604b"/>
<rect x="224.0" y="664.0" width="26.1" height="1.8" fill="#ecad9e"/>
<rect x="250.1" y="664.0" width="25.9" height="1.8" fill="#d9cee7"/>
<rect x="276.0" y="664.0" width="26.0" height="1.8" fill="#5a55b5"/>
<rect x="198.4" y="665.4" width="25.6" height="2.3" fill="#e85b45"/>
<rect x="224.0" y="665.4" width="26.1" height="2.3" fill="#efaf9f"/>
<rect x="250.1" y="665.4" width="25.9" height="2.3" fill="#cabfde"/>
<rect x="276.0" y="665.4" width="26.0" height="2.3" fill="#5a55b4"/>
<rect x="198.4" y="667.3" width="25.6" height="1.8" fill="#e9624d"/>
<rect x="224.0" y="667.3" width="26.1" height="1.8" fill="#f2c5ba"/>
<rect x="250.1" y="667.3" width="25.9" height="1.8" fill="#cfc3e3"/>
<rect x="276.0" y="667.3" width="26.0" height="1.8" fill="#5a55b5"/>
<rect x="198.4" y="668.7" width="25.6" height="2.3" fill="#e85b46"/>
<rect x="224.0" y="668.7" width="26.1" height="2.3" fill="#f1baac"/>
<rect x="250.1" y="668.7" width="25.9" height="2.3" fill="#d0c4e4"/>
<rect x="276.0" y="668.7" width="26.0" height="2.3" fill="#5d58b6"/>
<rect x="198.4" y="670.6" width="25.6" height="2.8" fill="#e85e49"/>
<rect x="224.0" y="670.6" width="26.1" height="2.8" fill="#f0b2a3"/>
<rect x="250.1" y="670.6" width="25.9" height="2.8" fill="#d1c5e4"/>
<rect x="276.0" y="670.6" width="26.0" height="2.8" fill="#5a55b4"/>
<rect x="198.4" y="673.0" width="25.6" height="1.8" fill="#e96753"/>
<rect x="224.0" y="673.0" width="26.1" height="1.8" fill="#f0b2a2"/>
<rect x="250.1" y="673.0" width="25.9" height="1.8" fill="#d3c8e5"/>
<rect x="276.0" y="673.0" width="26.0" height="1.8" fill="#5f5ab7"/>
<rect x="198.4" y="674.4" width="25.6" height="2.8" fill="#e96a57"/>
<rect x="224.0" y="674.4" width="26.1" height="2.8" fill="#f0b6a7"/>
<rect x="250.1" y="674.4" width="25.9" height="2.8" fill="#d8cee7"/>
<rect x="276.0" y="674.4" width="26.0" height="2.8" fill="#615cb8"/>
<rect x="198.4" y="676.8" width="25.6" height="2.3" fill="#e65943"/>
<rect x="224.0" y="676.8" width="26.1" height="2.3" fill="#f0b5a7"/>
<rect x="250.1" y="676.8" width="25.9" height="2.3" fill="#ccc0df"/>
<rect x="276.0" y="676.8" width="26.0" height="2.3" fill="#5a55b4"/>
<rect x="198.4" y="678.7" width="25.6" height="3.3" fill="#ea6d5a"/>
<rect x="224.0" y="678.7" width="26.1" height="3.3" fill="#e8aa9a"/>
<rect x="250.1" y="678.7" width="25.9" height="3.3" fill="#cdc1e0"/>
<rect x="276.0" y="678.7" width="26.0" height="3.3" fill="#5a55b5"/>
<rect x="198.4" y="681.6" width="25.6" height="2.1" fill="#e55943"/>
<rect x="224.0" y="681.6" width="26.1" height="2.1" fill="#efaf9f"/>
<rect x="250.1" y="681.6" width="25.9" height="2.1" fill="#d1c5e4"/>
<rect x="276.0" y="681.6" width="26.0" height="2.1" fill="#5a55b4"/>
<rect x="198.4" y="683.3" width="25.6" height="2.3" fill="#e23b2b"/>
<rect x="224.0" y="683.3" width="26.1" height="2.3" fill="#f0e4e8"/>
<rect x="250.1" y="683.3" width="25.9" height="2.3" fill="#9384c9"/>
<rect x="276.0" y="683.3" width="26.0" height="2.3" fill="#9f88cc"/>
<rect x="198.4" y="685.2" width="25.6" height="1.8" fill="#e0392a"/>
<rect x="224.0" y="685.2" width="26.1" height="1.8" fill="#f0e5e9"/>
<rect x="250.1" y="685.2" width="25.9" height="1.8" fill="#8f7fc6"/>
<rect x="276.0" y="685.2" width="26.0" height="1.8" fill="#a089cd"/>
<rect x="198.4" y="686.6" width="25.6" height="2.3" fill="#e13a2a"/>
<rect x="224.0" y="686.6" width="26.1" height="2.3" fill="#efe3e7"/>
<rect x="250.1" y="686.6" width="25.9" height="2.3" fill="#9080c8"/>
<rect x="276.0" y="686.6" width="26.0" height="2.3" fill="#9c85c8"/>
<rect x="198.4" y="688.5" width="25.6" height="1.9" fill="#e23a2a"/>
<rect x="224.0" y="688.5" width="26.1" height="1.9" fill="#efe3e7"/>
<rect x="250.1" y="688.5" width="25.9" height="1.9" fill="#9888cb"/>
<rect x="276.0" y="688.5" width="26.0" height="1.9" fill="#9e87cb"/>
<rect x="198.4" y="690.0" width="25.6" height="3.3" fill="#df3929"/>
<rect x="224.0" y="690.0" width="26.1" height="3.3" fill="#eae2ee"/>
<rect x="250.1" y="690.0" width="25.9" height="3.3" fill="#b7a7d7"/>
<rect x="276.0" y="690.0" width="26.0" height="3.3" fill="#7b6bbf"/>
<rect x="198.4" y="692.9" width="25.6" height="2.3" fill="#d63728"/>
<rect x="224.0" y="692.9" width="26.1" height="2.3" fill="#eae2ee"/>
<rect x="250.1" y="692.9" width="25.9" height="2.3" fill="#b8a8d8"/>
<rect x="276.0" y="692.9" width="26.0" height="2.3" fill="#7969be"/>
<rect x="198.4" y="694.8" width="25.6" height="1.8" fill="#e03a2a"/>
<rect x="224.0" y="694.8" width="26.1" height="1.8" fill="#e8e0eb"/>
<rect x="250.1" y="694.8" width="25.9" height="1.8" fill="#b7a7d7"/>
<rect x="276.0" y="694.8" width="26.0" height="1.8" fill="#897bc5"/>
<rect x="198.4" y="696.2" width="25.6" height="2.8" fill="#e5584b"/>
<rect x="224.0" y="696.2" width="26.1" height="2.8" fill="#eae2ee"/>
<rect x="250.1" y="696.2" width="25.9" height="2.8" fill="#bcacda"/>
<rect x="276.0" y="696.2" width="26.0" height="2.8" fill="#7f70c1"/>
<rect x="198.4" y="698.6" width="25.6" height="1.8" fill="#dd3929"/>
<rect x="224.0" y="698.6" width="26.1" height="1.8" fill="#eee6f0"/>
<rect x="250.1" y="698.6" width="25.9" height="1.8" fill="#c4b7dd"/>
<rect x="276.0" y="698.6" width="26.0" height="1.8" fill="#9184c8"/>
<rect x="198.4" y="700.0" width="25.6" height="3.3" fill="#e23a2a"/>
<rect x="224.0" y="700.0" width="26.1" height="3.3" fill="#e1d5ec"/>
<rect x="250.1" y="700.0" width="25.9" height="3.3" fill="#efe9ef"/>
<rect x="276.0" y="700.0" width="26.0" height="3.3" fill="#7162b8"/>
<rect x="198.4" y="702.9" width="25.6" height="2.3" fill="#e13a2a"/>
<rect x="224.0" y="702.9" width="26.1" height="2.3" fill="#e4d9ed"/>
<rect x="250.1" y="702.9" width="25.9" height="2.3" fill="#f1ebf0"/>
<rect x="276.0" y="702.9" width="26.0" height="2.3" fill="#7060b5"/>
<rect x="198.4" y="704.8" width="25.6" height="2.3" fill="#df3929"/>
<rect x="224.0" y="704.8" width="26.1" height="2.3" fill="#ded2ea"/>
<rect x="250.1" y="704.8" width="25.9" height="2.3" fill="#ede7ed"/>
<rect x="276.0" y="704.8" width="26.0" height="2.3" fill="#7363bb"/>
<rect x="198.4" y="706.7" width="25.6" height="1.8" fill="#e66256"/>
<rect x="224.0" y="706.7" width="26.1" height="1.8" fill="#dfd3ea"/>
<rect x="250.1" y="706.7" width="25.9" height="1.8" fill="#f0eaf0"/>
<rect x="276.0" y="706.7" width="26.0" height="1.8" fill="#7565bc"/>
<rect x="198.4" y="708.1" width="25.6" height="2.3" fill="#e03a2a"/>
<rect x="224.0" y="708.1" width="26.1" height="2.3" fill="#d8cce3"/>
<rect x="250.1" y="708.1" width="25.9" height="2.3" fill="#f0eaf0"/>
<rect x="276.0" y="708.1" width="26.0" height="2.3" fill="#7a6bbf"/>
<rect x="198.4" y="710.0" width="25.6" height="1.3" fill="#e34233"/>
<rect x="224.0" y="710.0" width="26.1" height="1.3" fill="#e1d6ec"/>
<rect x="250.1" y="710.0" width="25.9" height="1.3" fill="#f0eaf0"/>
<rect x="276.0" y="710.0" width="26.0" height="1.3" fill="#7868be"/>
<rect x="198.4" y="710.9" width="25.6" height="2.3" fill="#e35e48"/>
<rect x="224.0" y="710.9" width="26.1" height="2.3" fill="#ee9786"/>
<rect x="250.1" y="710.9" width="25.9" height="2.3" fill="#7a68bc"/>
<rect x="276.0" y="710.9" width="26.0" height="2.3" fill="#7a68bb"/>
<rect x="198.4" y="712.8" width="25.6" height="2.8" fill="#df5c47"/>
<rect x="224.0" y="712.8" width="26.1" height="2.8" fill="#ec8b77"/>
<rect x="250.1" y="712.8" width="25.9" height="2.8" fill="#7a68bb"/>
<rect x="276.0" y="712.8" width="26.0" height="2.8" fill="#7a68bc"/>
<rect x="198.4" y="715.2" width="25.6" height="2.3" fill="#e7604a"/>
<rect x="224.0" y="715.2" width="26.1" height="2.3" fill="#eb846f"/>
<rect x="250.1" y="715.2" width="25.9" height="2.3" fill="#7967bb"/>
<rect x="276.0" y="715.2" width="26.0" height="2.3" fill="#8676c1"/>
<rect x="198.4" y="717.1" width="25.6" height="2.3" fill="#e7604a"/>
<rect x="224.0" y="717.1" width="26.1" height="2.3" fill="#ec8773"/>
<rect x="250.1" y="717.1" width="25.9" height="2.3" fill="#7968bb"/>
<rect x="276.0" y="717.1" width="26.0" height="2.3" fill="#7866b8"/>
<rect x="198.4" y="719.0" width="25.6" height="2.8" fill="#e8644f"/>
<rect x="224.0" y="719.0" width="26.1" height="2.8" fill="#ec8570"/>
<rect x="250.1" y="719.0" width="25.9" height="2.8" fill="#7a68bb"/>
<rect x="276.0" y="719.0" width="26.0" height="2.8" fill="#7866b9"/>
<rect x="198.4" y="721.4" width="25.6" height="1.8" fill="#e7604a"/>
<rect x="224.0" y="721.4" width="26.1" height="1.8" fill="#ec8570"/>
<rect x="250.1" y="721.4" width="25.9" height="1.8" fill="#8675c1"/>
<rect x="276.0" y="721.4" width="26.0" height="1.8" fill="#8574c1"/>
<rect x="198.4" y="722.8" width="25.6" height="2.3" fill="#e55f49"/>
<rect x="224.0" y="722.8" width="26.1" height="2.3" fill="#e9836e"/>
<rect x="250.1" y="722.8" width="25.9" height="2.3" fill="#8e7ec5"/>
<rect x="276.0" y="722.8" width="26.0" height="2.3" fill="#7e6cbe"/>
<rect x="198.4" y="724.7" width="25.6" height="1.3" fill="#e8604a"/>
<rect x="224.0" y="724.7" width="26.1" height="1.3" fill="#eb8570"/>
<rect x="250.1" y="724.7" width="25.9" height="1.3" fill="#8372c0"/>
<rect x="276.0" y="724.7" width="26.0" height="1.3" fill="#7a68bc"/>
<rect x="198.4" y="725.6" width="25.6" height="1.8" fill="#eb7c67"/>
<rect x="224.0" y="725.6" width="26.1" height="1.8" fill="#ea7d6a"/>
<rect x="250.1" y="725.6" width="25.9" height="1.8" fill="#b7a7d7"/>
<rect x="276.0" y="725.6" width="26.0" height="1.8" fill="#5f5ab7"/>
<rect x="198.4" y="727.0" width="25.6" height="2.8" fill="#ec826e"/>
<rect x="224.0" y="727.0" width="26.1" height="2.8" fill="#e86a54"/>
<rect x="250.1" y="727.0" width="25.9" height="2.8" fill="#bcacda"/>
<rect x="276.0" y="727.0" width="26.0" height="2.8" fill="#645fb9"/>
<rect x="198.4" y="729.4" width="25.6" height="1.8" fill="#ed8976"/>
<rect x="224.0" y="729.4" width="26.1" height="1.8" fill="#e86b55"/>
<rect x="250.1" y="729.4" width="25.9" height="1.8" fill="#baaad9"/>
<rect x="276.0" y="729.4" width="26.0" height="1.8" fill="#5a55b5"/>
<rect x="198.4" y="730.8" width="25.6" height="2.3" fill="#ea7c67"/>
<rect x="224.0" y="730.8" width="26.1" height="2.3" fill="#e66953"/>
<rect x="250.1" y="730.8" width="25.9" height="2.3" fill="#b6a7d6"/>
<rect x="276.0" y="730.8" width="26.0" height="2.3" fill="#6c67bc"/>
<rect x="198.4" y="732.7" width="25.6" height="2.6" fill="#ec816d"/>
<rect x="224.0" y="732.7" width="26.1" height="2.6" fill="#e66953"/>
<rect x="250.1" y="732.7" width="25.9" height="2.6" fill="#b8a8d8"/>
<rect x="276.0" y="732.7" width="26.0" height="2.6" fill="#5b56b5"/>
<rect x="198.4" y="734.9" width="25.6" height="2.8" fill="#e64d3e"/>
<rect x="224.0" y="734.9" width="26.1" height="2.8" fill="#efb7a8"/>
<rect x="250.1" y="734.9" width="25.9" height="2.8" fill="#695bb7"/>
<rect x="276.0" y="734.9" width="26.0" height="2.8" fill="#b49cd3"/>
<rect x="198.4" y="737.3" width="25.6" height="1.8" fill="#e64f40"/>
<rect x="224.0" y="737.3" width="26.1" height="1.8" fill="#f0beaf"/>
<rect x="250.1" y="737.3" width="25.9" height="1.8" fill="#695bb7"/>
<rect x="276.0" y="737.3" width="26.0" height="1.8" fill="#b9a2d9"/>
<rect x="198.4" y="738.7" width="25.6" height="2.3" fill="#e44535"/>
<rect x="224.0" y="738.7" width="26.1" height="2.3" fill="#f0bbab"/>
<rect x="250.1" y="738.7" width="25.9" height="2.3" fill="#6b5db9"/>
<rect x="276.0" y="738.7" width="26.0" height="2.3" fill="#b9a1d8"/>
<rect x="198.4" y="740.6" width="25.6" height="1.8" fill="#e65142"/>
<rect x="224.0" y="740.6" width="26.1" height="1.8" fill="#eeb7a7"/>
<rect x="250.1" y="740.6" width="25.9" height="1.8" fill="#6d60b9"/>
<rect x="276.0" y="740.6" width="26.0" height="1.8" fill="#b8a0d8"/>
<rect x="198.4" y="742.0" width="25.6" height="1.8" fill="#df4334"/>
<rect x="224.0" y="742.0" width="26.1" height="1.8" fill="#f0bcad"/>
<rect x="250.1" y="742.0" width="25.9" height="1.8" fill="#7365bc"/>
<rect x="276.0" y="742.0" width="26.0" height="1.8" fill="#c0abdb"/>
<rect x="198.4" y="743.4" width="25.6" height="2.3" fill="#dc4233"/>
<rect x="224.0" y="743.4" width="26.1" height="2.3" fill="#efb8a8"/>
<rect x="250.1" y="743.4" width="25.9" height="2.3" fill="#7063bb"/>
<rect x="276.0" y="743.4" width="26.0" height="2.3" fill="#bfa9db"/>
<rect x="198.4" y="745.3" width="25.6" height="2.3" fill="#e54535"/>
<rect x="224.0" y="745.3" width="26.1" height="2.3" fill="#eeb6a6"/>
<rect x="250.1" y="745.3" width="25.9" height="2.3" fill="#685ab4"/>
<rect x="276.0" y="745.3" width="26.0" height="2.3" fill="#b19ad0"/>
<rect x="198.4" y="747.2" width="25.6" height="2.3" fill="#e64d3d"/>
<rect x="224.0" y="747.2" width="26.1" height="2.3" fill="#efb7a7"/>
<rect x="250.1" y="747.2" width="25.9" height="2.3" fill="#7264bb"/>
<rect x="276.0" y="747.2" width="26.0" height="2.3" fill="#bca5da"/>
<rect x="198.4" y="749.1" width="25.6" height="0.9" fill="#e34434"/>
<rect x="224.0" y="749.1" width="26.1" height="0.9" fill="#efb7a7"/>
<rect x="250.1" y="749.1" width="25.9" height="0.9" fill="#7365bc"/>
<rect x="276.0" y="749.1" width="26.0" height="0.9" fill="#bba4d9"/>
<rect x="198.4" y="749.6" width="25.6" height="1.8" fill="#e64f40"/>
<rect x="224.0" y="749.6" width="26.1" height="1.8" fill="#ecbfb0"/>
<rect x="250.1" y="749.6" width="25.9" height="1.8" fill="#a193cf"/>
<rect x="276.0" y="749.6" width="26.0" height="1.8" fill="#6a5cb7"/>
<rect x="198.4" y="751.0" width="25.6" height="1.8" fill="#e75547"/>
<rect x="224.0" y="751.0" width="26.1" height="1.8" fill="#f2cbbe"/>
<rect x="250.1" y="751.0" width="25.9" height="1.8" fill="#8f7fc6"/>
<rect x="276.0" y="751.0" width="26.0" height="1.8" fill="#685ab4"/>
<rect x="198.4" y="752.4" width="25.6" height="2.3" fill="#e64c3d"/>
<rect x="224.0" y="752.4" width="26.1" height="2.3" fill="#f3cbbe"/>
<rect x="250.1" y="752.4" width="25.9" height="2.3" fill="#8c7dc3"/>
<rect x="276.0" y="752.4" width="26.0" height="2.3" fill="#695bb7"/>
<rect x="198.4" y="754.3" width="25.6" height="2.3" fill="#e34434"/>
<rect x="224.0" y="754.3" width="26.1" height="2.3" fill="#f2c9bb"/>
<rect x="250.1" y="754.3" width="25.9" height="2.3" fill="#9484c9"/>
<rect x="276.0" y="754.3" width="26.0" height="2.3" fill="#695bb6"/>
<rect x="198.4" y="756.2" width="25.6" height="2.3" fill="#e75648"/>
<rect x="224.0" y="756.2" width="26.1" height="2.3" fill="#f2c4b4"/>
<rect x="250.1" y="756.2" width="25.9" height="2.3" fill="#a395d0"/>
<rect x="276.0" y="756.2" width="26.0" height="2.3" fill="#6a5cb8"/>
<rect x="198.4" y="758.1" width="25.6" height="1.8" fill="#e8685c"/>
<rect x="224.0" y="758.1" width="26.1" height="1.8" fill="#f1c3b3"/>
<rect x="250.1" y="758.1" width="25.9" height="1.8" fill="#8c7cc2"/>
<rect x="276.0" y="758.1" width="26.0" height="1.8" fill="#6a5cb7"/>
<rect x="198.4" y="759.5" width="25.6" height="2.3" fill="#e04434"/>
<rect x="224.0" y="759.5" width="26.1" height="2.3" fill="#efc1b2"/>
<rect x="250.1" y="759.5" width="25.9" height="2.3" fill="#9585ca"/>
<rect x="276.0" y="759.5" width="26.0" height="2.3" fill="#8579c3"/>
<rect x="198.4" y="761.4" width="25.6" height="3.3" fill="#e86457"/>
<rect x="224.0" y="761.4" width="26.1" height="3.3" fill="#f1c3b3"/>
<rect x="250.1" y="761.4" width="25.9" height="3.3" fill="#8d7ec4"/>
<rect x="276.0" y="761.4" width="26.0" height="3.3" fill="#695bb6"/>
<rect x="198.4" y="764.3" width="25.6" height="2.8" fill="#e24434"/>
<rect x="224.0" y="764.3" width="26.1" height="2.8" fill="#efc2b2"/>
<rect x="250.1" y="764.3" width="25.9" height="2.8" fill="#a496d0"/>
<rect x="276.0" y="764.3" width="26.0" height="2.8" fill="#6e60ba"/>
<rect x="198.4" y="766.7" width="25.6" height="2.3" fill="#de4333"/>
<rect x="224.0" y="766.7" width="26.1" height="2.3" fill="#f2c4b4"/>
<rect x="250.1" y="766.7" width="25.9" height="2.3" fill="#998acc"/>
<rect x="276.0" y="766.7" width="26.0" height="2.3" fill="#7164bb"/>
<rect x="198.4" y="768.6" width="25.6" height="2.3" fill="#e97367"/>
<rect x="224.0" y="768.6" width="26.1" height="2.3" fill="#f2c6b7"/>
<rect x="250.1" y="768.6" width="25.9" height="2.3" fill="#9586ca"/>
<rect x="276.0" y="768.6" width="26.0" height="2.3" fill="#7265bb"/>
<rect x="198.4" y="770.5" width="25.6" height="1.9" fill="#e14434"/>
<rect x="224.0" y="770.5" width="26.1" height="1.9" fill="#f2c6b7"/>
<rect x="250.1" y="770.5" width="25.9" height="1.9" fill="#9b8ccc"/>
<rect x="276.0" y="770.5" width="26.0" height="1.9" fill="#6a5cb8"/>
<rect x="198.4" y="772.0" width="25.6" height="1.8" fill="#ee9c8a"/>
<rect x="224.0" y="772.0" width="26.1" height="1.8" fill="#e55f49"/>
<rect x="250.1" y="772.0" width="25.9" height="1.8" fill="#4d52ac"/>
<rect x="276.0" y="772.0" width="26.0" height="1.8" fill="#cabee1"/>
<rect x="198.4" y="773.4" width="25.6" height="1.8" fill="#e58670"/>
<rect x="224.0" y="773.4" width="26.1" height="1.8" fill="#e96c58"/>
<rect x="250.1" y="773.4" width="25.9" height="1.8" fill="#4b4fa8"/>
<rect x="276.0" y="773.4" width="26.0" height="1.8" fill="#d0c4e8"/>
<rect x="198.4" y="774.8" width="25.6" height="2.3" fill="#ec8b75"/>
<rect x="224.0" y="774.8" width="26.1" height="2.3" fill="#e15d48"/>
<rect x="250.1" y="774.8" width="25.9" height="2.3" fill="#565bb1"/>
<rect x="276.0" y="774.8" width="26.0" height="2.3" fill="#d1c5e8"/>
<rect x="198.4" y="776.7" width="25.6" height="2.8" fill="#ed9380"/>
<rect x="224.0" y="776.7" width="26.1" height="2.8" fill="#e96651"/>
<rect x="250.1" y="776.7" width="25.9" height="2.8" fill="#4b50a8"/>
<rect x="276.0" y="776.7" width="26.0" height="2.8" fill="#cfc3e6"/>
<rect x="198.4" y="779.1" width="25.6" height="2.3" fill="#ed9582"/>
<rect x="224.0" y="779.1" width="26.1" height="2.3" fill="#e65f49"/>
<rect x="250.1" y="779.1" width="25.9" height="2.3" fill="#5a5eb2"/>
<rect x="276.0" y="779.1" width="26.0" height="2.3" fill="#d2c7e9"/>
<rect x="198.4" y="781.0" width="25.6" height="1.8" fill="#eb8973"/>
<rect x="224.0" y="781.0" width="26.1" height="1.8" fill="#e45e49"/>
<rect x="250.1" y="781.0" width="25.9" height="1.8" fill="#4c51aa"/>
<rect x="276.0" y="781.0" width="26.0" height="1.8" fill="#cec2e6"/>
<rect x="198.4" y="782.4" width="25.6" height="2.3" fill="#ed9b89"/>
<rect x="224.0" y="782.4" width="26.1" height="2.3" fill="#e7604a"/>
<rect x="250.1" y="782.4" width="25.9" height="2.3" fill="#4c51aa"/>
<rect x="276.0" y="782.4" width="26.0" height="2.3" fill="#d7ccea"/>
<rect x="198.4" y="784.3" width="25.6" height="0.5" fill="#ed907c"/>
<rect x="224.0" y="784.3" width="26.1" height="0.5" fill="#e8624d"/>
<rect x="250.1" y="784.3" width="25.9" height="0.5" fill="#4c51ab"/>
<rect x="276.0" y="784.3" width="26.0" height="0.5" fill="#cfc3e7"/>
<rect x="198.4" y="784.4" width="25.6" height="2.3" fill="#ea7a64"/>
<rect x="224.0" y="784.4" width="26.1" height="2.3" fill="#7868bc"/>
<rect x="250.1" y="784.4" width="25.9" height="2.3" fill="#5a55b5"/>
<rect x="276.0" y="784.4" width="26.0" height="2.3" fill="#f0a890"/>
<rect x="198.4" y="786.3" width="25.6" height="1.9" fill="#eb7b65"/>
<rect x="224.0" y="786.3" width="26.1" height="1.9" fill="#7868bb"/>
<rect x="250.1" y="786.3" width="25.9" height="1.9" fill="#5a55b4"/>
<rect x="276.0" y="786.3" width="26.0" height="1.9" fill="#f0a890"/>
</g>
<path d="M75.5 600.2L75.5 602.1M75.5 600.2L76.3 600.2M75.5 602.1L76.3 602.1M74.9 601.2L74.9 604.0M74.9 601.2L75.5 601.2M74.9 604.0L76.3 604.0M74.6 598.3L74.6 602.6M74.6 598.3L76.3 598.3M74.6 602.6L74.9 602.6M74.9 606.0L74.9 607.9M74.9 606.0L76.3 606.0M74.9 607.9L76.3 607.9M74.3 600.4L74.3 606.9M74.3 600.4L74.6 600.4M74.3 606.9L74.9 606.9M74.0 596.4L74.0 603.7M74.0 596.4L76.3 596.4M74.0 603.7L74.3 603.7M75.4 609.8L75.4 611.7M75.4 609.8L76.3 609.8M75.4 611.7L76.3 611.7M74.6 610.8L74.6 613.6M74.6 610.8L75.4 610.8M74.6 613.6L76.3 613.6M75.2 615.6L75.2 617.5M75.2 615.6L76.3 615.6M75.2 617.5L76.3 617.5M74.9 616.5L74.9 619.4M74.9 616.5L75.2 616.5M74.9 619.4L76.3 619.4M74.3 612.2L74.3 618.0M74.3 612.2L74.6 612.2M74.3 618.0L74.9 618.0M74.9 621.3L74.9 623.2M74.9 621.3L76.3 621.3M74.9 623.2L76.3 623.2M74.6 622.3L74.6 625.2M74.6 622.3L74.9 622.3M74.6 625.2L76.3 625.2M74.9 629.0L74.9 630.9M74.9 629.0L76.3 629.0M74.9 630.9L76.3 630.9M74.6 630.0L74.6 632.8M74.6 630.0L74.9 630.0M74.6 632.8L76.3 632.8M74.3 627.1L74.3 631.4M74.3 627.1L76.3 627.1M74.3 631.4L74.6 631.4M75.2 634.8L75.2 636.7M75.2 634.8L76.3 634.8M75.2 636.7L76.3 636.7M74.0 629.2L74.0 635.7M74.0 629.2L74.3 629.2M74.0 635.7L75.2 635.7M75.1 638.6L75.1 640.5M75.1 638.6L76.3 638.6M75.1 640.5L76.3 640.5M73.7 632.5L73.7 639.6M73.7 632.5L74.0 632.5M73.7 639.6L75.1 639.6M75.2 642.4L75.2 644.4M75.2 642.4L76.3 642.4M75.2 644.4L76.3 644.4M73.4 636.0L73.4 643.4M73.4 636.0L73.7 636.0M73.4 643.4L75.2 643.4M72.8 623.7L72.8 639.7M72.8 623.7L74.6 623.7M72.8 639.7L73.4 639.7M72.5 631.7L72.5 646.3M72.5 631.7L72.8 631.7M72.5 646.3L76.3 646.3M72.2 615.1L72.2 639.0M72.2 615.1L74.3 615.1M72.2 639.0L72.5 639.0M70.8 600.0L70.8 627.0M70.8 600.0L74.0 600.0M70.8 627.0L72.2 627.0M74.9 648.2L74.9 650.1M74.9 648.2L76.3 648.2M74.9 650.1L76.3 650.1M75.2 652.0L75.2 654.0M75.2 652.0L76.3 652.0M75.2 654.0L76.3 654.0M74.9 653.0L74.9 655.9M74.9 653.0L75.2 653.0M74.9 655.9L76.3 655.9M74.2 649.2L74.2 654.4M74.2 649.2L74.9 649.2M74.2 654.4L74.9 654.4M74.9 657.8L74.9 659.7M74.9 657.8L76.3 657.8M74.9 659.7L76.3 659.7M75.5 665.5L75.5 667.4M75.5 665.5L76.3 665.5M75.5 667.4L76.3 667.4M75.2 663.6L75.2 666.4M75.2 663.6L76.3 663.6M75.2 666.4L75.5 666.4M74.9 661.6L74.9 665.0M74.9 661.6L76.3 661.6M74.9 665.0L75.2 665.0M74.5 663.3L74.5 669.3M74.5 663.3L74.9 663.3M74.5 669.3L76.3 669.3M74.2 658.8L74.2 666.3M74.2 658.8L74.9 658.8M74.2 666.3L74.5 666.3M75.4 671.2L75.4 673.2M75.4 671.2L76.3 671.2M75.4 673.2L76.3 673.2M75.0 675.1L75.0 677.0M75.0 675.1L76.3 675.1M75.0 677.0L76.3 677.0M74.7 672.2L74.7 676.0M74.7 672.2L75.4 672.2M74.7 676.0L75.0 676.0M73.5 662.5L73.5 674.1M73.5 662.5L74.2 662.5M73.5 674.1L74.7 674.1M72.8 651.8L72.8 668.3M72.8 651.8L74.2 651.8M72.8 668.3L73.5 668.3M68.9 613.5L68.9 660.1M68.9 613.5L70.8 613.5M68.9 660.1L72.8 660.1M75.5 680.8L75.5 682.8M75.5 680.8L76.3 680.8M75.5 682.8L76.3 682.8M74.6 678.9L74.6 681.8M74.6 678.9L76.3 678.9M74.6 681.8L75.5 681.8M75.5 686.6L75.5 688.5M75.5 686.6L76.3 686.6M75.5 688.5L76.3 688.5M75.2 684.7L75.2 687.6M75.2 684.7L76.3 684.7M75.2 687.6L75.5 687.6M74.3 680.4L74.3 686.1M74.3 680.4L74.6 680.4M74.3 686.1L75.2 686.1M74.9 692.4L74.9 694.3M74.9 692.4L76.3 692.4M74.9 694.3L76.3 694.3M74.6 690.4L74.6 693.3M74.6 690.4L76.3 690.4M74.6 693.3L74.9 693.3M75.6 696.2L75.6 698.1M75.6 696.2L76.3 696.2M75.6 698.1L76.3 698.1M74.3 691.9L74.3 697.2M74.3 691.9L74.6 691.9M74.3 697.2L75.6 697.2M73.3 683.2L73.3 694.5M73.3 683.2L74.3 683.2M73.3 694.5L74.3 694.5M75.3 700.0L75.3 702.0M75.3 700.0L76.3 700.0M75.3 702.0L76.3 702.0M75.0 701.0L75.0 703.9M75.0 701.0L75.3 701.0M75.0 703.9L76.3 703.9M74.5 702.4L74.5 705.8M74.5 702.4L75.0 702.4M74.5 705.8L76.3 705.8M74.2 704.1L74.2 707.7M74.2 704.1L74.5 704.1M74.2 707.7L76.3 707.7M72.6 688.9L72.6 705.9M72.6 688.9L73.3 688.9M72.6 705.9L74.2 705.9M75.4 711.6L75.4 713.5M75.4 711.6L76.3 711.6M75.4 713.5L76.3 713.5M75.1 709.6L75.1 712.5M75.1 709.6L76.3 709.6M75.1 712.5L75.4 712.5M75.1 715.4L75.1 717.3M75.1 715.4L76.3 715.4M75.1 717.3L76.3 717.3M75.3 719.2L75.3 721.2M75.3 719.2L76.3 719.2M75.3 721.2L76.3 721.2M75.0 720.2L75.0 723.1M75.0 720.2L75.3 720.2M75.0 723.1L76.3 723.1M74.7 716.4L74.7 721.6M74.7 716.4L75.1 716.4M74.7 721.6L75.0 721.6M75.2 726.9L75.2 728.8M75.2 726.9L76.3 726.9M75.2 728.8L76.3 728.8M74.9 727.9L74.9 730.8M74.9 727.9L75.2 727.9M74.9 730.8L76.3 730.8M74.5 725.0L74.5 729.3M74.5 725.0L76.3 725.0M74.5 729.3L74.9 729.3M73.9 719.0L73.9 727.2M73.9 719.0L74.7 719.0M73.9 727.2L74.5 727.2M73.6 711.1L73.6 723.1M73.6 711.1L75.1 711.1M73.6 723.1L73.9 723.1M73.3 717.1L73.3 732.7M73.3 717.1L73.6 717.1M73.3 732.7L76.3 732.7M70.4 697.4L70.4 724.9M70.4 697.4L72.6 697.4M70.4 724.9L73.3 724.9M74.9 738.4L74.9 740.4M74.9 738.4L76.3 738.4M74.9 740.4L76.3 740.4M74.6 736.5L74.6 739.4M74.6 736.5L76.3 736.5M74.6 739.4L74.9 739.4M74.9 742.3L74.9 744.2M74.9 742.3L76.3 742.3M74.9 744.2L76.3 744.2M74.3 738.0L74.3 743.2M74.3 738.0L74.6 738.0M74.3 743.2L74.9 743.2M75.0 748.0L75.0 750.0M75.0 748.0L76.3 748.0M75.0 750.0L76.3 750.0M74.7 746.1L74.7 749.0M74.7 746.1L76.3 746.1M74.7 749.0L75.0 749.0M74.0 740.6L74.0 747.6M74.0 740.6L74.3 740.6M74.0 747.6L74.7 747.6M73.7 734.6L73.7 744.1M73.7 734.6L76.3 734.6M73.7 744.1L74.0 744.1M75.6 753.8L75.6 755.7M75.6 753.8L76.3 753.8M75.6 755.7L76.3 755.7M75.2 751.9L75.2 754.8M75.2 751.9L76.3 751.9M75.2 754.8L75.6 754.8M74.9 753.3L74.9 757.6M74.9 753.3L75.2 753.3M74.9 757.6L76.3 757.6M75.1 761.5L75.1 763.4M75.1 761.5L76.3 761.5M75.1 763.4L76.3 763.4M74.8 759.6L74.8 762.4M74.8 759.6L76.3 759.6M74.8 762.4L75.1 762.4M74.5 761.0L74.5 765.3M74.5 761.0L74.8 761.0M74.5 765.3L76.3 765.3M74.2 755.5L74.2 763.2M74.2 755.5L74.9 755.5M74.2 763.2L74.5 763.2M75.5 769.2L75.5 771.1M75.5 769.2L76.3 769.2M75.5 771.1L76.3 771.1M75.1 767.2L75.1 770.1M75.1 767.2L76.3 767.2M75.1 770.1L75.5 770.1M75.6 774.9L75.6 776.8M75.6 774.9L76.3 774.9M75.6 776.8L76.3 776.8M75.3 773.0L75.3 775.9M75.3 773.0L76.3 773.0M75.3 775.9L75.6 775.9M74.2 768.7L74.2 774.4M74.2 768.7L75.1 768.7M74.2 774.4L75.3 774.4M72.8 759.3L72.8 771.6M72.8 759.3L74.2 759.3M72.8 771.6L74.2 771.6M75.5 778.8L75.5 780.7M75.5 778.8L76.3 778.8M75.5 780.7L76.3 780.7M74.9 784.5L74.9 786.4M74.9 784.5L76.3 784.5M74.9 786.4L76.3 786.4M74.6 782.6L74.6 785.5M74.6 782.6L76.3 782.6M74.6 785.5L74.9 785.5M74.3 779.7L74.3 784.0M74.3 779.7L75.5 779.7M74.3 784.0L74.6 784.0M72.2 765.4L72.2 781.9M72.2 765.4L72.8 765.4M72.2 781.9L74.3 781.9M71.1 739.3L71.1 773.7M71.1 739.3L73.7 739.3M71.1 773.7L72.2 773.7M67.2 711.1L67.2 756.5M67.2 711.1L70.4 711.1M67.2 756.5L71.1 756.5M62.0 636.8L62.0 733.8M62.0 636.8L68.9 636.8M62.0 733.8L67.2 733.8" stroke="#151515" stroke-width="0.7" fill="none"/>
<path d="M196.7 596.4L196.7 598.3M196.7 596.4L198.0 596.4M196.7 598.3L198.0 598.3M196.8 604.0L196.8 606.0M196.8 604.0L198.0 604.0M196.8 606.0L198.0 606.0M196.5 602.1L196.5 605.0M196.5 602.1L198.0 602.1M196.5 605.0L196.8 605.0M196.2 600.2L196.2 603.6M196.2 600.2L198.0 600.2M196.2 603.6L196.5 603.6M195.9 601.9L195.9 607.9M195.9 601.9L196.2 601.9M195.9 607.9L198.0 607.9M196.9 609.8L196.9 611.7M196.9 609.8L198.0 609.8M196.9 611.7L198.0 611.7M196.6 610.8L196.6 613.6M196.6 610.8L196.9 610.8M196.6 613.6L198.0 613.6M195.4 604.9L195.4 612.2M195.4 604.9L195.9 604.9M195.4 612.2L196.6 612.2M195.1 608.5L195.1 615.6M195.1 608.5L195.4 608.5M195.1 615.6L198.0 615.6M194.8 597.3L194.8 612.0M194.8 597.3L196.7 597.3M194.8 612.0L195.1 612.0M196.6 619.4L196.6 621.3M196.6 619.4L198.0 619.4M196.6 621.3L198.0 621.3M196.3 617.5L196.3 620.4M196.3 617.5L198.0 617.5M196.3 620.4L196.6 620.4M196.0 618.9L196.0 623.2M196.0 618.9L196.3 618.9M196.0 623.2L198.0 623.2M195.7 621.1L195.7 625.2M195.7 621.1L196.0 621.1M195.7 625.2L198.0 625.2M197.2 629.0L197.2 630.9M197.2 629.0L198.0 629.0M197.2 630.9L198.0 630.9M196.4 627.1L196.4 630.0M196.4 627.1L198.0 627.1M196.4 630.0L197.2 630.0M195.4 623.1L195.4 628.5M195.4 623.1L195.7 623.1M195.4 628.5L196.4 628.5M196.8 632.8L196.8 634.8M196.8 632.8L198.0 632.8M196.8 634.8L198.0 634.8M196.5 633.8L196.5 636.7M196.5 633.8L196.8 633.8M196.5 636.7L198.0 636.7M195.1 625.8L195.1 635.2M195.1 625.8L195.4 625.8M195.1 635.2L196.5 635.2M193.2 604.7L193.2 630.5M193.2 604.7L194.8 604.7M193.2 630.5L195.1 630.5M196.6 642.4L196.6 644.4M196.6 642.4L198.0 642.4M196.6 644.4L198.0 644.4M196.3 640.5L196.3 643.4M196.3 640.5L198.0 640.5M196.3 643.4L196.6 643.4M196.0 638.6L196.0 642.0M196.0 638.6L198.0 638.6M196.0 642.0L196.3 642.0M195.7 640.3L195.7 646.3M195.7 640.3L196.0 640.3M195.7 646.3L198.0 646.3M195.4 643.3L195.4 648.2M195.4 643.3L195.7 643.3M195.4 648.2L198.0 648.2M197.1 650.1L197.1 652.0M197.1 650.1L198.0 650.1M197.1 652.0L198.0 652.0M197.1 659.7L197.1 661.6M197.1 659.7L198.0 659.7M197.1 661.6L198.0 661.6M196.8 657.8L196.8 660.7M196.8 657.8L198.0 657.8M196.8 660.7L197.1 660.7M196.5 659.2L196.5 663.6M196.5 659.2L196.8 659.2M196.5 663.6L198.0 663.6M196.2 655.9L196.2 661.4M196.2 655.9L198.0 655.9M196.2 661.4L196.5 661.4M195.9 654.0L195.9 658.6M195.9 654.0L198.0 654.0M195.9 658.6L196.2 658.6M195.4 651.1L195.4 656.3M195.4 651.1L197.1 651.1M195.4 656.3L195.9 656.3M197.2 665.5L197.2 667.4M197.2 665.5L198.0 665.5M197.2 667.4L198.0 667.4M196.6 669.3L196.6 671.2M196.6 669.3L198.0 669.3M196.6 671.2L198.0 671.2M196.3 670.3L196.3 673.2M196.3 670.3L196.6 670.3M196.3 673.2L198.0 673.2M196.0 666.4L196.0 671.7M196.0 666.4L197.2 666.4M196.0 671.7L196.3 671.7M194.9 653.7L194.9 669.1M194.9 653.7L195.4 653.7M194.9 669.1L196.0 669.1M197.1 680.8L197.1 682.8M197.1 680.8L198.0 680.8M197.1 682.8L198.0 682.8M196.4 678.9L196.4 681.8M196.4 678.9L198.0 678.9M196.4 681.8L197.1 681.8M196.1 677.0L196.1 680.4M196.1 677.0L198.0 677.0M196.1 680.4L196.4 680.4M195.8 675.1L195.8 678.7M195.8 675.1L198.0 675.1M195.8 678.7L196.1 678.7M193.9 661.4L193.9 676.9M193.9 661.4L194.9 661.4M193.9 676.9L195.8 676.9M193.0 645.7L193.0 669.1M193.0 645.7L195.4 645.7M193.0 669.1L193.9 669.1M189.7 617.6L189.7 657.4M189.7 617.6L193.2 617.6M189.7 657.4L193.0 657.4M196.5 684.7L196.5 686.6M196.5 684.7L198.0 684.7M196.5 686.6L198.0 686.6M197.1 688.5L197.1 690.4M197.1 688.5L198.0 688.5M197.1 690.4L198.0 690.4M197.2 694.3L197.2 696.2M197.2 694.3L198.0 694.3M197.2 696.2L198.0 696.2M196.7 695.2L196.7 698.1M196.7 695.2L197.2 695.2M196.7 698.1L198.0 698.1M196.2 696.7L196.2 700.0M196.2 696.7L196.7 696.7M196.2 700.0L198.0 700.0M195.9 692.4L195.9 698.4M195.9 692.4L198.0 692.4M195.9 698.4L196.2 698.4M196.9 702.0L196.9 703.9M196.9 702.0L198.0 702.0M196.9 703.9L198.0 703.9M197.1 705.8L197.1 707.7M197.1 705.8L198.0 705.8M197.1 707.7L198.0 707.7M196.8 706.8L196.8 709.6M196.8 706.8L197.1 706.8M196.8 709.6L198.0 709.6M196.4 702.9L196.4 708.2M196.4 702.9L196.9 702.9M196.4 708.2L196.8 708.2M195.5 695.4L195.5 705.6M195.5 695.4L195.9 695.4M195.5 705.6L196.4 705.6M194.7 689.5L194.7 700.5M194.7 689.5L197.1 689.5M194.7 700.5L195.5 700.5M194.4 685.6L194.4 695.0M194.4 685.6L196.5 685.6M194.4 695.0L194.7 695.0M188.4 637.5L188.4 690.3M188.4 637.5L189.7 637.5M188.4 690.3L194.4 690.3M196.7 711.6L196.7 713.5M196.7 711.6L198.0 711.6M196.7 713.5L198.0 713.5M197.1 715.4L197.1 717.3M197.1 715.4L198.0 715.4M197.1 717.3L198.0 717.3M196.8 719.2L196.8 721.2M196.8 719.2L198.0 719.2M196.8 721.2L198.0 721.2M197.0 723.1L197.0 725.0M197.0 723.1L198.0 723.1M197.0 725.0L198.0 725.0M196.6 724.0L196.6 726.9M196.6 724.0L197.0 724.0M196.6 726.9L198.0 726.9M196.2 725.5L196.2 728.8M196.2 725.5L196.6 725.5M196.2 728.8L198.0 728.8M195.9 720.2L195.9 727.2M195.9 720.2L196.8 720.2M195.9 727.2L196.2 727.2M196.5 730.8L196.5 732.7M196.5 730.8L198.0 730.8M196.5 732.7L198.0 732.7M196.2 731.7L196.2 734.6M196.2 731.7L196.5 731.7M196.2 734.6L198.0 734.6M195.3 723.7L195.3 733.2M195.3 723.7L195.9 723.7M195.3 733.2L196.2 733.2M195.0 716.4L195.0 728.4M195.0 716.4L197.1 716.4M195.0 728.4L195.3 728.4M194.7 712.5L194.7 722.4M194.7 712.5L196.7 712.5M194.7 722.4L195.0 722.4M196.9 742.3L196.9 744.2M196.9 742.3L198.0 742.3M196.9 744.2L198.0 744.2M197.2 748.0L197.2 750.0M197.2 748.0L198.0 748.0M197.2 750.0L198.0 750.0M196.6 749.0L196.6 751.9M196.6 749.0L197.2 749.0M196.6 751.9L198.0 751.9M196.1 746.1L196.1 750.4M196.1 746.1L198.0 746.1M196.1 750.4L196.6 750.4M195.7 743.2L195.7 748.3M195.7 743.2L196.9 743.2M195.7 748.3L196.1 748.3M196.8 753.8L196.8 755.7M196.8 753.8L198.0 753.8M196.8 755.7L198.0 755.7M197.1 759.6L197.1 761.5M197.1 759.6L198.0 759.6M197.1 761.5L198.0 761.5M196.3 757.6L196.3 760.5M196.3 757.6L198.0 757.6M196.3 760.5L197.1 760.5M195.9 754.8L195.9 759.1M195.9 754.8L196.8 754.8M195.9 759.1L196.3 759.1M195.2 745.8L195.2 756.9M195.2 745.8L195.7 745.8M195.2 756.9L195.9 756.9M197.2 763.4L197.2 765.3M197.2 763.4L198.0 763.4M197.2 765.3L198.0 765.3M194.5 751.3L194.5 764.4M194.5 751.3L195.2 751.3M194.5 764.4L197.2 764.4M194.2 740.4L194.2 757.8M194.2 740.4L198.0 740.4M194.2 757.8L194.5 757.8M196.9 767.2L196.9 769.2M196.9 767.2L198.0 767.2M196.9 769.2L198.0 769.2M193.9 749.1L193.9 768.2M193.9 749.1L194.2 749.1M193.9 768.2L196.9 768.2M193.6 738.4L193.6 758.7M193.6 738.4L198.0 738.4M193.6 758.7L193.9 758.7M193.3 736.5L193.3 748.5M193.3 736.5L198.0 736.5M193.3 748.5L193.6 748.5M196.8 773.0L196.8 774.9M196.8 773.0L198.0 773.0M196.8 774.9L198.0 774.9M196.7 780.7L196.7 782.6M196.7 780.7L198.0 780.7M196.7 782.6L198.0 782.6M196.4 778.8L196.4 781.6M196.4 778.8L198.0 778.8M196.4 781.6L196.7 781.6M196.1 776.8L196.1 780.2M196.1 776.8L198.0 776.8M196.1 780.2L196.4 780.2M195.8 774.0L195.8 778.5M195.8 774.0L196.8 774.0M195.8 778.5L196.1 778.5M197.1 784.5L197.1 786.4M197.1 784.5L198.0 784.5M197.1 786.4L198.0 786.4M195.4 776.2L195.4 785.5M195.4 776.2L195.8 776.2M195.4 785.5L197.1 785.5M195.1 771.1L195.1 780.9M195.1 771.1L198.0 771.1M195.1 780.9L195.4 780.9M192.8 742.5L192.8 776.0M192.8 742.5L193.3 742.5M192.8 776.0L195.1 776.0M190.8 717.5L190.8 759.3M190.8 717.5L194.7 717.5M190.8 759.3L192.8 759.3M184.1 663.9L184.1 738.4M184.1 663.9L188.4 663.9M184.1 738.4L190.8 738.4" stroke="#151515" stroke-width="0.7" fill="none"/>
<text x="115.2" y="583.6" font-size="17.3" stroke="#1a1a1a" textLength="24.2" lengthAdjust="spacingAndGlyphs">Inh</text>
<text x="239.7" y="581.5" font-size="17.59" stroke="#1a1a1a" textLength="29.3" lengthAdjust="spacingAndGlyphs">Exc</text>
<rect x="8.0" y="626.1" width="12.9" height="12.8" fill="#c18fcb"/>
<rect x="8.0" y="639.6" width="12.9" height="12.9" fill="#5ab3d9"/>
<text x="24.4" y="636.0" font-size="10.17" stroke="#1a1a1a" textLength="37.1" lengthAdjust="spacingAndGlyphs">FXTAS</text>
<text x="25.3" y="649.8" font-size="10.76" stroke="#1a1a1a" textLength="17.0" lengthAdjust="spacingAndGlyphs">WT</text>
<text x="7.2" y="676.4" font-size="11.63" stroke="#1a1a1a" textLength="40.5" lengthAdjust="spacingAndGlyphs">Z-score</text>
<defs><linearGradient id="zg" x1="0" y1="0" x2="0" y2="1"><stop offset="0" stop-color="#e03328"/><stop offset="0.15" stop-color="#e23a2c"/><stop offset="0.3" stop-color="#ea8070"/><stop offset="0.5" stop-color="#f2eff2"/><stop offset="0.6" stop-color="#c8b8e0"/><stop offset="0.75" stop-color="#7e6cc0"/><stop offset="0.88" stop-color="#4e55b0"/><stop offset="1" stop-color="#4453ad"/></linearGradient></defs>
<rect x="8.9" y="682.7" width="13.3" height="83.0" fill="url(#zg)"/>
<line x1="18.9" y1="686.0" x2="22.2" y2="686.0" stroke="#ffffff" stroke-width="0.8"/>
<line x1="18.9" y1="705.0" x2="22.2" y2="705.0" stroke="#ffffff" stroke-width="0.8"/>
<line x1="18.9" y1="723.9" x2="22.2" y2="723.9" stroke="#ffffff" stroke-width="0.8"/>
<line x1="18.9" y1="743.0" x2="22.2" y2="743.0" stroke="#ffffff" stroke-width="0.8"/>
<line x1="18.9" y1="762.5" x2="22.2" y2="762.5" stroke="#ffffff" stroke-width="0.8"/>
<text x="24.2" y="690.5" font-size="10.76" stroke="#1a1a1a" textLength="7.6" lengthAdjust="spacingAndGlyphs">2</text>
<text x="24.1" y="709.7" font-size="12.5" stroke="#1a1a1a" textLength="7.7" lengthAdjust="spacingAndGlyphs">1</text>
<text x="24.4" y="728.8" font-size="12.18" stroke="#1a1a1a" textLength="7.2" lengthAdjust="spacingAndGlyphs">0</text>
<text x="25.2" y="747.7" font-size="12.06" stroke="#1a1a1a" textLength="10.7" lengthAdjust="spacingAndGlyphs">−1</text>
<text x="25.1" y="766.7" font-size="12.21" stroke="#1a1a1a" textLength="13.3" lengthAdjust="spacingAndGlyphs">−2</text>
<text x="331.1" y="583.6" font-size="21.66" font-weight="bold" textLength="6.8" lengthAdjust="spacingAndGlyphs">f</text>
<rect x="557.3" y="574.9" width="68.5" height="21.4" fill="#ebebeb" stroke="#333" stroke-width="1.1"/>
<text x="561.5" y="588.9" font-size="10.03" stroke="#1a1a1a" textLength="61.2" lengthAdjust="spacingAndGlyphs">Top 200 DEGs</text>
<rect x="557.8" y="596.3" width="67.9" height="179.1" fill="#ebebeb"/>
<line x1="574.6" y1="596.3" x2="574.6" y2="775.4" stroke="#ffffff" stroke-width="1.1"/>
<line x1="608.6" y1="596.3" x2="608.6" y2="775.4" stroke="#ffffff" stroke-width="1.1"/>
<line x1="557.8" y1="603.2" x2="625.7" y2="603.2" stroke="#ffffff" stroke-width="1.1"/>
<line x1="557.8" y1="617.0" x2="625.7" y2="617.0" stroke="#ffffff" stroke-width="1.1"/>
<line x1="557.8" y1="630.8" x2="625.7" y2="630.8" stroke="#ffffff" stroke-width="1.1"/>
<line x1="557.8" y1="644.5" x2="625.7" y2="644.5" stroke="#ffffff" stroke-width="1.1"/>
<line x1="557.8" y1="658.3" x2="625.7" y2="658.3" stroke="#ffffff" stroke-width="1.1"/>
<line x1="557.8" y1="672.1" x2="625.7" y2="672.1" stroke="#ffffff" stroke-width="1.1"/>
<line x1="557.8" y1="685.9" x2="625.7" y2="685.9" stroke="#ffffff" stroke-width="1.1"/>
<line x1="557.8" y1="699.7" x2="625.7" y2="699.7" stroke="#ffffff" stroke-width="1.1"/>
<line x1="557.8" y1="713.4" x2="625.7" y2="713.4" stroke="#ffffff" stroke-width="1.1"/>
<line x1="557.8" y1="727.2" x2="625.7" y2="727.2" stroke="#ffffff" stroke-width="1.1"/>
<line x1="557.8" y1="741.0" x2="625.7" y2="741.0" stroke="#ffffff" stroke-width="1.1"/>
<line x1="557.8" y1="754.8" x2="625.7" y2="754.8" stroke="#ffffff" stroke-width="1.1"/>
<line x1="557.8" y1="768.6" x2="625.7" y2="768.6" stroke="#ffffff" stroke-width="1.1"/>
<circle cx="574.6" cy="603.2" r="2.8" fill="#a6cee3"/>
<line x1="553.3" y1="603.2" x2="557.6" y2="603.2" stroke="#333" stroke-width="1"/>
<text x="550.2" y="607.7" font-size="11.5" text-anchor="end" stroke="#1a1a1a">Axonogenesis</text>
<circle cx="574.6" cy="617.0" r="3.4" fill="#3a7ab8"/>
<line x1="553.3" y1="617.0" x2="557.6" y2="617.0" stroke="#333" stroke-width="1"/>
<text x="550.2" y="621.5" font-size="11.5" text-anchor="end" stroke="#1a1a1a">Locomotory behavior</text>
<circle cx="574.6" cy="630.8" r="2.6" fill="#b2df8a"/>
<line x1="553.3" y1="630.8" x2="557.6" y2="630.8" stroke="#333" stroke-width="1"/>
<text x="550.2" y="635.3" font-size="11.5" text-anchor="end" stroke="#1a1a1a">Neuromuscular process controlling balance</text>
<circle cx="574.6" cy="644.5" r="2.6" fill="#33a02c"/>
<line x1="553.3" y1="644.5" x2="557.6" y2="644.5" stroke="#333" stroke-width="1"/>
<text x="550.2" y="649.0" font-size="11.5" text-anchor="end" stroke="#1a1a1a">Positive regulation of synapse assembly</text>
<circle cx="608.6" cy="658.3" r="2.7" fill="#f09a9a"/>
<line x1="553.3" y1="658.3" x2="557.6" y2="658.3" stroke="#333" stroke-width="1"/>
<text x="550.2" y="662.8" font-size="11.5" text-anchor="end" stroke="#1a1a1a">Social behavior</text>
<circle cx="574.6" cy="672.1" r="3.4" fill="#e31a1c"/>
<circle cx="608.6" cy="672.1" r="2.9" fill="#e31a1c"/>
<line x1="553.3" y1="672.1" x2="557.6" y2="672.1" stroke="#333" stroke-width="1"/>
<text x="550.2" y="676.6" font-size="11.5" text-anchor="end" stroke="#1a1a1a">Learning or memory</text>
<circle cx="574.6" cy="685.9" r="2.6" fill="#e9b360"/>
<circle cx="608.6" cy="685.9" r="2.8" fill="#e9b360"/>
<line x1="553.3" y1="685.9" x2="557.6" y2="685.9" stroke="#333" stroke-width="1"/>
<text x="550.2" y="690.4" font-size="11.5" text-anchor="end" stroke="#1a1a1a">Synapse organization</text>
<circle cx="574.6" cy="699.7" r="3.9" fill="#e8782a"/>
<circle cx="608.6" cy="699.7" r="3.6" fill="#e8782a"/>
<line x1="553.3" y1="699.7" x2="557.6" y2="699.7" stroke="#333" stroke-width="1"/>
<text x="550.2" y="704.2" font-size="11.5" text-anchor="end" stroke="#1a1a1a">Axon guidance</text>
<circle cx="574.6" cy="713.4" r="2.0" fill="#c8a8d8"/>
<circle cx="608.6" cy="713.4" r="4.6" fill="#c8a8d8"/>
<line x1="553.3" y1="713.4" x2="557.6" y2="713.4" stroke="#333" stroke-width="1"/>
<text x="550.2" y="717.9" font-size="11.5" text-anchor="end" stroke="#1a1a1a">Protein localization to plasma membrane</text>
<circle cx="574.6" cy="727.2" r="6.0" fill="#6a3d9a"/>
<circle cx="608.6" cy="727.2" r="4.8" fill="#6a3d9a"/>
<line x1="553.3" y1="727.2" x2="557.6" y2="727.2" stroke="#333" stroke-width="1"/>
<text x="550.2" y="731.7" font-size="11.5" text-anchor="end" stroke="#1a1a1a">Nervous system development</text>
<circle cx="574.6" cy="741.0" r="3.4" fill="#eef08c"/>
<circle cx="608.6" cy="741.0" r="5.5" fill="#eef08c"/>
<line x1="553.3" y1="741.0" x2="557.6" y2="741.0" stroke="#333" stroke-width="1"/>
<text x="550.2" y="745.5" font-size="11.5" text-anchor="end" stroke="#1a1a1a">Modulation of synaptic transmission</text>
<circle cx="574.6" cy="754.8" r="4.8" fill="#b15928"/>
<circle cx="608.6" cy="754.8" r="5.8" fill="#b15928"/>
<line x1="553.3" y1="754.8" x2="557.6" y2="754.8" stroke="#333" stroke-width="1"/>
<text x="550.2" y="759.3" font-size="11.5" text-anchor="end" stroke="#1a1a1a">Ion transport</text>
<circle cx="574.6" cy="768.6" r="5.6" fill="#a6cfe0"/>
<circle cx="608.6" cy="768.6" r="6.5" fill="#a6cfe0"/>
<line x1="553.3" y1="768.6" x2="557.6" y2="768.6" stroke="#333" stroke-width="1"/>
<text x="550.2" y="773.1" font-size="11.5" text-anchor="end" stroke="#1a1a1a">Protein phosphorylation</text>
<line x1="574.6" y1="775.4" x2="574.6" y2="779.2" stroke="#333" stroke-width="1"/>
<line x1="608.6" y1="775.4" x2="608.6" y2="779.2" stroke="#333" stroke-width="1"/>
<text x="566.7" y="793.4" font-size="10.9" stroke="#1a1a1a" textLength="15.5" lengthAdjust="spacingAndGlyphs">Inh</text>
<text x="599.2" y="793.4" font-size="10.9" stroke="#1a1a1a" textLength="19.0" lengthAdjust="spacingAndGlyphs">Exc</text>
<text x="629.7" y="604.8" font-size="8.28" stroke="#1a1a1a" textLength="43.5" lengthAdjust="spacingAndGlyphs"># of DEGs</text>
<rect x="628.9" y="609.2" width="18" height="41.6" rx="3" fill="#ebebeb"/>
<circle cx="638.1" cy="614.9" r="2.9" fill="#636363"/>
<circle cx="638.1" cy="626.3" r="4.2" fill="#636363"/>
<circle cx="638.1" cy="641.0" r="6.0" fill="#636363"/>
<text x="651.7" y="617.6" font-size="8.45" stroke="#1a1a1a" textLength="4.4" lengthAdjust="spacingAndGlyphs">6</text>
<text x="651.9" y="628.9" font-size="8.31" stroke="#1a1a1a" textLength="10.1" lengthAdjust="spacingAndGlyphs">12</text>
<text x="651.9" y="643.4" font-size="8.45" stroke="#1a1a1a" textLength="9.9" lengthAdjust="spacingAndGlyphs">18</text></svg></body></html>
